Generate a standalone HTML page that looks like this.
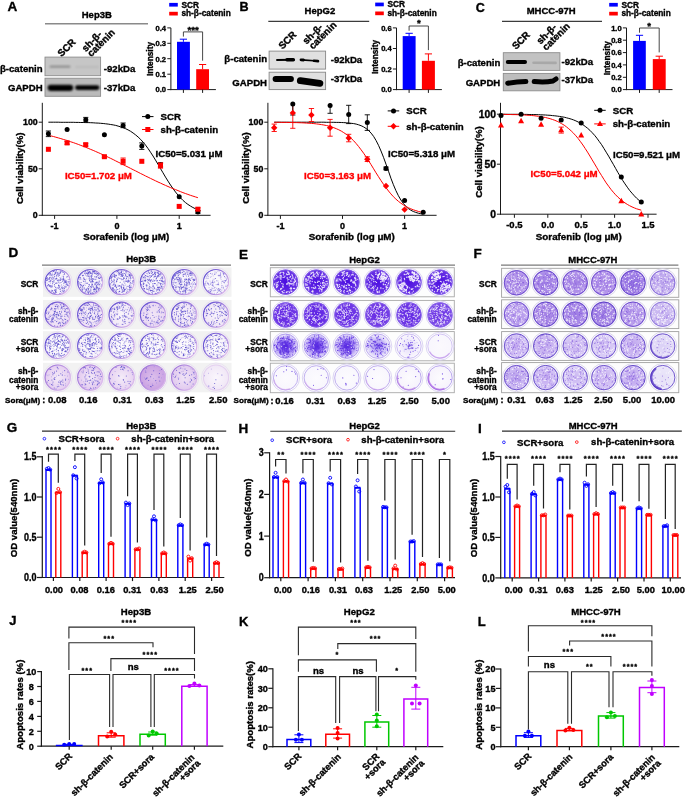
<!DOCTYPE html><html><head><meta charset="utf-8"><style>html,body{margin:0;padding:0;background:#fff;}svg{display:block;will-change:transform;}</style></head><body><svg width="685" height="797" viewBox="0 0 685 797" font-family="&quot;Liberation Sans&quot;, sans-serif" font-weight="bold">
<style>text{stroke:#000;stroke-width:0.35px;}</style>
<defs><filter id="bl" filterUnits="userSpaceOnUse" x="0" y="0" width="685" height="797"><feGaussianBlur stdDeviation="0.8"/></filter><linearGradient id="rgD" x1="0" x2="1" y1="0.2" y2="0.8"><stop offset="0" stop-color="#5a48d0"/><stop offset="0.5" stop-color="#9a78dc"/><stop offset="1" stop-color="#e4c0ee"/></linearGradient><linearGradient id="rgD4" x1="0" x2="1" y1="0.2" y2="0.8"><stop offset="0" stop-color="#9a70d8"/><stop offset="1" stop-color="#e0c0ee"/></linearGradient><linearGradient id="blotbg" x1="0" y1="0" x2="0" y2="1"><stop offset="0" stop-color="#d6d6d6"/><stop offset="1" stop-color="#e0e0e0"/></linearGradient></defs>
<rect x="0" y="0" width="685" height="797" fill="#fff"/>
<text x="7.4" y="10.9" font-size="13.5" stroke-width="0.15">A</text>
<text x="96.8" y="17.6" font-size="9.5" text-anchor="middle">Hep3B</text>
<line x1="45" y1="23.8" x2="148" y2="23.8" stroke="#8a8a8a" stroke-width="1.5"/>
<rect x="45" y="57.1" width="55.6" height="18.6" fill="#c6c6c6" stroke="#8c8c8c" stroke-width="0.9"/>
<path d="M50.5 66.7L69.5 66.7" stroke="#000" stroke-width="1.8" stroke-linecap="round" fill="none" opacity="0.35" filter="url(#bl)"/>
<path d="M76 67L98 67" stroke="#000" stroke-width="1.5" stroke-linecap="round" fill="none" opacity="0.08" filter="url(#bl)"/>
<rect x="45" y="78.2" width="55.6" height="18.1" fill="#bababa" stroke="#8c8c8c" stroke-width="0.9"/>
<path d="M50.7 87.8L70.1 87.8" stroke="#000" stroke-width="6.2" stroke-linecap="round" fill="none" opacity="1" filter="url(#bl)"/>
<path d="M77.5 87.6L97 87.6" stroke="#000" stroke-width="4.8" stroke-linecap="round" fill="none" opacity="1" filter="url(#bl)"/>
<text x="42.6" y="71.5" font-size="9.6" text-anchor="end">β-catenin</text>
<text x="42.6" y="90.7" font-size="9.6" text-anchor="end">GAPDH</text>
<text x="103.8" y="71.8" font-size="9.6">-92kDa</text>
<text x="103.8" y="90.7" font-size="9.6">-37kDa</text>
<text x="61.6" y="57.3" font-size="9.8" transform="rotate(-45 61.6 57.3)">SCR</text>
<text x="85.7" y="52.2" font-size="9.8" transform="rotate(-45 85.7 52.2)">sh-β-</text>
<text x="91.3" y="57.3" font-size="9.8" transform="rotate(-45 91.3 57.3)">catenin</text>
<rect x="169.2" y="2.9" width="8.6" height="3.7" fill="#0000ff"/>
<text x="181.4" y="7.5" font-size="8.3">SCR</text>
<rect x="169.2" y="11.8" width="8.6" height="3.7" fill="#ff0000"/>
<text x="181.4" y="16.4" font-size="8.3">sh-β-catenin</text>
<line x1="170.9" y1="27.9" x2="170.9" y2="90.1" stroke="#1a1a1a" stroke-width="1"/>
<line x1="170.4" y1="89.6" x2="215.9" y2="89.6" stroke="#1a1a1a" stroke-width="1"/>
<line x1="167.3" y1="89.6" x2="170.9" y2="89.6" stroke="#1a1a1a" stroke-width="1"/>
<text x="166.1" y="92.4" font-size="7.6" text-anchor="end">0.0</text>
<line x1="167.3" y1="74.2" x2="170.9" y2="74.2" stroke="#1a1a1a" stroke-width="1"/>
<text x="166.1" y="77" font-size="7.6" text-anchor="end">0.1</text>
<line x1="167.3" y1="58.7" x2="170.9" y2="58.7" stroke="#1a1a1a" stroke-width="1"/>
<text x="166.1" y="61.5" font-size="7.6" text-anchor="end">0.2</text>
<line x1="167.3" y1="43.3" x2="170.9" y2="43.3" stroke="#1a1a1a" stroke-width="1"/>
<text x="166.1" y="46.1" font-size="7.6" text-anchor="end">0.3</text>
<line x1="167.3" y1="27.9" x2="170.9" y2="27.9" stroke="#1a1a1a" stroke-width="1"/>
<text x="166.1" y="30.7" font-size="7.6" text-anchor="end">0.4</text>
<text x="152.5" y="59" font-size="8.3" text-anchor="middle" transform="rotate(-90 152.5 59)">Intensity</text>
<rect x="177" y="41.8" width="12.9" height="47.8" fill="#0000ff"/>
<line x1="183.4" y1="39.2" x2="183.4" y2="41.8" stroke="#0000ff" stroke-width="1"/>
<line x1="179.8" y1="39.2" x2="187" y2="39.2" stroke="#0000ff" stroke-width="1"/>
<line x1="183.4" y1="89.6" x2="183.4" y2="92.9" stroke="#1a1a1a" stroke-width="1"/>
<rect x="196.2" y="69.2" width="12.8" height="20.4" fill="#ff0000"/>
<line x1="202.6" y1="64.5" x2="202.6" y2="69.2" stroke="#ff0000" stroke-width="1"/>
<line x1="199" y1="64.5" x2="206.2" y2="64.5" stroke="#ff0000" stroke-width="1"/>
<line x1="202.6" y1="89.6" x2="202.6" y2="92.9" stroke="#1a1a1a" stroke-width="1"/>
<path d="M183.4 36.6 L183.4 31.9 L202.6 31.9 L202.6 60.7" stroke="#333" stroke-width="0.9" fill="none"/>
<text x="193.2" y="32.9" font-size="9.7" text-anchor="middle">***</text>
<text x="239.6" y="11.4" font-size="12.6" stroke-width="0.15">B</text>
<text x="319.9" y="13.8" font-size="9.5" text-anchor="middle">HepG2</text>
<line x1="268.3" y1="21.4" x2="369.2" y2="21.4" stroke="#3c3c3c" stroke-width="1.1"/>
<rect x="269.1" y="51.1" width="56.5" height="18" fill="#e0e0e0" stroke="#888" stroke-width="0.9"/>
<path d="M277 60L293.5 59.7" stroke="#000" stroke-width="1.9" stroke-linecap="round" fill="none" opacity="1"/>
<path d="M287 59.8L293.3 59.7" stroke="#000" stroke-width="3.6" stroke-linecap="round" fill="none" opacity="1"/>
<path d="M301 59.9L318 61" stroke="#000" stroke-width="1.6" stroke-linecap="round" fill="none" opacity="1"/>
<path d="M301 59.9L303.5 60" stroke="#000" stroke-width="2.8" stroke-linecap="round" fill="none" opacity="1"/>
<path d="M314 60.8L318 61.1" stroke="#000" stroke-width="2.6" stroke-linecap="round" fill="none" opacity="1"/>
<rect x="269.1" y="72.2" width="56.5" height="17.4" fill="#e0e0e0" stroke="#888" stroke-width="0.9"/>
<path d="M275.6 78.9L290.9 78.9" stroke="#000" stroke-width="6" stroke-linecap="round" fill="none" opacity="1"/>
<path d="M300.3 80.7L319.9 83.3" stroke="#000" stroke-width="6.8" stroke-linecap="round" fill="none" opacity="1"/>
<text x="267" y="62" font-size="9.6" text-anchor="end">β-catenin</text>
<text x="267" y="85.5" font-size="9.6" text-anchor="end">GAPDH</text>
<text x="330.7" y="63.2" font-size="9.6">-92kDa</text>
<text x="330.7" y="81.9" font-size="9.6">-37kDa</text>
<text x="282.4" y="49.8" font-size="9.8" transform="rotate(-45 282.4 49.8)">SCR</text>
<text x="306.5" y="44.8" font-size="9.8" transform="rotate(-45 306.5 44.8)">sh-β-</text>
<text x="312.9" y="49.8" font-size="9.8" transform="rotate(-45 312.9 49.8)">catenin</text>
<rect x="375.2" y="2.6" width="8.6" height="3.7" fill="#0000ff"/>
<text x="387.4" y="7.2" font-size="8.3">SCR</text>
<rect x="375.2" y="11.5" width="8.6" height="3.7" fill="#ff0000"/>
<text x="387.4" y="16.1" font-size="8.3">sh-β-catenin</text>
<line x1="396.5" y1="27.9" x2="396.5" y2="90.1" stroke="#1a1a1a" stroke-width="1"/>
<line x1="396" y1="89.6" x2="441.9" y2="89.6" stroke="#1a1a1a" stroke-width="1"/>
<line x1="392.9" y1="89.6" x2="396.5" y2="89.6" stroke="#1a1a1a" stroke-width="1"/>
<text x="391.7" y="92.4" font-size="7.6" text-anchor="end">0.0</text>
<line x1="392.9" y1="69" x2="396.5" y2="69" stroke="#1a1a1a" stroke-width="1"/>
<text x="391.7" y="71.8" font-size="7.6" text-anchor="end">0.2</text>
<line x1="392.9" y1="48.5" x2="396.5" y2="48.5" stroke="#1a1a1a" stroke-width="1"/>
<text x="391.7" y="51.3" font-size="7.6" text-anchor="end">0.4</text>
<line x1="392.9" y1="27.9" x2="396.5" y2="27.9" stroke="#1a1a1a" stroke-width="1"/>
<text x="391.7" y="30.7" font-size="7.6" text-anchor="end">0.6</text>
<text x="377.8" y="57" font-size="8.3" text-anchor="middle" transform="rotate(-90 377.8 57)">Intensity</text>
<rect x="402.7" y="36.1" width="12.9" height="53.5" fill="#0000ff"/>
<line x1="409.1" y1="33.3" x2="409.1" y2="36.1" stroke="#0000ff" stroke-width="1"/>
<line x1="405.5" y1="33.3" x2="412.8" y2="33.3" stroke="#0000ff" stroke-width="1"/>
<line x1="409.1" y1="89.6" x2="409.1" y2="92.9" stroke="#1a1a1a" stroke-width="1"/>
<rect x="421.9" y="60.8" width="13" height="28.8" fill="#ff0000"/>
<line x1="428.4" y1="53.9" x2="428.4" y2="60.8" stroke="#ff0000" stroke-width="1"/>
<line x1="424.8" y1="53.9" x2="432" y2="53.9" stroke="#ff0000" stroke-width="1"/>
<line x1="428.4" y1="89.6" x2="428.4" y2="92.9" stroke="#1a1a1a" stroke-width="1"/>
<path d="M409.1 30.7 L409.1 26 L428.4 26 L428.4 50.1" stroke="#333" stroke-width="0.9" fill="none"/>
<text x="418.8" y="25.9" font-size="9.7" text-anchor="middle">*</text>
<text x="475.8" y="11.5" font-size="12.6" stroke-width="0.15">C</text>
<text x="551.2" y="14.3" font-size="9.5" text-anchor="middle">MHCC-97H</text>
<line x1="502" y1="21.4" x2="602" y2="21.4" stroke="#3c3c3c" stroke-width="1.1"/>
<rect x="503.3" y="52.7" width="56.6" height="17.7" fill="#c2c2c2" stroke="#8c8c8c" stroke-width="0.9"/>
<path d="M507.7 62L525.1 62" stroke="#000" stroke-width="3.8" stroke-linecap="round" fill="none" opacity="1"/>
<path d="M533.5 62.7L555.6 62.9" stroke="#000" stroke-width="2.6" stroke-linecap="round" fill="none" opacity="0.13"/>
<rect x="503.3" y="73.4" width="56.6" height="17.4" fill="#bdbdbd" stroke="#8c8c8c" stroke-width="0.9"/>
<path d="M507.7 83.2Q517 81.8 525.9 81.6" stroke="#000" stroke-width="5" stroke-linecap="round" fill="none" opacity="1"/>
<path d="M534.2 81.6Q545 82.8 553 81L556 79" stroke="#000" stroke-width="5" stroke-linecap="round" fill="none" opacity="1"/>
<text x="500.3" y="65.8" font-size="9.6" text-anchor="end">β-catenin</text>
<text x="500.3" y="85.5" font-size="9.6" text-anchor="end">GAPDH</text>
<text x="561.6" y="64.5" font-size="9.6">-92kDa</text>
<text x="561.6" y="83.3" font-size="9.6">-37kDa</text>
<text x="516" y="50" font-size="9.8" transform="rotate(-45 516 50)">SCR</text>
<text x="540.4" y="44.8" font-size="9.8" transform="rotate(-45 540.4 44.8)">sh-β-</text>
<text x="546.3" y="51" font-size="9.8" transform="rotate(-45 546.3 51)">catenin</text>
<rect x="609.2" y="2.9" width="8.6" height="3.7" fill="#0000ff"/>
<text x="621.4" y="7.5" font-size="8.3">SCR</text>
<rect x="609.2" y="11.8" width="8.6" height="3.7" fill="#ff0000"/>
<text x="621.4" y="16.4" font-size="8.3">sh-β-catenin</text>
<line x1="626.5" y1="27.9" x2="626.5" y2="90.1" stroke="#1a1a1a" stroke-width="1"/>
<line x1="626" y1="89.6" x2="672.5" y2="89.6" stroke="#1a1a1a" stroke-width="1"/>
<line x1="622.9" y1="89.6" x2="626.5" y2="89.6" stroke="#1a1a1a" stroke-width="1"/>
<text x="621.7" y="92.4" font-size="7.6" text-anchor="end">0.0</text>
<line x1="622.9" y1="77.3" x2="626.5" y2="77.3" stroke="#1a1a1a" stroke-width="1"/>
<text x="621.7" y="80.1" font-size="7.6" text-anchor="end">0.2</text>
<line x1="622.9" y1="64.9" x2="626.5" y2="64.9" stroke="#1a1a1a" stroke-width="1"/>
<text x="621.7" y="67.7" font-size="7.6" text-anchor="end">0.4</text>
<line x1="622.9" y1="52.6" x2="626.5" y2="52.6" stroke="#1a1a1a" stroke-width="1"/>
<text x="621.7" y="55.4" font-size="7.6" text-anchor="end">0.6</text>
<line x1="622.9" y1="40.2" x2="626.5" y2="40.2" stroke="#1a1a1a" stroke-width="1"/>
<text x="621.7" y="43" font-size="7.6" text-anchor="end">0.8</text>
<line x1="622.9" y1="27.9" x2="626.5" y2="27.9" stroke="#1a1a1a" stroke-width="1"/>
<text x="621.7" y="30.7" font-size="7.6" text-anchor="end">1.0</text>
<text x="609.8" y="58.2" font-size="8.3" text-anchor="middle" transform="rotate(-90 609.8 58.2)">Intensity</text>
<rect x="633.1" y="40.9" width="12.7" height="48.7" fill="#0000ff"/>
<line x1="639.5" y1="35.3" x2="639.5" y2="40.9" stroke="#0000ff" stroke-width="1"/>
<line x1="635.9" y1="35.3" x2="643.1" y2="35.3" stroke="#0000ff" stroke-width="1"/>
<line x1="639.5" y1="89.6" x2="639.5" y2="92.9" stroke="#1a1a1a" stroke-width="1"/>
<rect x="652.8" y="59.1" width="12.9" height="30.5" fill="#ff0000"/>
<line x1="659.2" y1="56.2" x2="659.2" y2="59.1" stroke="#ff0000" stroke-width="1"/>
<line x1="655.6" y1="56.2" x2="662.9" y2="56.2" stroke="#ff0000" stroke-width="1"/>
<line x1="659.2" y1="89.6" x2="659.2" y2="92.9" stroke="#1a1a1a" stroke-width="1"/>
<path d="M639.5 32.7 L639.5 28 L659.2 28 L659.2 52.4" stroke="#333" stroke-width="0.9" fill="none"/>
<text x="649.2" y="28.5" font-size="9.7" text-anchor="middle">*</text>
<line x1="42.3" y1="102.8" x2="42.3" y2="215.8" stroke="#1a1a1a" stroke-width="1"/>
<line x1="41.8" y1="215.3" x2="210.6" y2="215.3" stroke="#1a1a1a" stroke-width="1"/>
<line x1="38.7" y1="215.3" x2="42.3" y2="215.3" stroke="#1a1a1a" stroke-width="1"/>
<text x="37.7" y="218.4" font-size="8.8" text-anchor="end">0</text>
<line x1="38.7" y1="168.8" x2="42.3" y2="168.8" stroke="#1a1a1a" stroke-width="1"/>
<text x="37.7" y="171.8" font-size="8.8" text-anchor="end">50</text>
<line x1="38.7" y1="122.2" x2="42.3" y2="122.2" stroke="#1a1a1a" stroke-width="1"/>
<text x="37.7" y="125.3" font-size="8.8" text-anchor="end">100</text>
<line x1="54.6" y1="215.3" x2="54.6" y2="218.9" stroke="#1a1a1a" stroke-width="1"/>
<text x="54.6" y="228.8" font-size="9" text-anchor="middle">-1</text>
<line x1="116.9" y1="215.3" x2="116.9" y2="218.9" stroke="#1a1a1a" stroke-width="1"/>
<text x="116.9" y="228.8" font-size="9" text-anchor="middle">0</text>
<line x1="179.2" y1="215.3" x2="179.2" y2="218.9" stroke="#1a1a1a" stroke-width="1"/>
<text x="179.2" y="228.8" font-size="9" text-anchor="middle">1</text>
<text x="126.2" y="240.1" font-size="9.8" text-anchor="middle">Sorafenib (log μM)</text>
<text x="22.7" y="168.3" font-size="9.7" text-anchor="middle" transform="rotate(-90 22.7 168.3)">Cell viability(%)</text>
<path d="M48.4 122.2 L50.9 122.2 L53.4 122.2 L55.8 122.2 L58.3 122.2 L60.8 122.3 L63.3 122.3 L65.8 122.3 L68.3 122.3 L70.8 122.3 L73.3 122.3 L75.8 122.4 L78.3 122.4 L80.8 122.5 L83.3 122.5 L85.8 122.6 L88.2 122.6 L90.7 122.7 L93.2 122.8 L95.7 123 L98.2 123.1 L100.7 123.3 L103.2 123.5 L105.7 123.8 L108.2 124.1 L110.7 124.5 L113.2 124.9 L115.7 125.4 L118.1 126.1 L120.6 126.8 L123.1 127.7 L125.6 128.7 L128.1 129.9 L130.6 131.3 L133.1 133 L135.6 134.9 L138.1 137 L140.6 139.4 L143.1 142.2 L145.6 145.2 L148.1 148.6 L150.5 152.2 L153 156 L155.5 160.1 L158 164.3 L160.5 168.6 L163 172.8 L165.5 177.1 L168 181.1 L170.5 185 L173 188.6 L175.5 192 L178 195.1 L180.4 197.8 L182.9 200.3 L185.4 202.5 L187.9 204.4 L190.4 206 L192.9 207.5 L195.4 208.7 L197.9 209.7" stroke="#000" stroke-width="1" fill="none"/>
<path d="M48.4 135.2 L50.9 135.9 L53.4 136.5 L55.8 137.2 L58.3 137.9 L60.8 138.6 L63.3 139.4 L65.8 140.1 L68.3 140.9 L70.8 141.8 L73.3 142.6 L75.8 143.5 L78.3 144.4 L80.8 145.4 L83.3 146.3 L85.8 147.3 L88.2 148.3 L90.7 149.4 L93.2 150.4 L95.7 151.5 L98.2 152.6 L100.7 153.7 L103.2 154.9 L105.7 156 L108.2 157.2 L110.7 158.4 L113.2 159.6 L115.7 160.9 L118.1 162.1 L120.6 163.3 L123.1 164.6 L125.6 165.9 L128.1 167.1 L130.6 168.4 L133.1 169.7 L135.6 170.9 L138.1 172.2 L140.6 173.5 L143.1 174.7 L145.6 176 L148.1 177.2 L150.5 178.4 L153 179.6 L155.5 180.8 L158 182 L160.5 183.1 L163 184.3 L165.5 185.4 L168 186.5 L170.5 187.6 L173 188.6 L175.5 189.6 L178 190.6 L180.4 191.6 L182.9 192.6 L185.4 193.5 L187.9 194.4 L190.4 195.3 L192.9 196.1 L195.4 196.9 L197.9 197.7" stroke="#ff0000" stroke-width="1" fill="none"/>
<line x1="67.1" y1="141.5" x2="67.1" y2="144.3" stroke="#ff0000" stroke-width="0.9"/>
<line x1="64.5" y1="141.5" x2="69.7" y2="141.5" stroke="#ff0000" stroke-width="0.9"/>
<line x1="64.5" y1="144.3" x2="69.7" y2="144.3" stroke="#ff0000" stroke-width="0.9"/>
<line x1="85.8" y1="143.3" x2="85.8" y2="146.1" stroke="#ff0000" stroke-width="0.9"/>
<line x1="83.2" y1="143.3" x2="88.3" y2="143.3" stroke="#ff0000" stroke-width="0.9"/>
<line x1="83.2" y1="146.1" x2="88.3" y2="146.1" stroke="#ff0000" stroke-width="0.9"/>
<line x1="104.4" y1="155.8" x2="104.4" y2="157.7" stroke="#ff0000" stroke-width="0.9"/>
<line x1="101.8" y1="155.8" x2="107" y2="155.8" stroke="#ff0000" stroke-width="0.9"/>
<line x1="101.8" y1="157.7" x2="107" y2="157.7" stroke="#ff0000" stroke-width="0.9"/>
<line x1="123.1" y1="158" x2="123.1" y2="164.6" stroke="#ff0000" stroke-width="0.9"/>
<line x1="120.5" y1="158" x2="125.7" y2="158" stroke="#ff0000" stroke-width="0.9"/>
<line x1="120.5" y1="164.6" x2="125.7" y2="164.6" stroke="#ff0000" stroke-width="0.9"/>
<line x1="160.5" y1="162.6" x2="160.5" y2="168.2" stroke="#ff0000" stroke-width="0.9"/>
<line x1="157.9" y1="162.6" x2="163.1" y2="162.6" stroke="#ff0000" stroke-width="0.9"/>
<line x1="157.9" y1="168.2" x2="163.1" y2="168.2" stroke="#ff0000" stroke-width="0.9"/>
<line x1="197.9" y1="207.8" x2="197.9" y2="210.6" stroke="#ff0000" stroke-width="0.9"/>
<line x1="195.3" y1="207.8" x2="200.5" y2="207.8" stroke="#ff0000" stroke-width="0.9"/>
<line x1="195.3" y1="210.6" x2="200.5" y2="210.6" stroke="#ff0000" stroke-width="0.9"/>
<line x1="48.4" y1="131" x2="48.4" y2="136.6" stroke="#000" stroke-width="0.9"/>
<line x1="45.8" y1="131" x2="51" y2="131" stroke="#000" stroke-width="0.9"/>
<line x1="45.8" y1="136.6" x2="51" y2="136.6" stroke="#000" stroke-width="0.9"/>
<line x1="85.8" y1="117.4" x2="85.8" y2="122" stroke="#000" stroke-width="0.9"/>
<line x1="83.2" y1="117.4" x2="88.3" y2="117.4" stroke="#000" stroke-width="0.9"/>
<line x1="83.2" y1="122" x2="88.3" y2="122" stroke="#000" stroke-width="0.9"/>
<line x1="123.1" y1="123" x2="123.1" y2="127.7" stroke="#000" stroke-width="0.9"/>
<line x1="120.5" y1="123" x2="125.7" y2="123" stroke="#000" stroke-width="0.9"/>
<line x1="120.5" y1="127.7" x2="125.7" y2="127.7" stroke="#000" stroke-width="0.9"/>
<line x1="141.8" y1="142.9" x2="141.8" y2="149.4" stroke="#000" stroke-width="0.9"/>
<line x1="139.2" y1="142.9" x2="144.4" y2="142.9" stroke="#000" stroke-width="0.9"/>
<line x1="139.2" y1="149.4" x2="144.4" y2="149.4" stroke="#000" stroke-width="0.9"/>
<line x1="160.5" y1="163.2" x2="160.5" y2="166.9" stroke="#000" stroke-width="0.9"/>
<line x1="157.9" y1="163.2" x2="163.1" y2="163.2" stroke="#000" stroke-width="0.9"/>
<line x1="157.9" y1="166.9" x2="163.1" y2="166.9" stroke="#000" stroke-width="0.9"/>
<line x1="197.9" y1="210.6" x2="197.9" y2="213.3" stroke="#000" stroke-width="0.9"/>
<line x1="195.3" y1="210.6" x2="200.5" y2="210.6" stroke="#000" stroke-width="0.9"/>
<line x1="195.3" y1="213.3" x2="200.5" y2="213.3" stroke="#000" stroke-width="0.9"/>
<circle cx="48.4" cy="133.8" r="2.5" fill="#000"/>
<circle cx="67.1" cy="129.5" r="2.5" fill="#000"/>
<circle cx="85.8" cy="119.7" r="2.5" fill="#000"/>
<circle cx="104.4" cy="134.8" r="2.5" fill="#000"/>
<circle cx="123.1" cy="125.4" r="2.5" fill="#000"/>
<circle cx="141.8" cy="146.1" r="2.5" fill="#000"/>
<circle cx="160.5" cy="165" r="2.5" fill="#000"/>
<circle cx="179.2" cy="196.7" r="2.5" fill="#000"/>
<circle cx="197.9" cy="211.9" r="2.5" fill="#000"/>
<rect x="45.9" y="146.8" width="5" height="5" fill="#ff0000"/>
<rect x="64.6" y="140.4" width="5" height="5" fill="#ff0000"/>
<rect x="83.2" y="142.2" width="5" height="5" fill="#ff0000"/>
<rect x="101.9" y="154.2" width="5" height="5" fill="#ff0000"/>
<rect x="120.6" y="158.8" width="5" height="5" fill="#ff0000"/>
<rect x="139.3" y="158.8" width="5" height="5" fill="#ff0000"/>
<rect x="158" y="162.9" width="5" height="5" fill="#ff0000"/>
<rect x="176.7" y="203.9" width="5" height="5" fill="#ff0000"/>
<rect x="195.4" y="206.7" width="5" height="5" fill="#ff0000"/>
<line x1="142" y1="116.6" x2="153.5" y2="116.6" stroke="#000" stroke-width="1"/>
<circle cx="147.8" cy="116.6" r="2.5" fill="#000"/>
<text x="160.5" y="120" font-size="9.7">SCR</text>
<line x1="142" y1="129.5" x2="153.5" y2="129.5" stroke="#ff0000" stroke-width="1"/>
<rect x="145.3" y="127" width="5" height="5" fill="#ff0000"/>
<text x="160.5" y="132.9" font-size="9.7">sh-β-catenin</text>
<text x="155.5" y="156.8" font-size="9.7">IC50=5.031 μM</text>
<text x="64.9" y="178.6" font-size="9.7" fill="#ff0000" style="stroke:#ff0000">IC50=1.702 μM</text>
<line x1="267.9" y1="102.8" x2="267.9" y2="215.8" stroke="#1a1a1a" stroke-width="1"/>
<line x1="267.4" y1="215.3" x2="436.6" y2="215.3" stroke="#1a1a1a" stroke-width="1"/>
<line x1="264.3" y1="215.3" x2="267.9" y2="215.3" stroke="#1a1a1a" stroke-width="1"/>
<text x="263.3" y="218.4" font-size="8.8" text-anchor="end">0</text>
<line x1="264.3" y1="168.8" x2="267.9" y2="168.8" stroke="#1a1a1a" stroke-width="1"/>
<text x="263.3" y="171.8" font-size="8.8" text-anchor="end">50</text>
<line x1="264.3" y1="122.2" x2="267.9" y2="122.2" stroke="#1a1a1a" stroke-width="1"/>
<text x="263.3" y="125.3" font-size="8.8" text-anchor="end">100</text>
<line x1="280.4" y1="215.3" x2="280.4" y2="218.9" stroke="#1a1a1a" stroke-width="1"/>
<text x="280.4" y="228.8" font-size="9" text-anchor="middle">-1</text>
<line x1="342.5" y1="215.3" x2="342.5" y2="218.9" stroke="#1a1a1a" stroke-width="1"/>
<text x="342.5" y="228.8" font-size="9" text-anchor="middle">0</text>
<line x1="404.6" y1="215.3" x2="404.6" y2="218.9" stroke="#1a1a1a" stroke-width="1"/>
<text x="404.6" y="228.8" font-size="9" text-anchor="middle">1</text>
<text x="351.8" y="240.1" font-size="9.8" text-anchor="middle">Sorafenib (log μM)</text>
<text x="248.5" y="168" font-size="9.7" text-anchor="middle" transform="rotate(-90 248.5 168)">Cell viability(%)</text>
<path d="M274.2 122.2 L276.7 122.2 L279.2 122.2 L281.6 122.2 L284.1 122.2 L286.6 122.2 L289.1 122.2 L291.6 122.2 L294.1 122.2 L296.5 122.2 L299 122.2 L301.5 122.2 L304 122.2 L306.5 122.2 L309 122.2 L311.4 122.2 L313.9 122.2 L316.4 122.2 L318.9 122.2 L321.4 122.2 L323.9 122.2 L326.4 122.3 L328.8 122.3 L331.3 122.3 L333.8 122.3 L336.3 122.4 L338.8 122.4 L341.3 122.5 L343.7 122.6 L346.2 122.8 L348.7 123 L351.2 123.3 L353.7 123.6 L356.2 124.1 L358.6 124.8 L361.1 125.7 L363.6 126.9 L366.1 128.5 L368.6 130.5 L371.1 133.1 L373.6 136.4 L376 140.4 L378.5 145.3 L381 151 L383.5 157.3 L386 164.2 L388.5 171.2 L390.9 178.2 L393.4 184.7 L395.9 190.6 L398.4 195.7 L400.9 200 L403.4 203.5 L405.8 206.3 L408.3 208.5 L410.8 210.2 L413.3 211.5 L415.8 212.4 L418.3 213.2 L420.7 213.7 L423.2 214.1" stroke="#000" stroke-width="1" fill="none"/>
<path d="M274.2 122.3 L276.7 122.3 L279.2 122.3 L281.6 122.4 L284.1 122.4 L286.6 122.4 L289.1 122.5 L291.6 122.5 L294.1 122.6 L296.5 122.6 L299 122.7 L301.5 122.8 L304 122.9 L306.5 123.1 L309 123.2 L311.4 123.4 L313.9 123.6 L316.4 123.9 L318.9 124.2 L321.4 124.6 L323.9 125 L326.4 125.5 L328.8 126.1 L331.3 126.9 L333.8 127.7 L336.3 128.7 L338.8 129.8 L341.3 131.1 L343.7 132.6 L346.2 134.3 L348.7 136.2 L351.2 138.4 L353.7 140.8 L356.2 143.6 L358.6 146.5 L361.1 149.8 L363.6 153.2 L366.1 156.9 L368.6 160.8 L371.1 164.7 L373.6 168.8 L376 172.8 L378.5 176.7 L381 180.6 L383.5 184.3 L386 187.7 L388.5 191 L390.9 193.9 L393.4 196.7 L395.9 199.1 L398.4 201.3 L400.9 203.2 L403.4 204.9 L405.8 206.4 L408.3 207.7 L410.8 208.8 L413.3 209.8 L415.8 210.6 L418.3 211.4 L420.7 212 L423.2 212.5" stroke="#ff0000" stroke-width="1" fill="none"/>
<line x1="274.2" y1="124.1" x2="274.2" y2="131.5" stroke="#ff0000" stroke-width="0.9"/>
<line x1="271.6" y1="124.1" x2="276.8" y2="124.1" stroke="#ff0000" stroke-width="0.9"/>
<line x1="271.6" y1="131.5" x2="276.8" y2="131.5" stroke="#ff0000" stroke-width="0.9"/>
<line x1="292.8" y1="103.3" x2="292.8" y2="128.3" stroke="#ff0000" stroke-width="0.9"/>
<line x1="290.2" y1="128.3" x2="295.4" y2="128.3" stroke="#ff0000" stroke-width="0.9"/>
<line x1="311.4" y1="108.5" x2="311.4" y2="121.5" stroke="#ff0000" stroke-width="0.9"/>
<line x1="308.8" y1="108.5" x2="314.1" y2="108.5" stroke="#ff0000" stroke-width="0.9"/>
<line x1="308.8" y1="121.5" x2="314.1" y2="121.5" stroke="#ff0000" stroke-width="0.9"/>
<line x1="330.1" y1="119.4" x2="330.1" y2="136.2" stroke="#ff0000" stroke-width="0.9"/>
<line x1="327.5" y1="119.4" x2="332.7" y2="119.4" stroke="#ff0000" stroke-width="0.9"/>
<line x1="327.5" y1="136.2" x2="332.7" y2="136.2" stroke="#ff0000" stroke-width="0.9"/>
<line x1="348.7" y1="134.3" x2="348.7" y2="141.8" stroke="#ff0000" stroke-width="0.9"/>
<line x1="346.1" y1="134.3" x2="351.3" y2="134.3" stroke="#ff0000" stroke-width="0.9"/>
<line x1="346.1" y1="141.8" x2="351.3" y2="141.8" stroke="#ff0000" stroke-width="0.9"/>
<line x1="367.3" y1="156.8" x2="367.3" y2="161.5" stroke="#ff0000" stroke-width="0.9"/>
<line x1="364.7" y1="156.8" x2="369.9" y2="156.8" stroke="#ff0000" stroke-width="0.9"/>
<line x1="364.7" y1="161.5" x2="369.9" y2="161.5" stroke="#ff0000" stroke-width="0.9"/>
<line x1="292.8" y1="103.3" x2="292.8" y2="115" stroke="#000" stroke-width="0.9"/>
<line x1="290.2" y1="115" x2="295.4" y2="115" stroke="#000" stroke-width="0.9"/>
<line x1="330.1" y1="103.3" x2="330.1" y2="113.3" stroke="#000" stroke-width="0.9"/>
<line x1="327.5" y1="113.3" x2="332.7" y2="113.3" stroke="#000" stroke-width="0.9"/>
<line x1="348.7" y1="105.3" x2="348.7" y2="123.6" stroke="#000" stroke-width="0.9"/>
<line x1="346.1" y1="105.3" x2="351.3" y2="105.3" stroke="#000" stroke-width="0.9"/>
<line x1="346.1" y1="123.6" x2="351.3" y2="123.6" stroke="#000" stroke-width="0.9"/>
<line x1="367.3" y1="114.8" x2="367.3" y2="130.4" stroke="#000" stroke-width="0.9"/>
<line x1="364.7" y1="114.8" x2="369.9" y2="114.8" stroke="#000" stroke-width="0.9"/>
<line x1="364.7" y1="130.4" x2="369.9" y2="130.4" stroke="#000" stroke-width="0.9"/>
<line x1="386" y1="167" x2="386" y2="169.8" stroke="#000" stroke-width="0.9"/>
<line x1="383.4" y1="167" x2="388.6" y2="167" stroke="#000" stroke-width="0.9"/>
<line x1="383.4" y1="169.8" x2="388.6" y2="169.8" stroke="#000" stroke-width="0.9"/>
<circle cx="292.8" cy="104.1" r="2.5" fill="#000"/>
<circle cx="330.1" cy="105.6" r="2.5" fill="#000"/>
<circle cx="348.7" cy="114.5" r="2.5" fill="#000"/>
<circle cx="367.3" cy="122.6" r="2.5" fill="#000"/>
<circle cx="386" cy="168.4" r="2.5" fill="#000"/>
<circle cx="404.6" cy="200.6" r="2.5" fill="#000"/>
<circle cx="423.2" cy="212.3" r="2.5" fill="#000"/>
<path d="M274.2 124.6L277.4 127.8L274.2 131L271 127.8Z" fill="#ff0000"/>
<path d="M292.8 109.7L296 112.9L292.8 116.1L289.6 112.9Z" fill="#ff0000"/>
<path d="M311.4 111.8L314.6 115L311.4 118.2L308.2 115Z" fill="#ff0000"/>
<path d="M330.1 124.6L333.3 127.8L330.1 131L326.9 127.8Z" fill="#ff0000"/>
<path d="M348.7 134.8L351.9 138L348.7 141.2L345.5 138Z" fill="#ff0000"/>
<path d="M367.3 156L370.5 159.2L367.3 162.4L364.1 159.2Z" fill="#ff0000"/>
<path d="M386 182.8L389.2 186L386 189.2L382.8 186Z" fill="#ff0000"/>
<path d="M404.6 206.4L407.8 209.6L404.6 212.8L401.4 209.6Z" fill="#ff0000"/>
<line x1="387.7" y1="110.9" x2="399.2" y2="110.9" stroke="#000" stroke-width="1"/>
<circle cx="393.5" cy="110.9" r="2.5" fill="#000"/>
<text x="406.2" y="114.3" font-size="9.7">SCR</text>
<line x1="387.7" y1="126.3" x2="399.2" y2="126.3" stroke="#ff0000" stroke-width="1"/>
<path d="M393.5 123.1L396.7 126.3L393.5 129.5L390.3 126.3Z" fill="#ff0000"/>
<text x="406.2" y="129.7" font-size="9.7">sh-β-catenin</text>
<text x="388" y="156.8" font-size="9.7">IC50=5.318 μM</text>
<text x="304" y="178.6" font-size="9.7" fill="#ff0000" style="stroke:#ff0000">IC50=3.163 μM</text>
<line x1="500.5" y1="102.8" x2="500.5" y2="214.7" stroke="#1a1a1a" stroke-width="1"/>
<line x1="500" y1="214.2" x2="656.6" y2="214.2" stroke="#1a1a1a" stroke-width="1"/>
<line x1="496.9" y1="214.2" x2="500.5" y2="214.2" stroke="#1a1a1a" stroke-width="1"/>
<text x="495.9" y="217.8" font-size="10.3" text-anchor="end">0</text>
<line x1="496.9" y1="164.2" x2="500.5" y2="164.2" stroke="#1a1a1a" stroke-width="1"/>
<text x="495.9" y="167.8" font-size="10.3" text-anchor="end">50</text>
<line x1="496.9" y1="114.2" x2="500.5" y2="114.2" stroke="#1a1a1a" stroke-width="1"/>
<text x="495.9" y="117.8" font-size="10.3" text-anchor="end">100</text>
<line x1="514.4" y1="214.2" x2="514.4" y2="217.8" stroke="#1a1a1a" stroke-width="1"/>
<text x="514.4" y="227.8" font-size="9.5" text-anchor="middle">-0.5</text>
<line x1="547.8" y1="214.2" x2="547.8" y2="217.8" stroke="#1a1a1a" stroke-width="1"/>
<text x="547.8" y="227.8" font-size="9.5" text-anchor="middle">0.0</text>
<line x1="581.2" y1="214.2" x2="581.2" y2="217.8" stroke="#1a1a1a" stroke-width="1"/>
<text x="581.2" y="227.8" font-size="9.5" text-anchor="middle">0.5</text>
<line x1="614.6" y1="214.2" x2="614.6" y2="217.8" stroke="#1a1a1a" stroke-width="1"/>
<text x="614.6" y="227.8" font-size="9.5" text-anchor="middle">1.0</text>
<line x1="648" y1="214.2" x2="648" y2="217.8" stroke="#1a1a1a" stroke-width="1"/>
<text x="648" y="227.8" font-size="9.5" text-anchor="middle">1.5</text>
<text x="578.8" y="240.1" font-size="9.8" text-anchor="middle">Sorafenib (log μM)</text>
<text x="482.3" y="162" font-size="9.7" text-anchor="middle" transform="rotate(-90 482.3 162)">Cell viability(%)</text>
<path d="M501 114.2 L503.4 114.2 L505.7 114.3 L508.1 114.3 L510.4 114.3 L512.7 114.3 L515.1 114.3 L517.4 114.3 L519.7 114.3 L522.1 114.4 L524.4 114.4 L526.8 114.4 L529.1 114.5 L531.4 114.5 L533.8 114.6 L536.1 114.6 L538.4 114.7 L540.8 114.8 L543.1 114.9 L545.5 115 L547.8 115.2 L550.1 115.3 L552.5 115.6 L554.8 115.8 L557.2 116.1 L559.5 116.4 L561.8 116.8 L564.2 117.2 L566.5 117.8 L568.8 118.4 L571.2 119.1 L573.5 119.9 L575.9 120.9 L578.2 122 L580.5 123.2 L582.9 124.7 L585.2 126.4 L587.5 128.2 L589.9 130.3 L592.2 132.7 L594.6 135.3 L596.9 138.2 L599.2 141.4 L601.6 144.7 L603.9 148.4 L606.2 152.2 L608.6 156.1 L610.9 160.2 L613.3 164.3 L615.6 168.4 L617.9 172.5 L620.3 176.5 L622.6 180.3 L625 183.9 L627.3 187.2 L629.6 190.4 L632 193.2 L634.3 195.8 L636.6 198.2 L639 200.3 L641.3 202.1" stroke="#000" stroke-width="1" fill="none"/>
<path d="M501 114.4 L503.4 114.4 L505.7 114.4 L508.1 114.5 L510.4 114.5 L512.7 114.6 L515.1 114.6 L517.4 114.7 L519.7 114.8 L522.1 114.9 L524.4 115 L526.8 115.2 L529.1 115.3 L531.4 115.5 L533.8 115.7 L536.1 116 L538.4 116.3 L540.8 116.7 L543.1 117.1 L545.5 117.5 L547.8 118.1 L550.1 118.7 L552.5 119.5 L554.8 120.3 L557.2 121.3 L559.5 122.5 L561.8 123.8 L564.2 125.2 L566.5 126.9 L568.8 128.8 L571.2 130.9 L573.5 133.2 L575.9 135.8 L578.2 138.6 L580.5 141.7 L582.9 145 L585.2 148.5 L587.5 152.1 L589.9 156 L592.2 159.9 L594.6 163.9 L596.9 167.8 L599.2 171.8 L601.6 175.6 L603.9 179.3 L606.2 182.9 L608.6 186.2 L610.9 189.3 L613.3 192.2 L615.6 194.8 L617.9 197.1 L620.3 199.3 L622.6 201.2 L625 202.9 L627.3 204.4 L629.6 205.7 L632 206.9 L634.3 207.9 L636.6 208.8 L639 209.5 L641.3 210.2" stroke="#ff0000" stroke-width="1" fill="none"/>
<line x1="561.2" y1="127.1" x2="561.2" y2="133.1" stroke="#ff0000" stroke-width="0.9"/>
<line x1="558.6" y1="127.1" x2="563.8" y2="127.1" stroke="#ff0000" stroke-width="0.9"/>
<line x1="558.6" y1="133.1" x2="563.8" y2="133.1" stroke="#ff0000" stroke-width="0.9"/>
<circle cx="501" cy="115.4" r="2.5" fill="#000"/>
<circle cx="521.1" cy="114.2" r="2.5" fill="#000"/>
<circle cx="541.1" cy="118.2" r="2.5" fill="#000"/>
<circle cx="561.2" cy="120.1" r="2.5" fill="#000"/>
<circle cx="581.2" cy="122.9" r="2.5" fill="#000"/>
<circle cx="621.3" cy="177.1" r="2.5" fill="#000"/>
<circle cx="641.3" cy="202.1" r="2.5" fill="#000"/>
<path d="M501 122.1L504 127.6L498 127.6Z" fill="#ff0000"/>
<path d="M521.1 117.8L524.1 123.3L518.1 123.3Z" fill="#ff0000"/>
<path d="M541.1 121.2L544.1 126.7L538.1 126.7Z" fill="#ff0000"/>
<path d="M561.2 126.8L564.2 132.3L558.2 132.3Z" fill="#ff0000"/>
<path d="M581.2 131.9L584.2 137.4L578.2 137.4Z" fill="#ff0000"/>
<path d="M621.3 197.7L624.3 203.2L618.3 203.2Z" fill="#ff0000"/>
<path d="M641.3 210.9L644.3 216.4L638.3 216.4Z" fill="#ff0000"/>
<line x1="594.2" y1="110.3" x2="605.7" y2="110.3" stroke="#000" stroke-width="1"/>
<circle cx="600" cy="110.3" r="2.5" fill="#000"/>
<text x="612.7" y="113.7" font-size="9.7">SCR</text>
<line x1="594.2" y1="123.9" x2="605.7" y2="123.9" stroke="#ff0000" stroke-width="1"/>
<path d="M600 120.6L603 126.1L597 126.1Z" fill="#ff0000"/>
<text x="612.7" y="127.3" font-size="9.7">sh-β-catenin</text>
<text x="613" y="157.9" font-size="9.7">IC50=9.521 μM</text>
<text x="530.6" y="177.1" font-size="9.7" fill="#ff0000" style="stroke:#ff0000">IC50=5.042 μM</text>
<text x="8.5" y="257.4" font-size="13.5" stroke-width="0.15">D</text>
<text x="141.2" y="262.3" font-size="9.5" text-anchor="middle">Hep3B</text>
<line x1="42" y1="265.1" x2="231" y2="265.1" stroke="#7a7a7a" stroke-width="1.4"/>
<rect x="43" y="267.4" width="188.5" height="29.4" fill="#f2f2f2"/>
<circle cx="57.7" cy="282.1" r="14.6" fill="none" stroke="#e8dff0" stroke-width="0.9"/>
<circle cx="57.7" cy="282.1" r="13.2" fill="url(#g0)"/>
<path d="M62.7 288.6h0M59.0 271.9h0M56.8 274.1h0M60.5 273.6h0M64.9 286.1h0M69.0 285.6h0M64.4 279.8h0M53.8 292.1h0M59.2 287.0h0M60.4 288.8h0M49.3 273.6h0M60.6 293.7h0M46.8 278.1h0M59.7 277.7h0M55.1 278.6h0M65.4 282.4h0M59.1 273.0h0M61.6 292.6h0M62.8 279.0h0M48.5 285.2h0M61.2 279.6h0M46.4 278.1h0M49.7 275.6h0M59.1 273.5h0M55.4 291.2h0M50.7 280.8h0M62.2 276.3h0M47.1 283.2h0M62.2 271.5h0M54.1 277.1h0M64.4 272.6h0M55.4 271.7h0M49.2 281.4h0M53.6 279.8h0M52.6 272.0h0M63.1 291.2h0M56.5 278.0h0M66.6 285.0h0M59.0 288.8h0M50.6 275.3h0M57.6 272.9h0M57.0 283.3h0M61.7 285.6h0M47.5 280.5h0M59.6 289.5h0M64.8 279.1h0M55.5 272.8h0M53.2 275.0h0M47.9 279.2h0M63.5 291.3h0M59.5 280.2h0M59.6 287.9h0M61.5 284.6h0M55.0 278.8h0M68.5 286.9h0M50.4 287.3h0M50.6 283.3h0M52.5 283.6h0M52.3 279.2h0M61.1 286.5h0M47.7 288.2h0M47.8 275.1h0M52.6 285.7h0M56.4 276.9h0M65.3 282.0h0M56.8 288.4h0M53.7 293.2h0M66.8 281.7h0M57.8 283.3h0M63.5 285.3h0M51.7 274.6h0M64.4 273.3h0M51.7 290.1h0M47.9 285.7h0M62.5 293.1h0M67.2 283.5h0M51.1 290.8h0M64.8 291.1h0M68.2 282.3h0M55.2 273.8h0M61.1 288.8h0M52.4 284.0h0M63.6 291.6h0M51.7 280.2h0M50.9 275.2h0M63.8 289.1h0M54.2 280.0h0M54.1 292.9h0M52.6 279.4h0M51.2 287.2h0M54.8 271.2h0M59.9 283.5h0M56.1 282.7h0M59.9 285.4h0M65.9 287.2h0M65.3 287.3h0M62.2 281.1h0M58.2 272.8h0M63.4 292.5h0M57.1 274.6h0M60.7 279.6h0M63.3 272.4h0M66.4 289.9h0M60.2 270.7h0M55.6 292.4h0M59.0 275.0h0M59.1 282.4h0M48.7 281.7h0M64.6 289.0h0M65.7 284.8h0M52.2 281.7h0M68.8 285.5h0M63.3 274.6h0M66.4 283.7h0M68.1 279.6h0M56.8 279.9h0M52.5 279.3h0M59.0 282.0h0M59.7 293.4h0M62.6 286.7h0" stroke="#9484e0" stroke-width="0.9" stroke-linecap="round" opacity="0.7"/>
<path d="M53.7 292.8h0M53.8 271.0h0M59.0 285.5h0M51.8 291.0h0M49.1 274.1h0M56.9 278.7h0M55.5 287.2h0M56.6 292.0h0M47.7 285.8h0M69.3 283.3h0M63.2 291.1h0M59.1 280.0h0M46.1 278.9h0M66.3 282.5h0M51.0 285.5h0M59.5 287.0h0M57.1 287.8h0M54.5 293.2h0M63.6 280.1h0M63.9 283.2h0M60.9 278.1h0M55.7 278.9h0M54.7 286.1h0M52.2 277.1h0M59.0 273.4h0M56.2 283.1h0M59.0 280.1h0M45.6 282.2h0M59.5 275.1h0M63.3 279.5h0M49.6 277.6h0M56.5 275.7h0M52.1 286.3h0M66.8 277.0h0M52.0 291.2h0M53.2 278.0h0M53.9 282.1h0M58.5 285.4h0M66.1 286.8h0M63.1 272.3h0M60.0 293.8h0M52.5 290.8h0M50.8 277.3h0M53.4 271.4h0M54.8 273.9h0M64.5 274.0h0M49.2 290.7h0M55.7 283.5h0M69.2 279.4h0M47.4 279.8h0M56.4 278.5h0M60.4 272.8h0M65.9 280.3h0M55.8 292.6h0M46.9 278.4h0M67.4 284.8h0M62.1 279.3h0M64.9 286.7h0M52.2 274.1h0M50.7 280.8h0M54.7 270.3h0M50.0 281.8h0M62.7 281.1h0M47.4 277.8h0M60.4 271.9h0M54.3 274.7h0M58.2 282.0h0M50.4 285.9h0M56.4 275.7h0M60.3 289.8h0M51.9 275.4h0M63.6 276.2h0M60.4 291.5h0M56.2 283.3h0M54.4 284.5h0M50.3 273.2h0M56.4 270.2h0M64.6 290.8h0M58.2 276.1h0M52.7 282.9h0M54.5 290.3h0M51.9 287.0h0M55.3 272.4h0M64.6 288.2h0M58.1 279.9h0M57.7 280.4h0M50.9 285.4h0M61.0 282.5h0M54.7 276.6h0M52.8 281.5h0M48.9 274.3h0M57.8 274.7h0M64.7 280.2h0M56.3 289.9h0M65.3 281.4h0M55.4 290.8h0M50.7 274.1h0M55.2 272.4h0M50.8 286.3h0M66.2 281.1h0M58.2 274.8h0M65.3 282.6h0M50.1 281.0h0M58.9 286.8h0M67.5 285.2h0M46.8 280.2h0M64.6 274.1h0M60.9 271.0h0M67.2 276.4h0M63.4 277.7h0M69.2 281.8h0M62.0 271.7h0M57.5 272.9h0M46.0 280.8h0M55.5 291.6h0M63.5 279.6h0M61.5 287.8h0M49.6 285.2h0M58.3 288.1h0M62.8 288.8h0M62.3 287.7h0M62.2 290.7h0M53.4 278.1h0M64.2 282.1h0M63.3 278.4h0M49.0 278.6h0M51.4 278.7h0M60.1 272.8h0M49.8 278.9h0M56.1 289.7h0M56.7 271.9h0M68.1 281.8h0M64.7 281.7h0M55.7 294.1h0M49.4 286.3h0M60.6 278.9h0M63.8 287.8h0M58.6 285.0h0M55.6 273.3h0M48.3 284.8h0M55.1 289.3h0M52.7 290.5h0M48.7 284.5h0M48.9 279.3h0M68.0 285.1h0M60.4 280.4h0M57.3 272.9h0M57.6 280.6h0M66.5 284.1h0M54.0 280.8h0" stroke="#4a3cc8" stroke-width="1.05" stroke-linecap="round" opacity="0.85"/>
<circle cx="57.7" cy="282.1" r="12.6" fill="none" stroke="url(#rgD)" stroke-width="1.1" opacity="1"/>
<circle cx="90.2" cy="282.1" r="14.6" fill="none" stroke="#e8dff0" stroke-width="0.9"/>
<circle cx="90.2" cy="282.1" r="13.2" fill="url(#g1)"/>
<path d="M85.5 279.5h0M101.6 279.6h0M80.5 284.1h0M91.5 287.7h0M87.8 292.0h0M93.0 293.8h0M95.0 284.4h0M99.3 287.8h0M84.6 288.3h0M85.7 290.7h0M85.6 285.3h0M84.1 285.0h0M98.7 289.2h0M86.0 273.1h0M95.9 276.9h0M84.4 287.6h0M82.0 287.7h0M98.5 282.4h0M83.2 280.5h0M100.3 283.5h0M99.3 282.6h0M91.5 284.0h0M91.5 284.9h0M96.1 290.3h0M89.2 274.8h0M85.4 275.2h0M78.8 282.2h0M85.9 292.6h0M86.6 272.7h0M93.7 282.2h0M97.2 283.5h0M101.0 278.3h0M92.4 278.5h0M87.3 271.8h0M94.2 272.0h0M93.5 286.1h0M93.0 272.0h0M96.6 277.0h0M93.7 279.2h0M101.3 279.0h0M88.5 284.8h0M80.5 279.1h0M88.5 284.5h0M88.2 293.0h0M100.1 288.5h0M90.2 287.6h0M99.4 289.9h0M95.8 278.1h0M98.3 287.7h0M91.2 281.2h0M82.6 273.7h0M81.3 284.5h0M92.2 276.5h0M88.8 291.9h0M81.8 279.2h0M84.2 292.3h0M87.8 291.9h0M96.3 277.3h0M95.6 284.0h0M94.5 284.0h0M95.4 287.0h0M84.6 288.1h0M85.1 273.5h0M87.4 275.3h0M85.5 274.4h0M96.5 288.6h0M86.0 291.2h0M89.6 276.1h0M82.6 285.4h0M89.5 284.4h0M101.8 285.8h0M89.7 274.0h0M87.0 276.6h0M87.3 270.6h0M91.4 273.9h0M101.9 280.9h0M97.5 284.9h0M84.1 284.0h0M86.8 279.0h0M90.0 270.8h0M99.6 285.9h0M89.2 291.8h0M85.8 270.9h0M92.3 275.3h0M89.6 277.5h0M88.4 274.4h0M89.6 288.0h0M92.5 292.8h0M95.0 285.4h0M91.9 286.6h0M89.0 272.8h0M84.3 272.1h0M87.9 282.9h0M93.5 290.2h0M87.7 270.7h0M84.4 281.7h0M80.3 275.6h0M84.3 292.3h0M97.8 276.8h0M85.9 282.6h0M92.1 283.7h0M82.3 275.5h0M99.7 281.7h0M97.9 281.8h0M92.2 284.3h0M88.1 290.7h0M96.8 281.5h0M91.2 292.4h0M83.2 288.0h0M96.7 291.3h0M99.5 277.0h0M96.7 279.3h0M96.8 283.5h0M96.9 277.1h0M91.7 286.6h0M94.3 289.0h0M100.4 276.9h0M90.7 271.5h0M94.1 292.1h0M91.6 290.8h0M101.5 284.5h0M96.7 288.9h0M85.1 273.8h0M87.1 275.3h0M93.3 270.7h0M81.2 274.0h0M91.9 279.8h0M88.5 278.8h0M86.3 275.8h0M91.8 280.1h0" stroke="#9484e0" stroke-width="0.9" stroke-linecap="round" opacity="0.7"/>
<path d="M92.6 281.3h0M90.8 282.3h0M98.7 290.7h0M96.2 272.1h0M94.1 291.4h0M93.1 272.1h0M88.7 294.0h0M88.8 272.1h0M88.5 289.6h0M90.6 273.3h0M78.5 283.0h0M80.3 287.5h0M98.7 284.7h0M89.9 280.9h0M88.0 275.9h0M83.4 275.3h0M98.0 291.1h0M90.4 286.6h0M87.3 283.2h0M98.8 288.4h0M97.5 287.3h0M96.4 276.7h0M94.6 271.9h0M91.9 285.0h0M92.6 271.0h0M96.4 273.9h0M78.3 281.4h0M89.5 271.5h0M92.6 280.6h0M89.7 272.8h0M96.3 282.6h0M88.3 273.4h0M84.2 279.6h0M79.8 277.4h0M99.2 281.0h0M89.8 278.5h0M96.0 289.1h0M92.1 278.4h0M95.4 289.0h0M88.7 286.4h0M94.5 288.8h0M91.5 277.2h0M91.3 279.0h0M90.1 292.1h0M97.1 282.4h0M93.5 286.9h0M93.9 278.9h0M88.0 270.7h0M90.5 293.4h0M85.6 291.8h0M83.9 278.6h0M97.9 275.4h0M86.3 290.5h0M88.4 288.4h0M101.4 277.5h0M96.6 291.9h0M89.9 280.8h0M96.5 287.2h0M98.9 274.7h0M90.2 290.2h0M95.2 279.6h0M96.4 286.9h0M85.4 271.8h0M91.1 281.2h0M92.2 286.0h0M83.8 277.7h0M98.7 277.6h0M82.6 275.4h0M93.4 293.2h0M97.3 273.6h0M91.2 277.1h0M97.2 284.5h0M89.1 276.8h0M97.9 273.8h0M87.4 274.1h0M96.6 291.0h0M94.2 289.7h0M90.7 272.4h0M91.2 293.5h0M86.8 289.2h0M80.7 286.0h0M99.7 284.5h0M79.3 282.9h0M84.1 289.0h0M93.1 281.5h0M92.4 274.0h0M88.2 288.2h0M92.5 293.1h0M93.7 293.5h0M83.7 281.4h0M92.1 273.0h0M93.7 279.0h0M89.5 280.2h0M93.4 289.3h0M87.7 288.1h0M80.6 277.7h0M82.7 286.5h0M91.4 276.4h0M92.1 282.1h0M82.6 290.1h0M90.9 289.1h0M95.9 292.7h0M92.7 279.7h0M85.6 281.0h0M95.9 282.8h0M87.6 273.6h0M88.0 291.1h0M96.4 285.6h0M99.2 288.5h0M82.6 289.0h0M86.2 288.9h0M84.7 279.3h0M79.9 279.0h0M95.1 284.5h0M98.7 283.2h0M97.0 287.7h0M94.9 289.6h0M88.1 292.4h0M95.0 271.1h0M79.0 284.7h0M94.8 276.7h0M102.1 280.6h0M96.0 290.9h0M86.5 273.3h0M88.6 275.9h0M95.4 273.2h0M95.1 293.1h0M89.9 279.2h0M95.1 283.1h0M84.8 273.3h0M100.6 277.3h0M91.7 287.3h0M96.8 286.0h0M83.5 285.6h0M94.3 273.5h0M94.0 271.4h0M91.0 273.4h0M82.7 286.9h0M80.5 284.6h0M96.2 274.1h0M89.9 291.3h0M86.1 283.3h0M96.7 287.1h0M99.7 278.4h0M101.2 286.1h0M88.7 272.7h0M97.0 282.4h0M85.9 289.4h0M97.1 288.8h0M82.7 275.8h0M81.1 282.4h0M98.6 289.3h0M97.8 273.8h0M90.9 276.1h0M89.4 284.8h0M92.7 271.1h0M98.9 278.4h0M93.6 271.4h0M92.5 284.3h0M98.8 273.7h0M88.2 272.7h0M81.2 289.0h0M89.6 284.9h0M91.2 279.3h0M88.1 272.5h0M96.4 287.2h0M88.7 293.0h0M91.4 275.2h0M94.2 288.0h0M81.4 285.6h0" stroke="#4a3cc8" stroke-width="1.05" stroke-linecap="round" opacity="0.85"/>
<circle cx="90.2" cy="282.1" r="12.6" fill="none" stroke="url(#rgD)" stroke-width="1.1" opacity="1"/>
<circle cx="121.6" cy="282.1" r="14.6" fill="none" stroke="#e8dff0" stroke-width="0.9"/>
<circle cx="121.6" cy="282.1" r="13.2" fill="url(#g0)"/>
<path d="M127.3 289.8h0M126.6 291.1h0M115.7 277.4h0M114.8 275.9h0M130.2 284.5h0M115.2 276.1h0M129.2 274.9h0M117.4 286.2h0M129.2 290.0h0M118.1 273.3h0M113.5 285.2h0M123.2 290.8h0M127.5 289.7h0M114.8 274.8h0M121.7 285.8h0M116.6 290.9h0M111.1 281.4h0M114.6 285.3h0M125.8 279.4h0M124.1 291.1h0M116.2 276.2h0M114.0 279.2h0M116.0 272.1h0M126.0 273.4h0M109.9 284.3h0M112.5 285.2h0M128.4 274.7h0M113.5 288.8h0M112.2 275.2h0M115.2 275.9h0M130.3 280.7h0M112.1 289.1h0M126.4 280.4h0M131.8 287.1h0M127.2 277.0h0M121.3 292.2h0M126.8 280.0h0M112.2 285.3h0M123.0 289.8h0M126.9 288.7h0M122.0 285.5h0M118.0 285.1h0M125.1 285.3h0M115.6 285.5h0M120.5 274.3h0M121.8 287.4h0M118.5 292.2h0M124.1 290.0h0M125.5 271.7h0M110.7 284.7h0M118.0 277.6h0M125.8 284.9h0M123.5 274.7h0M127.9 271.9h0M128.9 278.0h0M128.0 282.4h0M123.5 291.7h0M118.1 270.9h0M118.3 270.6h0M116.2 275.7h0M124.9 276.6h0M123.5 271.9h0M123.6 279.9h0M126.1 293.1h0M126.7 288.5h0M114.8 277.0h0M130.3 273.9h0M119.2 285.9h0M128.7 277.9h0M121.6 286.6h0M130.9 282.6h0M119.8 291.0h0M129.1 278.2h0M124.6 281.2h0M122.1 271.5h0M123.7 281.6h0M112.5 281.7h0M114.8 277.3h0M119.9 293.6h0M129.0 275.0h0M130.4 279.8h0M130.5 287.0h0M130.0 288.6h0M118.3 277.6h0M123.4 284.7h0M127.0 292.9h0M123.2 293.5h0M126.3 287.4h0M114.4 283.4h0M127.4 280.8h0M116.1 282.7h0M129.4 288.5h0M117.1 289.3h0M120.3 278.7h0M131.1 285.5h0M123.3 282.0h0M110.0 285.7h0M127.6 271.6h0M109.8 279.9h0M129.5 285.0h0M126.0 275.9h0M114.0 285.1h0M113.6 289.6h0M127.4 281.1h0M116.8 291.9h0M121.2 271.1h0M116.8 271.5h0M127.1 274.1h0M120.9 285.6h0M128.8 273.4h0M126.5 278.1h0M120.7 270.4h0M122.1 283.9h0M124.2 287.2h0M116.9 272.1h0M125.8 272.9h0M133.5 280.5h0M110.7 286.5h0M120.4 276.2h0M117.3 279.5h0" stroke="#9484e0" stroke-width="0.9" stroke-linecap="round" opacity="0.7"/>
<path d="M112.7 288.6h0M130.5 282.7h0M115.6 284.7h0M129.7 285.6h0M119.7 285.4h0M113.4 287.9h0M131.1 287.3h0M128.8 286.3h0M114.0 290.5h0M129.8 275.6h0M119.7 288.8h0M125.5 274.3h0M114.7 274.3h0M124.3 289.2h0M128.3 280.1h0M124.4 278.2h0M130.2 282.9h0M119.7 291.3h0M121.9 279.7h0M114.1 282.1h0M130.9 275.9h0M129.5 275.1h0M116.1 290.0h0M114.5 280.1h0M119.2 291.6h0M126.4 278.5h0M118.6 285.9h0M116.6 287.8h0M129.8 287.5h0M115.5 291.2h0M122.1 292.5h0M126.6 281.5h0M113.4 290.9h0M115.9 286.1h0M127.9 291.2h0M116.3 292.3h0M116.8 280.3h0M133.2 281.6h0M121.5 272.6h0M121.9 270.2h0M123.6 287.8h0M122.2 274.2h0M132.7 281.1h0M116.8 281.4h0M114.4 276.0h0M112.2 276.9h0M110.2 283.7h0M117.6 279.3h0M123.8 277.6h0M131.3 275.5h0M123.4 287.3h0M119.2 274.2h0M114.1 289.6h0M119.3 285.9h0M110.8 278.5h0M125.4 281.1h0M121.4 275.2h0M129.1 280.7h0M127.2 286.3h0M116.5 281.6h0M122.5 275.2h0M121.3 276.2h0M111.7 282.6h0M123.4 288.4h0M125.7 275.6h0M116.0 289.9h0M117.5 271.5h0M111.3 277.6h0M130.8 274.8h0M130.5 277.2h0M119.1 274.9h0M130.8 289.4h0M115.5 285.7h0M111.5 278.9h0M123.6 278.5h0M124.1 270.5h0M133.3 280.5h0M111.3 277.1h0M112.1 276.0h0M129.1 281.6h0M129.1 289.5h0M132.3 277.7h0M113.7 284.0h0M129.6 290.0h0M121.0 286.3h0M131.0 289.1h0M112.2 287.6h0M129.3 285.7h0M121.3 271.4h0M124.7 290.0h0M126.1 271.3h0M129.4 287.3h0M129.0 276.0h0M123.1 275.6h0M120.2 282.2h0M124.3 273.4h0M126.6 292.8h0M122.1 284.3h0M121.1 278.7h0M119.2 278.3h0M132.0 283.6h0M114.1 275.6h0M119.0 272.1h0M125.2 289.2h0M112.1 275.9h0M116.4 275.3h0M126.3 271.9h0M121.6 287.3h0M133.0 282.5h0M123.8 291.1h0M111.8 280.5h0M130.8 278.4h0M125.4 289.2h0M124.6 289.0h0M121.0 272.3h0M113.8 273.9h0M127.7 282.0h0M118.7 272.7h0M133.6 284.2h0M113.5 288.0h0M122.6 290.0h0M130.5 290.2h0M124.8 283.0h0M120.2 272.9h0M116.4 292.7h0M119.0 274.3h0M118.8 270.6h0M126.7 276.8h0M122.5 276.4h0M112.4 290.1h0M120.9 274.4h0M113.8 279.9h0M119.3 273.6h0M114.0 284.4h0M129.6 274.6h0M122.0 289.8h0M130.0 276.0h0M113.8 276.4h0M124.4 290.9h0M121.4 274.0h0M114.9 286.4h0M117.0 278.8h0M123.0 279.3h0M122.9 273.4h0M121.6 288.2h0M121.0 287.0h0M128.0 281.8h0M130.1 287.1h0M128.1 281.1h0M122.7 291.4h0M117.8 289.4h0M110.7 276.7h0M116.3 287.2h0M119.2 273.2h0M127.3 276.5h0M115.9 275.5h0M114.8 276.9h0M123.8 285.8h0M111.9 289.5h0M113.0 281.6h0" stroke="#4a3cc8" stroke-width="1.05" stroke-linecap="round" opacity="0.85"/>
<circle cx="121.6" cy="282.1" r="12.6" fill="none" stroke="url(#rgD)" stroke-width="1.1" opacity="1"/>
<circle cx="152.9" cy="282.1" r="14.6" fill="none" stroke="#e8dff0" stroke-width="0.9"/>
<circle cx="152.9" cy="282.1" r="13.2" fill="url(#g2)"/>
<path d="M161.1 281.0h0M150.9 271.8h0M153.6 285.4h0M149.5 279.5h0M144.4 289.9h0M155.8 279.1h0M157.9 284.9h0M153.8 280.4h0M153.5 286.0h0M159.0 288.4h0M156.1 289.2h0M151.8 271.8h0M143.6 287.6h0M142.9 277.2h0M153.0 289.5h0M142.5 276.4h0M146.7 276.4h0M152.9 288.6h0M155.5 293.9h0M161.6 274.6h0M142.8 280.3h0M150.5 290.2h0M157.7 288.4h0M152.8 286.0h0M156.2 280.3h0M156.8 272.7h0M160.1 286.7h0M165.0 281.8h0M143.0 277.9h0M151.2 275.7h0M143.9 279.2h0M144.2 288.9h0M143.0 285.7h0M160.4 285.3h0M162.3 284.8h0M159.2 275.6h0M144.1 278.3h0M153.9 289.6h0M144.3 277.5h0M146.8 287.9h0M148.5 290.0h0M149.8 275.9h0M148.4 271.8h0M141.1 279.4h0M148.6 293.0h0M156.0 288.8h0M153.8 280.1h0M144.3 274.6h0M162.4 278.6h0M148.9 287.9h0M150.8 279.8h0M164.2 284.1h0M149.5 278.6h0M147.0 284.9h0M157.3 277.3h0M151.2 271.7h0M150.3 287.7h0M145.3 281.1h0M147.1 278.2h0M155.1 274.5h0M159.9 290.2h0M160.9 275.9h0M142.0 278.8h0M154.0 281.6h0M151.2 282.2h0M149.9 287.3h0M143.2 284.5h0M156.9 277.3h0M165.1 283.0h0M154.7 273.2h0M155.0 283.9h0M161.0 278.5h0M159.8 273.8h0M153.0 271.2h0M152.8 288.2h0M143.1 286.4h0M155.8 271.9h0M145.5 278.1h0M156.3 291.5h0M147.9 274.9h0M151.1 270.2h0M156.6 280.7h0M150.7 291.4h0M150.5 276.1h0M160.4 278.6h0M153.2 279.3h0M152.6 283.9h0M155.1 273.6h0M162.0 279.3h0M149.6 288.6h0M149.1 285.9h0M160.6 288.3h0M149.7 289.7h0M151.3 275.9h0M146.5 284.7h0M148.4 291.0h0M159.2 286.6h0M160.6 288.5h0M149.3 293.5h0M143.0 283.2h0M142.0 280.5h0M149.9 272.8h0M157.4 283.0h0M152.9 274.3h0M162.5 280.6h0M157.6 272.7h0M162.5 279.8h0M160.3 279.1h0M152.5 286.1h0M152.7 293.6h0" stroke="#9484e0" stroke-width="0.9" stroke-linecap="round" opacity="0.7"/>
<path d="M151.5 280.0h0M161.1 283.5h0M145.9 280.1h0M159.1 282.9h0M160.3 274.8h0M155.5 276.3h0M150.2 277.4h0M149.1 293.4h0M154.4 288.5h0M155.2 293.2h0M149.3 273.4h0M157.8 275.4h0M162.2 276.7h0M151.1 287.7h0M145.0 280.2h0M155.3 272.6h0M152.5 272.6h0M152.0 292.6h0M162.6 281.0h0M151.5 276.4h0M158.9 287.6h0M144.2 276.3h0M144.0 283.6h0M155.2 283.5h0M157.9 286.9h0M153.1 286.7h0M149.2 288.1h0M158.2 271.6h0M163.4 281.7h0M158.8 282.5h0M163.1 282.0h0M156.3 277.9h0M153.1 285.9h0M145.6 281.0h0M148.4 282.9h0M160.4 283.3h0M161.7 277.7h0M150.1 280.8h0M146.1 285.1h0M147.6 276.4h0M154.9 276.0h0M152.8 281.3h0M159.5 290.8h0M157.0 276.7h0M156.7 293.4h0M149.8 280.1h0M162.1 281.5h0M150.2 290.4h0M146.6 288.9h0M146.5 286.0h0M152.1 275.4h0M158.0 272.9h0M157.4 280.4h0M159.5 274.2h0M157.7 292.7h0M147.8 282.0h0M156.0 293.9h0M154.8 276.5h0M154.8 280.6h0M149.7 272.9h0M160.8 273.6h0M151.6 271.0h0M141.4 284.8h0M143.5 286.5h0M152.9 274.3h0M157.3 272.7h0M157.9 290.0h0M143.5 282.9h0M162.9 284.0h0M144.5 288.4h0M153.0 283.8h0M143.4 284.2h0M154.5 273.3h0M156.5 278.7h0M158.4 287.5h0M147.0 273.2h0M161.6 285.9h0M147.7 289.3h0M156.9 284.9h0M148.3 276.7h0M161.5 280.8h0M149.8 286.4h0M144.3 280.7h0M152.4 294.1h0M142.2 281.5h0M148.4 271.9h0M162.4 289.3h0M148.9 279.2h0M150.5 280.5h0M149.5 283.9h0M160.7 284.6h0M158.5 273.1h0M162.8 277.9h0M145.9 275.7h0M157.1 281.0h0M144.0 281.0h0M164.3 283.1h0M149.9 275.7h0M155.2 274.0h0M151.6 273.2h0M158.4 275.4h0M161.9 287.8h0M154.0 291.3h0M162.4 277.9h0M163.0 286.8h0M161.0 280.4h0M152.7 290.4h0M150.3 281.6h0M158.5 274.1h0M144.0 288.6h0M158.2 292.3h0M158.2 275.6h0M159.1 287.4h0M160.0 287.7h0M158.4 289.0h0M147.1 285.8h0M145.2 277.7h0M158.9 276.6h0M143.6 277.4h0M157.5 289.8h0M156.5 289.9h0M141.3 281.5h0M159.4 280.5h0M157.4 276.2h0M152.9 291.5h0M149.1 293.3h0M154.7 280.8h0M164.3 281.0h0M159.3 289.6h0M148.4 280.4h0M152.6 280.9h0M148.0 289.3h0M155.4 274.7h0M150.9 290.2h0M145.4 280.2h0M162.1 288.5h0M154.3 287.2h0M155.3 293.8h0M161.4 286.6h0M147.7 279.6h0M154.0 277.1h0M154.4 283.4h0M151.4 279.7h0M145.5 275.6h0M162.5 289.3h0M157.5 287.4h0M154.9 276.1h0M154.7 272.1h0M153.3 274.6h0M151.6 290.4h0" stroke="#4a3cc8" stroke-width="1.05" stroke-linecap="round" opacity="0.85"/>
<circle cx="152.9" cy="282.1" r="12.6" fill="none" stroke="url(#rgD)" stroke-width="1.1" opacity="1"/>
<circle cx="184.2" cy="282.1" r="14.6" fill="none" stroke="#e8dff0" stroke-width="0.9"/>
<circle cx="184.2" cy="282.1" r="13.2" fill="url(#g1)"/>
<path d="M195.2 279.3h0M183.5 276.3h0M179.2 291.1h0M184.8 280.6h0M190.0 292.1h0M191.5 288.8h0M179.5 290.7h0M190.2 275.0h0M178.8 286.5h0M177.2 275.4h0M177.2 286.6h0M178.2 280.7h0M188.1 290.4h0M191.8 287.7h0M187.7 271.6h0M184.1 290.0h0M190.6 278.8h0M189.6 281.8h0M185.5 280.0h0M178.8 272.6h0M174.9 279.2h0M194.6 275.8h0M188.0 290.1h0M191.5 284.0h0M187.2 286.0h0M181.7 279.6h0M184.9 283.1h0M186.5 276.6h0M192.8 286.3h0M182.2 272.6h0M175.7 279.5h0M182.9 275.4h0M189.8 273.6h0M191.4 273.1h0M188.9 274.7h0M173.9 280.6h0M182.4 281.1h0M188.9 279.4h0M176.0 282.9h0M191.9 287.2h0M174.9 276.2h0M179.1 277.7h0M173.2 277.4h0M176.9 273.6h0M194.3 282.8h0M185.4 286.9h0M181.7 286.6h0M189.0 285.0h0M184.9 288.1h0M185.3 278.7h0M185.1 284.8h0M178.4 281.9h0M178.4 281.0h0M187.0 290.1h0M194.5 287.1h0M177.1 279.2h0M172.9 278.4h0M176.5 282.4h0M185.8 289.5h0M185.6 272.7h0M182.3 293.5h0M189.1 287.5h0M186.1 270.6h0M183.0 282.4h0M176.8 279.1h0M191.3 283.4h0M185.9 280.5h0M186.4 286.6h0M186.2 275.6h0M180.2 272.9h0M192.3 282.7h0M192.2 289.5h0M176.8 282.6h0M188.4 271.9h0M187.6 283.7h0M181.2 288.2h0M176.8 285.0h0M194.0 280.4h0M193.5 279.8h0M185.1 291.2h0M189.2 290.0h0M191.5 291.3h0M180.4 293.0h0M185.2 287.6h0M184.5 293.2h0M189.2 272.8h0M180.0 280.0h0M184.4 284.3h0M188.2 280.3h0M184.1 281.8h0M182.2 291.4h0M185.5 285.0h0M189.4 278.1h0M194.4 282.5h0M193.2 281.5h0M191.9 283.8h0M179.5 278.3h0M175.1 287.3h0M178.1 272.8h0M192.6 279.4h0M188.4 281.6h0M174.2 281.0h0M191.7 278.5h0M173.6 286.6h0M181.3 282.6h0M178.2 284.0h0M178.1 272.9h0M190.8 284.1h0M193.1 275.6h0M185.8 274.7h0M195.0 278.9h0M188.0 273.9h0M181.4 278.7h0M185.6 282.4h0M192.4 285.0h0M192.9 279.0h0M186.7 271.8h0M190.2 279.9h0M172.5 282.3h0M179.3 291.0h0" stroke="#9484e0" stroke-width="0.9" stroke-linecap="round" opacity="0.7"/>
<path d="M180.1 284.6h0M186.3 289.1h0M195.5 284.2h0M180.5 286.8h0M184.5 281.2h0M184.8 273.9h0M190.7 286.2h0M186.6 281.9h0M183.1 287.1h0M179.6 279.1h0M188.5 276.1h0M188.2 280.8h0M184.5 284.1h0M189.2 283.5h0M176.5 277.4h0M183.3 276.3h0M174.4 275.1h0M181.6 287.4h0M188.9 293.1h0M178.6 275.6h0M180.8 282.2h0M185.8 292.2h0M184.1 290.8h0M188.5 279.1h0M173.7 283.9h0M183.8 271.0h0M192.0 277.2h0M185.5 290.7h0M189.1 279.7h0M182.7 287.3h0M186.9 279.5h0M189.7 289.9h0M183.2 274.2h0M184.1 271.8h0M181.7 284.2h0M180.7 273.1h0M194.1 279.5h0M189.2 284.2h0M180.5 291.8h0M182.1 287.6h0M186.7 288.0h0M173.9 282.3h0M186.4 278.9h0M172.8 278.2h0M180.8 284.7h0M177.9 273.0h0M187.6 283.0h0M181.6 289.0h0M186.9 284.5h0M173.7 287.8h0M178.3 279.5h0M190.5 280.4h0M186.9 285.4h0M195.7 283.8h0M172.4 279.7h0M181.1 281.3h0M179.3 287.3h0M186.1 285.0h0M180.0 271.5h0M189.7 279.7h0M179.6 278.0h0M190.7 272.4h0M189.5 282.5h0M192.4 273.2h0M186.0 279.6h0M175.5 275.8h0M176.1 278.2h0M184.7 279.2h0M173.3 277.0h0M177.2 279.8h0M191.8 290.8h0M178.5 271.6h0M194.1 279.8h0M190.9 273.4h0M183.9 274.2h0M179.4 272.4h0M183.1 292.9h0M178.2 277.6h0M173.5 286.8h0M186.5 283.1h0M180.2 282.1h0M191.4 272.9h0M179.7 287.8h0M178.1 272.4h0M176.7 273.3h0M179.7 289.1h0M180.2 272.4h0M178.8 287.0h0M189.9 273.9h0M178.2 280.9h0M181.8 284.8h0M184.3 285.8h0M185.7 291.6h0M173.7 278.1h0M177.7 279.3h0M177.8 291.2h0M189.1 282.7h0M179.8 283.7h0M180.3 285.0h0M175.8 274.4h0M175.9 288.9h0M188.2 282.1h0M190.7 290.7h0M182.7 291.2h0M190.3 275.2h0M176.7 287.1h0M179.1 274.2h0M179.9 280.9h0M194.4 280.2h0M192.1 274.7h0M185.7 290.1h0M180.0 279.2h0M187.7 274.3h0M174.1 276.3h0M181.3 288.6h0M181.0 279.9h0M184.0 287.7h0M193.8 280.4h0M187.1 272.8h0M181.1 288.8h0M193.3 279.2h0M177.9 277.1h0M189.0 278.8h0M191.5 275.0h0M182.7 270.0h0M175.3 282.7h0M175.5 287.1h0M190.5 273.5h0M185.5 293.0h0M193.8 284.1h0M187.3 288.2h0M180.0 280.2h0M182.3 272.3h0M185.6 273.8h0M189.9 273.2h0M174.7 279.3h0M183.9 291.5h0M183.3 286.6h0M174.9 274.9h0M179.3 283.0h0M180.8 277.9h0M177.9 273.7h0M185.9 288.5h0M174.9 285.5h0M180.1 270.9h0M174.7 275.1h0M185.6 288.1h0M194.8 280.1h0M181.8 284.0h0M184.0 289.9h0" stroke="#4a3cc8" stroke-width="1.05" stroke-linecap="round" opacity="0.85"/>
<circle cx="184.2" cy="282.1" r="12.6" fill="none" stroke="url(#rgD)" stroke-width="1.1" opacity="1"/>
<circle cx="216" cy="282.1" r="14.6" fill="none" stroke="#e8dff0" stroke-width="0.9"/>
<circle cx="216" cy="282.1" r="13.2" fill="url(#g3)"/>
<path d="M221.2 277.1h0M219.0 270.6h0M211.9 292.0h0M213.5 286.4h0M209.9 290.7h0M221.9 290.0h0M213.0 286.1h0M209.1 285.3h0M204.9 284.9h0M221.1 279.3h0M225.5 281.4h0M226.7 279.3h0M210.0 281.1h0M227.0 276.9h0M213.1 279.2h0M220.7 272.5h0M224.8 273.8h0M226.3 280.5h0M209.1 287.7h0M205.4 281.8h0M208.2 274.2h0M206.7 281.2h0M226.6 279.6h0M225.3 277.8h0M221.6 287.7h0M214.4 288.1h0M218.8 285.0h0M205.3 283.4h0M224.1 273.2h0M214.7 281.4h0M217.1 284.8h0M220.7 277.0h0M214.6 274.0h0M206.3 276.4h0M214.2 279.3h0M211.2 276.6h0M222.2 281.2h0M216.6 293.8h0M213.0 283.9h0M219.3 270.9h0M211.0 282.3h0M220.7 276.8h0M216.1 284.6h0M220.3 278.1h0M221.4 287.1h0M212.2 270.5h0M218.3 291.4h0M214.6 293.3h0M205.9 282.9h0M220.7 274.5h0M214.8 282.3h0M221.1 290.9h0M216.6 272.8h0M226.0 285.3h0M222.6 272.9h0M216.0 272.2h0M211.7 288.1h0M219.6 291.2h0M210.2 291.4h0M216.7 288.3h0M221.5 285.4h0M217.9 271.2h0M218.0 281.0h0M212.4 273.7h0M209.1 291.7h0M213.2 275.9h0M219.9 275.0h0M207.7 283.7h0M214.1 282.4h0M218.9 276.0h0M211.1 283.7h0M213.1 280.8h0M221.5 283.1h0M223.3 275.1h0M215.4 278.5h0M206.0 285.3h0M215.7 273.9h0M222.7 285.6h0M226.9 278.4h0M210.5 277.3h0M208.6 276.6h0M205.1 284.8h0M212.5 280.6h0M214.9 272.0h0M223.1 287.4h0M225.7 280.7h0M212.1 274.6h0M205.2 287.6h0M214.4 290.3h0M223.2 287.0h0" stroke="#9484e0" stroke-width="0.9" stroke-linecap="round" opacity="0.7"/>
<path d="M210.7 273.4h0M222.2 281.2h0M217.9 289.2h0M210.1 292.1h0M218.2 290.2h0M223.8 282.1h0M208.4 284.1h0M212.9 288.3h0M216.8 280.8h0M226.0 286.5h0M214.7 274.3h0M207.7 283.1h0M215.7 290.1h0M210.2 289.5h0M211.2 290.1h0M227.7 285.2h0M224.4 282.8h0M212.9 285.2h0M224.1 280.7h0M218.7 288.5h0M219.4 290.5h0M228.0 282.0h0M217.3 292.3h0M206.2 278.0h0M217.4 284.3h0M224.4 290.1h0M218.4 282.9h0M213.1 282.8h0M221.5 292.7h0M220.5 291.7h0M220.6 275.3h0M210.7 284.1h0M211.8 290.0h0M208.0 278.3h0M208.5 290.8h0M208.7 284.0h0M204.9 283.8h0M207.7 275.7h0M219.3 275.6h0M215.3 278.4h0M207.8 282.9h0M212.2 285.3h0M218.3 275.3h0M212.7 284.7h0M223.5 273.6h0M219.2 289.0h0M214.9 287.3h0M220.6 273.7h0M224.5 276.6h0M210.6 291.5h0M223.3 287.9h0M212.6 281.8h0M213.9 290.7h0M218.5 284.5h0M207.0 274.1h0M205.6 275.8h0M212.1 282.5h0M220.2 289.2h0M223.7 274.3h0M225.3 280.6h0" stroke="#6a5ad4" stroke-width="1.05" stroke-linecap="round" opacity="0.85"/>
<circle cx="216" cy="282.1" r="12.6" fill="none" stroke="url(#rgD)" stroke-width="1.1" opacity="1"/>
<rect x="43" y="300" width="188.5" height="29.4" fill="#f2f2f2"/>
<circle cx="57.7" cy="314.7" r="14.6" fill="none" stroke="#e8dff0" stroke-width="0.9"/>
<circle cx="57.7" cy="314.7" r="13.2" fill="url(#g4)"/>
<path d="M64.7 311.6h0M60.3 309.2h0M51.4 315.4h0M54.5 313.8h0M51.8 318.1h0M68.4 317.4h0M61.7 312.2h0M51.7 308.1h0M49.3 319.0h0M54.3 309.2h0M52.0 321.3h0M69.5 314.2h0M59.1 306.6h0M67.8 308.1h0M61.7 311.1h0M52.8 317.8h0M46.9 318.1h0M50.7 314.9h0M60.0 318.6h0M63.0 304.0h0M58.3 314.2h0M57.2 319.2h0M52.4 315.9h0M49.5 315.4h0M51.8 308.3h0M55.1 314.7h0M65.2 311.9h0M62.5 309.6h0M67.9 321.2h0M52.7 314.9h0M69.1 312.0h0M66.8 322.3h0M60.7 317.9h0M64.5 323.9h0M50.6 309.1h0M55.6 308.4h0M60.9 316.0h0M58.5 324.0h0M60.0 315.8h0M58.1 315.9h0M61.9 316.3h0M62.8 319.5h0M63.6 306.6h0M60.9 314.8h0M53.4 321.8h0M49.1 317.2h0M56.0 305.1h0M57.8 321.1h0M66.5 314.3h0M67.9 308.8h0M61.3 305.7h0M57.3 308.1h0M59.8 322.0h0M59.7 319.5h0M61.6 318.0h0M62.2 315.2h0M57.4 312.0h0M55.0 304.8h0M61.9 322.0h0M48.2 307.6h0M54.2 311.8h0M62.5 316.5h0M64.8 323.1h0M60.0 311.4h0M59.3 303.2h0M59.2 323.2h0M58.5 322.6h0M58.2 309.2h0M48.0 314.5h0M65.8 305.9h0M64.1 310.3h0M51.0 324.2h0M64.8 306.3h0M48.5 307.1h0M61.2 318.6h0M58.1 308.3h0M51.4 307.9h0M53.0 310.5h0M66.6 312.6h0M64.6 314.8h0" stroke="#9484e0" stroke-width="0.9" stroke-linecap="round" opacity="0.7"/>
<path d="M46.4 313.3h0M48.6 307.1h0M56.3 317.2h0M46.6 318.3h0M46.8 311.9h0M63.6 304.7h0M55.8 314.7h0M54.3 313.0h0M53.5 318.8h0M52.3 321.2h0M53.0 303.7h0M64.2 305.7h0M62.8 322.4h0M51.7 320.2h0M64.8 318.9h0M68.8 311.9h0M59.5 311.4h0M62.0 308.2h0M53.0 321.9h0M55.0 320.3h0M65.3 309.3h0M49.1 317.0h0M61.1 316.3h0M64.8 316.2h0M59.4 313.0h0M54.7 325.7h0M60.5 322.9h0M66.3 308.4h0M52.5 318.9h0M56.6 321.6h0M67.0 313.9h0M46.8 319.1h0M53.1 318.4h0M53.6 314.3h0M58.2 314.5h0M56.2 316.2h0M60.2 325.8h0M63.8 323.5h0M56.2 312.4h0M60.3 314.0h0M63.4 304.2h0M51.5 319.0h0M50.3 321.7h0M54.3 311.2h0M60.9 318.3h0M61.0 316.5h0M53.3 314.9h0M54.7 308.6h0M60.7 313.7h0M51.8 309.0h0M57.6 312.7h0M62.4 325.5h0M50.6 316.2h0M65.7 319.5h0M67.1 312.8h0M67.1 312.1h0M67.2 315.7h0M46.4 310.4h0M60.4 304.8h0M63.1 320.7h0M58.1 305.8h0M54.6 312.9h0M54.1 314.0h0M68.0 316.1h0M53.0 317.6h0M54.3 315.4h0M49.4 306.1h0M61.2 303.8h0M52.3 304.0h0M54.1 316.7h0M58.2 315.8h0M58.8 318.7h0M63.2 323.8h0M52.7 319.7h0M65.5 321.9h0M57.3 326.2h0M58.8 315.5h0M61.5 307.1h0M63.7 306.4h0M56.0 308.7h0M55.4 311.5h0M67.3 308.7h0M54.9 311.6h0M59.5 322.8h0M66.0 323.3h0M65.3 310.9h0M58.3 323.4h0M65.9 314.3h0M57.3 306.5h0M62.2 319.7h0M48.6 319.2h0M53.3 318.4h0M67.8 320.8h0M62.1 308.1h0M57.8 306.9h0M57.3 318.0h0M57.0 314.0h0M61.6 311.9h0M64.5 311.2h0M55.3 309.9h0M60.7 325.0h0M49.0 312.1h0M51.6 322.0h0M69.6 313.3h0M64.1 308.3h0M47.4 319.2h0M61.1 307.9h0M56.8 314.6h0M51.8 308.3h0M65.9 323.3h0M55.8 306.3h0M62.1 306.7h0M56.1 314.6h0M55.3 306.5h0M48.5 313.2h0M56.9 304.5h0M52.6 303.7h0M47.9 321.7h0M67.1 320.9h0M50.8 309.8h0" stroke="#4a3cc8" stroke-width="1.05" stroke-linecap="round" opacity="0.85"/>
<circle cx="57.7" cy="314.7" r="12.6" fill="none" stroke="url(#rgD)" stroke-width="1.1" opacity="1"/>
<circle cx="90.2" cy="314.7" r="14.6" fill="none" stroke="#e8dff0" stroke-width="0.9"/>
<circle cx="90.2" cy="314.7" r="13.2" fill="url(#g5)"/>
<path d="M92.8 309.7h0M98.2 311.7h0M82.5 320.5h0M92.8 319.4h0M85.0 317.5h0M86.4 307.8h0M85.4 319.0h0M92.1 324.9h0M96.1 310.6h0M92.5 308.3h0M90.6 308.8h0M83.1 311.4h0M97.5 307.0h0M93.2 317.1h0M84.7 316.1h0M91.1 326.6h0M91.7 314.1h0M99.8 316.0h0M101.1 311.0h0M86.5 304.9h0M81.7 315.6h0M92.7 311.6h0M85.9 305.3h0M96.2 323.6h0M96.1 325.2h0M90.9 306.5h0M79.8 308.6h0M86.5 318.8h0M85.9 303.9h0M96.1 323.6h0M82.5 321.2h0M78.4 316.4h0M79.5 309.2h0M94.5 313.7h0M100.0 310.7h0M96.0 322.0h0M89.8 317.3h0M97.1 317.3h0M92.5 312.4h0M80.4 308.9h0M83.5 322.5h0M81.3 308.8h0M78.2 316.1h0M85.7 318.0h0M94.7 319.0h0M98.9 322.7h0M97.7 323.0h0M91.3 306.4h0M95.4 316.4h0M97.4 311.6h0M91.0 310.5h0M97.2 316.8h0M86.9 319.2h0M84.3 307.5h0M83.8 312.2h0M84.8 318.1h0M83.0 312.2h0M83.2 305.0h0M86.0 323.1h0M99.4 321.0h0M81.0 312.8h0M86.4 313.1h0M91.1 313.8h0M93.2 322.7h0M99.2 310.0h0M96.0 310.6h0M81.2 311.7h0M90.6 318.4h0M88.3 317.7h0M95.3 314.9h0M96.3 307.4h0M90.2 305.5h0M78.8 316.0h0M86.7 319.9h0M89.4 317.9h0M96.5 315.4h0M86.6 310.7h0M83.7 315.7h0M90.3 308.7h0M80.2 317.9h0" stroke="#9484e0" stroke-width="0.9" stroke-linecap="round" opacity="0.7"/>
<path d="M88.0 303.4h0M98.5 315.5h0M94.4 325.4h0M90.3 325.6h0M79.6 313.6h0M93.5 303.9h0M96.1 309.7h0M84.8 304.3h0M92.6 307.0h0M95.3 305.2h0M82.6 317.5h0M79.3 319.2h0M91.7 326.5h0M94.2 319.4h0M89.4 304.5h0M87.9 321.0h0M80.5 310.4h0M83.9 320.2h0M80.1 319.4h0M98.2 309.2h0M90.1 322.6h0M81.8 319.5h0M86.4 323.4h0M81.3 313.3h0M97.9 313.1h0M90.2 315.7h0M100.3 315.3h0M98.0 308.5h0M90.8 316.8h0M87.2 315.7h0M98.9 319.1h0M95.0 321.7h0M95.0 307.7h0M83.7 320.5h0M94.7 312.1h0M88.8 309.0h0M88.5 313.2h0M95.5 316.4h0M88.8 308.9h0M89.2 308.0h0M97.0 305.4h0M90.1 309.2h0M97.8 317.9h0M90.0 316.5h0M88.6 303.7h0M96.9 305.2h0M82.4 310.7h0M97.7 314.3h0M90.8 308.2h0M99.1 311.2h0M101.5 314.5h0M83.8 308.8h0M93.0 319.4h0M98.7 319.1h0M90.6 316.3h0M81.9 309.2h0M95.4 317.7h0M98.0 308.2h0M91.6 308.7h0M99.7 317.6h0M81.8 310.6h0M99.2 318.2h0M94.8 307.6h0M85.3 314.2h0M86.1 318.6h0M101.0 319.9h0M89.4 318.9h0M85.5 312.1h0M92.4 309.6h0M86.7 320.3h0M100.8 317.5h0M82.3 309.2h0M94.3 313.6h0M92.3 308.3h0M99.2 306.7h0M81.0 321.1h0M87.1 317.1h0M81.8 319.4h0M81.8 314.0h0M97.8 320.7h0M87.9 305.4h0M91.7 324.9h0M91.8 307.9h0M87.5 322.2h0M79.9 308.7h0M90.3 313.4h0M88.3 323.9h0M99.1 310.5h0M93.0 310.3h0M89.9 321.5h0M98.4 321.0h0M83.3 307.3h0M87.1 305.0h0M98.8 316.6h0M84.6 313.1h0M90.7 325.9h0M91.6 315.5h0M98.4 306.6h0M83.9 318.9h0M93.7 305.7h0M83.4 317.6h0M84.2 309.0h0M89.5 326.9h0M83.2 312.9h0M88.8 309.5h0M91.3 323.1h0M97.9 316.3h0M99.3 319.9h0M80.5 309.1h0M92.8 318.4h0M82.3 309.5h0M89.1 317.4h0M78.1 315.5h0M90.3 310.8h0M85.0 305.4h0M89.5 318.4h0M90.4 312.8h0M88.1 313.9h0M94.8 309.8h0M81.2 310.6h0M81.6 309.4h0M92.3 317.3h0M89.8 312.3h0M96.5 321.0h0M90.6 310.8h0" stroke="#4a3cc8" stroke-width="1.05" stroke-linecap="round" opacity="0.85"/>
<circle cx="90.2" cy="314.7" r="12.6" fill="none" stroke="url(#rgD)" stroke-width="1.1" opacity="1"/>
<circle cx="121.6" cy="314.7" r="14.6" fill="none" stroke="#e8dff0" stroke-width="0.9"/>
<circle cx="121.6" cy="314.7" r="13.2" fill="url(#g6)"/>
<path d="M111.7 315.9h0M114.2 307.7h0M130.2 308.6h0M124.6 319.6h0M114.3 316.8h0M131.7 312.3h0M114.5 316.1h0M122.9 324.1h0M126.0 312.4h0M114.8 316.8h0M116.8 310.8h0M130.8 318.7h0M118.2 323.9h0M129.4 309.6h0M130.9 309.0h0M127.2 317.0h0M117.2 307.5h0M132.7 315.0h0M116.9 308.2h0M116.6 314.0h0M117.2 313.3h0M115.5 304.5h0M122.9 320.8h0M111.4 309.5h0M125.3 321.4h0M117.7 311.7h0M131.2 319.1h0M114.9 308.2h0M117.8 313.6h0M113.1 315.7h0M116.7 314.2h0M129.6 318.3h0M118.3 305.3h0M128.5 311.8h0M116.2 319.1h0M111.6 314.4h0M124.0 311.9h0M112.1 309.8h0M121.6 306.7h0M127.8 317.7h0M112.7 308.6h0M123.0 321.5h0M119.7 316.8h0M128.7 313.5h0M110.4 319.0h0M122.9 308.4h0M131.9 310.7h0M114.2 311.5h0M128.4 305.2h0M118.3 308.6h0M128.5 307.6h0M131.6 310.0h0M117.5 303.9h0M112.7 318.1h0M121.5 306.6h0M129.2 322.8h0M113.6 312.8h0M115.2 313.3h0M125.2 309.3h0M121.9 324.4h0" stroke="#9484e0" stroke-width="0.9" stroke-linecap="round" opacity="0.7"/>
<path d="M114.8 315.2h0M128.7 318.7h0M113.9 319.4h0M117.7 309.6h0M124.4 315.9h0M110.4 311.0h0M120.8 303.0h0M124.8 319.2h0M119.9 307.1h0M111.8 320.0h0M131.9 320.5h0M125.2 323.3h0M116.5 307.1h0M119.8 308.2h0M122.8 324.5h0M124.5 313.7h0M131.2 322.1h0M125.8 316.1h0M114.7 314.5h0M119.2 306.7h0M122.8 310.8h0M122.6 320.0h0M125.5 303.2h0M117.5 318.7h0M126.3 317.0h0M133.4 313.5h0M126.2 312.3h0M132.4 320.2h0M119.6 303.4h0M130.6 307.7h0M133.0 315.6h0M110.6 309.6h0M124.1 321.9h0M129.1 322.2h0M112.0 308.7h0M111.5 310.9h0M119.6 317.0h0M124.6 316.1h0M131.9 316.5h0M120.1 302.7h0M122.8 309.4h0M124.9 321.3h0M119.2 318.4h0M123.0 304.4h0M113.5 319.1h0M114.2 309.3h0M114.1 308.6h0M128.3 314.0h0M125.5 316.9h0M114.8 309.6h0M129.7 310.8h0M131.0 308.7h0M118.0 319.4h0M117.8 307.8h0M123.1 316.9h0M127.4 304.1h0M121.1 310.4h0M131.2 315.5h0M112.1 321.7h0M111.9 317.6h0M124.1 315.2h0M121.9 305.1h0M127.2 309.8h0M113.7 311.9h0M122.8 305.3h0M124.3 310.8h0M117.2 308.7h0M123.5 307.1h0M122.3 315.8h0M117.2 314.6h0M122.2 303.3h0M116.8 324.1h0M117.4 306.7h0M132.0 320.8h0M120.4 317.7h0M122.9 302.8h0M125.0 305.4h0M115.8 325.3h0M111.4 316.5h0M123.3 307.2h0" stroke="#4a3cc8" stroke-width="1.05" stroke-linecap="round" opacity="0.85"/>
<circle cx="121.6" cy="314.7" r="12.6" fill="none" stroke="url(#rgD)" stroke-width="1.1" opacity="1"/>
<circle cx="152.9" cy="314.7" r="14.6" fill="none" stroke="#e8dff0" stroke-width="0.9"/>
<circle cx="152.9" cy="314.7" r="13.2" fill="url(#g7)"/>
<path d="M164.1 316.9h0M152.6 313.1h0M147.2 312.9h0M161.2 307.1h0M149.9 323.6h0M146.4 314.9h0M145.9 317.8h0M141.2 317.1h0M152.6 312.3h0M145.7 324.3h0M153.5 305.2h0M146.8 306.7h0M156.9 321.4h0M152.0 320.0h0M152.0 312.6h0M157.3 324.0h0M158.2 310.6h0M159.6 305.8h0M159.5 324.3h0M157.0 322.0h0M156.2 316.6h0M147.1 305.1h0M158.2 319.2h0M145.7 308.7h0M159.4 322.5h0M162.2 321.9h0M147.9 306.1h0M158.1 312.0h0M155.8 323.9h0M162.2 307.4h0M155.5 305.6h0M146.0 323.1h0M145.4 306.1h0M153.2 306.2h0M149.6 310.3h0M150.7 325.1h0M152.3 312.7h0M155.1 322.3h0M146.4 311.6h0M144.5 323.1h0M146.8 320.0h0M159.4 312.1h0M148.0 313.8h0M159.4 305.7h0M153.7 324.3h0M153.5 325.8h0M146.4 314.9h0M161.2 313.2h0M141.9 310.0h0M150.8 322.6h0" stroke="#9484e0" stroke-width="0.9" stroke-linecap="round" opacity="0.7"/>
<path d="M159.0 310.7h0M158.8 307.2h0M161.8 312.0h0M159.4 309.2h0M154.1 321.8h0M143.4 315.3h0M145.8 316.6h0M152.0 323.4h0M149.3 305.7h0M158.9 316.1h0M149.1 307.1h0M150.5 323.7h0M161.3 317.0h0M159.6 311.9h0M158.6 323.1h0M147.4 310.4h0M152.9 315.4h0M161.8 321.0h0M143.2 320.5h0M163.2 312.6h0M150.4 317.9h0M157.1 312.0h0M157.9 320.8h0M152.0 321.1h0M154.2 317.2h0M164.5 316.7h0M159.4 319.3h0M147.1 307.6h0M161.2 306.1h0M146.6 309.8h0M148.2 309.2h0M156.7 322.3h0M146.9 314.4h0M145.8 316.8h0M163.5 320.3h0M143.9 312.9h0M158.7 318.1h0M163.9 317.9h0M147.6 307.9h0M150.2 307.1h0M140.8 313.2h0M160.6 321.1h0M148.3 317.5h0M157.4 322.8h0M162.4 320.2h0M147.0 318.0h0M145.7 317.8h0M146.6 317.0h0M147.8 318.2h0M153.0 305.4h0M148.5 320.3h0M146.5 324.9h0M147.0 304.4h0M160.9 308.1h0M147.7 310.1h0" stroke="#4a3cc8" stroke-width="1.05" stroke-linecap="round" opacity="0.85"/>
<circle cx="152.9" cy="314.7" r="12.6" fill="none" stroke="url(#rgD)" stroke-width="1.1" opacity="1"/>
<circle cx="184.2" cy="314.7" r="14.6" fill="none" stroke="#e8dff0" stroke-width="0.9"/>
<circle cx="184.2" cy="314.7" r="13.2" fill="url(#g8)"/>
<path d="M184.4 318.5h0M181.2 309.5h0M180.8 311.3h0M194.1 313.5h0M183.4 317.7h0M190.2 304.8h0M182.1 318.1h0M195.6 313.1h0M180.3 315.6h0M184.3 302.7h0M181.8 321.7h0M191.4 307.0h0M192.5 309.9h0M185.6 326.5h0M188.4 304.1h0M180.8 320.5h0M195.8 312.8h0M187.0 316.7h0M190.8 322.1h0M184.2 319.7h0M172.3 313.3h0M180.7 315.2h0M188.5 319.8h0M181.4 319.5h0M190.4 318.2h0M185.3 320.1h0M192.1 319.4h0M184.5 307.5h0M190.3 319.7h0M188.2 316.7h0M183.3 326.3h0M192.2 317.7h0M191.4 315.3h0M195.3 313.3h0M178.0 315.9h0M183.4 323.7h0M178.4 317.0h0M194.7 317.0h0M196.2 314.6h0M176.5 314.3h0M193.2 322.8h0M181.2 315.9h0M193.9 312.8h0M183.8 305.8h0M186.7 325.3h0M183.9 306.0h0M189.0 312.8h0M193.2 312.4h0M192.7 321.9h0M191.4 306.3h0M175.4 318.2h0M176.1 308.4h0M180.5 316.8h0M180.4 320.9h0M189.1 316.1h0M180.0 307.0h0M188.4 325.1h0M184.5 314.8h0M177.8 305.1h0M190.3 307.1h0M178.3 316.5h0M193.4 310.9h0M187.8 325.6h0M183.9 302.7h0M178.3 320.3h0M178.3 311.6h0M180.7 325.9h0M189.4 304.4h0M184.4 304.8h0M194.9 317.5h0" stroke="#9484e0" stroke-width="0.9" stroke-linecap="round" opacity="0.7"/>
<path d="M187.3 323.9h0M180.9 310.3h0M183.4 311.3h0M192.5 321.4h0M180.4 322.5h0M178.3 308.0h0M190.9 306.0h0M184.0 318.5h0M172.5 316.3h0M184.9 325.5h0M172.8 318.0h0M189.3 316.5h0M185.9 302.8h0M195.0 311.2h0M182.1 323.4h0M192.5 314.9h0M180.5 314.8h0M188.7 325.2h0M174.4 312.6h0M191.1 305.1h0M189.9 312.9h0M181.6 312.5h0M184.6 322.2h0M188.3 315.9h0M177.1 306.3h0M180.7 318.1h0M181.4 310.9h0M185.6 313.4h0M186.0 326.2h0M182.5 308.1h0M193.1 318.9h0M181.4 315.3h0M187.7 312.9h0M184.7 306.2h0M182.2 311.4h0M192.1 305.5h0M191.5 315.0h0M178.2 307.9h0M190.5 308.4h0M177.5 324.9h0M180.9 323.8h0M183.4 316.2h0M176.9 311.5h0M195.2 316.0h0M179.0 305.3h0M174.6 314.7h0M184.2 323.3h0M177.5 309.2h0M176.5 314.8h0M186.5 319.6h0M182.4 326.6h0M187.7 320.8h0M190.5 317.8h0M182.0 308.8h0M191.7 313.2h0M192.2 322.7h0M180.9 322.3h0M187.8 308.8h0M185.2 311.8h0M178.6 316.1h0M190.4 311.1h0M186.6 304.7h0M191.5 323.7h0M183.1 307.5h0M195.4 318.5h0M181.8 314.3h0M180.5 318.9h0M185.0 324.6h0M176.6 309.4h0M187.4 311.0h0M182.9 306.2h0M173.9 319.2h0M181.6 307.4h0M194.3 319.0h0M184.0 303.6h0M194.2 308.8h0M175.5 317.7h0M178.4 307.0h0M184.4 310.9h0M176.5 313.0h0M178.9 319.1h0M187.2 326.0h0M173.5 309.1h0M175.4 319.7h0M177.3 308.3h0M183.3 314.6h0M180.1 325.0h0M185.8 311.1h0M190.7 320.6h0M187.6 310.7h0M184.3 325.6h0M182.9 312.7h0M184.4 318.4h0M182.4 311.4h0M180.1 313.4h0M185.5 319.1h0M176.7 308.7h0M191.8 317.9h0M178.6 321.3h0M186.7 322.0h0" stroke="#4a3cc8" stroke-width="1.05" stroke-linecap="round" opacity="0.85"/>
<circle cx="184.2" cy="314.7" r="12.6" fill="none" stroke="url(#rgD)" stroke-width="1.1" opacity="1"/>
<circle cx="216" cy="314.7" r="14.6" fill="none" stroke="#e8dff0" stroke-width="0.9"/>
<circle cx="216" cy="314.7" r="13.2" fill="url(#g9)"/>
<path d="M220.3 311.4h0M219.1 317.4h0M216.3 303.4h0M226.0 314.2h0M209.6 306.9h0M207.0 315.7h0M217.5 316.7h0M223.4 306.7h0M226.2 312.4h0M211.8 312.1h0M222.0 308.2h0M223.3 306.7h0M218.2 305.2h0M218.4 307.1h0M214.0 306.1h0M206.7 307.1h0M223.9 308.1h0M211.2 311.3h0M220.2 308.1h0M208.3 323.0h0M205.9 316.1h0M220.2 324.4h0M225.1 311.9h0M221.2 307.1h0M214.4 306.7h0M211.6 325.6h0M209.1 305.2h0M212.9 320.1h0M206.9 312.4h0M219.2 315.9h0M214.4 313.5h0M223.8 323.6h0M227.1 311.6h0M213.0 326.3h0M208.2 322.4h0M212.6 326.1h0M217.5 317.4h0M219.3 323.6h0M225.0 318.9h0M220.7 304.8h0M221.2 306.1h0M207.1 314.2h0M215.1 323.6h0M208.8 309.9h0M224.5 308.0h0M212.0 325.5h0M211.6 322.2h0M224.0 320.9h0M220.5 316.5h0M224.2 306.3h0M205.2 313.1h0M213.7 314.8h0M222.0 322.1h0M218.4 306.5h0M226.8 310.2h0M219.6 315.3h0M210.2 304.4h0M206.7 309.5h0M208.2 308.7h0M225.8 320.1h0" stroke="#9484e0" stroke-width="0.9" stroke-linecap="round" opacity="0.7"/>
<path d="M221.0 304.6h0M226.2 312.6h0M222.7 321.1h0M226.5 315.5h0M221.5 312.8h0M224.2 322.1h0M221.0 311.4h0M220.7 305.3h0M224.2 319.5h0M223.3 313.5h0M217.3 314.8h0M208.1 305.7h0M219.6 323.9h0M207.7 313.4h0M211.4 308.4h0M211.8 321.7h0M215.7 305.2h0M214.3 321.7h0M225.7 320.2h0M211.7 316.3h0M224.8 311.0h0M219.5 307.7h0M216.6 320.5h0M208.4 305.5h0M213.7 322.9h0M206.6 315.6h0M219.9 305.8h0M226.1 315.2h0M204.8 318.2h0M220.7 305.1h0M227.3 314.0h0M216.8 326.6h0M208.7 309.4h0M210.6 324.4h0M208.6 309.0h0M204.5 311.6h0M206.8 311.1h0M217.5 314.7h0M208.9 322.9h0M217.8 306.2h0M211.5 323.1h0M222.4 312.2h0M214.7 311.7h0M210.2 314.6h0M225.0 314.3h0M216.8 303.1h0M206.9 313.5h0M206.5 310.0h0M222.2 307.9h0M210.1 314.6h0M217.9 303.0h0M215.8 308.9h0M225.1 314.6h0M219.4 311.6h0M211.9 312.9h0M212.1 313.2h0M218.6 306.5h0M219.9 309.1h0M211.1 313.1h0M217.6 320.4h0M213.4 313.4h0M223.5 309.1h0M209.4 310.3h0M225.4 311.8h0M216.8 322.3h0M222.5 320.8h0M222.2 315.6h0M211.1 308.9h0M213.1 324.4h0M215.2 318.0h0M214.0 304.6h0M218.2 318.6h0M223.4 309.2h0M220.9 315.0h0M216.9 312.2h0" stroke="#4a3cc8" stroke-width="1.05" stroke-linecap="round" opacity="0.85"/>
<circle cx="216" cy="314.7" r="12.6" fill="none" stroke="url(#rgD)" stroke-width="1.1" opacity="1"/>
<rect x="43" y="331.2" width="188.5" height="29.4" fill="#f2f2f2"/>
<circle cx="57.7" cy="345.9" r="14.6" fill="none" stroke="#e8dff0" stroke-width="0.9"/>
<circle cx="57.7" cy="345.9" r="13.2" fill="url(#g10)"/>
<path d="M52.4 345.4h0M67.0 343.1h0M47.7 339.6h0M66.8 351.8h0M58.7 351.9h0M53.2 355.4h0M67.3 342.2h0M55.9 349.9h0M56.4 351.4h0M49.0 345.8h0M61.9 349.6h0M65.1 338.8h0M67.1 352.3h0M50.5 348.3h0M61.1 336.4h0M50.7 348.8h0M47.0 342.8h0M56.8 342.4h0M64.9 347.3h0M55.1 356.3h0M54.2 343.1h0M49.5 350.3h0M51.5 346.7h0M55.3 339.9h0M65.2 345.6h0M46.8 345.8h0M50.8 355.2h0M49.2 343.0h0M58.3 352.9h0M46.8 344.0h0M64.1 355.1h0M60.8 344.3h0M54.0 341.2h0M67.5 352.9h0M57.8 353.8h0M55.0 336.8h0M67.5 338.9h0M53.8 346.7h0M60.2 341.8h0M53.9 350.2h0M60.3 341.0h0M61.2 337.5h0M49.6 339.2h0M54.7 350.2h0M57.2 336.2h0M53.1 348.5h0M62.0 352.8h0M54.7 339.9h0M65.9 346.7h0M58.9 356.4h0M55.2 337.6h0M66.5 350.8h0M47.3 348.2h0M58.9 341.5h0M55.4 354.7h0M61.7 348.9h0M57.2 343.2h0M57.8 350.4h0M66.2 340.0h0M58.2 334.9h0M59.6 356.8h0M52.9 351.8h0M63.3 349.0h0M49.7 353.4h0M51.3 346.1h0M52.4 341.8h0M60.4 339.4h0M59.4 353.3h0M49.2 341.0h0M56.3 354.8h0M54.4 341.2h0M54.7 353.3h0M59.0 341.6h0M56.5 357.4h0M57.0 345.8h0M46.1 342.6h0M46.9 345.0h0M59.7 341.8h0M59.4 344.3h0M66.4 351.1h0M49.2 352.2h0M49.5 350.0h0M47.7 343.1h0M65.4 336.6h0M48.1 353.2h0M67.7 348.7h0M55.3 344.3h0M55.6 356.0h0M65.4 347.7h0M55.2 340.8h0" stroke="#9484e0" stroke-width="0.9" stroke-linecap="round" opacity="0.7"/>
<path d="M55.3 345.2h0M60.0 348.3h0M50.0 345.7h0M59.8 335.8h0M57.7 344.6h0M45.6 347.3h0M48.3 343.8h0M59.2 341.2h0M65.1 345.3h0M45.6 345.1h0M67.7 349.2h0M64.6 354.2h0M53.6 355.7h0M47.5 346.0h0M66.5 340.2h0M58.5 340.2h0M58.6 336.0h0M61.6 353.4h0M49.7 347.2h0M56.0 342.5h0M65.8 337.3h0M60.4 347.0h0M50.1 346.8h0M50.3 349.3h0M56.5 353.9h0M52.8 351.1h0M59.9 337.0h0M68.7 343.2h0M61.7 340.6h0M55.5 337.7h0M61.9 349.9h0M65.3 347.8h0M55.1 343.6h0M53.8 341.1h0M60.0 347.9h0M53.8 341.3h0M50.2 346.6h0M54.0 336.3h0M62.7 336.8h0M49.5 348.1h0M56.4 349.2h0M58.3 354.9h0M51.9 356.1h0M62.9 341.1h0M58.1 336.2h0M54.6 354.7h0M64.4 346.8h0M48.7 342.6h0M54.6 334.7h0M67.9 341.6h0M51.0 341.1h0M52.6 351.1h0M62.3 350.8h0M50.8 344.0h0M60.8 355.5h0M52.7 353.8h0M65.2 351.8h0M47.2 351.8h0M62.8 349.8h0M57.6 337.7h0M49.0 337.5h0M53.9 344.5h0M62.1 355.5h0M67.6 349.9h0M58.5 350.6h0M65.0 340.5h0M61.1 356.4h0M57.1 334.2h0M65.0 342.1h0M58.9 344.5h0M52.3 341.9h0M47.8 352.4h0M50.1 343.0h0M46.0 342.6h0M63.7 349.0h0M65.1 351.4h0M58.4 343.6h0M49.3 343.3h0M63.8 344.6h0M61.6 339.0h0M63.7 335.7h0M51.7 351.6h0M63.3 355.0h0M63.6 342.2h0M54.1 337.8h0M48.3 339.3h0M59.7 354.7h0M57.7 338.2h0M67.4 338.9h0M63.9 345.6h0M67.9 341.9h0M60.1 347.8h0M67.7 347.6h0M57.3 345.2h0M56.3 342.6h0M62.8 343.3h0M50.6 340.7h0M56.1 336.0h0M68.1 347.4h0M54.6 353.6h0M56.8 346.6h0M63.8 349.1h0M62.6 350.3h0M57.7 341.8h0M50.7 348.4h0M68.0 349.0h0M53.1 356.9h0M53.7 355.5h0M48.9 339.5h0M57.2 343.8h0M62.4 336.1h0M68.9 342.7h0M53.8 334.5h0M64.8 351.4h0M57.2 346.2h0M65.4 350.8h0M56.5 348.9h0M66.4 347.8h0M49.7 352.4h0M66.3 342.9h0M60.6 341.9h0M64.5 343.7h0M58.5 340.9h0M61.9 350.8h0M59.6 335.3h0M62.3 343.9h0M52.8 338.8h0M61.3 339.2h0M57.8 347.7h0M59.7 355.0h0M64.4 340.1h0M48.8 341.0h0M62.6 348.6h0M54.8 335.7h0M58.1 353.7h0M54.6 342.2h0M66.0 351.4h0M51.9 356.6h0M62.6 340.1h0M56.0 343.4h0M69.0 346.9h0M57.0 346.3h0M61.8 345.4h0M65.9 348.0h0M54.1 345.9h0M61.9 340.7h0M52.4 353.2h0M58.3 344.4h0M53.9 357.1h0M57.1 339.6h0" stroke="#4a3cc8" stroke-width="1.05" stroke-linecap="round" opacity="0.85"/>
<circle cx="57.7" cy="345.9" r="12.6" fill="none" stroke="url(#rgD)" stroke-width="1.1" opacity="1"/>
<circle cx="90.2" cy="345.9" r="14.6" fill="none" stroke="#e8dff0" stroke-width="0.9"/>
<circle cx="90.2" cy="345.9" r="13.2" fill="url(#g11)"/>
<path d="M98.2 350.8h0M80.9 352.9h0M83.6 340.1h0M96.2 343.4h0M94.8 339.4h0M84.8 335.2h0M93.5 337.0h0M90.9 344.1h0M80.0 350.8h0M90.4 337.7h0M91.1 353.0h0M86.5 347.7h0M99.3 342.1h0M85.1 344.9h0M86.8 352.9h0M94.5 351.5h0M83.2 353.7h0M91.2 345.3h0M97.6 354.4h0M96.4 346.3h0M82.0 342.4h0M92.4 356.3h0M90.0 345.0h0M88.4 338.6h0M80.9 346.3h0M83.8 337.0h0M92.4 350.7h0M91.6 350.9h0M92.9 334.9h0M83.6 353.6h0M93.1 335.0h0M91.4 336.7h0M92.3 339.3h0M84.9 342.4h0M84.0 350.1h0M89.7 345.9h0M82.3 349.2h0M98.9 340.4h0M94.7 352.1h0M90.3 342.4h0M91.9 343.9h0M86.0 337.8h0M97.4 344.0h0M88.3 350.7h0M89.0 352.7h0M84.5 342.8h0M95.0 356.2h0M101.0 350.9h0M89.6 356.6h0M89.0 334.0h0M90.3 344.8h0M91.0 333.9h0M92.3 337.4h0M91.9 346.4h0M90.5 356.3h0M95.3 353.5h0M90.3 336.7h0M88.8 335.1h0M90.0 344.9h0M85.3 338.0h0M92.9 340.3h0M91.9 348.1h0M85.5 347.4h0M91.5 336.7h0M85.1 350.9h0M93.9 348.3h0M94.1 342.7h0M81.2 343.8h0M90.2 340.9h0M86.7 348.7h0M95.8 350.9h0M83.4 344.6h0M83.2 351.7h0M101.3 348.0h0M97.9 346.8h0M90.0 344.9h0M91.3 347.3h0M96.2 353.0h0M89.8 333.9h0M79.0 343.7h0" stroke="#9484e0" stroke-width="0.9" stroke-linecap="round" opacity="0.7"/>
<path d="M82.5 350.3h0M92.1 345.4h0M95.9 342.3h0M79.2 350.3h0M79.4 350.4h0M88.0 341.8h0M92.3 345.6h0M87.6 339.5h0M96.1 344.5h0M92.7 351.5h0M88.4 338.4h0M81.2 338.5h0M87.7 335.1h0M89.7 349.4h0M85.1 345.6h0M90.7 336.9h0M85.6 342.7h0M81.3 352.6h0M85.6 340.6h0M81.9 343.1h0M95.9 338.0h0M93.1 348.1h0M92.3 356.8h0M89.7 346.4h0M85.2 339.5h0M90.6 349.1h0M87.8 337.4h0M95.2 343.5h0M82.9 354.3h0M89.3 340.2h0M90.2 356.2h0M90.2 345.9h0M78.8 348.6h0M82.5 346.0h0M87.7 348.3h0M93.3 342.6h0M82.8 349.8h0M89.8 348.5h0M101.1 349.3h0M98.5 342.5h0M101.5 344.7h0M88.0 340.9h0M90.6 348.1h0M90.0 344.2h0M99.0 341.2h0M95.2 339.3h0M95.2 339.4h0M85.7 356.4h0M100.8 348.0h0M79.3 342.3h0M92.6 343.3h0M83.8 351.4h0M87.2 343.7h0M92.2 343.6h0M101.6 348.0h0M78.8 344.0h0M83.4 355.9h0M94.2 344.2h0M88.6 348.8h0M86.7 344.7h0M90.1 339.8h0M96.6 341.2h0M89.6 351.6h0M95.8 340.1h0M89.8 338.1h0M90.6 341.1h0M89.5 341.7h0M94.1 345.7h0M88.4 343.7h0M101.1 348.6h0M92.3 345.5h0M86.3 352.2h0M97.5 348.5h0M84.9 351.6h0M87.7 338.3h0M99.8 348.1h0M92.0 354.1h0M89.4 343.9h0M101.4 341.7h0M85.9 346.2h0M79.9 349.1h0M86.5 334.9h0M91.6 335.2h0M88.9 339.2h0M91.3 356.8h0M84.2 342.4h0M91.8 344.0h0M93.7 342.6h0M81.5 343.4h0M89.2 344.9h0M88.0 343.5h0M94.0 351.3h0M94.9 343.5h0M88.7 334.7h0M95.5 338.2h0M82.7 346.3h0M86.0 353.9h0M98.7 339.6h0M99.8 350.7h0M101.4 346.9h0M91.8 347.6h0M87.6 341.7h0M82.5 344.5h0M94.2 348.5h0M94.3 334.9h0M101.8 343.1h0M92.6 344.7h0M80.1 352.6h0M98.0 337.1h0M88.2 349.6h0M93.5 351.4h0M97.2 350.7h0M91.1 353.4h0M82.5 355.2h0M100.3 343.0h0" stroke="#4a3cc8" stroke-width="1.05" stroke-linecap="round" opacity="0.85"/>
<circle cx="90.2" cy="345.9" r="12.6" fill="none" stroke="url(#rgD)" stroke-width="1.1" opacity="1"/>
<circle cx="121.6" cy="345.9" r="14.6" fill="none" stroke="#e8dff0" stroke-width="0.9"/>
<circle cx="121.6" cy="345.9" r="13.2" fill="url(#g11)"/>
<path d="M112.2 345.3h0M117.8 357.0h0M120.2 335.3h0M110.8 348.8h0M120.6 336.6h0M128.0 351.0h0M130.6 344.2h0M114.6 352.6h0M126.0 351.3h0M123.1 337.7h0M112.5 353.7h0M113.5 344.8h0M129.8 350.5h0M115.1 346.1h0M130.4 341.9h0M110.6 343.1h0M112.0 353.2h0M118.7 339.0h0M110.1 349.2h0M120.5 345.0h0M126.3 339.6h0M119.0 354.0h0M124.4 355.5h0M115.5 340.3h0M114.6 346.7h0M117.7 335.5h0M130.8 348.9h0M125.8 334.5h0M123.6 334.2h0M114.3 337.3h0M121.2 339.8h0M119.6 336.5h0M115.8 344.7h0M131.9 342.0h0M123.0 340.0h0M124.1 350.5h0M116.4 350.8h0M121.4 338.2h0M124.4 345.8h0M112.5 352.8h0M111.6 345.8h0M127.2 338.0h0M122.9 348.3h0M129.4 344.9h0M117.6 345.4h0M114.3 345.7h0M126.7 354.5h0M117.5 337.3h0M127.5 335.5h0M123.5 343.3h0M111.8 344.4h0M128.5 340.2h0M115.4 347.9h0M123.3 356.9h0M132.0 347.0h0M124.4 345.5h0M124.2 351.8h0M126.0 335.8h0M129.9 341.2h0M113.1 344.8h0M111.8 342.2h0M118.5 357.1h0M126.3 357.0h0M119.3 346.4h0M129.6 351.8h0M124.6 344.0h0M128.6 346.9h0M122.8 340.6h0M116.5 349.6h0M125.6 346.0h0" stroke="#9484e0" stroke-width="0.9" stroke-linecap="round" opacity="0.7"/>
<path d="M115.9 353.7h0M118.8 336.4h0M129.3 340.6h0M115.0 338.0h0M116.8 357.1h0M129.5 354.4h0M115.9 347.0h0M116.0 353.1h0M123.3 348.8h0M120.6 357.8h0M122.1 338.7h0M119.9 340.5h0M127.3 351.8h0M114.7 355.7h0M130.5 351.9h0M131.3 352.7h0M121.5 334.0h0M119.1 342.4h0M132.7 341.8h0M118.3 336.0h0M118.5 338.5h0M120.6 351.9h0M115.6 343.0h0M117.2 341.1h0M131.7 350.8h0M115.0 339.7h0M118.9 334.4h0M115.0 343.8h0M125.3 345.5h0M112.1 346.8h0M123.1 352.4h0M133.2 344.4h0M126.1 355.7h0M130.4 342.4h0M124.7 342.0h0M120.3 349.5h0M111.6 346.3h0M118.8 352.0h0M117.5 335.4h0M126.4 338.7h0M129.4 349.0h0M129.4 353.6h0M130.6 353.0h0M128.1 349.7h0M114.1 340.5h0M120.7 347.1h0M114.2 352.5h0M110.8 350.9h0M116.0 340.0h0M125.7 346.7h0M119.9 357.3h0M128.8 341.9h0M121.5 351.5h0M112.6 343.3h0M119.8 356.3h0M116.6 348.5h0M128.4 353.4h0M120.4 334.1h0M117.4 350.9h0M126.0 341.0h0M114.1 352.8h0M126.4 351.2h0M131.6 352.4h0M112.5 339.3h0M120.3 355.9h0M113.5 342.5h0M118.4 341.1h0M115.1 339.0h0M127.7 348.6h0M119.3 352.2h0M123.0 345.2h0M112.0 347.7h0M129.7 345.4h0M129.5 351.4h0M119.4 346.1h0M128.9 348.6h0M109.4 346.2h0M125.0 348.3h0M123.2 355.9h0M120.5 340.3h0M124.0 357.4h0M130.8 348.2h0M121.7 339.1h0M131.0 340.5h0M120.3 342.9h0M119.7 354.0h0M119.6 334.6h0M130.6 347.5h0M127.8 338.5h0M131.0 338.5h0M133.8 346.7h0M117.8 353.5h0M128.6 349.9h0M124.2 347.6h0M128.7 348.6h0M127.3 338.7h0M115.3 346.3h0M117.0 348.3h0M121.7 356.6h0M122.4 348.2h0" stroke="#4a3cc8" stroke-width="1.05" stroke-linecap="round" opacity="0.85"/>
<circle cx="121.6" cy="345.9" r="12.6" fill="none" stroke="url(#rgD)" stroke-width="1.1" opacity="1"/>
<circle cx="152.9" cy="345.9" r="14.6" fill="none" stroke="#e8dff0" stroke-width="0.9"/>
<circle cx="152.9" cy="345.9" r="13.2" fill="url(#g12)"/>
<path d="M156.3 347.1h0M149.6 348.1h0M154.8 344.5h0M146.0 344.3h0M155.8 342.0h0M149.2 351.9h0M152.9 346.4h0M149.6 347.3h0M150.3 344.0h0M149.6 353.4h0M156.0 343.8h0M159.7 354.3h0M164.4 347.4h0M147.3 343.1h0M158.5 336.8h0M146.8 355.0h0M155.4 355.1h0M142.1 344.0h0M149.8 353.0h0M154.0 337.2h0M149.0 337.0h0M147.1 335.9h0M143.0 346.8h0M151.4 347.4h0M153.0 340.7h0M157.9 335.4h0M150.2 341.7h0M148.9 352.4h0M160.3 349.6h0M146.6 342.8h0M154.3 349.3h0M151.9 344.9h0M149.4 350.6h0M142.7 343.8h0M161.1 340.6h0M164.9 345.3h0M148.9 341.6h0M147.8 346.4h0M161.0 345.5h0M152.9 343.3h0M156.5 349.9h0M152.6 353.1h0M151.8 353.9h0M149.4 347.8h0M159.6 348.7h0M159.7 350.2h0M161.8 346.4h0M162.0 350.4h0M142.9 352.8h0M152.2 354.3h0M152.9 338.8h0M147.2 353.8h0M164.2 343.7h0M143.9 350.9h0M149.7 339.2h0M153.2 349.3h0M155.0 343.9h0M144.0 344.9h0M158.9 353.8h0M162.2 340.5h0" stroke="#9484e0" stroke-width="0.9" stroke-linecap="round" opacity="0.7"/>
<path d="M149.6 348.7h0M161.6 344.5h0M145.4 338.0h0M150.6 347.9h0M159.4 353.4h0M146.2 355.1h0M152.2 333.8h0M149.6 340.0h0M153.4 343.9h0M141.6 344.4h0M148.4 345.5h0M143.9 345.9h0M145.1 354.4h0M149.5 351.3h0M147.4 345.7h0M149.5 352.8h0M156.1 344.6h0M154.7 351.1h0M164.4 345.6h0M156.1 354.5h0M158.8 349.4h0M148.1 353.4h0M162.8 341.2h0M142.3 343.6h0M142.5 346.9h0M153.9 339.8h0M157.5 337.9h0M145.3 346.6h0M154.3 354.4h0M159.7 352.8h0M161.6 339.4h0M146.3 340.5h0M151.5 341.9h0M163.6 349.6h0M146.5 353.5h0M146.5 349.4h0M153.8 338.8h0M153.2 334.9h0M158.0 356.8h0M160.2 348.9h0M141.8 345.9h0M157.0 354.0h0M145.0 354.5h0M157.4 350.3h0M155.8 339.6h0M155.5 344.9h0M149.8 348.5h0M142.2 340.6h0M148.5 354.7h0M152.1 353.9h0M147.4 343.3h0M149.7 337.9h0M158.2 342.3h0M157.9 344.4h0M162.7 347.1h0M152.0 337.5h0M164.7 349.1h0M160.1 354.7h0M157.4 342.3h0M158.4 339.6h0M162.2 339.1h0M153.9 339.4h0M142.3 340.1h0M149.6 352.8h0M151.7 343.1h0M152.8 350.9h0M146.0 349.9h0M146.2 340.5h0M154.2 348.2h0M142.4 344.2h0M162.9 340.9h0M149.2 356.6h0M146.6 347.2h0M159.7 350.3h0M146.7 344.1h0M156.9 357.0h0M163.7 350.8h0M143.9 351.9h0M160.0 351.8h0M153.5 337.9h0M147.6 352.6h0M154.8 351.2h0M153.0 348.3h0M155.7 344.1h0M154.0 345.3h0M147.9 338.4h0M164.3 349.0h0M151.5 334.5h0M146.8 348.5h0M154.5 349.7h0M147.6 336.2h0M153.4 347.8h0M149.8 349.5h0M153.8 351.6h0M148.7 339.0h0" stroke="#4a3cc8" stroke-width="1.05" stroke-linecap="round" opacity="0.85"/>
<circle cx="152.9" cy="345.9" r="12.6" fill="none" stroke="url(#rgD)" stroke-width="1.1" opacity="1"/>
<circle cx="184.2" cy="345.9" r="14.6" fill="none" stroke="#e8dff0" stroke-width="0.9"/>
<circle cx="184.2" cy="345.9" r="13.2" fill="url(#g11)"/>
<path d="M193.0 343.7h0M189.5 356.7h0M174.8 351.3h0M189.1 346.9h0M195.0 343.7h0M192.5 347.0h0M179.0 348.5h0M189.7 350.0h0M187.6 350.0h0M189.0 340.4h0M182.0 353.3h0M193.3 353.1h0M174.3 345.1h0M188.3 345.6h0M176.5 342.4h0M185.3 336.5h0M180.0 347.4h0M173.6 343.7h0M192.0 343.3h0M173.3 345.0h0M176.9 348.4h0M183.2 334.5h0M185.7 334.2h0M188.3 353.8h0M195.1 350.4h0M185.0 354.7h0M181.3 338.1h0M175.9 347.4h0M175.6 341.2h0M183.0 337.6h0M180.2 348.7h0M191.0 346.8h0M192.2 343.5h0M188.9 352.8h0M183.1 334.8h0M177.8 352.9h0M194.7 349.7h0M181.0 348.5h0M187.3 356.5h0M188.4 342.4h0M189.9 344.7h0M186.2 346.8h0M189.6 354.7h0M173.6 341.0h0M185.5 350.7h0M189.4 339.3h0M173.7 347.8h0M187.0 345.9h0M190.4 349.7h0M191.7 350.8h0M177.8 349.5h0M183.9 354.0h0M185.1 334.0h0M185.8 345.7h0M177.0 338.3h0M192.3 341.9h0M184.8 354.0h0M188.4 344.5h0M176.8 345.5h0M182.6 348.9h0" stroke="#9484e0" stroke-width="0.9" stroke-linecap="round" opacity="0.7"/>
<path d="M175.3 348.6h0M188.0 334.6h0M181.6 351.9h0M189.7 352.8h0M186.3 336.2h0M172.9 349.7h0M195.3 342.5h0M179.1 354.7h0M193.5 348.6h0M183.5 354.6h0M190.8 345.8h0M183.2 355.8h0M188.6 350.5h0M185.9 342.0h0M185.3 338.1h0M174.0 351.4h0M181.4 347.4h0M177.3 342.0h0M186.8 337.4h0M185.9 335.6h0M177.8 336.8h0M182.3 342.6h0M186.2 348.9h0M172.3 345.5h0M184.5 349.6h0M188.0 354.7h0M191.9 337.5h0M188.4 348.1h0M176.3 347.5h0M190.1 341.2h0M190.8 336.4h0M185.2 345.0h0M180.3 339.6h0M194.7 340.8h0M187.8 348.0h0M175.4 347.1h0M185.5 347.6h0M188.6 351.0h0M191.0 349.9h0M179.2 351.5h0M178.9 340.8h0M191.7 349.7h0M188.8 336.2h0M176.5 338.3h0M189.9 345.2h0M176.7 341.9h0M181.1 334.4h0M193.8 353.2h0M183.0 346.4h0M177.0 352.3h0M178.8 335.0h0M177.0 338.0h0M185.9 349.5h0M178.3 348.3h0M176.3 340.9h0M174.9 350.0h0M184.7 336.2h0M188.0 351.4h0M173.7 345.9h0M183.4 355.3h0M190.2 353.9h0M187.7 338.0h0M190.2 348.0h0M193.6 344.4h0M175.6 337.8h0M175.2 341.6h0M190.5 339.1h0M183.6 341.8h0M192.3 337.2h0M185.4 347.4h0M179.5 341.3h0M175.9 346.2h0M190.4 346.1h0M190.9 341.0h0M172.7 343.4h0M188.6 352.3h0M175.2 351.5h0M172.9 348.8h0M190.8 336.6h0M183.4 354.1h0M193.8 346.4h0M190.4 351.2h0M174.1 340.2h0M186.3 349.2h0M182.8 344.3h0M186.3 347.5h0M193.0 342.6h0M178.1 347.1h0M184.0 355.4h0M177.5 342.5h0" stroke="#4a3cc8" stroke-width="1.05" stroke-linecap="round" opacity="0.85"/>
<circle cx="184.2" cy="345.9" r="12.6" fill="none" stroke="url(#rgD)" stroke-width="1.1" opacity="1"/>
<circle cx="216" cy="345.9" r="14.6" fill="none" stroke="#e8dff0" stroke-width="0.9"/>
<circle cx="216" cy="345.9" r="13.2" fill="url(#g12)"/>
<path d="M220.7 342.5h0M218.4 339.6h0M215.4 338.7h0M208.5 339.9h0M226.3 346.2h0M220.9 353.1h0M220.5 337.3h0M216.1 339.3h0M210.7 346.2h0M211.4 346.2h0M221.7 343.0h0M209.0 340.4h0M205.6 350.9h0M209.2 337.7h0M218.1 350.3h0M226.1 349.6h0M213.0 343.9h0M207.4 347.8h0M206.4 347.0h0M223.3 344.5h0M209.3 337.6h0M220.0 339.0h0M205.9 343.2h0M210.0 337.0h0M210.6 343.5h0M209.1 340.6h0M213.1 338.2h0M206.5 341.3h0M213.7 352.9h0M222.4 350.6h0M219.8 354.7h0M219.1 352.4h0M205.6 351.5h0M213.8 354.3h0M207.6 340.3h0M224.5 342.1h0M221.9 346.8h0M220.7 355.3h0M224.0 343.7h0M210.3 343.2h0M213.7 340.2h0M212.3 340.1h0M206.7 338.9h0M225.8 342.0h0M218.1 354.9h0M207.5 348.4h0M219.7 334.4h0M216.5 354.7h0M224.4 344.7h0M211.2 347.1h0M224.5 350.1h0M217.5 356.4h0M218.1 337.9h0M222.3 355.6h0M207.2 346.6h0M211.3 352.3h0M205.4 344.4h0M208.2 350.7h0M217.3 344.7h0M223.4 355.4h0" stroke="#9484e0" stroke-width="0.9" stroke-linecap="round" opacity="0.7"/>
<path d="M213.5 350.6h0M226.2 340.0h0M226.9 349.5h0M210.7 347.6h0M206.9 340.5h0M207.9 344.6h0M224.0 348.2h0M221.7 349.6h0M227.4 342.0h0M223.7 345.2h0M204.7 347.7h0M211.2 348.9h0M207.7 346.2h0M223.4 343.2h0M222.4 348.6h0M216.0 335.2h0M210.2 345.6h0M213.0 342.9h0M218.7 346.8h0M211.9 356.2h0M217.9 342.5h0M221.9 338.7h0M207.3 350.7h0M217.2 351.0h0M210.9 335.2h0M217.4 354.9h0M213.9 346.2h0M227.5 342.9h0M217.5 341.4h0M216.0 340.2h0M216.9 356.3h0M218.0 351.2h0M211.0 356.6h0M207.6 344.9h0M219.2 336.2h0M207.6 341.1h0M205.9 346.1h0M211.2 352.7h0M224.7 346.0h0M215.8 345.4h0M226.9 350.0h0M212.8 344.1h0M216.8 341.2h0M218.1 339.3h0M209.5 353.6h0M210.1 355.2h0M211.4 335.5h0M216.6 348.2h0M216.6 344.3h0M219.2 339.4h0M212.8 348.6h0M217.6 357.7h0M216.1 335.2h0M215.8 351.2h0M213.0 354.0h0M219.4 338.8h0M210.0 340.1h0M215.5 339.9h0M217.2 344.5h0M219.2 334.3h0M225.2 338.3h0M220.3 346.3h0M224.5 352.3h0M220.5 334.9h0M222.6 350.8h0M206.5 342.2h0M217.8 347.0h0M218.9 339.1h0M225.2 351.8h0M210.9 339.6h0M212.1 339.6h0M215.0 335.5h0M210.8 341.9h0M221.2 356.5h0M225.6 350.2h0M223.7 351.4h0M212.9 336.2h0M216.2 335.6h0M222.1 349.9h0M217.1 334.9h0M219.0 347.9h0M223.3 342.6h0M217.8 357.4h0M221.1 352.5h0M213.9 354.8h0" stroke="#4a3cc8" stroke-width="1.05" stroke-linecap="round" opacity="0.85"/>
<circle cx="216" cy="345.9" r="12.6" fill="none" stroke="url(#rgD)" stroke-width="1.1" opacity="1"/>
<rect x="43" y="362.8" width="188.5" height="29.5" fill="#f2f2f2"/>
<circle cx="57.7" cy="377.6" r="14.6" fill="none" stroke="#e8dff0" stroke-width="0.9"/>
<circle cx="57.7" cy="377.6" r="13.2" fill="url(#g13)"/>
<path d="M51.4 376.8h0M57.1 366.7h0M56.6 376.1h0M58.1 384.6h0M67.5 376.1h0M47.9 375.7h0M65.6 383.8h0M54.5 373.0h0M52.7 383.6h0M64.9 375.5h0M68.5 379.4h0M62.4 372.2h0M55.9 365.6h0M49.9 383.7h0M49.1 374.9h0M46.8 374.9h0M68.0 371.9h0M65.4 385.8h0M61.3 380.7h0M59.8 380.5h0" stroke="#9484e0" stroke-width="0.9" stroke-linecap="round" opacity="0.7"/>
<path d="M54.1 379.0h0M47.1 382.0h0M54.8 379.4h0M58.1 368.7h0M60.6 384.1h0M57.3 386.7h0M62.3 375.1h0M51.9 380.0h0M49.9 369.1h0M58.6 382.0h0M52.8 385.1h0M48.6 380.5h0M58.8 386.3h0M63.5 384.9h0M54.2 387.9h0M54.9 377.5h0M52.6 372.8h0M54.1 378.4h0M54.5 372.0h0M65.5 380.1h0M61.9 384.8h0M60.2 382.7h0M61.1 381.4h0M60.8 373.8h0M51.6 384.6h0M60.1 382.0h0M56.0 388.9h0M64.7 370.6h0M62.8 379.9h0M56.6 371.1h0M62.9 382.1h0M62.2 374.9h0M58.8 375.2h0M50.9 369.4h0M65.7 378.9h0M68.0 371.9h0M52.9 374.8h0M53.0 381.9h0M53.9 373.4h0M57.3 367.6h0" stroke="#4a3cc8" stroke-width="1.05" stroke-linecap="round" opacity="0.85"/>
<circle cx="57.7" cy="377.6" r="12.6" fill="none" stroke="url(#rgD4)" stroke-width="1.1" opacity="1"/>
<circle cx="90.2" cy="377.6" r="14.6" fill="none" stroke="#e8dff0" stroke-width="0.9"/>
<circle cx="90.2" cy="377.6" r="13.2" fill="url(#g14)"/>
<path d="M85.9 387.4h0M95.8 381.0h0M81.3 384.9h0M84.8 385.2h0M94.3 380.5h0M87.4 368.9h0M88.7 369.6h0M84.8 377.9h0M90.7 380.3h0M94.2 384.7h0M81.4 371.8h0M83.3 368.9h0M90.1 376.4h0M96.8 372.0h0M86.9 379.0h0M92.0 380.1h0M99.3 383.5h0M82.7 385.2h0M99.8 376.6h0M91.5 382.2h0M98.6 375.7h0M84.0 387.8h0M95.7 387.5h0M98.3 378.1h0M84.0 387.9h0M81.4 380.2h0M93.6 368.5h0M95.6 367.9h0M94.3 379.4h0M83.8 381.8h0" stroke="#9484e0" stroke-width="0.9" stroke-linecap="round" opacity="0.7"/>
<path d="M92.1 373.4h0M101.2 376.6h0M86.6 372.5h0M92.2 367.5h0M94.6 372.5h0M91.5 372.2h0M85.9 378.9h0M89.3 389.4h0M95.0 377.5h0M89.7 376.9h0M85.1 383.8h0M90.5 380.1h0M84.7 367.4h0M92.4 384.6h0M89.8 367.2h0M88.2 371.0h0M100.5 374.1h0M93.5 368.5h0M95.8 388.0h0M83.0 372.8h0M85.6 367.9h0M93.0 381.9h0M87.5 381.1h0M88.8 373.1h0M83.2 371.0h0M90.1 366.7h0M85.0 376.7h0M98.0 371.8h0M78.8 377.4h0M93.9 368.9h0M85.9 381.1h0M92.6 378.4h0M100.1 379.0h0M97.1 385.0h0M89.3 382.9h0M97.4 375.7h0M98.1 383.4h0M83.6 367.6h0M92.2 370.2h0M85.8 374.9h0M85.8 384.6h0M91.1 388.7h0M91.9 370.2h0M93.3 370.3h0M92.7 383.2h0M97.7 384.5h0M89.1 380.4h0M97.9 380.9h0M94.3 373.3h0M94.6 367.6h0M96.0 380.7h0M99.2 371.9h0M89.1 376.3h0M90.4 387.9h0M93.7 381.9h0M97.9 381.6h0M93.7 388.0h0M99.1 382.6h0M95.8 375.1h0M82.1 384.6h0" stroke="#4a3cc8" stroke-width="1.05" stroke-linecap="round" opacity="0.85"/>
<circle cx="90.2" cy="377.6" r="12.6" fill="none" stroke="url(#rgD4)" stroke-width="1.1" opacity="1"/>
<circle cx="121.6" cy="377.6" r="14.6" fill="none" stroke="#e8dff0" stroke-width="0.9"/>
<circle cx="121.6" cy="377.6" r="13.2" fill="url(#g15)"/>
<path d="M115.0 381.6h0M130.9 370.6h0M117.7 388.1h0M132.4 374.7h0M133.5 379.4h0M120.9 388.4h0M126.0 385.7h0M113.4 383.4h0M122.9 366.4h0M127.2 367.6h0M115.1 371.5h0M123.5 368.1h0M123.7 370.3h0M132.7 374.4h0M125.2 387.8h0" stroke="#9484e0" stroke-width="0.9" stroke-linecap="round" opacity="0.7"/>
<path d="M112.5 374.7h0M124.8 368.1h0M116.0 367.5h0M123.4 380.1h0M119.9 384.7h0M123.3 379.4h0M110.4 378.8h0M123.0 369.4h0M128.1 370.8h0M119.0 376.1h0M118.5 384.4h0M128.0 381.2h0M118.7 375.5h0M120.2 388.2h0M113.6 383.3h0M124.7 382.1h0M124.2 367.2h0M129.1 383.6h0M123.1 367.0h0M121.4 366.7h0M114.5 383.9h0M120.8 386.5h0M121.6 366.3h0M120.9 367.5h0M130.5 385.0h0M113.0 385.0h0M130.1 381.6h0M109.6 378.0h0M122.4 368.9h0M120.8 369.3h0M126.3 376.0h0M132.2 372.6h0" stroke="#4a3cc8" stroke-width="1.05" stroke-linecap="round" opacity="0.85"/>
<circle cx="121.6" cy="377.6" r="12.6" fill="none" stroke="url(#rgD4)" stroke-width="1.1" opacity="1"/>
<circle cx="152.9" cy="377.6" r="14.6" fill="none" stroke="#e8dff0" stroke-width="0.9"/>
<circle cx="152.9" cy="377.6" r="13.2" fill="url(#g16)"/>
<path d="M144.4 377.9h0M154.2 366.7h0M148.1 385.2h0M145.4 370.5h0M162.9 374.3h0M159.9 370.5h0M152.3 384.0h0M161.6 377.9h0M156.5 383.0h0M153.5 378.4h0" stroke="#9484e0" stroke-width="0.9" stroke-linecap="round" opacity="0.7"/>
<path d="M153.7 370.7h0M146.3 368.0h0M150.6 386.5h0M155.8 380.6h0M151.8 374.2h0M159.0 377.1h0M161.5 369.3h0M159.8 380.9h0M147.0 377.7h0M152.8 385.2h0M146.7 378.6h0M145.8 372.0h0M150.7 376.8h0M159.4 373.5h0M148.7 380.5h0M151.2 386.8h0M142.4 382.9h0M145.7 379.1h0" stroke="#4a3cc8" stroke-width="1.05" stroke-linecap="round" opacity="0.85"/>
<circle cx="152.9" cy="377.6" r="12.6" fill="none" stroke="url(#rgD4)" stroke-width="1.1" opacity="1"/>
<circle cx="184.2" cy="377.6" r="14.6" fill="none" stroke="#e8dff0" stroke-width="0.9"/>
<circle cx="184.2" cy="377.6" r="13.2" fill="url(#g17)"/>
<path d="M178.8 378.1h0M195.8 376.4h0M183.9 366.4h0M194.7 379.3h0M190.0 382.4h0M178.1 377.9h0M176.3 375.2h0M190.6 378.8h0M173.4 376.4h0M183.2 371.2h0M193.0 371.7h0M181.9 371.7h0M192.4 369.2h0M176.6 384.5h0M194.4 371.9h0M179.1 369.0h0M191.3 386.2h0M182.9 368.8h0M191.0 368.9h0M194.2 374.5h0" stroke="#9484e0" stroke-width="0.9" stroke-linecap="round" opacity="0.7"/>
<path d="M175.0 377.4h0M191.5 379.8h0M184.3 382.1h0M193.1 383.9h0M190.2 381.7h0M179.3 372.6h0M180.0 373.1h0M180.8 368.1h0M186.8 370.4h0M187.3 384.3h0M185.2 374.1h0M193.8 372.6h0M186.5 373.1h0M183.2 373.7h0M185.2 383.0h0M193.9 373.0h0M175.6 376.3h0M176.6 370.2h0M179.4 383.4h0M189.6 375.3h0M195.5 378.2h0M191.7 374.8h0M182.9 374.2h0M185.1 377.8h0M191.6 380.2h0M194.1 377.6h0M178.5 379.0h0M185.0 369.0h0M184.1 375.5h0M173.6 374.1h0" stroke="#4a3cc8" stroke-width="1.05" stroke-linecap="round" opacity="0.85"/>
<circle cx="184.2" cy="377.6" r="12.6" fill="none" stroke="url(#rgD4)" stroke-width="1.1" opacity="1"/>
<circle cx="216" cy="377.6" r="14.6" fill="none" stroke="#e8dff0" stroke-width="0.9"/>
<circle cx="216" cy="377.6" r="13.2" fill="url(#g6)"/>
<path d="M211.3 369.1h0M208.6 373.3h0M217.8 373.7h0M214.1 386.7h0M221.6 385.5h0" stroke="#9484e0" stroke-width="0.9" stroke-linecap="round" opacity="0.7"/>
<path d="M208.8 386.1h0M214.5 388.6h0M221.9 374.9h0M215.9 379.7h0M214.7 383.5h0M204.1 375.8h0M213.1 387.5h0" stroke="#4a3cc8" stroke-width="1.05" stroke-linecap="round" opacity="0.85"/>
<circle cx="216" cy="377.6" r="12.6" fill="none" stroke="#e4d0f0" stroke-width="1.1" opacity="1"/>
<text x="0" y="0" font-size="9.3" text-anchor="end" transform="translate(38.3 287) scale(0.900 1)">SCR</text>
<text x="0" y="0" font-size="9.3" text-anchor="end" transform="translate(38.3 313.9) scale(0.900 1)">sh-β-</text>
<text x="0" y="0" font-size="9.3" text-anchor="end" transform="translate(38.3 322.3) scale(0.900 1)">catenin</text>
<text x="0" y="0" font-size="9.3" text-anchor="end" transform="translate(38.3 344.8) scale(0.900 1)">SCR</text>
<text x="0" y="0" font-size="9.3" text-anchor="end" transform="translate(38.3 352.1) scale(0.900 1)">+sora</text>
<text x="0" y="0" font-size="9.3" text-anchor="end" transform="translate(38.3 373.8) scale(0.900 1)">sh-β-</text>
<text x="0" y="0" font-size="9.3" text-anchor="end" transform="translate(38.3 382.6) scale(0.900 1)">catenin</text>
<text x="0" y="0" font-size="9.3" text-anchor="end" transform="translate(38.3 390.4) scale(0.900 1)">+sora</text>
<text x="5.1" y="402.6" font-size="8.1">Sora(μM)</text>
<text x="42.3" y="403.4" font-size="9">:</text>
<text x="57.3" y="403.4" font-size="9.5" text-anchor="middle">0.08</text>
<text x="88.2" y="403.4" font-size="9.5" text-anchor="middle">0.16</text>
<text x="122.2" y="403.4" font-size="9.5" text-anchor="middle">0.31</text>
<text x="154.2" y="403.4" font-size="9.5" text-anchor="middle">0.63</text>
<text x="185.5" y="403.4" font-size="9.5" text-anchor="middle">1.25</text>
<text x="218.2" y="403.4" font-size="9.5" text-anchor="middle">2.50</text>
<text x="239.1" y="259" font-size="13.5" stroke-width="0.15">E</text>
<text x="364.5" y="262.5" font-size="9.5" text-anchor="middle">HepG2</text>
<line x1="270" y1="265.1" x2="455" y2="265.1" stroke="#7a7a7a" stroke-width="1.4"/>
<rect x="270.3" y="267.7" width="184" height="29.1" fill="#fdfdfd" stroke="#a8a8a8" stroke-width="0.9"/>
<circle cx="285.6" cy="282.2" r="14" fill="none" stroke="#d8d0f0" stroke-width="0.9"/>
<circle cx="285.6" cy="282.2" r="12.6" fill="url(#g18)"/>
<path d="M291.4 284.0h0M284.3 277.2h0M289.9 277.1h0M293.8 282.8h0M286.7 284.2h0M284.1 290.5h0M289.4 292.3h0M282.5 291.7h0M282.9 285.9h0M276.6 286.2h0M276.1 283.0h0M289.3 285.8h0M291.5 288.5h0M290.6 276.3h0M287.6 278.0h0M287.1 291.9h0M287.9 272.1h0M291.0 289.3h0M286.4 292.4h0M277.0 277.5h0M288.0 271.2h0M274.5 284.6h0M282.9 292.8h0M293.5 288.4h0M292.8 276.8h0M278.8 290.3h0M289.5 273.1h0M280.7 289.5h0M294.4 282.4h0M282.1 291.4h0M293.8 283.3h0M291.1 287.3h0M295.7 280.9h0M280.9 276.2h0M287.9 283.9h0M274.7 279.0h0M285.0 276.1h0M291.8 281.1h0M293.9 284.8h0M281.9 283.5h0M291.7 278.9h0M283.2 284.2h0M296.7 283.2h0M294.8 280.2h0M290.6 283.9h0M286.8 283.7h0M288.0 274.3h0M292.2 283.5h0M277.1 284.5h0M280.5 281.7h0M287.0 278.0h0M276.2 285.8h0M287.5 283.8h0M295.4 281.5h0M289.0 291.3h0M294.1 288.5h0M290.2 283.4h0M287.2 291.6h0M290.0 277.5h0M286.8 274.3h0M276.2 284.8h0M286.3 292.2h0M282.6 286.8h0M280.1 275.5h0M296.4 285.0h0M286.5 274.0h0M288.4 272.4h0M289.2 283.0h0M277.5 282.7h0M283.1 277.3h0M290.6 288.2h0M287.9 282.1h0M294.5 279.6h0M282.9 285.8h0M278.0 285.2h0M293.0 284.9h0M295.6 277.2h0M283.4 274.8h0M287.7 279.9h0M283.6 272.5h0M290.2 288.4h0M276.6 287.5h0M280.2 278.8h0M289.2 274.5h0M287.1 274.8h0M281.7 288.5h0M290.9 291.0h0M281.2 275.7h0M277.8 276.3h0M290.6 281.0h0M294.5 288.4h0M295.0 278.8h0M274.7 279.5h0M288.9 279.3h0M282.0 272.4h0M284.0 292.6h0M292.9 277.7h0M277.5 286.7h0M289.0 273.3h0M294.1 281.6h0M283.2 287.0h0M283.8 273.4h0M276.6 275.3h0M292.0 274.3h0M280.8 277.5h0M278.4 281.8h0M274.4 283.8h0M276.0 278.1h0M279.1 277.2h0M292.3 275.5h0M280.7 288.7h0M280.4 272.7h0M289.4 284.0h0M281.2 277.0h0M291.9 291.1h0M281.1 279.0h0M293.0 278.6h0M288.4 282.7h0M291.3 291.4h0M280.0 273.7h0" stroke="#fff" stroke-width="1.3" stroke-linecap="round" opacity="0.85"/>
<circle cx="285.6" cy="282.2" r="12.2" fill="none" stroke="#8a6ae8" stroke-width="0.7" opacity="1"/>
<circle cx="316.3" cy="282.2" r="14" fill="none" stroke="#d8d0f0" stroke-width="0.9"/>
<circle cx="316.3" cy="282.2" r="12.6" fill="url(#g19)"/>
<path d="M322.9 285.2h0M323.2 282.4h0M316.5 272.4h0M306.3 284.2h0M306.0 285.5h0M312.3 278.9h0M308.6 278.8h0M310.3 280.9h0M314.3 276.7h0M314.3 288.4h0M315.7 288.0h0M316.5 272.6h0M325.3 284.0h0M324.7 286.8h0M308.9 287.1h0M317.1 272.0h0M313.4 275.9h0M323.9 287.4h0M305.7 279.9h0M320.6 278.3h0M307.9 287.5h0M306.5 287.7h0M324.3 282.9h0M322.4 272.9h0M309.7 282.0h0M310.2 278.3h0M313.9 275.2h0M319.6 290.9h0M317.4 273.8h0M308.7 277.2h0M314.8 282.0h0M308.8 290.0h0M306.0 281.5h0M319.2 281.4h0M315.1 273.8h0M322.5 282.3h0M307.9 282.6h0M321.5 276.8h0M318.2 274.5h0M326.9 278.3h0M321.8 291.2h0M321.9 287.0h0M322.4 276.9h0M317.6 282.4h0M327.0 281.4h0M323.5 280.6h0M313.0 291.5h0M325.1 285.1h0M319.6 287.0h0M316.6 275.8h0M326.0 281.6h0M308.6 276.6h0M317.1 293.4h0M326.9 285.0h0M307.2 280.3h0M308.8 280.1h0M320.1 288.7h0M311.8 276.7h0M319.1 272.8h0M320.6 283.1h0M321.4 275.0h0M322.2 288.8h0M306.8 279.2h0M305.3 283.9h0M327.1 283.3h0M314.2 274.8h0M320.5 285.4h0M313.5 273.0h0M312.2 281.5h0M323.2 287.3h0M321.7 286.6h0M322.5 283.3h0M306.4 278.9h0M323.3 282.9h0M313.3 287.7h0M315.7 282.6h0M318.8 288.5h0M320.6 276.7h0M312.5 272.7h0M313.5 274.6h0M312.8 290.3h0M311.8 287.7h0M313.8 284.9h0M310.0 277.4h0M323.2 285.0h0M324.2 285.6h0M305.6 278.8h0M321.6 289.7h0M318.0 276.0h0M307.5 284.9h0M322.6 287.6h0M325.3 276.0h0M318.0 281.2h0M311.4 273.4h0M313.8 288.2h0M313.0 275.6h0M322.5 278.6h0M322.9 274.9h0M308.8 288.8h0M324.4 276.4h0M315.3 287.0h0M307.8 276.5h0M311.4 278.1h0M310.7 274.1h0M308.7 288.5h0M311.1 272.3h0M327.4 283.5h0M315.5 277.2h0M320.2 288.9h0M309.4 276.2h0M307.0 287.6h0M307.1 280.8h0M313.1 272.1h0M318.6 285.8h0M305.9 284.2h0M323.2 276.7h0M322.0 289.9h0M322.2 274.0h0M317.8 285.3h0M310.1 283.7h0M311.9 291.4h0M317.3 273.2h0M324.9 277.3h0M320.6 288.9h0M312.8 293.0h0" stroke="#fff" stroke-width="1.3" stroke-linecap="round" opacity="0.85"/>
<circle cx="316.3" cy="282.2" r="12.2" fill="none" stroke="#8a6ae8" stroke-width="0.7" opacity="1"/>
<circle cx="346.9" cy="282.2" r="14" fill="none" stroke="#d8d0f0" stroke-width="0.9"/>
<circle cx="346.9" cy="282.2" r="12.6" fill="url(#g20)"/>
<path d="M347.7 272.7h0M341.9 285.5h0M341.9 272.2h0M337.3 286.9h0M355.5 284.2h0M349.5 290.5h0M338.7 275.4h0M336.2 280.7h0M344.6 286.7h0M337.2 284.4h0M346.1 279.3h0M347.0 288.8h0M336.3 284.2h0M346.5 285.5h0M355.5 275.8h0M347.3 279.2h0M346.5 287.9h0M351.2 279.7h0M351.2 286.7h0M348.4 276.5h0M354.0 281.5h0M343.4 277.5h0M344.1 292.6h0M353.4 282.2h0M344.8 285.2h0M349.6 289.6h0M337.9 281.0h0M343.7 286.7h0M339.9 279.7h0M340.6 291.6h0M345.1 281.1h0M357.8 279.3h0M338.2 289.5h0M355.6 289.0h0M352.1 291.6h0M342.0 272.2h0M343.8 291.4h0M351.6 280.4h0M350.5 290.5h0M349.3 284.9h0M354.3 283.0h0M342.0 275.5h0M344.8 280.6h0M354.2 287.6h0M348.0 283.9h0M355.8 285.9h0M355.2 280.1h0M352.8 282.5h0M342.6 272.8h0M349.2 290.3h0M355.6 284.3h0M347.2 273.6h0M348.3 276.0h0M342.7 275.0h0M343.7 279.8h0M337.9 284.9h0M347.8 291.2h0M354.9 283.2h0M355.8 278.8h0M336.1 281.8h0M343.9 274.1h0M339.3 289.9h0M339.0 278.9h0M343.2 286.1h0M350.3 290.9h0M336.9 279.9h0M339.5 284.7h0M340.7 280.0h0M356.1 280.0h0M344.2 290.4h0M352.9 272.8h0M343.5 272.0h0M349.6 275.1h0M339.6 286.4h0M355.7 285.2h0M337.1 278.9h0M340.9 291.8h0M346.3 273.1h0M348.5 293.2h0M343.0 273.6h0M349.0 287.8h0M350.5 292.6h0M337.6 285.7h0M343.1 272.5h0M345.4 288.1h0M352.0 281.1h0M354.8 282.2h0M353.9 283.2h0M347.7 274.3h0M349.5 285.4h0M355.6 285.0h0M340.4 289.5h0M351.7 287.1h0M340.0 279.9h0M344.6 276.0h0M346.9 272.6h0M338.5 287.4h0M340.6 291.3h0M346.5 275.4h0M352.5 274.6h0M353.4 274.8h0M354.6 277.7h0M341.3 290.6h0M354.8 278.3h0M344.9 273.1h0M343.9 287.5h0M342.9 278.4h0M337.2 285.6h0M340.9 287.8h0M355.9 280.3h0M341.2 280.8h0M346.8 274.6h0M344.5 271.3h0M350.0 276.8h0M355.6 278.0h0M348.4 285.2h0M347.0 291.4h0M345.6 282.4h0M350.6 281.0h0M351.5 274.9h0" stroke="#fff" stroke-width="1.3" stroke-linecap="round" opacity="0.85"/>
<circle cx="346.9" cy="282.2" r="12.2" fill="none" stroke="#8a6ae8" stroke-width="0.7" opacity="1"/>
<circle cx="377.8" cy="282.2" r="14" fill="none" stroke="#d8d0f0" stroke-width="0.9"/>
<circle cx="377.8" cy="282.2" r="12.6" fill="url(#g21)"/>
<path d="M386.8 288.0h0M372.8 278.6h0M379.5 273.2h0M382.2 274.0h0M376.1 272.1h0M375.3 286.0h0M381.7 279.4h0M367.2 278.3h0M373.9 287.6h0M373.4 286.3h0M377.8 275.2h0M386.1 286.4h0M377.5 288.0h0M388.4 283.4h0M371.1 288.7h0M367.1 283.6h0M386.5 286.1h0M381.1 276.2h0M371.1 285.2h0M372.8 292.2h0M379.2 292.3h0M387.7 285.1h0M386.9 287.3h0M383.4 284.7h0M377.2 289.1h0M379.3 273.7h0M383.3 283.9h0M369.1 287.1h0M372.4 275.7h0M381.7 271.8h0M388.6 278.7h0M387.7 276.7h0M375.7 272.6h0M371.0 278.3h0M381.8 275.6h0M384.6 277.7h0M388.4 283.7h0M376.5 282.4h0M382.1 272.8h0M383.8 276.4h0M380.9 287.6h0M368.3 280.0h0M371.8 280.0h0M384.6 291.3h0M388.9 282.1h0M373.7 281.7h0M379.4 291.1h0M384.6 275.1h0M386.4 289.2h0M372.7 275.9h0M378.8 274.3h0M375.3 281.6h0M387.6 287.3h0M368.6 287.1h0M372.4 287.9h0M386.2 289.3h0M377.7 292.5h0M380.9 288.6h0M386.2 287.5h0M386.0 277.6h0M373.8 277.1h0M382.4 280.8h0M377.8 291.3h0M373.4 276.9h0M373.8 279.7h0M385.5 284.7h0M368.2 277.2h0M366.9 284.5h0M379.0 271.0h0M375.7 274.4h0M371.4 274.8h0M377.6 287.9h0M373.8 290.2h0M385.0 284.6h0M384.6 291.0h0M369.1 284.9h0M383.1 288.6h0M388.1 279.8h0M382.5 279.4h0M384.5 274.2h0M372.4 287.4h0M383.8 278.5h0M376.9 291.8h0M369.6 282.0h0M368.9 286.8h0M376.4 274.1h0M384.1 279.8h0M376.4 289.9h0M386.5 282.4h0M371.1 283.2h0M369.7 284.8h0M370.0 277.9h0M373.6 288.6h0M380.4 279.3h0M381.8 279.0h0" stroke="#fff" stroke-width="1.3" stroke-linecap="round" opacity="0.85"/>
<path d="M383.9 280.2h0M384.6 277.1h0M386.4 278.6h0M380.5 277.1h0M385.2 274.8h0M381.6 275.8h0M381.5 276.6h0M382.2 281.0h0M387.1 277.0h0M384.0 281.7h0M383.5 276.3h0M384.4 278.0h0M384.8 277.2h0M378.4 276.3h0M379.8 278.7h0M378.2 275.5h0M382.5 278.2h0M377.7 278.8h0M383.1 276.2h0M381.6 272.5h0M382.7 276.5h0M385.7 277.5h0M386.8 275.7h0M380.8 281.9h0M383.5 274.2h0M383.1 278.9h0M381.4 278.4h0M378.4 277.2h0M383.7 277.0h0M385.5 279.4h0M383.4 278.9h0M378.7 275.1h0M382.7 274.3h0M382.6 277.6h0M383.4 273.1h0M385.6 279.2h0M385.5 278.3h0M384.8 273.0h0M378.3 274.9h0M377.4 277.4h0M382.4 277.9h0M377.3 277.7h0M379.6 274.1h0M383.1 273.1h0M382.1 274.3h0" stroke="#fff" stroke-width="1.6" stroke-linecap="round" opacity="0.85"/>
<circle cx="377.8" cy="282.2" r="12.2" fill="none" stroke="#8a6ae8" stroke-width="0.7" opacity="1"/>
<circle cx="409" cy="282.2" r="14" fill="none" stroke="#d8d0f0" stroke-width="0.9"/>
<circle cx="409" cy="282.2" r="12.6" fill="url(#g21)"/>
<path d="M405.6 284.8h0M404.6 279.7h0M401.7 283.1h0M407.2 277.1h0M412.9 281.4h0M417.9 286.3h0M419.7 281.2h0M411.4 277.5h0M411.2 288.9h0M409.5 287.8h0M406.4 289.5h0M404.3 291.6h0M411.6 277.8h0M399.0 280.9h0M419.9 284.7h0M401.4 278.9h0M400.0 288.4h0M400.9 280.8h0M414.5 280.6h0M398.2 284.7h0M414.5 273.5h0M412.2 278.0h0M405.0 274.6h0M420.3 282.1h0M400.7 288.7h0M403.8 288.3h0M406.9 271.6h0M410.2 276.5h0M419.2 286.7h0M400.1 280.1h0M405.7 271.6h0M407.6 273.0h0M399.6 285.0h0M408.1 273.2h0M416.5 280.6h0M418.1 275.4h0M408.4 274.3h0M401.5 280.8h0M412.3 272.5h0M412.3 289.2h0M409.4 276.8h0M409.0 273.2h0M412.8 288.8h0M412.8 279.4h0M397.8 283.9h0M406.4 292.3h0M399.8 288.4h0M418.4 278.4h0M412.2 292.9h0M403.2 290.9h0M404.2 274.2h0M401.0 288.6h0M419.7 280.9h0M412.2 276.4h0M409.3 292.4h0M398.5 285.0h0M397.8 282.1h0M420.0 283.2h0M406.4 292.0h0M401.0 277.1h0M399.4 285.8h0M413.9 276.5h0M407.3 273.5h0M404.7 274.6h0M406.6 277.2h0M400.1 288.2h0M413.4 291.2h0M400.8 284.5h0M408.4 292.3h0M412.9 288.6h0M415.9 286.8h0M417.1 285.8h0M404.1 282.1h0M415.3 286.7h0M416.7 278.2h0M404.4 278.4h0M409.4 278.1h0M418.2 280.7h0M399.9 288.1h0M411.6 289.4h0M412.4 272.0h0M407.3 287.8h0M406.3 274.3h0M418.1 275.4h0M418.6 282.0h0M419.0 280.9h0M409.8 293.4h0M417.5 285.2h0M409.6 291.9h0M400.2 279.8h0" stroke="#fff" stroke-width="1.3" stroke-linecap="round" opacity="0.85"/>
<path d="M414.6 273.9h0M408.7 276.9h0M412.0 278.3h0M410.1 276.7h0M409.8 276.1h0M411.5 279.3h0M416.9 274.7h0M414.3 275.3h0M412.0 275.7h0M414.8 280.6h0M413.2 272.8h0M411.8 278.0h0M416.5 274.2h0M418.2 277.9h0M414.4 277.2h0M409.8 279.7h0M412.5 279.0h0M412.2 272.9h0M416.9 276.2h0M410.2 278.5h0M415.8 277.9h0M413.8 274.3h0M415.5 274.5h0M414.3 279.3h0M413.5 280.0h0M412.3 272.0h0M410.7 278.5h0M413.7 273.9h0M412.3 280.8h0M417.6 279.1h0M415.1 278.8h0M411.3 276.2h0M417.1 280.1h0M409.6 276.9h0M417.8 276.3h0M412.6 272.5h0M418.2 276.2h0M413.1 280.9h0M413.6 277.2h0M410.7 280.5h0M413.4 281.6h0M417.1 273.8h0M411.4 276.5h0M414.0 276.7h0M414.4 272.2h0" stroke="#fff" stroke-width="1.6" stroke-linecap="round" opacity="0.85"/>
<path d="M399.5 286.6h0M401.4 285.1h0M403.9 283.8h0M406.5 285.6h0M399.5 288.6h0M402.8 285.4h0M400.0 286.6h0M400.7 288.1h0M403.1 283.9h0M406.1 290.4h0M403.0 285.8h0M404.3 283.4h0M405.0 290.4h0M407.3 287.8h0M400.3 287.7h0M403.1 282.9h0M404.1 289.2h0M404.8 283.2h0M401.2 289.5h0M402.1 289.0h0M403.3 285.9h0M404.9 289.5h0M404.9 283.7h0M402.3 287.4h0M404.5 284.8h0M402.9 287.0h0M402.0 283.8h0M402.0 289.6h0M406.3 290.0h0M400.3 284.5h0M401.8 285.9h0M407.6 286.9h0M406.4 285.7h0M401.2 287.4h0M403.1 291.2h0" stroke="#fff" stroke-width="1.6" stroke-linecap="round" opacity="0.85"/>
<circle cx="409" cy="282.2" r="12.2" fill="none" stroke="#8a6ae8" stroke-width="0.7" opacity="1"/>
<circle cx="440" cy="282.2" r="14" fill="none" stroke="#d8d0f0" stroke-width="0.9"/>
<circle cx="440" cy="282.2" r="12.6" fill="url(#g21)"/>
<path d="M430.8 286.3h0M431.6 280.3h0M443.0 276.7h0M448.7 280.9h0M448.2 288.1h0M441.5 293.4h0M437.6 276.7h0M447.0 280.6h0M441.4 281.8h0M437.2 291.3h0M438.8 289.5h0M447.4 287.9h0M444.1 276.4h0M435.8 274.4h0M436.4 271.4h0M432.6 280.5h0M430.1 283.6h0M451.3 282.1h0M438.5 286.5h0M445.7 280.3h0M437.8 277.4h0M430.0 282.1h0M447.2 280.0h0M430.7 287.0h0M435.3 281.7h0M436.6 287.7h0M440.5 272.7h0M447.4 286.7h0M441.5 271.7h0M438.5 273.2h0M428.9 283.3h0M433.5 283.7h0M437.6 289.6h0M434.4 286.0h0M432.4 289.8h0M442.9 286.4h0M440.8 287.8h0M450.5 281.2h0M440.4 281.4h0M435.3 273.4h0M442.1 288.6h0M432.1 281.7h0M432.7 287.2h0M442.3 272.2h0M447.4 274.8h0M443.5 291.0h0M440.4 291.2h0M432.5 290.3h0M431.7 284.2h0M437.6 290.6h0M436.0 279.5h0M448.4 279.8h0M441.1 292.8h0M449.4 285.3h0M432.0 290.0h0M449.8 287.0h0M433.2 275.0h0M433.7 285.9h0M434.3 278.3h0M447.2 277.1h0M440.9 272.2h0M442.3 290.4h0M444.1 284.4h0M450.3 287.0h0M432.4 284.0h0M438.5 276.2h0M443.1 284.8h0M444.3 287.7h0M440.6 290.5h0M434.5 291.7h0M429.3 280.7h0M432.0 278.1h0M443.7 282.0h0M450.2 278.6h0M443.0 283.4h0M435.9 287.8h0M435.8 276.2h0M438.7 273.7h0M435.9 287.3h0M436.7 277.4h0M433.9 282.5h0M434.6 274.2h0M429.9 284.2h0M439.7 278.7h0M432.5 277.9h0M432.9 277.8h0M446.3 274.4h0M439.9 278.0h0M435.0 286.1h0M448.8 280.1h0" stroke="#fff" stroke-width="1.3" stroke-linecap="round" opacity="0.85"/>
<path d="M439.3 278.2h0M438.7 276.6h0M436.5 277.9h0M434.1 271.6h0M435.4 278.7h0M440.3 276.0h0M437.6 272.4h0M435.9 277.3h0M437.6 279.4h0M439.6 277.0h0M440.3 277.4h0M435.2 272.0h0M431.6 278.3h0M438.7 273.7h0M431.8 277.4h0M435.9 275.0h0M434.4 274.9h0M434.6 276.1h0M437.2 273.4h0M432.1 274.1h0M432.6 277.1h0M437.0 273.8h0M432.1 276.7h0M436.2 281.1h0M437.8 272.0h0M434.8 280.4h0M438.5 273.7h0M438.0 275.2h0M436.6 273.6h0M434.9 274.1h0M438.8 277.8h0M435.8 273.7h0M435.5 274.3h0M438.4 275.9h0M433.6 274.9h0M434.6 275.3h0M437.3 274.3h0M432.7 273.5h0M438.9 273.2h0M438.5 273.2h0M436.7 277.5h0M434.5 278.5h0M436.6 276.7h0M436.7 279.2h0M433.1 280.3h0" stroke="#fff" stroke-width="1.6" stroke-linecap="round" opacity="0.85"/>
<path d="M448.8 285.4h0M443.0 292.0h0M440.9 289.3h0M444.7 290.6h0M445.3 284.5h0M441.2 285.3h0M447.3 285.6h0M442.5 284.5h0M446.4 291.8h0M444.6 284.6h0M446.9 287.2h0M446.0 286.9h0M443.1 287.7h0M443.9 290.0h0M449.1 291.1h0M441.5 286.6h0M450.0 288.3h0M446.1 289.2h0M446.4 286.7h0M445.6 292.2h0M445.1 285.5h0M446.1 286.3h0M448.4 290.0h0M442.2 285.1h0M449.7 290.5h0M445.9 287.6h0M450.4 288.4h0M442.1 290.2h0M443.2 291.3h0M442.7 288.6h0M445.3 292.0h0M446.5 292.5h0M449.5 286.2h0M445.5 291.8h0M446.2 284.3h0M446.5 288.0h0M445.1 287.6h0M448.7 287.3h0M449.4 284.9h0M445.1 290.3h0M444.9 289.6h0M446.8 283.5h0M444.2 283.5h0M440.7 288.0h0M449.8 286.7h0" stroke="#fff" stroke-width="1.6" stroke-linecap="round" opacity="0.85"/>
<circle cx="440" cy="282.2" r="12.2" fill="none" stroke="#8a6ae8" stroke-width="0.7" opacity="1"/>
<rect x="270.3" y="300.4" width="184" height="29" fill="#fdfdfd" stroke="#a8a8a8" stroke-width="0.9"/>
<circle cx="285.6" cy="314.9" r="14" fill="none" stroke="#d8d0f0" stroke-width="0.9"/>
<circle cx="285.6" cy="314.9" r="12.6" fill="url(#g22)"/>
<path d="M278.6 321.1h0M284.6 307.7h0M286.4 316.3h0M285.0 317.1h0M291.1 321.2h0M275.2 315.9h0M287.8 317.1h0M290.6 320.2h0M292.0 322.6h0M275.7 309.2h0M283.3 325.8h0M280.7 323.7h0M289.0 309.7h0M285.2 315.7h0M280.7 308.5h0M284.8 313.9h0M295.3 316.1h0M283.1 325.9h0M283.4 310.7h0M288.6 305.3h0M274.9 311.9h0M293.8 309.0h0M290.2 306.5h0M279.2 312.8h0M278.6 313.6h0M281.5 323.5h0M287.8 311.2h0M293.0 319.8h0M282.0 313.2h0M287.0 310.7h0M295.2 314.2h0M294.5 314.8h0M279.9 309.4h0M294.2 309.7h0M293.1 315.7h0M278.8 306.7h0M279.6 313.5h0M286.0 310.5h0M295.8 316.6h0M288.1 318.7h0M287.3 323.9h0M277.4 318.6h0M286.4 313.6h0M295.3 315.0h0M284.3 304.0h0M295.4 315.8h0M293.2 306.7h0M284.9 316.4h0M276.8 309.8h0M292.4 323.1h0M293.6 322.8h0M285.2 304.1h0M282.1 315.8h0M288.8 309.6h0M277.9 308.0h0M294.4 321.8h0M278.5 316.7h0M292.1 312.8h0M279.2 311.3h0M278.8 317.6h0M287.1 315.6h0M288.7 323.7h0M285.8 304.0h0M281.3 308.5h0M284.1 310.4h0M281.0 317.7h0M281.0 305.1h0M280.1 309.1h0M288.0 313.9h0M277.8 307.4h0M281.9 310.5h0M279.4 311.9h0M286.9 314.6h0M290.8 319.3h0M290.8 320.3h0M286.7 309.9h0M285.8 314.5h0M278.9 321.2h0M286.5 307.3h0M278.4 319.6h0M293.8 313.8h0M282.6 321.7h0M286.0 325.8h0M289.8 321.0h0M281.0 307.1h0M274.9 312.7h0M282.2 323.8h0M288.0 312.1h0M278.4 321.1h0M289.3 318.9h0M275.0 315.8h0M286.5 314.0h0M292.6 319.5h0M288.7 317.4h0M281.4 308.1h0M286.4 312.5h0M295.5 310.0h0M277.5 314.8h0M291.4 319.4h0M284.8 309.0h0M291.9 317.6h0M287.1 320.2h0M283.9 316.8h0M283.0 304.8h0M286.3 304.3h0M295.7 313.6h0M278.1 318.1h0M292.4 315.7h0M284.2 316.3h0M293.1 317.6h0M283.2 305.1h0M289.1 311.6h0M289.7 308.1h0M283.6 316.1h0M289.8 307.9h0M290.9 318.9h0M290.8 318.6h0M281.1 315.4h0M274.8 312.9h0M288.2 323.8h0M288.8 323.4h0M279.5 313.8h0M284.7 313.5h0M281.5 322.9h0M275.3 311.7h0M282.0 316.4h0M288.5 315.3h0M277.9 314.8h0M282.4 307.2h0M296.3 316.0h0M290.7 311.3h0M288.9 309.1h0M279.5 310.8h0M283.2 312.3h0M287.3 303.7h0M275.9 311.7h0M279.8 317.1h0M290.2 322.5h0M274.8 312.7h0M283.3 325.5h0M284.9 312.9h0M284.0 324.4h0M278.6 318.0h0M286.7 306.2h0M288.6 307.8h0M281.2 318.2h0M277.9 317.4h0M283.9 307.7h0M288.2 306.6h0M288.3 315.2h0M287.3 311.0h0M277.5 316.4h0M291.8 309.1h0M293.5 323.1h0M279.3 322.4h0M276.4 312.9h0M282.9 324.0h0M277.6 314.8h0M282.8 306.2h0M289.5 324.9h0M294.2 319.0h0M284.0 322.3h0M286.8 312.4h0M284.1 323.2h0M290.4 317.9h0M285.1 305.6h0M280.5 307.8h0M277.3 307.4h0M280.8 305.1h0M275.8 311.6h0" stroke="#fff" stroke-width="1.1" stroke-linecap="round" opacity="0.8"/>
<circle cx="285.6" cy="314.9" r="12.2" fill="none" stroke="#8a6ae8" stroke-width="0.7" opacity="1"/>
<circle cx="316.3" cy="314.9" r="14" fill="none" stroke="#d8d0f0" stroke-width="0.9"/>
<circle cx="316.3" cy="314.9" r="12.6" fill="url(#g23)"/>
<path d="M307.3 311.0h0M326.9 316.3h0M310.1 308.1h0M320.1 309.4h0M319.2 306.0h0M322.8 322.0h0M307.8 309.0h0M320.8 306.8h0M307.8 307.9h0M318.3 319.1h0M311.0 307.2h0M325.7 312.8h0M305.8 312.2h0M320.2 318.9h0M325.8 313.6h0M310.9 308.7h0M322.8 317.6h0M317.6 320.5h0M312.7 315.5h0M318.1 311.0h0M324.4 315.0h0M315.7 320.2h0M314.9 305.9h0M322.9 305.8h0M315.0 323.1h0M313.3 319.7h0M315.5 321.6h0M307.0 316.4h0M326.9 313.4h0M321.4 317.3h0M326.1 309.9h0M311.1 313.7h0M318.2 315.7h0M325.7 311.5h0M308.1 311.1h0M311.5 321.5h0M318.4 324.4h0M309.6 309.2h0M317.9 316.5h0M326.3 315.3h0M324.5 310.7h0M315.7 307.7h0M311.0 315.5h0M317.6 313.5h0M319.0 304.5h0M319.0 323.6h0M306.5 318.7h0M319.7 322.6h0M309.7 314.1h0M312.4 319.3h0M307.8 312.0h0M314.4 312.7h0M324.6 310.9h0M307.9 321.8h0M319.9 313.8h0M311.9 315.8h0M316.8 306.1h0M319.7 323.1h0M322.2 308.5h0M313.0 318.3h0M323.0 316.2h0M320.2 308.9h0M318.9 317.0h0M327.4 312.9h0M325.3 318.8h0M326.6 317.5h0M308.7 316.6h0M321.0 307.2h0M309.5 310.9h0M319.0 305.2h0M314.4 313.1h0M305.3 315.6h0M314.3 316.3h0M313.1 305.5h0M307.7 315.0h0M326.7 318.0h0M315.5 315.2h0M327.3 315.1h0M319.5 325.5h0M306.7 314.8h0M325.7 318.7h0M308.3 310.7h0M312.7 319.3h0M317.0 307.2h0M316.2 305.3h0M314.4 316.4h0M314.6 320.3h0M319.1 325.1h0M309.7 319.4h0M323.9 315.0h0M311.5 323.2h0M315.0 305.8h0M316.0 303.7h0M313.1 317.7h0M315.8 320.9h0M319.3 311.3h0M309.3 306.8h0M307.3 312.6h0M326.0 318.7h0M319.7 314.9h0M317.9 323.7h0M314.5 319.1h0M319.7 323.7h0M307.0 312.8h0M319.8 323.2h0M308.6 315.6h0M320.6 309.2h0M314.6 318.6h0M307.6 318.5h0M307.6 317.8h0M325.5 315.2h0M320.1 308.4h0M311.3 310.0h0M308.1 310.4h0M320.3 314.4h0M319.9 307.8h0M309.9 312.7h0M309.4 315.2h0M316.2 319.5h0M313.1 317.7h0M309.0 316.0h0M323.2 316.6h0M324.2 310.7h0M319.8 308.9h0M311.8 312.6h0M311.6 305.8h0M323.9 309.2h0M305.9 318.8h0M313.3 318.5h0M316.0 319.3h0M309.2 319.9h0M312.5 308.7h0M311.7 316.3h0M313.9 320.4h0M312.6 322.3h0M311.1 312.6h0M322.7 309.4h0M319.3 317.9h0M320.8 323.7h0M322.8 322.8h0M327.1 318.3h0M316.3 322.0h0M319.0 319.5h0M322.3 307.1h0M322.3 318.1h0M326.8 317.1h0M316.1 315.8h0M318.0 306.4h0M315.9 309.6h0M307.4 317.4h0M313.9 317.9h0M318.2 307.1h0M310.3 307.4h0M325.0 312.0h0M321.0 309.8h0M326.4 313.5h0M306.9 309.5h0M321.4 323.2h0M314.8 306.4h0M320.2 308.9h0" stroke="#fff" stroke-width="1.1" stroke-linecap="round" opacity="0.8"/>
<circle cx="316.3" cy="314.9" r="12.2" fill="none" stroke="#8a6ae8" stroke-width="0.7" opacity="1"/>
<circle cx="346.9" cy="314.9" r="14" fill="none" stroke="#d8d0f0" stroke-width="0.9"/>
<circle cx="346.9" cy="314.9" r="12.6" fill="url(#g24)"/>
<path d="M337.9 321.8h0M346.1 312.2h0M342.7 313.3h0M356.8 317.8h0M355.1 314.2h0M344.2 311.7h0M352.1 318.2h0M356.0 319.2h0M351.1 321.5h0M351.7 316.6h0M342.5 321.7h0M344.6 323.0h0M343.3 312.1h0M343.5 313.6h0M341.2 306.4h0M356.7 310.8h0M337.5 309.0h0M344.0 306.1h0M349.1 315.7h0M346.4 325.7h0M355.3 308.8h0M341.9 315.4h0M339.2 322.8h0M347.7 325.6h0M340.5 309.5h0M346.6 320.8h0M346.9 325.2h0M353.7 316.4h0M343.5 310.0h0M352.1 325.1h0M342.9 325.5h0M338.1 311.0h0M340.5 320.4h0M337.9 319.8h0M352.4 319.6h0M341.2 305.7h0M356.8 320.0h0M352.0 318.8h0M343.0 318.1h0M349.2 312.5h0M341.7 320.8h0M347.1 312.5h0M337.9 309.2h0M354.1 315.1h0M350.4 313.8h0M344.2 323.1h0M346.0 306.5h0M350.2 324.8h0M346.5 310.7h0M345.3 316.5h0M356.6 311.5h0M341.3 309.2h0M353.0 316.9h0M347.5 323.6h0M346.7 305.8h0M342.1 308.1h0M339.6 319.8h0M337.1 312.1h0M354.1 307.4h0M337.5 315.8h0M338.5 313.2h0M341.1 316.9h0M341.1 323.7h0M341.3 307.0h0M337.0 311.6h0M357.5 311.3h0M341.5 308.0h0M344.6 317.4h0M355.9 319.2h0M350.1 313.3h0M349.6 319.5h0M351.6 311.2h0M347.0 311.8h0M354.4 314.8h0M344.0 305.7h0M343.5 321.8h0M350.9 309.7h0M345.6 312.5h0M353.6 319.4h0M350.8 311.3h0M352.1 323.3h0M348.0 324.4h0M343.2 318.0h0M340.6 313.5h0M347.6 303.9h0M340.2 320.1h0M341.8 319.3h0M355.6 313.9h0M337.6 312.0h0M345.7 309.1h0M336.8 318.4h0M353.2 307.8h0M357.6 314.9h0M336.7 311.0h0M352.7 321.8h0M350.4 310.7h0M344.8 316.3h0M346.5 313.8h0M339.0 315.6h0M351.3 324.9h0M352.3 313.2h0M343.7 312.2h0M352.3 317.7h0M351.3 320.3h0M344.0 316.6h0M339.9 308.7h0M338.9 310.3h0M345.4 322.9h0M339.1 323.0h0M341.2 310.6h0M345.3 325.6h0M344.6 314.4h0M339.6 320.4h0M347.3 307.9h0M344.3 313.4h0M344.5 315.8h0M343.9 323.4h0M354.7 321.8h0M342.3 311.4h0M350.3 313.6h0M341.9 311.2h0M347.1 320.2h0M346.2 305.8h0M350.8 319.6h0M350.8 309.8h0M338.4 319.5h0M339.9 316.5h0M346.5 315.2h0M335.9 317.2h0M337.6 309.2h0M349.1 308.7h0M342.7 312.1h0M351.7 317.1h0M346.1 304.8h0M349.7 311.4h0M347.0 321.6h0M348.2 320.5h0M349.4 305.4h0M348.5 314.0h0M343.7 316.3h0M348.9 310.5h0M347.9 317.7h0M341.3 306.0h0M339.5 309.8h0M346.5 322.1h0M338.7 309.3h0M344.1 310.5h0M342.0 318.7h0M338.4 320.2h0M339.8 319.1h0M339.9 310.2h0M348.2 325.5h0M344.8 321.6h0M354.0 322.5h0M344.4 311.0h0M341.1 307.0h0M344.5 318.4h0M356.0 309.1h0M337.1 310.6h0M346.5 314.8h0M347.6 305.8h0M347.8 305.2h0M348.6 322.8h0M343.9 304.7h0M347.6 314.6h0M346.3 321.5h0M349.8 310.8h0M344.1 315.8h0M356.4 313.3h0M349.5 304.2h0" stroke="#fff" stroke-width="1.1" stroke-linecap="round" opacity="0.8"/>
<circle cx="346.9" cy="314.9" r="12.2" fill="none" stroke="#8a6ae8" stroke-width="0.7" opacity="1"/>
<circle cx="377.8" cy="314.9" r="14" fill="none" stroke="#d8d0f0" stroke-width="0.9"/>
<circle cx="377.8" cy="314.9" r="12.6" fill="url(#g25)"/>
<path d="M380.9 319.3h0M385.1 315.8h0M371.5 314.5h0M373.1 321.6h0M379.1 321.4h0M370.4 312.5h0M380.7 305.1h0M374.1 307.1h0M375.0 324.4h0M377.2 308.5h0M379.8 322.3h0M374.2 320.6h0M373.3 320.3h0M385.9 316.3h0M381.0 313.5h0M375.1 305.9h0M383.4 313.4h0M375.4 312.9h0M383.4 321.9h0M379.4 318.6h0M380.9 306.6h0M373.4 308.2h0M384.2 308.6h0M368.0 320.8h0M372.4 313.3h0M373.8 324.8h0M378.0 306.9h0M373.4 310.2h0M378.4 317.9h0M374.5 307.6h0M383.5 307.5h0M369.8 320.0h0M375.7 321.9h0M377.3 306.6h0M381.2 315.9h0M380.5 306.3h0M388.1 318.0h0M373.9 321.3h0M386.5 319.3h0M376.1 318.5h0M383.6 314.9h0M378.5 322.1h0M377.0 314.8h0M371.1 321.8h0M378.5 308.9h0M372.0 320.8h0M383.4 307.1h0M386.9 318.5h0M378.6 318.6h0M376.1 320.5h0M377.6 315.2h0M384.5 307.1h0M383.1 318.6h0M372.4 312.8h0M386.5 314.1h0M377.8 318.9h0M370.3 310.8h0M379.3 307.4h0M368.1 309.1h0M381.5 318.6h0M374.7 312.3h0M377.2 311.5h0M373.8 324.1h0M370.2 306.5h0M372.7 312.5h0M381.7 319.2h0M368.1 315.8h0M376.6 317.5h0M386.7 316.6h0M386.8 309.9h0M383.4 312.0h0M372.9 312.8h0M381.6 311.3h0M382.1 325.0h0M384.4 312.8h0M385.6 310.3h0M381.4 320.4h0M370.6 317.9h0M376.5 308.8h0M377.8 315.6h0M376.9 316.2h0M385.3 314.1h0M369.0 315.0h0M384.0 308.8h0M375.8 322.2h0M381.4 322.9h0M374.7 322.7h0M380.7 320.4h0M371.1 311.0h0M382.0 323.2h0M385.6 311.2h0M375.5 323.2h0M377.5 322.2h0M367.0 312.3h0M370.9 317.4h0M380.6 317.7h0M374.5 306.6h0M377.6 321.9h0M377.3 312.2h0M384.6 320.3h0M371.3 315.2h0M387.7 318.5h0M386.9 318.7h0M379.5 318.2h0M388.3 317.8h0M382.1 308.3h0M377.0 321.6h0M380.5 320.4h0M377.8 317.7h0M371.9 308.7h0M380.5 322.0h0M367.4 313.9h0M379.0 303.6h0M381.8 316.5h0M368.6 315.0h0M385.5 311.2h0M382.7 319.4h0M376.2 310.3h0M380.6 323.0h0M385.4 318.8h0M384.3 323.8h0M368.0 310.4h0M370.9 322.4h0M373.6 321.3h0M376.3 314.3h0M379.9 315.4h0M375.1 312.6h0M368.5 314.5h0M379.7 303.9h0M379.8 307.0h0M385.5 319.5h0M379.7 304.9h0M385.4 320.2h0M371.2 306.9h0M375.6 304.9h0M381.4 324.5h0M377.1 320.0h0M377.8 315.1h0M385.1 318.9h0M378.4 321.8h0M380.3 316.9h0M379.6 306.2h0M381.2 319.7h0M376.8 306.4h0M382.5 318.4h0M377.7 320.2h0M381.2 311.7h0M369.8 320.1h0M380.5 306.0h0M380.1 312.3h0M374.9 321.1h0M383.6 309.3h0M372.9 312.3h0M384.9 319.9h0M367.8 317.6h0M372.1 311.2h0M384.8 311.9h0M384.9 306.7h0M379.6 320.5h0M383.3 316.4h0M380.5 314.0h0M379.0 323.3h0M371.3 312.0h0M376.1 311.2h0M375.5 311.0h0M378.7 312.8h0M370.1 313.6h0M372.6 312.7h0M374.0 309.9h0M387.8 319.7h0M382.7 317.8h0M383.4 319.7h0M369.7 316.6h0M380.4 323.5h0M376.1 310.4h0M380.4 311.5h0M382.0 318.2h0M372.4 322.8h0M368.4 311.9h0M380.6 318.3h0" stroke="#fff" stroke-width="1.1" stroke-linecap="round" opacity="0.8"/>
<circle cx="377.8" cy="314.9" r="12.2" fill="none" stroke="#8a6ae8" stroke-width="0.7" opacity="1"/>
<circle cx="409" cy="314.9" r="14" fill="none" stroke="#d8d0f0" stroke-width="0.9"/>
<circle cx="409" cy="314.9" r="12.6" fill="url(#g26)"/>
<path d="M402.2 314.2h0M406.5 322.9h0M404.0 316.8h0M414.0 316.3h0M418.4 309.3h0M406.4 309.5h0M399.3 311.8h0M409.7 312.4h0M419.3 314.2h0M400.8 308.2h0M413.1 316.5h0M405.8 309.0h0M402.5 307.9h0M412.6 311.4h0M398.9 319.6h0M407.7 315.3h0M416.2 318.6h0M410.7 322.0h0M407.3 315.4h0M417.1 322.5h0M402.9 308.5h0M399.4 319.4h0M399.7 309.6h0M415.6 317.3h0M416.5 313.9h0M415.2 310.2h0M416.0 308.6h0M409.9 317.4h0M413.4 320.1h0M415.6 309.6h0M399.5 310.7h0M419.3 314.9h0M415.4 322.2h0M405.9 308.7h0M414.9 311.9h0M399.0 317.0h0M415.1 307.6h0M410.2 309.9h0M404.3 319.2h0M408.1 323.8h0M407.3 316.8h0M416.3 322.8h0M414.0 313.6h0M409.7 309.9h0M415.8 317.7h0M413.9 322.0h0M417.1 311.1h0M402.7 314.7h0M404.8 309.9h0M402.1 318.2h0M398.1 313.4h0M416.3 317.2h0M404.8 309.7h0M409.4 320.7h0M405.7 307.8h0M410.3 310.2h0M403.6 319.3h0M401.0 317.8h0M404.6 317.6h0M398.3 316.0h0M413.1 323.9h0M414.4 314.7h0M408.0 320.6h0M410.1 306.6h0M419.0 319.5h0M415.4 314.6h0M409.3 305.4h0M414.6 310.0h0M410.6 303.9h0M414.5 309.6h0M398.7 314.7h0M398.9 311.2h0M400.4 319.3h0M403.1 314.5h0M403.6 321.5h0M402.9 311.6h0M405.8 324.8h0M400.1 320.6h0M413.3 311.9h0M403.7 305.1h0M399.2 310.3h0M402.8 324.3h0M400.3 313.5h0M415.8 320.8h0M417.3 313.1h0M402.1 320.2h0M416.2 313.6h0M414.0 305.3h0M408.1 312.2h0M402.5 318.9h0M406.3 320.3h0M410.1 309.5h0M407.9 309.3h0M404.1 320.8h0M416.3 306.9h0M407.5 315.6h0M398.6 315.5h0M418.0 310.9h0M411.3 303.8h0M408.8 318.3h0M414.5 312.4h0M411.6 312.2h0M408.9 306.7h0M410.2 304.0h0M410.1 320.3h0M406.4 314.1h0M401.3 322.9h0M410.7 308.8h0M410.7 310.9h0M405.4 304.9h0M401.7 306.7h0M418.3 320.3h0M411.8 308.9h0M401.7 310.5h0M399.3 316.2h0M400.7 309.3h0M414.1 316.3h0M414.7 307.9h0M404.1 318.1h0M415.5 323.0h0M408.4 320.9h0M411.1 310.8h0M399.1 313.6h0M407.4 314.4h0M407.7 323.6h0M402.9 319.9h0M417.4 316.3h0M410.2 315.1h0M417.7 315.2h0M399.9 314.6h0M405.1 309.3h0M406.3 312.3h0M403.5 305.1h0M404.2 308.2h0M404.3 308.3h0M409.9 325.8h0M415.9 309.0h0M414.3 316.6h0M417.5 314.6h0M417.9 316.8h0M404.6 318.0h0M405.7 304.0h0M408.5 311.9h0M404.0 309.5h0M413.3 311.8h0M398.9 318.7h0M410.9 312.7h0M411.3 319.0h0M407.3 324.7h0M400.2 321.9h0M412.0 308.4h0M409.5 315.0h0M408.4 318.6h0M406.0 313.1h0M408.1 325.9h0M414.9 320.7h0M418.6 315.3h0M401.0 313.7h0M411.1 305.4h0M413.7 320.8h0M412.3 311.8h0M416.0 317.3h0M419.8 313.6h0M405.4 313.9h0M413.1 306.3h0M414.4 324.2h0M410.1 323.3h0M417.8 310.9h0M411.8 322.3h0M401.0 317.8h0" stroke="#fff" stroke-width="1.1" stroke-linecap="round" opacity="0.8"/>
<circle cx="409" cy="314.9" r="12.2" fill="none" stroke="#8a6ae8" stroke-width="0.7" opacity="1"/>
<circle cx="440" cy="314.9" r="14" fill="none" stroke="#d8d0f0" stroke-width="0.9"/>
<circle cx="440" cy="314.9" r="12.6" fill="url(#g27)"/>
<path d="M450.5 317.9h0M444.9 318.5h0M442.0 316.1h0M433.3 321.5h0M443.3 306.7h0M442.7 309.8h0M447.4 321.8h0M443.4 308.2h0M444.3 321.1h0M434.4 310.3h0M432.3 319.8h0M443.2 307.7h0M438.7 317.3h0M436.2 312.5h0M439.0 317.2h0M441.2 324.8h0M439.5 325.8h0M444.2 322.4h0M449.4 315.7h0M448.6 314.8h0M432.9 311.0h0M431.7 314.7h0M430.1 312.6h0M449.8 316.8h0M441.2 307.0h0M451.3 313.8h0M442.4 318.8h0M445.6 318.9h0M430.0 312.3h0M441.0 312.8h0M442.2 308.6h0M433.9 309.4h0M440.4 321.0h0M437.2 314.8h0M442.3 317.3h0M441.6 305.2h0M439.0 316.9h0M441.5 310.4h0M447.0 321.7h0M432.3 315.6h0M443.3 310.7h0M434.1 314.6h0M445.4 313.3h0M446.9 315.2h0M445.9 319.2h0M441.4 320.0h0M439.1 313.8h0M437.9 322.0h0M446.3 317.7h0M444.5 306.0h0M442.5 313.7h0M444.9 314.4h0M442.5 323.8h0M433.7 308.6h0M431.0 309.2h0M442.0 319.0h0M440.4 307.2h0M444.4 318.8h0M441.3 307.8h0M430.6 317.0h0M443.8 322.9h0M438.1 324.3h0M444.8 323.7h0M445.1 317.2h0M445.9 308.8h0M432.8 319.9h0M436.5 307.9h0M441.7 317.5h0M441.0 319.6h0M442.1 308.7h0M445.0 306.7h0M441.5 316.9h0M435.8 324.1h0M441.1 304.6h0M444.5 310.8h0M441.2 305.3h0M435.6 309.7h0M430.2 314.5h0M432.9 309.4h0M440.0 324.5h0M435.9 307.0h0M449.2 310.7h0M434.5 308.0h0M429.1 316.1h0M442.1 315.4h0M438.5 323.3h0M440.5 319.8h0M444.2 305.2h0M435.8 307.3h0M436.2 305.3h0M432.7 317.5h0M443.8 316.8h0M446.4 314.9h0M446.5 313.9h0M432.2 307.9h0M440.9 309.3h0M435.9 306.0h0M437.2 310.5h0M449.0 315.1h0M435.3 324.2h0M435.3 319.1h0M440.6 324.8h0M449.7 313.4h0M433.5 319.4h0M449.0 309.5h0M440.3 323.5h0M436.7 323.8h0M445.1 307.3h0M439.9 309.4h0M440.0 311.9h0M444.3 306.3h0M432.4 319.5h0M430.9 312.3h0M445.3 314.6h0M435.9 316.6h0M436.4 318.8h0M441.1 323.4h0M437.1 312.2h0M437.8 320.7h0M442.8 325.3h0M447.1 308.0h0M440.7 318.9h0M442.0 313.0h0M431.5 309.0h0M444.7 308.6h0M436.6 314.2h0M441.3 320.5h0M435.2 324.0h0M436.2 308.5h0M431.7 321.0h0M443.1 306.8h0M438.6 306.2h0M435.4 309.4h0M441.0 307.7h0M436.9 308.8h0M447.6 311.8h0M445.3 317.5h0M441.0 323.1h0M435.2 319.2h0M437.2 313.2h0M437.7 305.3h0M439.2 310.9h0M435.7 318.0h0M442.0 309.2h0M439.9 318.2h0M446.0 309.0h0M437.8 315.6h0M441.5 320.0h0M443.1 310.3h0M448.1 319.2h0M439.2 309.2h0M436.9 310.0h0M436.7 305.0h0M434.1 305.8h0M436.4 316.5h0M438.3 322.7h0M437.2 322.6h0M442.0 323.7h0M449.9 314.0h0M432.2 316.8h0M444.1 304.5h0M430.1 320.4h0M442.0 307.2h0M441.2 322.8h0M444.6 321.9h0M441.7 304.9h0M439.2 318.2h0M448.8 308.6h0M445.9 318.8h0M433.8 320.8h0M445.2 305.3h0M446.1 309.3h0M437.8 321.6h0M440.0 321.4h0M440.3 313.8h0M430.5 309.8h0M445.6 314.1h0M434.2 312.5h0M448.5 310.4h0M430.4 310.9h0M433.6 321.0h0M442.9 321.5h0M440.8 311.7h0M437.4 307.5h0M429.1 312.7h0M443.9 308.9h0M443.6 322.9h0M447.6 315.6h0M441.3 320.9h0M441.6 313.8h0" stroke="#fff" stroke-width="1.1" stroke-linecap="round" opacity="0.8"/>
<circle cx="440" cy="314.9" r="12.2" fill="none" stroke="#9070ea" stroke-width="0.7" opacity="1"/>
<rect x="270.3" y="331.6" width="184" height="29.2" fill="#fdfdfd" stroke="#a8a8a8" stroke-width="0.9"/>
<circle cx="285.6" cy="346.2" r="14" fill="none" stroke="#d8d0f0" stroke-width="0.9"/>
<circle cx="285.6" cy="346.2" r="12.6" fill="url(#g28)"/>
<path d="M285.5 342.8h0M285.6 350.1h0M280.4 349.9h0M284.8 342.9h0M289.8 343.0h0M283.4 348.1h0M278.5 342.1h0M287.9 354.5h0M281.5 345.5h0M285.0 347.5h0M286.9 334.7h0M284.9 343.0h0M281.6 354.3h0M292.0 349.8h0M281.7 340.7h0M286.3 347.7h0M296.1 346.6h0M287.9 341.4h0M280.3 351.7h0M281.7 346.4h0M282.3 342.4h0M286.0 338.7h0M284.6 352.7h0M279.9 342.7h0M287.2 338.5h0M277.0 352.9h0M290.9 348.4h0M285.4 344.9h0M295.5 350.0h0M285.0 350.4h0M284.2 338.8h0M287.6 356.7h0M285.6 346.2h0M284.2 349.7h0M282.3 352.8h0M279.7 342.0h0M287.7 343.6h0M284.0 350.6h0M288.4 345.8h0M281.1 356.5h0M295.2 346.6h0M291.2 343.4h0M285.4 347.2h0M278.4 338.6h0M286.1 349.0h0M282.4 354.8h0M283.9 355.2h0M274.3 345.5h0M276.4 346.8h0M282.2 340.9h0M278.1 350.5h0M294.5 341.5h0M278.5 349.2h0M281.9 346.3h0M285.9 339.7h0M294.2 347.6h0M275.5 344.6h0M285.4 346.4h0M281.0 353.2h0M282.4 346.0h0M286.0 350.5h0M296.5 348.2h0M284.5 357.2h0M287.4 357.4h0M286.1 345.4h0M293.0 341.8h0M285.0 342.3h0M281.2 348.1h0M289.3 349.5h0M291.8 351.6h0M282.9 356.7h0M289.1 345.0h0M292.3 350.4h0M277.5 348.8h0M289.9 351.5h0M283.2 357.5h0M281.9 342.1h0M274.2 348.1h0M277.9 344.1h0M286.6 339.2h0M282.7 349.9h0M277.2 348.2h0M286.2 350.4h0M286.3 349.9h0M284.3 347.1h0M295.6 341.8h0M291.7 343.1h0M283.2 348.2h0M291.7 349.8h0M283.0 356.3h0" stroke="#7050e8" stroke-width="1.0" stroke-linecap="round" opacity="0.7"/>
<path d="M275.7 351.2h0M279.7 351.9h0M290.7 349.1h0M291.0 349.5h0M277.6 348.6h0M284.6 346.2h0M286.4 357.2h0M281.7 348.3h0M284.3 341.5h0M280.7 343.1h0M281.1 343.8h0M279.4 349.8h0M292.2 346.1h0M294.1 343.7h0M282.2 347.3h0M291.1 345.0h0M285.7 351.3h0M288.2 341.7h0M276.3 345.6h0M291.2 341.5h0M288.9 337.3h0M280.9 354.3h0M277.0 350.1h0M292.6 339.3h0M290.0 339.7h0M276.6 346.4h0M294.8 349.8h0M285.1 341.8h0M280.8 351.2h0M279.2 342.2h0M293.9 339.2h0M289.1 336.1h0M282.6 344.3h0M283.9 349.7h0M295.7 350.4h0M284.2 346.9h0M290.1 356.0h0M285.5 346.8h0M289.0 339.3h0M287.5 342.6h0M288.1 347.0h0M283.4 353.9h0M286.6 349.9h0M284.2 343.9h0M285.2 347.2h0M291.6 347.6h0M295.5 351.6h0M290.1 345.9h0M283.3 338.1h0M280.1 341.6h0M286.6 348.0h0M285.1 347.7h0M285.6 346.2h0M284.2 351.2h0M288.6 352.1h0M277.5 339.7h0M284.0 345.1h0M290.5 350.5h0M286.6 347.1h0M292.3 341.0h0M285.8 346.0h0M276.5 347.0h0M289.8 354.7h0M290.0 343.5h0M288.8 338.9h0M281.4 344.0h0M284.6 355.5h0M283.9 342.6h0M274.2 345.8h0M280.0 340.7h0M280.2 350.9h0M278.5 342.6h0M286.4 354.2h0M285.5 346.0h0M285.1 342.3h0M280.4 353.1h0M285.2 346.3h0M295.4 347.5h0M286.8 345.8h0M285.4 346.3h0M291.4 341.9h0M280.5 338.6h0M282.9 338.5h0M286.1 346.9h0M282.6 343.3h0M287.5 352.9h0M276.3 346.2h0M280.9 354.0h0M282.4 338.4h0M284.7 347.6h0M283.6 352.4h0M290.9 345.3h0M276.2 347.9h0M292.9 349.1h0M287.5 352.7h0M285.8 346.0h0M285.9 346.6h0M282.7 351.3h0M282.6 344.3h0M284.3 344.2h0M277.3 343.9h0M282.5 348.7h0M280.9 354.4h0M286.1 342.4h0M286.3 348.1h0M285.7 346.3h0M284.3 349.6h0M282.1 347.6h0M285.6 343.6h0M284.1 342.5h0M290.3 348.5h0M287.6 349.1h0M277.1 347.0h0M293.3 349.0h0M285.3 345.0h0M280.9 352.3h0M287.6 336.9h0M285.0 350.6h0M292.9 352.8h0M284.3 346.4h0M290.8 340.2h0M289.2 343.4h0M294.9 347.9h0M278.0 338.8h0M280.2 350.2h0M286.2 348.5h0M282.2 350.9h0M287.6 348.9h0M294.6 343.0h0M288.5 339.2h0M277.2 342.2h0M281.5 338.0h0M291.5 340.7h0M284.1 353.3h0M289.1 339.3h0M286.8 350.9h0M274.5 345.2h0M288.6 353.1h0M287.1 345.6h0M282.6 342.6h0M285.4 344.7h0M288.0 351.6h0M287.9 341.6h0M285.3 347.7h0M286.8 345.1h0M288.9 339.6h0M274.3 343.9h0M283.0 347.8h0M277.4 344.6h0M285.3 344.6h0M283.4 336.6h0M292.4 354.9h0M290.6 346.1h0M285.7 357.3h0M288.7 350.8h0M284.6 346.9h0M283.3 337.0h0M286.3 356.8h0M290.6 348.1h0M290.9 347.9h0M280.9 344.3h0M287.7 354.7h0M289.0 350.9h0M286.1 343.8h0M293.4 344.0h0M281.1 340.4h0M285.7 351.3h0M292.1 342.4h0M295.4 349.3h0M286.3 351.9h0M283.1 344.8h0M293.2 351.0h0M283.1 357.2h0M287.6 351.0h0M285.2 345.7h0M281.8 342.7h0M287.7 352.5h0M282.4 349.6h0M285.2 345.2h0M283.9 347.7h0M288.6 356.5h0M287.1 338.3h0M278.3 337.2h0M281.1 347.0h0M285.7 341.9h0M286.1 345.9h0M285.6 348.2h0M293.8 348.4h0M279.7 352.9h0M277.4 348.0h0" stroke="#5a2ee0" stroke-width="1.1" stroke-linecap="round" opacity="0.9"/>
<path d="M285.7 339.4h0M294.3 346.7h0M289.5 348.8h0M276.6 344.0h0M285.9 347.6h0M281.2 356.1h0M284.0 344.2h0M282.3 336.2h0M274.7 343.6h0M279.1 347.2h0M290.8 337.1h0M285.2 354.4h0M293.2 338.8h0M290.1 350.1h0M275.6 348.3h0M281.4 346.6h0M283.9 335.9h0M295.2 349.1h0M290.1 341.3h0M284.9 334.9h0" stroke="#fff" stroke-width="1.2" stroke-linecap="round" opacity="0.8"/>
<circle cx="285.6" cy="346.2" r="12.2" fill="none" stroke="#9a80ea" stroke-width="0.7" opacity="1"/>
<circle cx="316.3" cy="346.2" r="14" fill="none" stroke="#d8d0f0" stroke-width="0.9"/>
<circle cx="316.3" cy="346.2" r="12.6" fill="url(#g28)"/>
<path d="M316.3 347.7h0M314.4 355.8h0M317.4 355.4h0M312.7 350.9h0M316.0 345.1h0M321.2 340.1h0M316.2 348.9h0M306.6 346.5h0M317.6 345.5h0M309.9 355.1h0M315.0 355.2h0M309.9 340.6h0M315.3 344.7h0M325.8 345.5h0M321.7 339.7h0M321.6 342.2h0M319.7 348.4h0M314.9 357.5h0M316.5 346.9h0M323.8 340.1h0M312.1 343.3h0M319.0 352.3h0M317.4 336.4h0M322.2 349.1h0M327.1 348.0h0M316.3 345.2h0M319.0 345.5h0M313.1 342.6h0M323.8 349.3h0M316.6 343.7h0M321.9 343.2h0M318.9 346.7h0M327.4 347.0h0M314.2 348.2h0M323.7 346.9h0M318.0 350.9h0M312.9 347.1h0M312.9 340.2h0M310.6 356.0h0M308.4 346.9h0M320.1 349.7h0M326.8 341.5h0M318.4 356.8h0M311.0 353.0h0M307.1 349.7h0M315.3 345.8h0M319.5 344.2h0M316.9 338.5h0M315.1 346.8h0M319.0 346.2h0M310.4 341.1h0M316.9 338.5h0M318.3 339.1h0M318.4 348.5h0M311.1 352.3h0M313.5 342.4h0M323.5 347.7h0M317.5 355.7h0M316.9 342.3h0M322.8 341.6h0M316.9 341.1h0M314.5 357.3h0M315.4 354.2h0M308.3 349.6h0M314.9 335.1h0M323.7 349.4h0M312.6 342.4h0M316.3 342.6h0M322.0 343.9h0M314.0 353.5h0M317.2 352.3h0M316.4 335.7h0M313.9 338.0h0M316.5 339.0h0M320.8 355.8h0M314.5 351.6h0M318.5 347.8h0M311.4 346.8h0M316.1 345.8h0M313.8 344.4h0M316.9 351.2h0M316.7 343.4h0M313.8 344.0h0M317.6 351.1h0M317.2 343.9h0M310.0 355.6h0M312.3 351.3h0M316.8 348.0h0M314.7 347.8h0M315.3 342.2h0" stroke="#7050e8" stroke-width="1.0" stroke-linecap="round" opacity="0.7"/>
<path d="M318.0 343.0h0M319.1 347.1h0M316.1 346.4h0M322.9 352.4h0M324.7 351.4h0M311.0 348.9h0M322.1 349.8h0M316.5 347.3h0M324.3 340.4h0M316.6 344.4h0M312.6 344.5h0M321.5 341.3h0M322.6 347.9h0M316.4 349.6h0M314.6 343.1h0M312.9 348.1h0M318.9 337.4h0M317.5 347.1h0M311.9 337.7h0M316.6 350.1h0M314.8 350.0h0M316.1 340.8h0M319.0 336.6h0M318.8 351.8h0M321.9 338.1h0M320.1 345.1h0M316.3 346.1h0M310.2 339.5h0M309.0 342.4h0M318.3 347.2h0M315.9 348.9h0M314.5 336.1h0M306.3 350.2h0M322.1 343.2h0M325.5 350.9h0M315.6 346.2h0M312.8 348.4h0M313.3 347.0h0M323.0 342.3h0M322.6 343.3h0M308.7 339.1h0M307.7 339.0h0M318.5 346.5h0M318.2 338.7h0M315.2 350.2h0M318.0 342.0h0M312.4 356.1h0M323.4 346.9h0M315.8 344.6h0M325.1 348.4h0M313.8 348.8h0M309.1 347.2h0M321.3 337.1h0M316.1 345.6h0M315.2 343.1h0M305.4 348.3h0M318.7 348.5h0M314.7 349.9h0M314.4 346.3h0M309.5 338.7h0M322.8 346.8h0M318.8 356.2h0M313.4 338.5h0M317.5 342.6h0M323.2 338.8h0M310.6 341.4h0M314.7 342.2h0M311.9 352.7h0M316.3 346.5h0M315.8 345.1h0M309.2 345.4h0M319.9 344.0h0M324.3 354.1h0M313.8 348.4h0M322.9 339.3h0M313.2 354.3h0M314.9 348.1h0M326.3 347.1h0M307.9 343.1h0M307.6 348.5h0M310.9 346.6h0M316.6 344.9h0M318.9 336.2h0M319.5 352.4h0M317.6 339.8h0M313.5 343.5h0M325.5 340.9h0M308.1 347.6h0M315.8 345.9h0M312.9 356.0h0M320.8 338.3h0M310.2 340.2h0M310.2 342.3h0M318.2 347.8h0M316.4 346.1h0M316.6 343.6h0M318.5 345.2h0M318.8 347.1h0M320.5 350.9h0M318.8 342.0h0M319.0 352.0h0M316.1 342.6h0M317.8 347.8h0M318.8 355.3h0M310.1 349.5h0M320.6 356.3h0M307.4 351.4h0M306.6 343.0h0M307.8 348.0h0M315.7 348.6h0M326.3 342.7h0M318.5 346.3h0M312.7 350.0h0M321.6 345.4h0M313.6 354.2h0M320.8 352.2h0M316.3 346.1h0M316.0 349.7h0M320.9 345.4h0M322.3 344.1h0M312.4 354.4h0M318.7 354.9h0M322.2 345.1h0M318.2 351.7h0M323.1 346.5h0M313.3 339.5h0M312.4 340.0h0M316.5 348.2h0M317.3 345.8h0M322.6 351.7h0M316.8 351.7h0M318.1 348.7h0M316.6 346.2h0M318.5 353.2h0M319.0 347.3h0M316.2 347.3h0M318.4 335.0h0M315.8 341.2h0M304.9 344.7h0M317.9 349.3h0M325.2 352.0h0M315.1 347.9h0M315.7 349.8h0M322.0 347.2h0M324.7 348.2h0M321.3 352.3h0M318.8 336.0h0M315.7 348.4h0M315.5 344.9h0M320.4 344.4h0M316.3 349.9h0M317.1 345.8h0M325.0 343.6h0M324.8 348.7h0M317.4 343.4h0M310.9 347.6h0M323.3 338.9h0M315.2 344.9h0M317.6 345.1h0M318.3 336.0h0M318.5 336.6h0M316.3 346.0h0M308.6 344.9h0M318.9 353.2h0M315.0 353.6h0M322.5 351.1h0M310.2 343.0h0M309.6 342.5h0M313.8 346.9h0M313.2 346.2h0M319.7 348.0h0M316.0 346.3h0M315.5 345.2h0M316.1 346.7h0M322.7 347.4h0M315.5 343.1h0M307.6 339.2h0M323.6 341.5h0M325.8 352.0h0M319.6 351.9h0M314.9 357.5h0M314.0 340.7h0M310.8 340.8h0M320.3 341.3h0M313.5 352.4h0M325.2 346.3h0M322.1 351.3h0M313.8 341.4h0M325.9 347.2h0M312.7 353.8h0" stroke="#5a2ee0" stroke-width="1.1" stroke-linecap="round" opacity="0.9"/>
<path d="M326.3 345.5h0M317.4 336.5h0M318.9 336.1h0M313.3 350.4h0M313.1 349.8h0M313.9 346.8h0M321.7 337.1h0M310.9 352.9h0M314.8 357.5h0M313.6 345.2h0M314.5 343.0h0M316.4 353.8h0M311.9 351.9h0M323.2 340.6h0M312.9 349.3h0M313.3 355.7h0M308.9 344.5h0M325.7 341.0h0M320.9 354.8h0M325.3 349.1h0" stroke="#fff" stroke-width="1.2" stroke-linecap="round" opacity="0.8"/>
<circle cx="316.3" cy="346.2" r="12.2" fill="none" stroke="#9a80ea" stroke-width="0.7" opacity="1"/>
<circle cx="346.9" cy="346.2" r="14" fill="none" stroke="#d8d0f0" stroke-width="0.9"/>
<circle cx="346.9" cy="346.2" r="12.6" fill="url(#g29)"/>
<path d="M347.5 343.1h0M346.7 346.7h0M348.4 354.9h0M345.8 346.6h0M357.8 347.3h0M352.4 348.8h0M342.2 345.7h0M346.9 350.5h0M341.8 348.3h0M355.4 340.0h0M350.3 347.6h0M353.2 347.1h0M343.6 340.9h0M350.4 348.4h0M350.8 354.2h0M349.8 339.2h0M336.4 344.8h0M344.9 344.4h0M353.2 342.1h0M350.5 343.1h0M339.5 343.8h0M345.7 345.9h0M348.4 350.6h0M347.4 346.3h0M343.1 337.0h0M346.8 341.1h0M350.4 342.4h0M350.6 347.7h0M354.7 339.4h0M349.1 341.8h0M349.3 350.8h0M342.5 345.5h0M348.1 347.2h0M346.6 345.8h0M347.4 349.4h0M347.8 348.5h0M349.4 340.8h0M347.1 356.2h0M347.2 346.4h0M346.7 355.3h0M346.8 345.7h0M351.0 341.6h0M339.2 351.1h0M349.8 351.7h0M349.3 351.7h0M346.1 345.0h0M345.6 340.4h0M343.1 340.5h0M344.1 352.4h0M340.6 344.4h0M346.4 346.6h0M347.7 352.8h0M354.0 346.6h0M351.6 349.3h0M346.1 345.8h0M350.7 353.4h0M335.9 344.2h0M354.4 346.9h0M346.3 352.5h0M342.1 339.4h0M348.2 346.9h0M343.6 335.3h0M352.3 347.3h0M349.0 346.0h0M347.3 341.6h0M343.3 346.4h0M338.2 340.0h0M349.7 342.1h0M347.7 342.4h0M339.5 350.0h0M353.3 349.1h0M336.7 342.7h0M343.0 342.1h0M345.1 348.5h0M340.9 352.7h0M339.8 339.0h0M351.3 346.8h0M356.7 348.5h0M347.9 344.8h0M340.5 340.6h0" stroke="#7050e8" stroke-width="1.0" stroke-linecap="round" opacity="0.7"/>
<path d="M350.1 354.0h0M343.0 343.2h0M347.7 350.4h0M343.7 349.1h0M337.5 350.5h0M353.9 342.9h0M341.1 339.3h0M353.4 337.6h0M347.2 337.1h0M341.1 348.8h0M353.0 345.3h0M338.3 339.9h0M335.5 345.3h0M350.8 344.4h0M341.9 338.0h0M344.9 352.4h0M337.4 342.8h0M347.6 352.8h0M349.3 341.1h0M348.6 353.1h0M351.4 338.0h0M343.9 346.2h0M348.0 346.1h0M338.3 345.9h0M353.9 343.7h0M348.9 344.9h0M342.0 355.9h0M347.0 346.5h0M340.9 342.8h0M342.0 353.0h0M343.6 353.7h0M347.8 346.7h0M355.1 343.7h0M350.7 345.4h0M341.9 354.1h0M350.3 343.3h0M350.5 351.6h0M357.0 342.2h0M347.4 346.2h0M346.4 346.8h0M349.6 337.0h0M347.3 336.2h0M352.6 347.2h0M347.9 347.0h0M347.6 355.2h0M353.3 336.8h0M344.8 347.0h0M350.1 353.3h0M351.4 347.0h0M344.3 340.3h0M349.4 339.2h0M352.6 348.8h0M352.4 349.8h0M353.8 342.0h0M355.2 342.1h0M349.1 342.2h0M347.2 339.5h0M343.8 337.3h0M345.9 343.3h0M345.0 341.8h0M351.9 344.8h0M346.5 338.6h0M344.1 347.5h0M339.6 344.4h0M352.1 337.3h0M343.6 337.0h0M338.7 343.1h0M351.3 341.8h0M341.8 345.9h0M351.9 338.8h0M351.7 337.9h0M345.7 345.6h0M347.8 347.1h0M344.4 342.3h0M356.9 350.5h0M357.0 344.8h0M348.4 347.2h0M342.6 348.4h0M350.4 350.1h0M346.5 347.1h0M350.6 352.6h0M347.6 344.9h0M340.7 348.6h0M346.3 348.1h0M349.4 345.0h0M340.8 341.2h0M339.8 337.4h0M351.0 351.6h0M341.5 350.5h0M351.9 355.9h0M349.7 349.9h0M341.3 345.3h0M353.8 343.0h0M350.5 353.4h0M354.5 347.7h0M347.6 344.7h0M349.2 347.0h0M341.2 348.7h0M346.7 354.8h0M353.4 340.7h0M345.0 340.2h0M347.4 346.0h0M343.3 353.5h0M341.0 345.3h0M336.3 344.8h0M347.4 354.9h0M349.6 354.3h0M353.2 348.0h0M341.9 345.0h0M345.3 347.0h0M338.1 346.5h0M344.6 345.0h0M348.0 347.3h0M349.9 342.4h0M347.0 346.2h0M343.4 350.9h0M345.7 357.1h0M336.0 345.0h0M345.5 339.7h0M354.2 348.9h0M347.9 344.2h0M350.0 354.6h0M347.8 352.0h0M344.1 336.9h0M343.7 353.5h0M340.9 338.8h0M338.1 350.3h0M341.1 350.6h0M349.9 351.8h0M343.8 336.5h0M340.9 339.1h0M345.5 346.1h0M345.7 350.5h0M342.9 354.8h0M344.9 343.0h0M349.7 338.0h0M343.8 349.0h0M347.5 349.6h0M346.9 345.4h0M351.8 347.5h0M337.3 344.2h0M344.8 345.4h0M351.7 348.2h0M349.6 338.8h0M345.4 353.7h0M351.6 336.0h0M347.8 346.7h0M348.8 350.5h0M351.0 348.0h0M346.5 347.1h0M342.5 341.5h0M341.6 353.6h0M346.0 340.7h0M340.1 348.6h0M350.4 343.4h0M346.5 344.7h0M340.5 337.9h0M337.2 347.1h0M351.4 353.0h0M347.9 341.8h0M346.0 352.0h0M340.9 354.6h0M341.9 346.3h0M347.9 344.0h0M345.4 340.9h0M344.9 339.2h0M347.4 344.8h0M346.5 346.9h0M343.9 347.9h0M348.3 345.2h0" stroke="#5a2ee0" stroke-width="1.1" stroke-linecap="round" opacity="0.9"/>
<path d="M347.7 337.1h0M350.4 356.1h0M341.0 344.6h0M351.4 347.5h0M345.8 337.9h0M339.8 353.9h0M352.4 349.8h0M341.6 342.6h0M344.3 349.0h0M348.5 351.3h0M341.6 342.1h0M353.8 347.1h0M357.9 346.9h0M351.2 344.3h0M347.9 345.3h0M342.9 337.2h0M340.0 340.9h0M349.6 355.4h0M344.8 340.1h0M337.9 343.1h0" stroke="#fff" stroke-width="1.2" stroke-linecap="round" opacity="0.8"/>
<circle cx="346.9" cy="346.2" r="12.2" fill="none" stroke="#9a80ea" stroke-width="0.7" opacity="1"/>
<circle cx="377.8" cy="346.2" r="14" fill="none" stroke="#d8d0f0" stroke-width="0.9"/>
<circle cx="377.8" cy="346.2" r="12.6" fill="url(#g30)"/>
<path d="M375.0 351.2h0M372.5 350.5h0M369.5 346.1h0M378.9 339.5h0M373.0 338.2h0M369.7 338.4h0M372.0 337.2h0M381.4 349.4h0M374.5 350.3h0M385.4 349.7h0M376.9 334.9h0M369.9 352.1h0M380.6 339.6h0M377.3 349.0h0M378.5 344.4h0M380.2 340.4h0M382.3 347.8h0M368.8 343.5h0M371.6 352.2h0M381.7 340.3h0M380.2 349.5h0M377.9 339.8h0M368.6 341.7h0M367.4 349.1h0M385.3 346.6h0M378.1 347.5h0M383.2 351.7h0M382.7 343.2h0M378.0 346.2h0M380.5 349.7h0M377.0 351.6h0M381.3 354.7h0M377.8 346.4h0M375.6 345.6h0M385.4 351.8h0M373.5 343.3h0M381.1 346.4h0M381.9 352.5h0M382.9 341.9h0M378.0 339.0h0M378.3 346.7h0M369.7 339.9h0M368.8 344.8h0M376.1 347.6h0M367.3 344.9h0M384.7 343.3h0M384.3 352.3h0M370.8 337.9h0M371.7 346.0h0M379.2 340.5h0" stroke="#9a88ee" stroke-width="1.0" stroke-linecap="round" opacity="0.7"/>
<path d="M381.2 345.8h0M377.4 344.3h0M367.7 345.7h0M380.6 350.0h0M377.8 346.1h0M376.3 348.2h0M379.2 339.6h0M368.2 347.2h0M375.1 341.2h0M377.8 337.9h0M378.0 345.4h0M387.2 348.3h0M377.0 347.3h0M375.5 348.9h0M376.6 350.5h0M387.4 349.2h0M377.8 343.8h0M380.9 344.8h0M372.5 350.9h0M374.1 341.3h0M376.4 344.4h0M370.4 345.0h0M372.1 347.1h0M379.0 346.1h0M375.5 342.2h0M374.3 342.3h0M376.7 345.3h0M376.8 345.1h0M381.1 345.5h0M371.5 343.2h0M381.7 342.4h0M383.5 349.3h0M366.5 346.3h0M382.2 343.9h0M382.8 355.8h0M372.0 339.7h0M370.8 346.0h0M373.1 348.2h0M380.1 339.2h0M386.6 343.8h0M389.0 346.3h0M382.3 343.4h0M371.7 346.7h0M385.4 344.2h0M386.4 344.8h0M377.4 354.1h0M375.6 335.7h0M367.6 345.1h0M378.4 336.1h0M379.8 348.4h0M377.6 351.3h0M382.1 346.6h0M371.1 337.9h0M384.7 344.3h0M387.7 350.7h0M378.2 336.8h0M379.8 345.3h0M380.0 353.8h0M377.7 348.2h0M374.7 344.2h0M383.5 338.4h0M368.1 345.2h0M371.4 351.8h0M381.9 351.5h0M373.3 351.8h0M374.5 345.7h0M367.2 345.9h0M384.5 347.2h0M385.6 347.8h0M378.0 355.0h0M372.9 343.4h0M380.6 352.9h0M368.4 345.7h0M378.7 345.7h0M385.1 353.0h0M368.3 341.1h0M372.1 339.9h0M380.8 352.2h0M387.3 349.9h0M377.3 356.4h0M379.8 344.2h0M379.4 344.8h0M383.7 343.7h0M381.3 354.1h0M369.9 341.9h0M371.3 339.6h0M378.8 345.6h0M373.3 341.4h0M370.5 339.7h0M381.3 345.9h0M378.2 357.0h0M376.6 337.9h0M374.9 335.0h0M375.0 341.1h0M381.9 348.6h0M375.5 345.8h0M380.5 346.3h0M379.0 347.0h0M388.5 344.2h0M381.5 345.5h0M382.7 346.1h0M375.5 353.9h0M375.8 341.8h0M376.3 348.0h0M377.2 340.0h0M367.6 343.5h0M379.8 344.0h0M383.3 348.7h0M375.8 342.3h0M379.4 347.6h0" stroke="#5a2ee0" stroke-width="1.1" stroke-linecap="round" opacity="0.9"/>
<circle cx="377.8" cy="346.2" r="12.2" fill="none" stroke="#a890ea" stroke-width="0.7" opacity="1"/>
<circle cx="409" cy="346.2" r="14" fill="none" stroke="#d8d0f0" stroke-width="0.9"/>
<circle cx="409" cy="346.2" r="12.6" fill="url(#g31)"/>
<path d="M409.7 346.5h0M412.8 348.2h0M409.4 349.1h0M412.8 344.4h0M410.9 346.5h0M408.7 346.1h0M410.3 343.6h0M407.3 348.5h0M409.0 348.8h0M407.3 339.5h0M407.4 336.4h0M404.6 349.3h0M410.9 340.6h0M417.8 351.9h0M409.0 346.1h0M408.8 346.3h0M411.7 344.6h0M405.6 344.5h0M417.0 342.6h0M406.0 349.3h0M414.9 343.3h0M408.2 335.9h0M404.2 351.0h0M407.9 346.6h0M403.3 346.5h0" stroke="#a898ee" stroke-width="1.0" stroke-linecap="round" opacity="0.7"/>
<path d="M412.2 345.2h0M408.0 357.0h0M413.4 337.9h0M415.2 350.3h0M408.4 346.2h0M409.0 357.0h0M405.9 349.3h0M409.4 345.7h0M408.8 346.0h0M404.4 341.0h0M408.4 342.9h0M401.7 338.7h0M406.5 344.8h0M409.1 346.0h0M408.8 346.2h0M409.0 346.3h0M408.4 347.2h0M409.0 346.2h0M410.0 345.1h0M418.6 345.4h0M411.2 344.9h0M410.2 348.2h0M417.9 347.8h0M408.0 345.8h0M407.9 357.4h0M410.7 342.5h0M412.9 347.9h0M416.0 348.2h0M411.8 347.7h0M408.8 348.6h0M412.1 342.4h0M411.9 336.2h0M409.8 354.6h0M399.6 345.3h0M400.5 343.6h0M400.2 351.0h0M410.2 345.2h0M414.2 340.2h0M408.6 346.2h0M410.6 352.1h0M399.8 353.1h0M412.0 348.4h0M409.1 344.4h0M413.1 351.3h0M402.8 344.8h0" stroke="#5a2ee0" stroke-width="1.1" stroke-linecap="round" opacity="0.9"/>
<circle cx="409" cy="346.2" r="12.2" fill="none" stroke="#b8a4ee" stroke-width="0.7" opacity="1"/>
<circle cx="440" cy="346.2" r="14" fill="none" stroke="#d8d0f0" stroke-width="0.9"/>
<circle cx="440" cy="346.2" r="12.6" fill="url(#g32)"/>
<path d="M438.2 340.8h0M438.5 335.2h0" stroke="#5a2ee0" stroke-width="1.1" stroke-linecap="round" opacity="0.9"/>
<circle cx="440" cy="346.2" r="12.2" fill="none" stroke="#c4b0f0" stroke-width="0.7" opacity="1"/>
<path d="M448.9 353.7A11.6 11.6 0 0 1 429.9 352" fill="none" stroke="#b880e8" stroke-width="1.3" stroke-linecap="round" opacity="0.55"/>
<rect x="270.3" y="363.2" width="184" height="29.5" fill="#fdfdfd" stroke="#a8a8a8" stroke-width="0.9"/>
<circle cx="285.6" cy="377.9" r="14" fill="none" stroke="#d8d0f0" stroke-width="0.9"/>
<circle cx="285.6" cy="377.9" r="12.6" fill="url(#g33)"/>
<path d="M283.8 371.8h0M295.7 373.9h0M276.4 375.8h0M286.4 369.9h0M294.7 372.0h0M292.0 371.4h0M286.5 366.5h0" stroke="#5a2ee0" stroke-width="1.1" stroke-linecap="round" opacity="0.9"/>
<circle cx="285.6" cy="377.9" r="12.2" fill="none" stroke="#a890e8" stroke-width="0.7" opacity="1"/>
<path d="M289.6 388.9A11.7 11.7 0 0 1 274.1 380" fill="none" stroke="#c890e8" stroke-width="1.2" stroke-linecap="round" opacity="0.5"/>
<circle cx="316.3" cy="377.9" r="14" fill="none" stroke="#d8d0f0" stroke-width="0.9"/>
<circle cx="316.3" cy="377.9" r="12.6" fill="url(#g33)"/>
<path d="M323.2 368.9h0M321.0 368.3h0M326.4 377.8h0M321.2 375.3h0M317.8 369.3h0M313.5 385.3h0" stroke="#5a2ee0" stroke-width="1.1" stroke-linecap="round" opacity="0.9"/>
<circle cx="316.3" cy="377.9" r="12.2" fill="none" stroke="#a890e8" stroke-width="0.7" opacity="1"/>
<path d="M322.2 388.1A11.7 11.7 0 0 1 305.3 382" fill="none" stroke="#c890e8" stroke-width="1.2" stroke-linecap="round" opacity="0.45"/>
<circle cx="346.9" cy="377.9" r="14" fill="none" stroke="#d8d0f0" stroke-width="0.9"/>
<circle cx="346.9" cy="377.9" r="12.6" fill="url(#g33)"/>
<path d="M345.8 383.4h0M356.3 383.1h0M346.1 384.0h0M353.9 375.3h0M342.8 377.9h0M346.0 384.9h0" stroke="#5a2ee0" stroke-width="1.1" stroke-linecap="round" opacity="0.9"/>
<circle cx="346.9" cy="377.9" r="12.2" fill="none" stroke="#a890e8" stroke-width="0.7" opacity="1"/>
<circle cx="377.8" cy="377.9" r="14" fill="none" stroke="#d8d0f0" stroke-width="0.9"/>
<circle cx="377.8" cy="377.9" r="12.6" fill="url(#g33)"/>
<path d="M374.0 369.6h0M367.6 376.3h0M372.6 378.5h0" stroke="#5a2ee0" stroke-width="1.1" stroke-linecap="round" opacity="0.9"/>
<circle cx="377.8" cy="377.9" r="12.2" fill="none" stroke="#a890e8" stroke-width="0.7" opacity="1"/>
<path d="M383.7 388.1A11.7 11.7 0 0 1 366.3 380" fill="none" stroke="#c890e8" stroke-width="1.2" stroke-linecap="round" opacity="0.45"/>
<circle cx="409" cy="377.9" r="14" fill="none" stroke="#d8d0f0" stroke-width="0.9"/>
<circle cx="409" cy="377.9" r="12.6" fill="url(#g34)"/>
<path d="M403.1 387.0h0M416.0 369.3h0M401.0 377.7h0M418.4 371.6h0M415.7 376.6h0M398.1 378.5h0M408.3 385.2h0M406.1 371.3h0" stroke="#5a2ee0" stroke-width="1.1" stroke-linecap="round" opacity="0.9"/>
<circle cx="409" cy="377.9" r="12.2" fill="none" stroke="#a088e8" stroke-width="0.7" opacity="1"/>
<path d="M414.8 388A11.5 11.5 0 0 1 397.6 375.9" fill="none" stroke="#b070e0" stroke-width="1.5" stroke-linecap="round" opacity="0.6"/>
<circle cx="440" cy="377.9" r="14" fill="none" stroke="#d8d0f0" stroke-width="0.9"/>
<circle cx="440" cy="377.9" r="12.6" fill="url(#g34)"/>
<path d="M435.2 384.8h0M443.1 378.7h0M450.8 379.5h0M442.7 378.9h0M442.4 373.9h0" stroke="#5a2ee0" stroke-width="1.1" stroke-linecap="round" opacity="0.9"/>
<circle cx="440" cy="377.9" r="12.2" fill="none" stroke="#a088e8" stroke-width="0.7" opacity="1"/>
<path d="M443.9 388.7A11.4 11.4 0 0 1 429.2 374" fill="none" stroke="#a050e0" stroke-width="1.7" stroke-linecap="round" opacity="0.65"/>
<text x="0" y="0" font-size="9.3" text-anchor="end" transform="translate(267.9 287) scale(0.900 1)">SCR</text>
<text x="0" y="0" font-size="9.3" text-anchor="end" transform="translate(267.9 313.9) scale(0.900 1)">sh-β-</text>
<text x="0" y="0" font-size="9.3" text-anchor="end" transform="translate(267.9 322.3) scale(0.900 1)">catenin</text>
<text x="0" y="0" font-size="9.3" text-anchor="end" transform="translate(267.9 344.8) scale(0.900 1)">SCR</text>
<text x="0" y="0" font-size="9.3" text-anchor="end" transform="translate(267.9 352.1) scale(0.900 1)">+sora</text>
<text x="0" y="0" font-size="9.3" text-anchor="end" transform="translate(267.9 373.8) scale(0.900 1)">sh-β-</text>
<text x="0" y="0" font-size="9.3" text-anchor="end" transform="translate(267.9 382.6) scale(0.900 1)">catenin</text>
<text x="0" y="0" font-size="9.3" text-anchor="end" transform="translate(267.9 390.4) scale(0.900 1)">+sora</text>
<text x="233.6" y="402.9" font-size="8.1">Sora(μM)</text>
<text x="270.5" y="403.7" font-size="9">:</text>
<text x="284.5" y="403.7" font-size="9.5" text-anchor="middle">0.16</text>
<text x="315.3" y="403.7" font-size="9.5" text-anchor="middle">0.31</text>
<text x="346.7" y="403.7" font-size="9.5" text-anchor="middle">0.63</text>
<text x="377" y="403.7" font-size="9.5" text-anchor="middle">1.25</text>
<text x="409.5" y="403.7" font-size="9.5" text-anchor="middle">2.50</text>
<text x="440.7" y="403.7" font-size="9.5" text-anchor="middle">5.00</text>
<text x="473.5" y="258" font-size="13.5" stroke-width="0.15">F</text>
<text x="592.9" y="262.5" font-size="9.5" text-anchor="middle">MHCC-97H</text>
<line x1="501" y1="265.1" x2="678.4" y2="265.1" stroke="#7a7a7a" stroke-width="1.4"/>
<rect x="501.6" y="268.3" width="177.2" height="29" fill="#fdfdfd" stroke="#a0a0a0" stroke-width="0.9"/>
<circle cx="516.5" cy="282.8" r="14.1" fill="none" stroke="#d8d4e8" stroke-width="0.9"/>
<circle cx="516.5" cy="282.8" r="12.7" fill="url(#g35)"/>
<path d="M510.9 278.8h0M523.4 282.9h0M519.9 276.0h0M512.4 280.5h0M510.1 285.9h0M520.2 287.2h0M525.5 288.9h0M508.1 282.7h0M517.8 273.2h0M513.3 293.3h0M505.8 278.8h0M515.4 289.6h0M526.1 287.0h0M509.0 275.4h0M508.5 290.7h0M516.6 272.2h0M526.9 285.1h0M526.1 280.0h0M507.9 286.0h0M515.8 287.9h0M523.8 276.9h0M520.6 278.8h0M507.6 288.5h0M521.9 289.3h0M511.0 284.4h0M516.7 273.3h0M508.2 288.7h0M520.0 282.3h0M522.6 282.7h0M511.6 285.0h0M524.8 285.6h0M523.1 288.9h0M526.2 278.6h0M518.8 287.4h0M521.9 276.3h0M523.5 282.5h0M509.9 279.4h0M523.5 287.1h0M509.3 282.2h0M526.3 282.3h0M516.8 283.6h0M520.3 285.2h0M518.6 284.8h0M517.7 276.4h0M511.8 288.4h0M510.0 285.0h0M507.7 281.7h0M514.3 290.8h0M519.5 287.2h0M513.3 288.8h0M513.5 290.6h0M513.3 274.5h0M517.2 283.5h0M518.4 287.4h0M519.5 272.6h0M520.5 292.5h0M522.8 275.8h0M510.3 280.0h0M512.0 278.8h0M510.8 290.6h0" stroke="#7a50d8" stroke-width="1.0" stroke-linecap="round" opacity="0.75"/>
<path d="M516.5 293.8h0M514.9 286.2h0M511.8 279.0h0M509.1 287.0h0M518.2 287.6h0M511.4 273.0h0M519.6 284.8h0M519.2 285.4h0M525.1 285.6h0M510.5 282.5h0M511.4 288.2h0M511.4 291.4h0M522.0 287.1h0M512.7 283.8h0M511.8 285.0h0M515.3 279.4h0M517.8 286.9h0M524.3 286.9h0M518.9 293.0h0M515.1 282.8h0M510.9 292.7h0M519.2 272.1h0M518.9 286.0h0M523.1 289.8h0M519.1 280.4h0M523.6 286.9h0M515.1 289.9h0M506.6 288.2h0M517.0 292.7h0M519.3 290.9h0M514.2 283.1h0M525.4 279.6h0M506.5 277.7h0M514.1 280.3h0M513.7 287.4h0M527.5 282.0h0M514.5 272.5h0M513.4 282.9h0M526.7 281.6h0M525.2 277.8h0M509.3 288.1h0M525.2 289.8h0M519.5 278.2h0M512.0 279.5h0M509.1 288.2h0M513.9 290.2h0M526.4 278.4h0M518.6 272.3h0M515.5 291.6h0M507.8 275.7h0M526.1 285.3h0M511.5 276.0h0M507.8 284.2h0M518.5 275.5h0M513.9 276.6h0M524.2 278.1h0M521.2 278.1h0M522.5 277.7h0M526.5 280.3h0M522.4 288.1h0M511.9 286.1h0M515.7 285.4h0M521.0 282.3h0M523.8 276.3h0M514.8 288.9h0M520.3 276.5h0M521.3 288.9h0M516.4 282.7h0M513.2 279.5h0M506.7 279.9h0M518.2 277.3h0M519.1 275.8h0M509.6 287.8h0M511.1 288.8h0M526.1 279.2h0M515.1 285.6h0M516.6 280.9h0M508.1 279.7h0M525.5 279.3h0M518.5 274.6h0M509.1 285.1h0M518.1 282.4h0M514.8 278.0h0M509.2 285.9h0M519.4 285.6h0M509.5 273.9h0M520.8 286.8h0M509.4 280.4h0M520.5 291.4h0M511.4 278.1h0" stroke="#fff" stroke-width="1.2" stroke-linecap="round" opacity="0.8"/>
<circle cx="516.5" cy="282.8" r="12.2" fill="none" stroke="#5432c4" stroke-width="1.0" opacity="0.75"/>
<circle cx="545.7" cy="282.8" r="14.1" fill="none" stroke="#d8d4e8" stroke-width="0.9"/>
<circle cx="545.7" cy="282.8" r="12.7" fill="url(#g36)"/>
<path d="M537.3 289.0h0M537.8 283.1h0M546.5 292.3h0M545.3 294.3h0M546.2 294.3h0M552.2 287.2h0M534.9 279.1h0M549.3 277.4h0M538.4 274.7h0M550.5 292.2h0M550.1 272.2h0M547.6 292.7h0M534.7 285.8h0M545.9 281.3h0M555.6 279.0h0M543.3 294.0h0M551.6 292.5h0M544.2 281.8h0M548.2 276.7h0M550.0 284.9h0M552.4 286.9h0M543.1 293.7h0M542.8 285.3h0M555.5 283.0h0M554.6 290.0h0M545.7 274.0h0M540.1 280.1h0M551.0 279.1h0M551.2 289.8h0M553.3 274.2h0M541.5 286.7h0M542.0 283.7h0M541.3 279.6h0M542.7 292.7h0M554.4 279.6h0M543.4 294.0h0M538.5 277.9h0M536.9 288.8h0M543.6 287.0h0M541.6 287.9h0M547.8 286.4h0M543.8 277.4h0M551.9 275.7h0M550.8 274.7h0M555.5 286.6h0M553.1 284.1h0M550.3 275.4h0M552.7 278.3h0M546.8 275.5h0M540.6 290.6h0M538.8 283.7h0M547.5 275.7h0M553.5 279.8h0M535.9 288.7h0M538.6 281.3h0M539.3 277.5h0M551.2 284.1h0M543.3 291.6h0M538.4 284.8h0M540.0 291.4h0M542.5 286.8h0M548.6 292.8h0M543.0 289.0h0M547.2 284.5h0M547.6 282.3h0M545.7 288.5h0M544.5 293.6h0M556.4 286.9h0M537.7 283.9h0M534.8 281.7h0" stroke="#7a50d8" stroke-width="1.0" stroke-linecap="round" opacity="0.75"/>
<path d="M549.8 289.6h0M549.3 291.7h0M547.3 293.4h0M535.3 278.1h0M553.8 278.2h0M552.7 283.6h0M541.8 275.3h0M542.2 280.2h0M551.8 288.0h0M545.2 281.1h0M547.2 276.6h0M541.7 290.5h0M541.8 279.9h0M539.8 274.1h0M540.7 292.7h0M549.6 273.0h0M537.4 279.8h0M553.7 283.6h0M557.0 282.7h0M556.5 286.4h0M549.1 289.5h0M548.2 287.4h0M538.0 275.7h0M539.2 290.3h0M540.9 282.4h0M554.0 289.0h0M534.9 286.0h0M544.5 286.2h0M553.2 276.0h0M552.2 282.3h0M549.2 279.1h0M551.9 275.9h0M544.9 287.3h0M536.5 280.7h0M534.7 282.9h0M547.7 289.6h0M549.4 284.3h0M549.9 273.4h0M545.3 275.5h0M540.9 281.7h0M554.9 286.3h0M550.5 291.5h0M547.8 281.3h0M544.4 286.7h0M550.2 293.0h0M540.6 275.2h0M539.1 289.0h0M540.4 282.7h0M546.1 288.2h0M542.9 290.4h0M542.1 280.1h0M543.2 292.2h0M542.7 281.1h0M537.2 286.1h0M549.4 279.0h0M550.8 290.0h0M546.5 280.9h0M542.8 291.6h0M544.4 284.9h0M553.3 277.1h0M546.0 286.1h0M544.6 291.5h0M543.0 271.6h0M554.5 283.4h0M547.3 278.9h0M545.4 293.8h0M538.1 275.0h0M547.8 293.3h0M551.6 277.6h0M556.5 283.8h0M548.8 272.8h0M539.9 275.1h0M547.6 284.8h0M552.8 277.0h0M538.5 276.5h0M549.3 292.3h0M555.2 277.6h0M542.5 286.4h0M541.4 280.8h0M552.5 273.5h0M538.0 287.5h0M553.8 280.0h0M538.8 274.5h0M535.0 282.4h0M554.9 284.8h0" stroke="#fff" stroke-width="1.2" stroke-linecap="round" opacity="0.8"/>
<circle cx="545.7" cy="282.8" r="12.2" fill="none" stroke="#4c2cc0" stroke-width="1.0" opacity="0.75"/>
<circle cx="575.2" cy="282.8" r="14.1" fill="none" stroke="#d8d4e8" stroke-width="0.9"/>
<circle cx="575.2" cy="282.8" r="12.7" fill="url(#g37)"/>
<path d="M583.6 280.9h0M567.6 280.1h0M576.0 284.9h0M568.6 287.8h0M576.3 276.1h0M579.1 282.1h0M574.1 281.1h0M576.0 286.9h0M584.7 281.5h0M565.0 279.2h0M582.1 280.7h0M579.3 278.0h0M572.2 272.6h0M568.4 289.4h0M574.8 279.3h0M575.6 277.6h0M573.8 288.4h0M572.8 293.9h0M565.3 287.2h0M579.0 287.2h0M583.2 283.4h0M583.2 280.2h0M574.3 278.2h0M580.3 284.8h0M584.5 279.9h0M584.5 278.4h0M574.9 287.9h0M571.9 279.9h0M566.7 283.7h0M575.0 294.3h0M585.7 286.8h0M586.3 285.7h0M571.3 285.2h0M568.2 275.9h0M568.8 287.7h0M572.2 277.5h0M571.5 291.8h0M564.9 285.7h0M565.8 286.1h0M569.7 281.2h0M569.4 289.4h0M565.5 284.5h0M570.7 274.1h0M575.6 293.7h0M581.2 279.2h0M581.8 278.1h0M574.8 285.7h0M571.4 273.9h0M571.1 276.4h0M575.8 283.2h0M568.2 276.4h0M585.2 279.7h0M564.1 279.4h0M586.5 283.8h0M567.2 282.1h0M570.0 278.2h0M564.2 282.6h0M571.1 272.4h0M570.2 283.0h0M565.1 283.6h0" stroke="#7a50d8" stroke-width="1.0" stroke-linecap="round" opacity="0.75"/>
<path d="M571.7 291.2h0M571.9 276.7h0M584.9 282.8h0M571.6 293.6h0M584.8 283.5h0M565.9 277.2h0M581.2 273.8h0M573.8 273.6h0M574.2 273.0h0M568.2 283.7h0M578.7 289.1h0M564.4 281.3h0M575.9 293.6h0M576.5 276.1h0M569.9 272.7h0M582.7 276.2h0M571.5 288.9h0M570.5 286.6h0M565.1 285.8h0M574.6 276.7h0M570.4 275.4h0M579.7 286.0h0M575.1 286.0h0M571.7 274.3h0M567.8 291.1h0M571.0 285.6h0M568.5 286.0h0M578.2 288.9h0M572.5 274.1h0M583.0 288.0h0M572.2 280.8h0M573.1 292.3h0M577.8 273.0h0M569.7 292.1h0M566.1 280.8h0M573.5 289.1h0M577.8 286.0h0M574.3 279.5h0M571.2 276.5h0M571.9 289.8h0M580.5 275.6h0M567.1 286.1h0M573.4 281.9h0M576.8 293.5h0M578.7 273.9h0M584.5 280.5h0M568.8 274.2h0M578.8 289.5h0M575.8 278.0h0M573.4 280.2h0M581.3 285.7h0M572.6 272.9h0M566.3 285.8h0M570.1 287.1h0M578.0 289.5h0M583.7 279.6h0M567.1 285.8h0M567.5 276.6h0M566.8 281.9h0M572.5 292.4h0M582.9 278.4h0M580.9 286.9h0M572.4 278.7h0M578.2 279.9h0M583.7 277.6h0M567.6 278.6h0M581.6 277.9h0M584.9 276.8h0M583.4 290.1h0M564.7 281.6h0M581.4 291.1h0M565.6 283.7h0M572.4 285.1h0M565.2 278.1h0M570.6 287.6h0M573.5 275.3h0M582.5 283.5h0M578.3 293.0h0M571.5 274.5h0M569.3 284.1h0M566.1 287.1h0M570.2 290.9h0M576.0 289.1h0M581.3 282.1h0M572.8 290.6h0" stroke="#fff" stroke-width="1.2" stroke-linecap="round" opacity="0.8"/>
<circle cx="575.2" cy="282.8" r="12.2" fill="none" stroke="#5432c4" stroke-width="1.0" opacity="0.75"/>
<circle cx="603.8" cy="282.8" r="14.1" fill="none" stroke="#d8d4e8" stroke-width="0.9"/>
<circle cx="603.8" cy="282.8" r="12.7" fill="url(#g38)"/>
<path d="M615.1 285.1h0M607.8 293.8h0M609.4 280.8h0M596.5 282.0h0M595.0 288.4h0M606.6 277.6h0M594.5 280.2h0M600.4 280.5h0M597.4 288.0h0M613.2 277.9h0M601.0 277.3h0M609.0 280.7h0M601.4 286.7h0M595.0 277.3h0M600.6 272.6h0M601.0 273.8h0M603.7 294.3h0M613.8 282.2h0M614.8 282.6h0M611.1 275.7h0M607.5 273.8h0M611.2 290.5h0M598.2 290.3h0M610.4 277.9h0M602.7 291.4h0M611.4 275.2h0M614.9 282.4h0M606.6 275.1h0M608.4 293.1h0M614.9 285.5h0M600.2 278.4h0M608.8 291.4h0M610.7 286.2h0M607.2 285.5h0M603.7 292.3h0M614.5 284.6h0M599.7 278.5h0M603.1 279.9h0M603.6 291.1h0M609.7 275.2h0M614.9 285.6h0M606.7 286.9h0M601.1 281.3h0M599.2 285.7h0M597.2 284.9h0M597.8 286.1h0M594.4 284.0h0M596.3 286.9h0M601.7 289.9h0M610.8 286.5h0M599.1 282.7h0M600.2 290.8h0M594.5 283.6h0M603.4 293.4h0M610.5 291.8h0M600.5 287.9h0M597.9 292.6h0M599.9 272.1h0M611.8 282.4h0M604.6 280.5h0" stroke="#7a50d8" stroke-width="1.0" stroke-linecap="round" opacity="0.75"/>
<path d="M606.0 277.4h0M599.0 290.9h0M595.3 282.3h0M600.7 289.3h0M605.4 281.9h0M612.9 284.0h0M608.9 285.7h0M603.5 284.6h0M595.1 290.0h0M605.3 281.0h0M614.7 282.0h0M606.9 279.0h0M601.9 287.0h0M603.0 273.1h0M601.9 293.9h0M602.4 273.2h0M594.4 287.7h0M594.1 279.7h0M606.4 281.2h0M609.1 284.4h0M609.6 279.7h0M597.7 288.8h0M596.4 280.5h0M607.1 275.7h0M604.2 278.6h0M603.8 275.0h0M599.6 282.6h0M606.8 279.6h0M604.5 274.5h0M615.0 283.6h0M603.8 279.1h0M608.6 292.8h0M595.5 285.3h0M603.1 283.2h0M609.1 285.5h0M608.9 288.0h0M596.0 289.1h0M613.0 284.6h0M603.8 291.9h0M602.1 285.4h0M603.2 279.8h0M606.5 276.8h0M610.5 288.6h0M598.4 272.7h0M604.6 286.3h0M609.1 280.1h0M597.7 276.7h0M612.6 281.8h0M605.7 278.2h0M606.0 275.1h0M604.6 273.7h0M608.5 288.4h0M600.0 279.5h0M601.0 288.3h0M593.4 285.5h0M612.4 279.5h0M598.7 272.9h0M609.4 276.1h0M610.4 284.3h0M602.7 291.7h0M600.5 285.3h0M599.6 276.6h0M593.1 284.4h0M605.4 279.0h0M594.3 282.3h0M605.6 289.2h0M606.8 272.0h0M601.8 275.6h0M598.7 273.2h0M606.3 284.4h0M595.0 275.9h0M608.6 280.3h0M597.9 290.8h0M599.9 285.4h0M595.0 283.9h0M601.6 292.4h0M596.9 279.2h0M602.1 294.0h0M609.8 285.2h0M598.0 288.1h0M603.2 293.7h0M602.2 293.0h0M594.7 279.2h0M608.3 276.7h0M611.0 284.5h0" stroke="#fff" stroke-width="1.2" stroke-linecap="round" opacity="0.8"/>
<circle cx="603.8" cy="282.8" r="12.2" fill="none" stroke="#5432c4" stroke-width="1.0" opacity="0.75"/>
<circle cx="633" cy="282.8" r="14.1" fill="none" stroke="#d8d4e8" stroke-width="0.9"/>
<circle cx="633" cy="282.8" r="12.7" fill="url(#g39)"/>
<path d="M638.1 288.5h0M637.7 276.5h0M634.0 292.3h0M629.9 291.2h0M634.3 292.9h0M639.0 284.8h0M636.1 281.3h0M629.1 286.0h0M626.5 288.8h0M643.9 279.6h0M629.3 292.3h0M629.4 283.7h0M632.2 289.3h0M623.7 289.8h0M634.1 279.4h0M627.5 279.8h0M632.3 293.7h0M642.1 286.9h0M633.4 282.4h0M630.2 292.8h0M639.8 284.9h0M634.0 293.8h0M636.8 273.3h0M632.4 286.7h0M637.6 279.7h0M633.7 286.1h0M636.5 275.8h0M633.8 284.3h0M630.7 283.4h0M641.1 282.9h0M625.1 279.4h0M635.1 281.6h0M636.3 284.3h0M625.8 276.6h0M634.3 291.6h0M636.9 284.2h0M632.3 287.1h0M632.3 289.1h0M623.9 288.6h0M633.5 272.3h0M638.7 291.5h0M624.9 290.4h0M625.9 276.3h0M631.5 281.9h0M631.6 287.5h0M632.1 293.0h0M629.6 285.4h0M634.8 276.8h0M638.6 287.3h0M627.8 289.6h0M627.2 274.2h0M626.1 278.6h0M629.8 291.8h0M631.3 271.8h0M627.0 273.7h0M639.5 283.8h0M629.2 291.5h0M638.0 275.1h0M632.3 291.8h0M635.7 290.9h0M643.3 285.0h0M638.0 281.5h0M631.5 280.4h0M640.1 288.5h0M639.9 285.8h0M623.0 285.6h0M639.7 278.4h0M639.5 284.2h0M637.8 289.7h0M630.0 288.7h0M625.6 282.2h0M641.6 289.5h0M629.9 286.7h0M623.8 287.6h0M631.5 284.9h0M625.3 275.7h0M627.6 277.3h0M633.7 285.7h0M629.8 279.7h0M639.5 280.3h0" stroke="#7a50d8" stroke-width="1.0" stroke-linecap="round" opacity="0.75"/>
<path d="M628.6 282.5h0M625.3 280.4h0M633.6 271.5h0M639.9 291.1h0M634.3 290.9h0M638.3 278.1h0M628.7 289.1h0M629.0 288.4h0M624.6 285.7h0M630.6 280.3h0M636.1 288.3h0M629.1 289.2h0M622.0 279.4h0M638.3 273.3h0M629.5 288.9h0M632.9 279.6h0M640.9 279.2h0M627.4 291.6h0M635.4 274.0h0M636.4 276.4h0M634.6 287.4h0M640.2 282.3h0M643.9 282.3h0M640.1 282.6h0M638.8 277.6h0M625.7 287.1h0M634.5 278.5h0M640.1 288.7h0M642.5 277.1h0M631.4 279.4h0M628.5 281.4h0M641.5 284.2h0M631.5 289.3h0M637.0 290.9h0M630.4 290.0h0M634.3 287.6h0M623.0 282.8h0M641.1 277.4h0M642.4 286.9h0M631.9 273.7h0M629.1 292.1h0M624.6 284.1h0M642.7 287.1h0M636.7 287.9h0M640.9 275.2h0M640.1 275.0h0M635.6 282.3h0M630.6 286.7h0M644.0 285.7h0M625.6 277.4h0M640.8 284.4h0M625.6 291.5h0M628.6 285.4h0M629.6 275.9h0M632.2 292.1h0M626.8 276.3h0M633.0 272.9h0M639.8 274.9h0M634.8 283.7h0M631.6 291.2h0M635.4 282.8h0M634.8 293.8h0M631.8 274.5h0M640.8 286.5h0M636.7 282.5h0M629.1 281.0h0M634.1 277.8h0M638.7 283.7h0M629.4 279.8h0M624.4 276.5h0M643.8 284.2h0M628.6 273.3h0M628.3 276.2h0M626.8 283.7h0M628.7 287.3h0" stroke="#fff" stroke-width="1.2" stroke-linecap="round" opacity="0.8"/>
<circle cx="633" cy="282.8" r="12.2" fill="none" stroke="#4c2cc0" stroke-width="1.0" opacity="0.75"/>
<circle cx="662.7" cy="282.8" r="14.1" fill="none" stroke="#d8d4e8" stroke-width="0.9"/>
<circle cx="662.7" cy="282.8" r="12.7" fill="url(#g40)"/>
<path d="M666.3 290.8h0M658.5 278.2h0M667.5 291.9h0M659.0 279.4h0M653.8 278.8h0M659.5 272.7h0M671.9 279.9h0M670.8 281.5h0M662.0 294.0h0M662.2 287.3h0M668.5 289.1h0M668.6 279.0h0M673.2 279.7h0M662.7 291.0h0M654.8 277.7h0M661.5 280.1h0M661.2 278.3h0M654.2 283.1h0M670.0 288.7h0M657.5 280.4h0M662.9 278.4h0M665.6 281.3h0M665.7 274.8h0M666.5 287.6h0M672.1 280.8h0M654.6 277.2h0M667.3 290.0h0M667.5 278.5h0M651.8 287.0h0M668.2 279.4h0M663.7 282.4h0M652.5 279.5h0M660.9 273.9h0M660.5 294.1h0M652.4 278.5h0M671.3 278.2h0M653.2 283.9h0M666.0 288.9h0M667.3 282.0h0M673.5 285.1h0" stroke="#7a50d8" stroke-width="1.0" stroke-linecap="round" opacity="0.75"/>
<path d="M656.6 282.8h0M671.7 278.3h0M655.1 285.3h0M659.5 290.1h0M658.2 274.5h0M658.5 292.9h0M672.8 288.0h0M662.8 278.0h0M659.3 272.0h0M659.2 276.4h0M666.9 274.9h0M662.9 280.8h0M652.9 286.9h0M651.6 284.7h0M658.6 282.3h0M661.6 279.7h0M663.3 293.3h0M660.1 279.6h0M670.7 284.2h0M667.1 284.4h0M656.0 285.1h0M654.4 287.1h0M660.7 291.4h0M667.8 291.2h0M665.6 272.7h0M667.7 292.9h0M663.2 272.2h0M653.6 284.4h0M672.7 288.0h0M670.4 285.1h0M666.1 293.8h0M655.9 280.0h0M653.8 278.7h0M668.6 285.4h0M656.9 289.8h0M670.4 287.8h0M653.4 284.9h0M660.1 284.4h0M659.7 282.1h0M660.0 285.0h0M669.9 277.4h0M659.0 286.9h0M659.3 288.0h0M666.5 275.2h0M660.6 288.1h0M661.2 277.4h0M671.2 278.2h0M659.4 280.1h0M669.7 280.9h0M658.2 273.2h0M667.8 279.9h0M664.3 282.3h0M668.0 290.9h0M656.2 273.7h0M666.9 287.0h0M665.6 288.7h0M670.7 283.4h0M670.7 275.1h0M660.6 289.9h0M666.3 290.3h0M663.3 273.3h0M668.2 285.4h0M657.7 288.7h0M667.0 280.1h0M665.7 277.8h0M666.8 273.1h0M666.5 291.9h0M673.3 282.4h0M657.1 273.7h0M655.4 281.6h0M667.3 278.4h0M655.7 291.5h0M667.4 289.5h0M659.0 278.1h0M672.9 284.3h0M658.3 274.5h0M660.7 291.9h0M651.7 282.9h0M669.2 273.9h0M661.9 285.8h0M652.2 282.4h0M655.9 289.9h0M664.7 277.6h0M667.4 292.5h0M665.5 288.2h0M664.9 291.3h0M659.8 273.0h0M673.0 285.3h0M659.6 276.7h0M657.9 286.9h0M671.5 277.0h0M651.9 281.5h0M665.6 284.5h0M658.9 288.8h0M657.1 288.8h0" stroke="#fff" stroke-width="1.2" stroke-linecap="round" opacity="0.8"/>
<circle cx="662.7" cy="282.8" r="12.2" fill="none" stroke="#7056d0" stroke-width="1.0" opacity="0.75"/>
<rect x="501.6" y="299.8" width="177.2" height="28.8" fill="#fdfdfd" stroke="#a0a0a0" stroke-width="0.9"/>
<circle cx="516.5" cy="314.2" r="14.1" fill="none" stroke="#d8d4e8" stroke-width="0.9"/>
<circle cx="516.5" cy="314.2" r="12.7" fill="url(#g41)"/>
<path d="M511.7 312.6h0M516.1 320.5h0M507.2 308.5h0M506.2 312.5h0M513.5 321.2h0M516.0 303.4h0M519.9 319.6h0M519.9 318.4h0M513.5 310.5h0M513.6 303.9h0M525.7 311.7h0M510.5 311.6h0M513.5 307.7h0M514.5 322.0h0M518.7 315.7h0M525.2 319.9h0M523.6 310.4h0M516.9 304.2h0M507.6 319.8h0M514.9 323.1h0M508.3 314.2h0M507.3 316.2h0M510.7 310.3h0M525.4 309.6h0M522.5 321.9h0M505.0 315.0h0M512.9 314.0h0M519.9 304.8h0M523.7 309.4h0M518.1 305.2h0M514.9 315.9h0M511.0 321.3h0M507.3 315.4h0M513.1 308.9h0M510.3 305.6h0M517.7 303.7h0M518.5 324.0h0M513.1 316.5h0M518.0 320.7h0M516.8 312.1h0M518.6 322.3h0M513.7 315.0h0M526.0 319.4h0M524.1 308.1h0M517.1 324.3h0M514.6 307.0h0M512.9 323.0h0M510.7 319.6h0M519.8 319.1h0M508.7 313.3h0" stroke="#7a50d8" stroke-width="1.0" stroke-linecap="round" opacity="0.75"/>
<path d="M512.0 313.6h0M513.4 311.6h0M511.4 310.9h0M511.0 311.3h0M518.2 315.4h0M517.3 308.7h0M510.3 313.3h0M526.5 314.3h0M514.0 311.9h0M523.2 321.9h0M510.7 304.5h0M506.3 318.1h0M521.4 323.9h0M516.0 319.0h0M513.0 310.2h0M505.3 313.3h0M521.4 318.9h0M517.1 312.5h0M515.6 322.3h0M519.0 314.4h0M516.5 310.9h0M510.9 308.2h0M516.4 314.3h0M516.3 316.0h0M520.3 310.3h0M506.6 311.3h0M523.1 309.9h0M511.2 304.6h0M524.8 317.5h0M513.0 324.5h0M512.0 323.3h0M516.0 318.1h0M516.6 317.0h0M520.6 323.5h0M513.9 309.2h0M507.6 320.0h0M506.9 317.5h0M513.4 303.4h0M507.0 317.8h0M514.5 311.9h0M512.4 305.0h0M514.7 304.0h0M508.7 311.1h0M508.3 315.6h0M519.7 324.3h0M513.3 318.3h0M516.7 316.0h0M509.1 322.3h0M524.4 312.6h0M524.9 312.1h0M526.1 316.1h0M522.6 305.2h0M516.8 313.7h0M514.4 312.1h0M510.1 321.5h0M515.7 318.0h0M505.9 312.4h0M517.6 307.0h0M521.9 323.8h0M523.4 308.4h0M521.1 311.1h0M512.5 307.7h0M518.7 313.0h0M515.4 318.7h0M508.6 315.3h0M522.0 320.5h0M519.8 313.7h0M525.4 313.3h0M521.1 305.8h0M520.8 315.2h0M510.2 316.5h0M513.2 317.6h0M510.7 322.4h0M508.8 312.2h0M508.7 309.1h0M521.9 321.8h0M515.3 310.2h0M512.6 317.5h0M515.9 307.5h0M519.9 307.6h0M518.0 314.3h0M513.6 306.1h0M513.7 313.0h0M523.2 311.3h0M512.5 324.7h0M508.1 311.6h0M520.3 315.8h0M510.5 317.1h0M511.0 313.1h0M525.2 313.7h0M513.5 311.3h0M509.7 309.1h0M510.9 309.3h0M519.0 305.6h0M518.7 303.2h0M509.9 314.6h0M521.2 313.2h0M516.6 320.6h0M514.5 320.1h0M519.0 322.8h0M514.0 317.1h0M508.6 319.5h0M520.8 324.7h0M523.7 312.6h0M510.3 322.6h0" stroke="#fff" stroke-width="1.2" stroke-linecap="round" opacity="0.8"/>
<circle cx="516.5" cy="314.2" r="12.2" fill="none" stroke="#5432c4" stroke-width="1.0" opacity="0.75"/>
<circle cx="545.7" cy="314.2" r="14.1" fill="none" stroke="#d8d4e8" stroke-width="0.9"/>
<circle cx="545.7" cy="314.2" r="12.7" fill="url(#g37)"/>
<path d="M548.2 308.8h0M552.7 317.5h0M550.2 313.4h0M537.6 311.4h0M546.7 320.8h0M542.1 323.6h0M538.3 307.5h0M543.7 308.2h0M551.0 307.1h0M541.0 310.4h0M541.6 324.6h0M547.6 303.2h0M545.5 318.3h0M556.1 308.9h0M547.6 305.9h0M542.4 312.5h0M548.1 324.3h0M553.0 316.8h0M544.6 305.1h0M549.2 314.7h0M541.1 311.8h0M542.3 306.9h0M541.1 310.0h0M541.4 324.6h0M554.8 308.0h0M542.1 319.5h0M548.9 304.3h0M535.8 309.6h0M552.0 319.7h0M549.9 321.9h0M551.5 317.2h0M539.8 308.0h0M555.3 314.2h0M538.9 306.7h0M555.3 309.3h0M544.0 307.9h0M538.7 308.9h0M550.2 309.0h0M548.1 321.5h0M538.5 314.0h0M544.3 321.8h0M546.1 323.2h0M546.5 316.5h0M555.6 313.1h0M536.6 318.7h0M543.1 311.1h0M546.8 322.1h0M538.9 312.9h0M540.9 318.1h0M549.7 322.8h0M552.5 317.1h0M553.6 320.5h0M542.3 314.0h0M536.0 310.4h0M552.8 305.7h0M549.2 325.0h0M552.3 313.7h0M548.2 315.8h0M550.8 309.9h0M536.9 311.7h0M545.9 322.4h0M546.9 323.6h0M541.3 309.5h0M534.9 315.9h0M536.4 313.5h0M553.2 315.3h0M537.4 317.5h0M542.2 304.1h0M539.9 309.9h0M537.5 319.5h0M555.1 317.1h0M550.1 310.2h0M550.6 320.7h0M549.6 317.1h0M544.7 306.8h0" stroke="#7a50d8" stroke-width="1.0" stroke-linecap="round" opacity="0.75"/>
<path d="M543.8 311.2h0M551.8 321.3h0M540.0 304.4h0M557.1 315.3h0M547.2 312.8h0M545.7 311.3h0M547.9 306.9h0M545.7 310.1h0M545.0 321.8h0M535.2 313.4h0M549.3 305.3h0M536.4 313.7h0M539.8 308.4h0M540.5 318.4h0M537.1 319.3h0M554.8 321.0h0M539.9 318.9h0M543.3 309.6h0M539.0 308.4h0M551.8 319.2h0M550.1 321.3h0M556.3 312.5h0M545.7 305.9h0M548.2 309.5h0M547.6 314.7h0M541.6 315.7h0M539.7 312.8h0M542.1 322.6h0M544.7 304.7h0M546.6 308.0h0M539.0 305.4h0M550.1 307.4h0M541.4 313.4h0M554.7 316.0h0M545.6 319.5h0M547.0 308.8h0M556.7 316.8h0M536.6 307.8h0M535.6 317.6h0M554.1 308.2h0M551.3 309.6h0M553.9 313.7h0M552.7 309.4h0M544.9 316.6h0M536.5 320.6h0M538.9 319.9h0M552.4 317.3h0M555.8 318.5h0M545.9 306.1h0M545.9 311.5h0M549.2 312.8h0M540.4 310.6h0M552.3 309.3h0M552.5 305.2h0M539.3 310.9h0M545.0 318.1h0M543.6 325.2h0M545.0 319.8h0M544.7 302.9h0M548.6 323.3h0M538.1 317.8h0M556.3 313.7h0M551.2 324.1h0M546.8 303.3h0M539.4 314.0h0M537.8 312.3h0M534.6 311.6h0M543.6 313.9h0M537.1 316.1h0M540.5 316.7h0M545.5 325.2h0M552.1 311.2h0M539.9 323.8h0M536.4 307.5h0M545.5 305.4h0M554.6 311.8h0M540.9 309.5h0M552.3 318.2h0M556.2 316.5h0M540.5 320.0h0M549.2 321.1h0M541.1 305.8h0M553.0 308.7h0M544.3 325.1h0M547.5 311.1h0M536.1 319.7h0M543.5 304.7h0M535.6 309.9h0M544.1 322.8h0M544.4 311.1h0M542.2 318.4h0M542.4 321.5h0M545.7 321.9h0M545.9 303.3h0M537.1 314.2h0" stroke="#fff" stroke-width="1.2" stroke-linecap="round" opacity="0.8"/>
<circle cx="545.7" cy="314.2" r="12.2" fill="none" stroke="#4428bc" stroke-width="1.0" opacity="0.75"/>
<circle cx="575.2" cy="314.2" r="14.1" fill="none" stroke="#d8d4e8" stroke-width="0.9"/>
<circle cx="575.2" cy="314.2" r="12.7" fill="url(#g36)"/>
<path d="M569.6 306.5h0M579.6 315.1h0M580.2 313.3h0M572.2 307.0h0M584.7 312.2h0M572.9 318.2h0M570.6 324.0h0M585.4 314.0h0M580.3 322.7h0M575.0 324.7h0M574.4 319.4h0M579.9 324.3h0M575.5 318.3h0M579.4 319.2h0M570.4 315.9h0M567.5 305.4h0M579.7 305.6h0M579.9 322.3h0M571.0 311.2h0M578.3 310.0h0M574.3 304.5h0M570.2 304.2h0M576.6 320.5h0M572.5 304.3h0M566.0 313.8h0M568.5 322.5h0M575.3 313.8h0M584.9 308.9h0M584.2 318.9h0M580.9 311.3h0M569.6 323.9h0M570.5 304.1h0M575.5 307.9h0M572.2 303.3h0M580.7 317.8h0M576.9 319.2h0M577.2 310.0h0M580.7 309.0h0M575.7 309.9h0M568.3 310.7h0M583.7 316.6h0M581.1 313.2h0M582.2 307.0h0M573.7 325.1h0M576.5 320.2h0M569.3 308.1h0M566.4 313.2h0M564.4 312.2h0M568.5 305.0h0M573.9 319.8h0M569.9 313.8h0M581.9 313.7h0M578.3 308.2h0M572.3 306.6h0M568.7 316.5h0M579.4 312.5h0M570.9 319.7h0M574.5 306.1h0M581.1 309.9h0M574.6 321.6h0M574.5 312.5h0M586.2 313.9h0M579.3 314.6h0M578.4 304.8h0M573.8 320.7h0M568.3 316.1h0M576.8 307.3h0M567.5 309.3h0M570.0 317.5h0M583.9 315.6h0M568.6 312.6h0M567.5 315.2h0M573.2 318.9h0M569.1 323.0h0M570.9 304.2h0" stroke="#7a50d8" stroke-width="1.0" stroke-linecap="round" opacity="0.75"/>
<path d="M582.1 308.5h0M579.2 310.3h0M579.1 324.4h0M568.5 308.1h0M575.1 310.1h0M580.7 306.4h0M568.1 314.9h0M566.6 318.9h0M569.7 320.7h0M573.8 323.6h0M566.7 320.7h0M575.3 308.9h0M570.3 315.7h0M565.8 309.9h0M569.4 318.8h0M578.8 310.9h0M585.3 314.2h0M576.4 306.0h0M576.2 307.9h0M565.8 313.4h0M567.2 319.6h0M572.3 315.8h0M564.5 310.4h0M567.9 308.6h0M576.5 322.2h0M567.2 306.7h0M567.9 320.3h0M569.4 321.8h0M585.0 318.7h0M576.0 315.6h0M574.9 308.1h0M568.2 313.5h0M575.0 321.9h0M571.6 306.2h0M572.2 321.3h0M580.1 319.0h0M586.2 316.1h0M584.8 315.2h0M581.2 317.9h0M584.8 316.6h0M585.8 310.7h0M582.9 306.0h0M583.3 311.5h0M565.9 320.7h0M586.2 311.5h0M572.8 322.7h0M566.6 308.5h0M563.9 315.0h0M585.8 315.1h0M568.4 313.1h0M572.6 310.8h0M564.4 317.2h0M571.1 324.6h0M584.2 312.6h0M581.0 306.9h0M577.9 305.2h0M574.1 320.1h0M569.1 311.2h0M575.4 307.9h0M582.2 321.3h0M579.1 309.1h0M575.8 308.3h0M576.2 306.4h0M585.8 316.0h0M568.1 313.7h0M574.3 310.7h0M564.3 311.4h0M568.6 310.2h0M578.7 309.6h0M572.2 317.1h0M572.1 319.3h0M570.0 311.4h0M565.3 314.2h0M572.7 307.2h0M573.6 308.0h0M585.8 310.3h0M573.1 317.7h0M583.4 315.2h0M575.4 319.8h0M569.9 322.4h0M580.5 321.7h0M576.3 320.4h0M573.4 318.5h0M583.2 311.1h0M579.5 306.8h0M574.7 303.7h0M567.6 306.6h0M572.3 320.5h0M583.7 317.6h0M564.3 317.7h0M573.3 320.0h0M581.9 322.4h0M584.8 311.1h0M580.1 324.0h0M575.4 320.5h0" stroke="#fff" stroke-width="1.2" stroke-linecap="round" opacity="0.8"/>
<circle cx="575.2" cy="314.2" r="12.2" fill="none" stroke="#4428bc" stroke-width="1.0" opacity="0.75"/>
<circle cx="603.8" cy="314.2" r="14.1" fill="none" stroke="#d8d4e8" stroke-width="0.9"/>
<circle cx="603.8" cy="314.2" r="12.7" fill="url(#g42)"/>
<path d="M593.2 309.7h0M594.0 319.1h0M605.3 318.3h0M602.8 315.5h0M596.8 316.6h0M594.0 308.9h0M607.6 318.2h0M594.5 314.1h0M606.5 322.2h0M605.1 320.9h0M606.2 320.0h0M593.6 314.6h0M603.6 303.1h0M607.1 314.3h0M598.2 314.5h0M612.2 314.0h0M613.9 310.7h0M605.5 312.5h0M610.6 306.6h0M613.7 317.3h0M614.0 316.6h0M596.9 308.5h0M613.5 318.8h0M592.6 315.0h0M607.3 320.9h0M595.6 315.3h0M605.6 315.2h0M607.7 323.6h0M606.1 313.6h0M597.4 308.2h0M596.9 307.6h0M600.7 303.8h0M597.4 309.8h0M595.4 310.2h0M612.5 321.9h0M596.1 310.7h0M612.1 308.7h0M598.1 321.2h0M605.6 319.7h0M597.9 320.5h0M593.7 315.2h0M600.8 324.9h0M601.2 316.3h0M603.5 325.6h0M609.5 312.0h0M612.1 306.0h0M603.4 314.7h0M601.2 322.0h0M599.9 324.1h0M611.4 323.0h0M604.4 308.4h0M606.5 314.3h0M597.1 315.3h0M595.9 315.0h0M610.4 318.4h0M600.0 321.1h0M607.0 309.7h0M612.6 320.0h0M614.2 312.4h0M614.0 309.5h0M604.9 311.2h0M609.4 317.9h0M592.2 313.1h0M600.6 310.5h0M600.3 322.5h0M604.1 325.3h0M601.4 305.5h0M601.2 305.8h0M594.5 313.4h0M595.3 313.4h0M595.0 315.3h0M602.6 322.3h0M602.9 323.5h0M600.7 303.8h0M596.0 314.7h0M612.6 309.2h0M602.7 317.1h0M595.7 314.4h0M595.5 314.3h0M594.3 318.7h0M602.7 317.2h0M593.9 310.3h0M597.0 312.8h0M608.1 310.3h0M605.7 302.8h0" stroke="#7a50d8" stroke-width="1.0" stroke-linecap="round" opacity="0.75"/>
<path d="M603.4 304.9h0M608.1 321.3h0M613.1 313.9h0M602.9 320.1h0M613.8 313.5h0M610.3 315.9h0M607.9 312.7h0M609.4 312.2h0M603.6 320.3h0M599.8 316.2h0M614.3 312.1h0M599.3 321.2h0M605.6 325.1h0M606.9 311.1h0M612.1 309.0h0M602.8 324.3h0M601.7 323.8h0M608.1 317.3h0M612.7 308.4h0M610.4 311.0h0M606.1 320.9h0M611.0 310.3h0M601.2 312.9h0M605.4 304.0h0M600.6 319.6h0M609.5 317.7h0M602.4 321.2h0M607.1 309.8h0M604.4 323.7h0M613.5 317.9h0M612.6 317.6h0M598.2 306.0h0M610.1 309.1h0M602.1 307.8h0M607.8 320.0h0M596.7 309.4h0M596.3 320.8h0M607.9 306.6h0M607.5 308.5h0M605.5 307.3h0M593.8 315.3h0M595.9 307.4h0M606.8 315.3h0M609.8 317.0h0M612.3 315.7h0M600.2 308.6h0M603.7 309.1h0M595.4 315.9h0M596.6 312.5h0M610.5 318.0h0M593.2 317.1h0M608.8 308.7h0M600.5 311.4h0M605.8 324.9h0M611.2 323.0h0M607.2 305.7h0M605.1 325.1h0M606.7 314.5h0M607.9 305.3h0M606.0 313.4h0M605.0 314.5h0M601.3 310.2h0M598.2 310.6h0M607.2 321.7h0M606.1 314.9h0M601.0 321.9h0M600.4 304.3h0M606.5 321.5h0M606.6 321.9h0M604.4 319.9h0M594.4 307.8h0M595.6 312.7h0M608.8 322.6h0M594.3 315.1h0M607.4 304.1h0M603.0 304.0h0M595.5 318.4h0M604.1 323.2h0M606.6 318.1h0M598.3 309.9h0M594.8 312.7h0M604.6 321.3h0M604.8 319.6h0M598.1 314.0h0M615.1 313.4h0M608.6 305.4h0M600.3 315.6h0M600.1 306.3h0M610.5 307.1h0M599.4 309.4h0M601.7 311.0h0M611.3 320.9h0M602.0 305.1h0M607.5 318.9h0M608.6 314.4h0" stroke="#fff" stroke-width="1.2" stroke-linecap="round" opacity="0.8"/>
<circle cx="603.8" cy="314.2" r="12.2" fill="none" stroke="#4428bc" stroke-width="1.0" opacity="0.75"/>
<circle cx="633" cy="314.2" r="14.1" fill="none" stroke="#d8d4e8" stroke-width="0.9"/>
<circle cx="633" cy="314.2" r="12.7" fill="url(#g43)"/>
<path d="M634.3 317.9h0M642.3 314.4h0M633.5 319.5h0M625.5 311.9h0M629.7 310.5h0M637.5 317.8h0M638.6 315.2h0M632.8 319.5h0M626.8 322.8h0M624.2 313.3h0M634.5 320.8h0M624.0 321.2h0M629.9 310.9h0M640.4 316.7h0M626.7 308.5h0M641.4 312.3h0M636.3 315.1h0M623.5 315.9h0M629.1 314.6h0M638.6 317.6h0M627.8 309.0h0M628.1 321.7h0M636.0 308.8h0M638.3 315.9h0M633.4 315.4h0M627.0 316.6h0M632.5 315.0h0M643.1 318.5h0M629.5 309.3h0M629.4 320.7h0M633.0 324.5h0M628.6 320.6h0M632.8 314.9h0M631.0 318.6h0M639.7 304.8h0M627.9 318.8h0M638.0 317.1h0M631.8 308.6h0M628.1 311.0h0M641.1 314.6h0M627.9 308.7h0M629.1 321.6h0M635.7 323.3h0M633.8 312.6h0M642.5 320.6h0M633.6 309.1h0M626.3 311.8h0M627.7 312.6h0M640.0 306.3h0M636.3 310.4h0M633.8 311.4h0M626.7 311.4h0M622.9 308.8h0M637.5 304.8h0M637.0 306.6h0M630.5 302.9h0M625.1 314.8h0M633.6 324.2h0M638.8 314.2h0M625.4 314.4h0" stroke="#7a50d8" stroke-width="1.0" stroke-linecap="round" opacity="0.75"/>
<path d="M632.4 307.7h0M642.9 317.3h0M625.0 312.5h0M632.2 305.7h0M629.9 319.7h0M642.3 317.7h0M635.5 317.0h0M623.3 310.2h0M635.7 325.2h0M629.8 308.1h0M639.7 307.2h0M639.1 318.1h0M633.9 319.5h0M642.7 315.8h0M628.1 307.3h0M632.2 319.5h0M624.9 316.2h0M635.3 312.0h0M639.0 316.0h0M625.6 320.4h0M642.5 315.1h0M634.2 325.2h0M640.8 307.0h0M628.0 304.8h0M638.8 306.1h0M641.3 307.6h0M630.5 322.1h0M625.6 315.3h0M630.1 303.8h0M635.2 315.1h0M636.2 318.7h0M633.1 308.8h0M632.3 318.3h0M629.0 315.4h0M632.1 314.9h0M629.7 318.0h0M640.3 313.2h0M634.5 314.7h0M642.1 311.4h0M635.2 323.5h0M635.6 323.2h0M638.5 308.0h0M628.9 308.1h0M642.4 318.0h0M632.4 317.4h0M624.9 315.8h0M624.3 321.7h0M630.6 316.9h0M643.3 316.0h0M631.8 318.8h0M643.0 311.0h0M633.0 314.5h0M634.5 312.6h0M630.4 305.5h0M626.0 319.5h0M631.2 308.2h0M627.1 304.7h0M641.9 320.5h0M629.5 310.1h0M635.9 308.2h0M641.2 317.5h0M636.1 312.2h0M632.2 312.3h0M626.0 321.4h0M637.3 321.8h0M636.9 324.1h0M636.6 309.8h0M631.3 314.9h0M627.0 317.6h0M640.1 316.1h0M643.8 318.2h0M630.7 322.8h0M625.4 312.1h0M632.3 312.1h0M635.3 324.8h0M625.5 305.6h0M629.5 317.0h0M631.8 313.8h0M636.7 310.2h0M638.3 317.4h0M632.7 304.0h0M636.0 316.5h0M641.1 307.5h0M639.8 313.1h0M624.3 315.1h0M629.6 323.1h0M634.8 324.9h0M628.2 316.8h0M633.5 315.0h0M636.6 303.5h0M636.7 320.5h0M637.8 306.6h0M634.1 312.9h0M634.7 307.0h0M623.6 308.8h0M633.2 324.6h0M632.4 318.6h0M642.5 309.0h0M640.5 312.4h0M623.4 316.0h0M636.6 304.7h0M631.1 308.5h0M634.9 310.0h0M638.5 305.3h0M640.2 319.9h0" stroke="#fff" stroke-width="1.2" stroke-linecap="round" opacity="0.8"/>
<circle cx="633" cy="314.2" r="12.2" fill="none" stroke="#5432c4" stroke-width="1.0" opacity="0.75"/>
<circle cx="662.7" cy="314.2" r="14.1" fill="none" stroke="#d8d4e8" stroke-width="0.9"/>
<circle cx="662.7" cy="314.2" r="12.7" fill="url(#g44)"/>
<path d="M656.3 318.2h0M671.6 315.1h0M667.1 315.6h0M662.6 323.8h0M664.2 315.2h0M667.1 317.0h0M651.5 314.1h0M670.4 319.6h0M664.7 307.2h0M660.8 315.4h0M653.7 316.8h0M662.5 311.8h0M667.5 307.0h0M666.7 318.1h0M669.0 314.7h0M665.0 317.1h0M661.8 312.7h0M656.1 323.8h0M665.5 308.6h0M673.1 314.8h0M665.6 305.9h0M663.4 306.2h0M662.8 306.2h0M671.8 318.7h0M670.3 314.9h0M664.4 318.5h0M657.1 305.4h0M658.5 319.6h0M664.5 310.8h0M654.3 321.1h0" stroke="#7a50d8" stroke-width="1.0" stroke-linecap="round" opacity="0.75"/>
<path d="M653.8 307.2h0M663.1 317.0h0M672.2 309.0h0M673.3 314.8h0M657.5 322.5h0M656.4 309.3h0M666.9 319.5h0M673.0 316.5h0M664.0 304.8h0M658.3 324.3h0M659.9 317.2h0M665.1 318.1h0M670.2 314.1h0M659.7 314.8h0M667.3 304.6h0M662.0 321.4h0M670.5 315.7h0M662.3 322.3h0M668.5 308.8h0M659.6 320.8h0M654.4 306.5h0M663.7 322.3h0M670.1 320.1h0M665.7 305.7h0M670.1 311.0h0M655.3 313.6h0M664.7 319.7h0M670.1 314.9h0M659.1 309.4h0M664.0 321.5h0M652.7 318.9h0M668.5 316.4h0M657.5 314.7h0M657.5 322.4h0M663.3 314.6h0M673.0 312.5h0M666.3 311.3h0M661.9 309.2h0M658.3 322.9h0M664.8 323.3h0M672.6 309.9h0M660.6 317.6h0M666.3 311.0h0M670.7 321.2h0M662.8 317.3h0M661.8 319.2h0M667.4 307.0h0M673.1 313.9h0M664.0 309.2h0M667.0 319.5h0M661.0 315.0h0M667.2 319.5h0M671.1 320.6h0M663.3 316.5h0M660.6 310.9h0M660.4 311.8h0M665.9 321.1h0M663.4 323.6h0M658.3 313.9h0M661.1 315.2h0M664.6 312.1h0M665.0 320.9h0M668.7 307.9h0M660.9 310.3h0M652.5 313.5h0M661.9 321.9h0M652.9 311.9h0M667.6 324.4h0M653.7 316.1h0M657.6 321.3h0M665.5 307.1h0M658.8 320.9h0M664.7 315.2h0M659.3 305.0h0M654.6 311.8h0M664.4 313.4h0M672.7 314.4h0M670.5 307.2h0M658.4 316.7h0M658.8 317.3h0M664.8 303.5h0M664.3 306.8h0M661.3 319.6h0M664.6 308.9h0M671.8 313.8h0M662.2 317.3h0M657.0 321.6h0M653.9 317.2h0M657.8 309.9h0M657.2 315.7h0M663.6 307.9h0M657.7 317.3h0M651.8 315.0h0M661.5 305.4h0M660.8 311.9h0M672.2 314.5h0M666.0 304.8h0M665.2 319.7h0M654.8 316.1h0M673.1 316.7h0M662.1 319.6h0M658.2 305.1h0M654.4 307.1h0M671.5 317.1h0M662.2 315.0h0" stroke="#fff" stroke-width="1.2" stroke-linecap="round" opacity="0.8"/>
<circle cx="662.7" cy="314.2" r="12.2" fill="none" stroke="#7a62d4" stroke-width="1.0" opacity="0.75"/>
<rect x="501.6" y="331.6" width="177.2" height="28.8" fill="#fdfdfd" stroke="#a0a0a0" stroke-width="0.9"/>
<circle cx="516.5" cy="346" r="14.1" fill="none" stroke="#d8d4e8" stroke-width="0.9"/>
<circle cx="516.5" cy="346" r="12.7" fill="url(#g45)"/>
<path d="M507.8 349.1h0M510.4 348.5h0M513.4 347.7h0M506.2 345.2h0M510.8 353.2h0M508.9 343.1h0M520.3 353.1h0M514.7 346.0h0M522.8 338.2h0M512.4 341.8h0M509.2 338.0h0M505.9 349.3h0M518.9 341.8h0M513.6 347.8h0M508.0 342.4h0M509.3 346.9h0M511.5 347.5h0M525.4 343.6h0M522.3 341.8h0M512.7 349.0h0M514.8 349.5h0M516.7 353.6h0M517.0 338.4h0M508.8 345.1h0M526.5 343.4h0M511.5 336.3h0M516.5 357.0h0M514.3 349.4h0M511.8 343.2h0M521.6 337.8h0M520.1 342.1h0M518.8 349.0h0M518.3 338.9h0M516.3 339.6h0M511.5 338.1h0M512.9 349.2h0M523.7 343.3h0M510.6 339.0h0M525.3 347.8h0M513.3 337.8h0M518.7 356.6h0M519.4 346.6h0M522.8 349.7h0M507.1 340.1h0M526.9 348.6h0M512.3 343.0h0M510.6 352.9h0M512.0 354.2h0M525.7 347.8h0M513.5 347.0h0M517.9 346.1h0M508.6 348.8h0M520.4 335.0h0M513.2 341.7h0M523.1 347.9h0M514.4 353.4h0M515.1 347.8h0M522.6 341.5h0M518.0 338.9h0M520.2 339.8h0M523.6 344.5h0M521.8 346.1h0M517.8 339.2h0M526.0 349.0h0M523.2 352.5h0M519.8 336.2h0M514.4 344.8h0M509.5 351.2h0M516.6 343.3h0M519.3 338.8h0" stroke="#7a50d8" stroke-width="1.0" stroke-linecap="round" opacity="0.75"/>
<path d="M525.7 344.2h0M520.7 338.7h0M521.2 353.2h0M526.8 343.5h0M515.6 352.0h0M521.5 345.0h0M507.5 339.1h0M514.2 349.2h0M514.2 341.5h0M510.5 355.3h0M510.4 348.0h0M511.4 344.5h0M509.7 344.8h0M522.4 340.9h0M514.7 357.2h0M507.3 341.4h0M520.7 342.2h0M525.1 342.6h0M510.9 346.7h0M520.6 355.1h0M518.9 335.8h0M527.5 343.6h0M513.7 337.5h0M506.1 349.1h0M516.5 351.7h0M506.6 349.7h0M523.6 341.9h0M511.0 336.3h0M507.9 352.0h0M519.2 350.7h0M520.1 344.7h0M516.8 354.9h0M517.5 339.3h0M510.5 342.1h0M524.4 339.0h0M518.0 338.1h0M520.3 346.2h0M512.0 341.1h0M522.0 338.3h0M511.0 348.9h0M507.5 345.8h0M518.8 347.1h0M513.0 340.6h0M525.0 348.5h0M520.5 348.2h0M511.6 350.6h0M510.0 352.1h0M521.6 353.2h0M513.6 340.4h0M523.8 348.7h0" stroke="#fff" stroke-width="1.2" stroke-linecap="round" opacity="0.8"/>
<circle cx="516.5" cy="346" r="12.2" fill="none" stroke="#4c2cc0" stroke-width="1.0" opacity="0.75"/>
<circle cx="545.7" cy="346" r="14.1" fill="none" stroke="#d8d4e8" stroke-width="0.9"/>
<circle cx="545.7" cy="346" r="12.7" fill="url(#g46)"/>
<path d="M545.0 350.1h0M538.5 343.1h0M557.0 343.4h0M552.9 342.8h0M546.9 336.5h0M540.8 348.6h0M546.6 334.9h0M556.7 343.7h0M547.5 345.0h0M535.7 340.3h0M534.2 346.8h0M547.8 357.3h0M543.3 334.6h0M548.0 339.6h0M545.6 356.0h0M555.4 341.5h0M550.0 356.4h0M539.0 351.4h0M555.0 341.7h0M548.0 351.7h0M539.4 343.3h0M542.0 335.5h0M547.2 338.1h0M544.6 350.2h0M552.1 355.2h0M542.8 347.5h0M550.7 345.5h0M546.0 344.0h0M553.1 350.5h0M551.2 340.3h0M553.1 337.0h0M534.5 344.6h0M539.2 346.8h0M539.4 341.9h0M543.8 353.5h0M549.1 342.8h0M541.8 346.8h0M540.5 338.1h0M538.0 342.3h0M551.8 352.4h0M539.8 353.6h0M542.8 335.1h0M552.8 340.2h0M549.0 342.1h0M553.4 351.6h0M549.5 340.6h0M542.0 354.2h0M556.7 347.1h0M535.6 351.3h0M542.9 352.3h0M543.4 354.9h0M541.3 335.7h0M540.5 336.1h0M553.3 352.4h0M549.7 340.2h0M546.1 334.5h0M542.0 338.7h0M540.5 355.5h0M536.8 352.0h0M542.9 335.0h0M548.0 340.2h0M549.7 351.0h0M549.4 348.6h0M555.8 348.0h0M552.0 352.6h0M549.8 356.5h0M542.3 342.7h0M540.4 341.1h0M538.8 353.8h0M544.5 353.4h0" stroke="#7a50d8" stroke-width="1.0" stroke-linecap="round" opacity="0.75"/>
<path d="M544.7 354.2h0M554.1 346.0h0M541.6 343.2h0M542.2 339.6h0M551.2 341.6h0M539.0 347.3h0M540.5 354.1h0M539.2 354.6h0M548.7 354.6h0M553.0 353.3h0M552.4 347.6h0M554.6 344.1h0M553.1 342.7h0M546.7 339.4h0M542.1 339.8h0M545.4 341.4h0M534.9 347.4h0M550.0 348.6h0M551.6 341.4h0M539.6 340.1h0M545.2 345.1h0M550.7 336.7h0M556.4 342.8h0M540.7 343.5h0M545.7 335.5h0M544.2 345.4h0M546.0 339.4h0M543.3 346.1h0M547.4 350.9h0M534.8 349.0h0M549.1 349.8h0M544.8 342.8h0M556.2 346.1h0M540.9 356.4h0M536.0 349.9h0M546.6 355.1h0M536.7 339.7h0M546.6 348.8h0M555.3 343.8h0M543.2 355.1h0M551.8 350.2h0M549.3 341.3h0M554.8 341.3h0M549.9 355.7h0M541.7 345.5h0M543.1 340.2h0M555.1 352.0h0M543.1 343.5h0M554.0 352.5h0M544.3 340.8h0" stroke="#fff" stroke-width="1.2" stroke-linecap="round" opacity="0.8"/>
<circle cx="545.7" cy="346" r="12.2" fill="none" stroke="#4428bc" stroke-width="1.0" opacity="0.75"/>
<circle cx="575.2" cy="346" r="14.1" fill="none" stroke="#d8d4e8" stroke-width="0.9"/>
<circle cx="575.2" cy="346" r="12.7" fill="url(#g47)"/>
<path d="M582.6 338.5h0M572.6 347.4h0M572.8 357.4h0M578.0 350.2h0M565.1 343.0h0M576.1 351.6h0M578.2 356.3h0M568.4 354.4h0M566.0 347.6h0M583.2 338.4h0M565.1 349.1h0M572.5 355.8h0M578.6 336.1h0M578.3 336.1h0M585.3 343.2h0M571.8 343.6h0M576.6 356.0h0M576.9 345.4h0M573.6 355.8h0M567.6 349.7h0M581.2 339.8h0M571.4 354.7h0M581.0 346.5h0M584.1 342.7h0M576.1 341.5h0M576.8 341.3h0M583.1 354.6h0M585.6 349.8h0M577.4 337.0h0M578.6 348.9h0M575.3 338.7h0M586.0 344.9h0M567.1 349.4h0M572.5 340.7h0M566.0 343.2h0M570.1 344.1h0M585.1 340.5h0M571.0 342.1h0M576.8 337.3h0M569.8 347.0h0M581.8 352.1h0M574.0 351.3h0M578.2 345.5h0M583.6 341.5h0M582.5 337.4h0M586.8 345.0h0M584.8 346.0h0M565.7 351.7h0M574.4 353.2h0M572.6 341.4h0M578.9 351.6h0M584.0 338.8h0M584.6 344.6h0M571.9 351.8h0M580.0 339.8h0M580.3 338.2h0M564.7 347.6h0M578.0 348.3h0M578.7 345.1h0M585.8 345.6h0" stroke="#7a50d8" stroke-width="1.0" stroke-linecap="round" opacity="0.75"/>
<path d="M581.4 345.6h0M577.2 346.6h0M579.2 353.0h0M575.7 336.8h0M568.3 344.3h0M581.5 349.7h0M578.9 342.8h0M570.8 345.9h0M585.8 349.1h0M579.9 339.1h0M580.8 338.8h0M579.4 352.7h0M569.9 351.4h0M569.3 353.9h0M576.8 342.9h0M574.9 334.7h0M566.5 353.2h0M581.2 341.2h0M585.1 341.2h0M569.7 351.8h0M577.2 354.9h0M575.1 347.1h0M576.9 354.0h0M573.1 343.4h0M580.6 344.4h0M570.3 340.9h0M585.0 346.9h0M570.3 343.9h0M574.4 356.0h0M583.3 348.0h0M573.0 338.1h0M569.3 352.3h0M571.1 352.9h0M578.8 347.9h0M572.4 351.1h0M581.3 354.6h0M575.5 338.8h0M570.9 347.4h0M583.6 341.0h0M568.3 344.6h0M567.3 353.4h0M576.6 345.5h0M581.8 352.3h0M581.4 346.2h0M573.6 355.9h0M574.1 338.5h0M584.7 351.4h0M572.1 357.0h0M574.3 355.2h0M575.4 335.4h0" stroke="#fff" stroke-width="1.2" stroke-linecap="round" opacity="0.8"/>
<circle cx="575.2" cy="346" r="12.2" fill="none" stroke="#4c2cc0" stroke-width="1.0" opacity="0.75"/>
<circle cx="603.8" cy="346" r="14.1" fill="none" stroke="#d8d4e8" stroke-width="0.9"/>
<circle cx="603.8" cy="346" r="12.7" fill="url(#g48)"/>
<path d="M602.7 336.1h0M608.0 350.9h0M594.6 343.4h0M613.0 339.1h0M599.2 355.4h0M599.2 348.6h0M609.6 347.2h0M603.5 343.1h0M598.5 349.1h0M604.8 347.4h0M607.9 353.5h0M599.6 343.1h0M603.7 334.3h0M607.5 345.8h0M603.4 349.4h0M605.2 338.2h0M606.5 352.7h0M599.3 351.5h0M611.8 354.4h0M599.3 344.5h0M606.2 357.1h0M607.1 341.8h0M603.1 346.9h0M608.5 342.3h0M610.5 351.8h0M595.3 343.0h0M600.1 352.0h0M610.4 342.7h0M596.0 339.2h0M603.9 351.8h0M609.6 348.8h0M598.2 335.9h0M601.6 342.0h0M598.9 350.0h0M597.7 352.9h0M607.3 347.1h0M599.6 347.2h0M608.2 344.0h0M602.4 346.6h0M606.6 355.9h0M615.1 343.8h0M605.6 334.8h0M596.9 340.9h0M605.7 340.0h0M599.0 345.2h0M602.4 347.1h0M614.0 343.8h0M602.9 340.8h0M599.6 338.4h0M610.2 355.4h0M600.5 343.0h0M596.7 347.7h0M601.1 343.6h0M609.5 355.4h0M597.7 342.5h0" stroke="#7a50d8" stroke-width="1.0" stroke-linecap="round" opacity="0.75"/>
<path d="M608.0 348.9h0M603.9 350.8h0M604.2 347.4h0M606.0 344.6h0M609.1 340.3h0M609.7 345.1h0M599.9 353.6h0M609.6 339.0h0M605.6 340.5h0M595.7 350.8h0M608.2 349.1h0M604.6 350.6h0M605.5 336.6h0M605.2 354.0h0M594.3 340.1h0M599.0 352.9h0M601.3 340.8h0M603.1 353.5h0M607.3 336.0h0M599.2 344.9h0M598.9 343.7h0M600.1 349.7h0M614.0 351.0h0M607.2 349.7h0M603.3 335.9h0M600.9 339.8h0M605.9 335.4h0M609.4 346.6h0M611.5 350.0h0M610.2 350.1h0M607.1 353.6h0M612.9 342.1h0M599.7 345.5h0M605.3 352.5h0M613.8 348.2h0M609.7 352.9h0M605.4 357.2h0M606.3 337.9h0M611.1 351.0h0M601.4 339.7h0M612.7 342.5h0M613.1 342.6h0M612.6 349.6h0M613.1 352.6h0M598.0 338.5h0M597.4 337.3h0M610.8 352.3h0M597.4 337.7h0M609.0 337.9h0M594.2 340.4h0M605.2 339.9h0M594.6 348.8h0M604.9 344.2h0M600.0 349.1h0M599.7 340.2h0M597.9 346.6h0M609.1 343.8h0M604.3 351.4h0M601.3 336.2h0M602.0 339.3h0" stroke="#fff" stroke-width="1.2" stroke-linecap="round" opacity="0.8"/>
<circle cx="603.8" cy="346" r="12.2" fill="none" stroke="#4c2cc0" stroke-width="1.0" opacity="0.75"/>
<circle cx="633" cy="346" r="14.1" fill="none" stroke="#d8d4e8" stroke-width="0.9"/>
<circle cx="633" cy="346" r="12.7" fill="url(#g46)"/>
<path d="M624.6 340.7h0M640.9 344.4h0M622.6 343.7h0M638.4 348.6h0M635.7 352.4h0M627.3 353.3h0M624.4 352.6h0M623.6 341.4h0M637.5 339.5h0M636.6 349.8h0M630.8 335.5h0M631.6 343.8h0M644.3 346.9h0M625.3 339.2h0M637.6 336.9h0M633.3 345.0h0M630.9 339.6h0M639.6 347.5h0M635.7 351.1h0M632.7 339.5h0M641.6 345.7h0M636.2 351.0h0M640.1 336.8h0M634.1 337.0h0M630.3 342.8h0M630.0 355.7h0M633.3 349.4h0M635.5 347.5h0M640.2 354.1h0M631.0 355.1h0M639.6 354.6h0M643.6 348.5h0M621.6 346.8h0M625.8 338.5h0M635.3 350.0h0M624.4 340.1h0M632.1 341.9h0M640.8 348.2h0M636.9 337.4h0M641.5 342.4h0M637.0 339.7h0M642.3 341.5h0M639.1 350.4h0M624.6 345.4h0M628.5 352.9h0M626.9 351.8h0M623.6 348.7h0M639.7 339.6h0M644.0 344.6h0M630.9 357.4h0M627.4 344.0h0M629.1 339.3h0M628.4 346.3h0M637.1 335.5h0M643.2 340.4h0M626.4 352.6h0M623.2 340.1h0M636.0 344.9h0M622.6 348.0h0M641.5 349.3h0M627.6 343.1h0M634.6 357.3h0M638.5 344.9h0M634.3 354.8h0M623.2 351.0h0M622.1 343.8h0M630.8 344.7h0M629.5 353.8h0M626.1 336.8h0M640.5 342.4h0" stroke="#7a50d8" stroke-width="1.0" stroke-linecap="round" opacity="0.75"/>
<path d="M622.4 346.1h0M633.9 352.6h0M639.9 349.5h0M633.9 346.5h0M630.3 348.7h0M627.4 350.0h0M639.9 352.8h0M630.6 337.9h0M632.7 337.2h0M640.4 349.7h0M627.2 349.7h0M627.0 352.1h0M641.3 342.8h0M639.5 344.8h0M636.4 349.2h0M628.2 348.9h0M622.6 344.7h0M642.4 346.5h0M635.2 344.7h0M626.8 347.8h0M637.0 355.8h0M642.5 342.2h0M631.9 338.7h0M628.0 350.5h0M628.4 353.1h0M626.7 342.9h0M631.9 347.1h0M629.5 354.0h0M630.0 355.1h0M644.4 346.4h0M633.3 354.4h0M628.0 351.1h0M630.1 341.6h0M633.6 352.1h0M635.0 334.9h0M640.7 345.4h0M642.6 347.0h0M630.4 335.1h0M626.3 346.1h0M641.3 340.9h0M624.5 348.3h0M638.0 347.4h0M634.1 352.0h0M627.4 355.0h0M640.0 337.0h0M634.4 350.8h0M634.9 350.2h0M637.0 349.8h0M625.4 350.8h0M634.9 346.0h0" stroke="#fff" stroke-width="1.2" stroke-linecap="round" opacity="0.8"/>
<circle cx="633" cy="346" r="12.2" fill="none" stroke="#4428bc" stroke-width="1.0" opacity="0.75"/>
<circle cx="662.7" cy="346" r="14.1" fill="none" stroke="#d8d4e8" stroke-width="0.9"/>
<circle cx="662.7" cy="346" r="12.7" fill="url(#g49)"/>
<path d="M658.8 344.7h0M670.8 353.7h0M660.1 341.9h0M667.8 343.5h0M657.8 335.6h0M669.4 352.3h0M669.8 337.3h0M668.0 352.4h0M657.8 347.7h0M671.0 346.4h0M665.0 351.7h0M657.5 350.8h0M670.7 344.6h0M667.5 348.6h0M670.9 341.4h0M658.1 341.2h0M659.8 352.8h0M660.1 356.6h0M661.8 338.9h0M656.9 347.7h0M663.3 339.4h0M663.2 352.8h0M664.0 348.9h0M661.6 356.2h0M669.5 350.0h0" stroke="#7a50d8" stroke-width="1.0" stroke-linecap="round" opacity="0.75"/>
<path d="M663.0 348.7h0M663.1 347.3h0M672.0 339.7h0M669.9 350.7h0M666.2 340.2h0M663.1 357.4h0M671.3 340.7h0M663.9 354.3h0M664.3 335.5h0M671.2 348.3h0M660.6 352.8h0M667.1 353.0h0M664.0 352.8h0M657.2 345.7h0M665.2 344.1h0M661.5 337.6h0M655.8 340.4h0M671.0 345.7h0M669.4 338.2h0M665.8 353.9h0M654.8 344.1h0M666.3 338.1h0M662.3 342.9h0M672.7 341.9h0M670.2 352.0h0M667.2 340.2h0M667.4 349.8h0M654.3 350.4h0M670.0 350.5h0M660.5 342.9h0" stroke="#fff" stroke-width="1.2" stroke-linecap="round" opacity="0.8"/>
<circle cx="662.7" cy="346" r="12.2" fill="none" stroke="#4c2cc0" stroke-width="1.0" opacity="0.75"/>
<path d="M668.5 356A11.6 11.6 0 0 1 651.8 342" fill="none" stroke="#5030c0" stroke-width="1.6" stroke-linecap="round" opacity="0.6"/>
<rect x="501.6" y="362.6" width="177.2" height="30.1" fill="#fdfdfd" stroke="#a0a0a0" stroke-width="0.9"/>
<circle cx="516.5" cy="377.6" r="14.1" fill="none" stroke="#d8d4e8" stroke-width="0.9"/>
<circle cx="516.5" cy="377.6" r="12.7" fill="url(#g50)"/>
<path d="M525.3 374.9h0M523.3 374.7h0M525.6 378.6h0M510.8 387.1h0M509.4 369.7h0M519.0 380.0h0M518.6 372.2h0M517.7 376.1h0M514.1 376.4h0M527.0 381.6h0M516.4 367.6h0M517.8 386.4h0M521.9 371.2h0M525.7 371.1h0M511.9 376.0h0M507.6 371.1h0M510.2 387.4h0M516.8 375.8h0M509.4 383.5h0M509.7 370.0h0M507.9 376.9h0M518.9 387.7h0M519.7 366.6h0M515.0 378.9h0M512.1 383.5h0M521.0 387.4h0M520.0 366.6h0M506.9 375.4h0M517.7 378.5h0M524.8 373.6h0M521.3 387.9h0M517.1 383.6h0M527.1 376.4h0M507.1 373.4h0M517.8 386.9h0M511.9 379.0h0M506.4 378.1h0M524.6 383.3h0M508.1 374.8h0M516.9 370.4h0M509.6 368.9h0M515.8 378.6h0M505.6 379.8h0M506.9 371.1h0M520.2 388.2h0M517.2 387.2h0M509.0 371.3h0M507.0 373.7h0M515.7 379.8h0M513.8 384.9h0M522.4 371.6h0M527.1 372.9h0M527.0 376.6h0M507.2 378.8h0M506.0 381.5h0M520.2 380.3h0M514.0 373.2h0M528.0 379.4h0M509.5 383.0h0M523.5 371.4h0M510.7 382.3h0M521.0 376.3h0M513.0 373.7h0M522.3 380.4h0M514.9 368.5h0M506.3 375.8h0M516.3 371.5h0M508.5 385.1h0M527.6 378.9h0M514.0 380.4h0M510.1 373.8h0M515.8 384.6h0M512.4 381.0h0M506.6 379.1h0M509.3 385.3h0M524.2 380.9h0M527.8 376.1h0M525.3 383.2h0M521.7 371.4h0M522.3 371.2h0" stroke="#7a50d8" stroke-width="1.0" stroke-linecap="round" opacity="0.75"/>
<path d="M520.3 388.2h0M506.2 378.3h0M509.9 384.7h0M515.9 383.6h0M512.6 373.5h0M518.6 384.0h0M527.8 377.7h0M521.1 375.8h0M526.4 377.3h0M508.0 380.6h0M520.5 383.3h0M512.2 369.3h0M516.6 385.6h0M520.8 383.6h0M520.0 388.1h0M507.2 380.7h0M518.6 367.3h0M517.3 382.5h0M517.4 371.5h0M523.0 386.3h0M510.6 380.1h0M522.7 384.2h0M518.7 386.5h0M509.7 382.8h0M519.4 374.0h0M507.8 381.2h0M514.3 376.3h0M517.5 377.2h0M513.7 383.3h0M512.9 369.2h0M522.1 387.3h0M522.8 369.8h0M518.1 367.6h0M522.1 379.9h0M515.6 367.7h0M517.7 376.8h0M522.5 379.9h0M525.5 381.0h0M521.6 374.5h0M526.3 379.2h0M511.9 376.6h0M508.5 380.1h0M518.2 386.4h0M524.1 379.0h0M525.7 381.1h0M514.5 380.0h0M516.2 387.3h0M525.3 381.2h0M516.9 383.3h0M526.5 381.9h0" stroke="#fff" stroke-width="1.2" stroke-linecap="round" opacity="0.8"/>
<circle cx="516.5" cy="377.6" r="12.2" fill="none" stroke="#4c2cc0" stroke-width="1.0" opacity="0.75"/>
<circle cx="545.7" cy="377.6" r="14.1" fill="none" stroke="#d8d4e8" stroke-width="0.9"/>
<circle cx="545.7" cy="377.6" r="12.7" fill="url(#g45)"/>
<path d="M549.1 372.0h0M550.9 387.3h0M539.3 370.7h0M534.4 380.0h0M541.1 370.0h0M552.5 370.2h0M552.8 369.8h0M546.8 367.8h0M543.9 376.1h0M535.0 374.6h0M544.2 367.5h0M548.4 369.5h0M548.2 372.6h0M552.0 385.7h0M542.9 375.8h0M535.8 372.0h0M544.9 369.1h0M535.9 377.0h0M543.9 377.6h0M545.1 375.6h0M551.1 384.0h0M534.3 375.5h0M547.7 371.5h0M542.4 370.2h0M547.8 378.1h0M544.8 375.6h0M537.2 370.8h0M549.9 372.2h0M550.0 380.9h0M546.0 375.1h0M538.7 385.1h0M550.6 369.2h0M555.9 380.0h0M556.1 379.1h0M543.6 385.9h0M543.5 372.9h0M554.7 379.6h0M557.4 376.7h0M544.2 366.4h0M554.3 379.3h0M541.9 385.0h0M537.0 377.4h0M553.3 384.2h0M547.1 375.9h0M537.6 379.9h0M537.3 377.4h0M545.1 386.8h0M539.6 386.6h0M542.5 379.1h0M554.7 375.3h0M538.0 381.1h0M540.7 374.2h0M552.2 385.2h0M539.3 378.9h0M549.1 374.8h0M545.4 385.7h0M539.4 374.8h0M546.7 379.4h0M547.2 369.8h0M551.0 378.7h0M536.1 375.8h0M535.8 381.4h0M545.1 387.5h0M549.6 376.4h0M554.4 376.5h0M537.9 377.1h0M550.0 371.7h0M549.3 383.1h0M549.7 377.9h0M552.1 374.3h0" stroke="#7a50d8" stroke-width="1.0" stroke-linecap="round" opacity="0.75"/>
<path d="M546.7 370.1h0M543.9 366.6h0M541.4 382.0h0M538.3 386.4h0M542.8 384.7h0M547.8 386.2h0M543.2 376.9h0M551.8 368.4h0M538.3 374.5h0M543.6 386.2h0M546.2 370.3h0M545.4 371.3h0M542.7 388.3h0M535.9 381.0h0M539.6 368.1h0M544.0 380.3h0M555.8 372.7h0M545.8 380.4h0M545.0 378.5h0M548.9 380.9h0M538.3 375.1h0M544.6 380.2h0M540.9 385.0h0M539.8 383.4h0M541.0 373.6h0M550.4 378.4h0M540.3 380.8h0M547.3 371.0h0M535.6 377.1h0M538.8 382.9h0M552.3 379.2h0M540.0 385.1h0M543.7 366.7h0M534.6 379.9h0M546.9 369.9h0M544.0 368.2h0M544.1 375.0h0M550.2 374.1h0M548.2 384.3h0M550.1 375.9h0M548.9 383.9h0M554.3 380.7h0M547.9 370.2h0M554.1 379.5h0M553.1 380.5h0M551.8 368.8h0M544.8 366.7h0M539.4 378.2h0M541.4 378.7h0M553.8 381.6h0" stroke="#fff" stroke-width="1.2" stroke-linecap="round" opacity="0.8"/>
<circle cx="545.7" cy="377.6" r="12.2" fill="none" stroke="#4428bc" stroke-width="1.0" opacity="0.75"/>
<circle cx="575.2" cy="377.6" r="14.1" fill="none" stroke="#d8d4e8" stroke-width="0.9"/>
<circle cx="575.2" cy="377.6" r="12.7" fill="url(#g48)"/>
<path d="M575.3 386.2h0M566.6 373.0h0M575.1 377.8h0M574.0 372.0h0M571.3 374.5h0M578.3 387.5h0M580.8 371.2h0M567.9 384.4h0M586.8 376.0h0M568.4 375.6h0M583.5 373.2h0M582.1 382.2h0M571.1 375.9h0M572.8 372.7h0M569.0 371.7h0M573.5 386.4h0M583.0 374.1h0M566.5 370.1h0M572.6 371.0h0M570.9 370.9h0M565.8 380.6h0M584.3 379.5h0M580.4 382.6h0M582.7 370.7h0M580.5 368.2h0M570.2 386.7h0M580.8 378.1h0M570.3 383.0h0M580.5 376.8h0M585.0 378.9h0M572.3 380.0h0M583.6 385.0h0M579.9 372.0h0M569.6 378.2h0M572.0 371.6h0M582.0 383.3h0M582.7 385.6h0M570.1 385.2h0M580.7 374.0h0M567.7 378.6h0M575.4 370.8h0M573.5 376.3h0M579.0 378.1h0M580.9 372.7h0M583.0 382.9h0M568.7 370.9h0M577.6 384.4h0M566.7 374.7h0M580.1 376.9h0M573.4 385.8h0M580.3 369.4h0M581.6 377.7h0M577.5 384.0h0M585.2 379.9h0M578.8 384.7h0M572.4 368.5h0M570.9 379.4h0M584.6 377.1h0M568.2 380.0h0M567.7 369.2h0" stroke="#7a50d8" stroke-width="1.0" stroke-linecap="round" opacity="0.75"/>
<path d="M575.5 387.0h0M573.9 370.6h0M578.9 367.8h0M582.4 382.6h0M577.6 377.2h0M584.5 373.7h0M580.1 377.4h0M569.5 384.8h0M575.3 369.7h0M574.0 374.2h0M578.5 368.4h0M572.0 383.7h0M580.3 370.6h0M567.3 383.3h0M574.8 379.3h0M565.1 377.6h0M569.5 370.7h0M573.4 387.2h0M566.4 380.9h0M573.2 378.7h0M579.4 374.1h0M575.2 384.7h0M569.8 384.2h0M572.0 381.8h0M579.2 373.8h0M573.9 372.5h0M580.2 387.9h0M581.3 387.0h0M576.7 370.7h0M573.6 375.0h0M584.4 372.8h0M581.4 380.1h0M574.1 373.9h0M569.5 383.6h0M575.5 388.8h0M584.3 376.1h0M572.5 373.9h0M575.6 379.5h0M576.8 366.7h0M565.7 373.5h0M575.2 383.5h0M574.1 368.3h0M577.5 369.0h0M566.2 375.8h0M569.5 369.8h0M578.2 377.4h0M576.9 369.6h0M584.6 375.9h0M569.1 385.4h0M565.1 377.5h0" stroke="#fff" stroke-width="1.2" stroke-linecap="round" opacity="0.8"/>
<circle cx="575.2" cy="377.6" r="12.2" fill="none" stroke="#4c2cc0" stroke-width="1.0" opacity="0.75"/>
<circle cx="603.8" cy="377.6" r="14.1" fill="none" stroke="#d8d4e8" stroke-width="0.9"/>
<circle cx="603.8" cy="377.6" r="12.7" fill="url(#g51)"/>
<path d="M597.3 375.3h0M607.1 377.3h0M597.2 376.0h0M603.6 389.1h0M598.8 386.8h0M606.4 375.3h0M609.5 379.5h0M597.7 383.0h0M613.2 371.0h0M603.6 385.6h0M592.4 379.0h0M608.6 378.8h0M612.3 381.7h0M605.5 377.4h0M609.9 377.4h0M597.8 368.2h0M603.9 377.8h0M604.2 384.7h0M596.8 378.9h0M600.9 378.5h0M598.0 384.0h0M606.6 376.6h0M615.1 380.5h0M607.7 368.3h0M614.9 374.0h0M595.1 378.1h0M612.2 382.6h0M612.7 379.0h0M596.6 376.7h0M597.2 371.4h0M602.0 383.4h0M609.4 386.7h0M601.0 370.1h0M601.4 389.0h0M598.1 370.1h0M605.0 381.0h0M614.6 378.7h0M612.6 370.1h0M599.6 370.1h0M613.0 379.8h0M603.5 367.9h0M595.6 379.0h0M592.5 380.0h0M605.1 368.4h0M597.7 383.8h0M600.5 367.8h0M597.9 380.7h0M604.2 384.2h0M597.0 383.7h0M605.3 381.9h0M609.2 387.8h0M600.3 371.8h0M596.1 377.4h0M595.3 380.5h0M605.0 370.6h0M597.8 372.5h0M606.6 380.6h0M599.8 388.0h0M595.1 383.8h0M607.2 385.6h0M604.0 383.7h0M614.4 373.4h0M606.1 375.4h0M598.6 379.7h0M606.4 374.3h0" stroke="#7a50d8" stroke-width="1.0" stroke-linecap="round" opacity="0.75"/>
<path d="M594.7 370.8h0M605.1 372.3h0M601.2 378.2h0M595.6 370.0h0M594.6 372.3h0M593.4 373.5h0M612.6 379.5h0M614.6 381.4h0M598.8 382.2h0M608.0 369.3h0M607.2 380.2h0M598.6 378.5h0M604.2 377.3h0M602.3 369.3h0M592.8 378.4h0M605.7 374.6h0M605.1 375.3h0M604.9 388.8h0M600.5 376.0h0M614.6 374.0h0M596.0 377.1h0M605.5 382.0h0M610.8 374.0h0M603.7 374.2h0M602.8 377.7h0M602.3 372.5h0M594.0 371.7h0M600.2 383.8h0M594.7 372.3h0M602.3 370.6h0M601.1 375.6h0M604.2 376.0h0M604.8 380.6h0M594.8 373.1h0M605.6 369.4h0M600.9 375.0h0M595.8 384.5h0M607.0 381.4h0M598.5 371.7h0M595.0 377.8h0M593.6 378.4h0M613.2 378.8h0M603.6 382.4h0M612.9 383.0h0M604.5 381.3h0M609.1 387.1h0M593.0 378.7h0M611.6 375.3h0M604.1 367.4h0M609.5 376.2h0" stroke="#fff" stroke-width="1.2" stroke-linecap="round" opacity="0.8"/>
<circle cx="603.8" cy="377.6" r="12.2" fill="none" stroke="#4c2cc0" stroke-width="1.0" opacity="0.75"/>
<circle cx="633" cy="377.6" r="14.1" fill="none" stroke="#d8d4e8" stroke-width="0.9"/>
<circle cx="633" cy="377.6" r="12.7" fill="url(#g52)"/>
<path d="M640.8 373.7h0M639.1 373.1h0M628.6 383.0h0M634.0 372.4h0M638.1 368.7h0M624.2 382.4h0M627.7 376.6h0M629.7 379.0h0M639.3 386.9h0M632.3 388.5h0M624.7 371.3h0M637.7 384.3h0M643.6 379.5h0M638.6 384.9h0M638.3 376.9h0M632.4 378.9h0M627.8 379.1h0M625.3 385.4h0M640.3 372.0h0M625.2 383.3h0M640.8 380.4h0M627.1 371.0h0M632.6 378.8h0M631.7 380.1h0M622.8 372.0h0M642.9 376.9h0M638.9 387.1h0M626.8 383.3h0M636.8 383.3h0M638.8 370.4h0M643.9 380.9h0M624.7 383.3h0M633.5 376.7h0M628.5 370.2h0M622.4 380.1h0M629.6 387.9h0M635.0 367.1h0M630.3 368.7h0M625.7 371.4h0M632.0 367.8h0M629.2 377.3h0M641.1 382.5h0M627.2 383.0h0M635.6 378.3h0M643.8 381.1h0M626.8 371.4h0M637.4 380.3h0M626.2 387.0h0M626.2 378.4h0M633.9 376.5h0M622.7 377.7h0M635.8 386.7h0M641.5 371.3h0M641.8 385.2h0M641.8 379.7h0M629.5 376.3h0M633.8 379.0h0M633.9 371.1h0M631.4 388.7h0M632.8 373.7h0M631.3 375.7h0M634.2 375.4h0M627.5 370.8h0M630.9 376.5h0M635.7 388.6h0M628.3 385.2h0M629.5 372.7h0M629.1 371.2h0M641.6 384.7h0M633.2 372.6h0M639.0 370.7h0M631.3 383.9h0M622.7 376.2h0M622.8 381.4h0M629.9 367.3h0" stroke="#7a50d8" stroke-width="1.0" stroke-linecap="round" opacity="0.75"/>
<path d="M626.8 385.4h0M643.7 374.7h0M624.1 384.8h0M629.7 382.9h0M636.4 388.0h0M625.3 376.5h0M633.4 368.2h0M625.1 375.9h0M625.6 369.6h0M636.2 373.8h0M637.5 386.6h0M640.3 378.2h0M638.8 369.5h0M629.3 374.3h0M629.2 371.2h0M639.0 368.9h0M634.3 367.4h0M638.1 386.8h0M643.9 377.3h0M633.4 374.1h0M632.1 368.4h0M629.1 368.8h0M625.0 372.6h0M624.1 371.3h0M628.6 381.0h0M641.4 375.2h0M631.3 386.4h0M624.8 384.9h0M628.7 387.5h0M635.7 388.2h0M639.0 372.7h0M640.5 381.6h0M635.2 386.2h0M638.6 379.1h0M634.0 386.7h0M632.0 369.5h0M632.2 368.5h0M629.7 370.4h0M623.1 377.2h0M633.0 387.3h0M642.0 377.8h0M639.5 380.0h0M639.3 373.7h0M641.4 382.9h0M629.6 383.8h0M633.7 380.6h0M637.3 376.2h0M622.2 377.2h0M627.8 385.6h0M639.9 371.6h0" stroke="#fff" stroke-width="1.2" stroke-linecap="round" opacity="0.8"/>
<circle cx="633" cy="377.6" r="12.2" fill="none" stroke="#4428bc" stroke-width="1.0" opacity="0.75"/>
<circle cx="662.7" cy="377.6" r="14.1" fill="none" stroke="#d8d4e8" stroke-width="0.9"/>
<circle cx="662.7" cy="377.6" r="12.7" fill="url(#g53)"/>
<path d="M669.0 385.8h0M652.0 375.3h0M663.1 368.3h0M662.6 376.1h0M655.1 378.0h0M655.7 378.0h0M653.7 379.2h0M668.3 377.6h0M667.3 384.1h0M666.4 384.6h0M662.1 381.4h0M665.5 379.8h0M657.9 386.0h0M657.4 387.4h0M666.6 383.0h0M655.8 384.6h0M661.4 385.7h0M663.0 386.2h0M651.7 380.6h0M653.9 375.9h0" stroke="#7a50d8" stroke-width="1.0" stroke-linecap="round" opacity="0.75"/>
<path d="M667.2 382.9h0M669.9 371.3h0M671.9 376.9h0M668.5 372.8h0M658.4 380.6h0M666.3 373.0h0M653.3 372.4h0M653.9 383.7h0M658.9 383.4h0M654.3 380.0h0M672.2 384.0h0M652.5 375.1h0M673.4 379.0h0M670.0 377.7h0M657.3 367.6h0M659.9 371.9h0M656.8 382.5h0M663.8 366.2h0M655.4 379.0h0M663.1 388.5h0" stroke="#fff" stroke-width="1.2" stroke-linecap="round" opacity="0.8"/>
<circle cx="662.7" cy="377.6" r="12.2" fill="none" stroke="#4c2cc0" stroke-width="1.0" opacity="0.75"/>
<path d="M660.7 388.8A11.3 11.3 0 0 1 655.4 369" fill="none" stroke="#4a28c0" stroke-width="2.2" stroke-linecap="round" opacity="0.75"/>
<text x="0" y="0" font-size="9.3" text-anchor="end" transform="translate(496.7 287) scale(0.900 1)">SCR</text>
<text x="0" y="0" font-size="9.3" text-anchor="end" transform="translate(496.7 313.9) scale(0.900 1)">sh-β-</text>
<text x="0" y="0" font-size="9.3" text-anchor="end" transform="translate(496.7 322.3) scale(0.900 1)">catenin</text>
<text x="0" y="0" font-size="9.3" text-anchor="end" transform="translate(496.7 344.8) scale(0.900 1)">SCR</text>
<text x="0" y="0" font-size="9.3" text-anchor="end" transform="translate(496.7 352.1) scale(0.900 1)">+sora</text>
<text x="0" y="0" font-size="9.3" text-anchor="end" transform="translate(496.7 373.8) scale(0.900 1)">sh-β-</text>
<text x="0" y="0" font-size="9.3" text-anchor="end" transform="translate(496.7 382.6) scale(0.900 1)">catenin</text>
<text x="0" y="0" font-size="9.3" text-anchor="end" transform="translate(496.7 390.4) scale(0.900 1)">+sora</text>
<text x="463" y="402.6" font-size="8.1">Sora(μM)</text>
<text x="500.5" y="403.4" font-size="9">:</text>
<text x="516.4" y="403.4" font-size="9.5" text-anchor="middle">0.31</text>
<text x="544.7" y="403.4" font-size="9.5" text-anchor="middle">0.63</text>
<text x="573.2" y="403.4" font-size="9.5" text-anchor="middle">1.25</text>
<text x="603.6" y="403.4" font-size="9.5" text-anchor="middle">2.50</text>
<text x="632.1" y="403.4" font-size="9.5" text-anchor="middle">5.00</text>
<text x="663.2" y="403.4" font-size="9.5" text-anchor="middle">10.00</text>
<text x="6.7" y="431.8" font-size="13.5" stroke-width="0.15">G</text>
<text x="141.3" y="429.2" font-size="9.5" text-anchor="middle">Hep3B</text>
<line x1="42" y1="431.1" x2="226.2" y2="431.1" stroke="#2c2c2c" stroke-width="1.1"/>
<line x1="42.3" y1="456.1" x2="42.3" y2="578.1" stroke="#1a1a1a" stroke-width="1.2"/>
<line x1="41.7" y1="577.5" x2="224.3" y2="577.5" stroke="#1a1a1a" stroke-width="1.2"/>
<line x1="36.9" y1="577.5" x2="42.3" y2="577.5" stroke="#1a1a1a" stroke-width="1.2"/>
<text x="0" y="0" font-size="10.3" text-anchor="end" transform="translate(36.4 581.1) scale(0.870 1)">0.0</text>
<line x1="36.9" y1="537.2" x2="42.3" y2="537.2" stroke="#1a1a1a" stroke-width="1.2"/>
<text x="0" y="0" font-size="10.3" text-anchor="end" transform="translate(36.4 540.9) scale(0.870 1)">0.5</text>
<line x1="36.9" y1="497" x2="42.3" y2="497" stroke="#1a1a1a" stroke-width="1.2"/>
<text x="0" y="0" font-size="10.3" text-anchor="end" transform="translate(36.4 500.6) scale(0.870 1)">1.0</text>
<line x1="36.9" y1="456.8" x2="42.3" y2="456.8" stroke="#1a1a1a" stroke-width="1.2"/>
<text x="0" y="0" font-size="10.3" text-anchor="end" transform="translate(36.4 460.4) scale(0.870 1)">1.5</text>
<text x="17" y="518" font-size="9.6" text-anchor="middle" transform="rotate(-90 17 518)">OD value(540nm)</text>
<line x1="53.4" y1="577.5" x2="53.4" y2="581.1" stroke="#1a1a1a" stroke-width="1.2"/>
<path d="M46 577.5V470.3H51V577.5" fill="none" stroke="#0000ff" stroke-width="1.4"/>
<circle cx="46.8" cy="468.8" r="1.5" fill="none" stroke="#0000ff" stroke-width="0.9"/>
<circle cx="48.5" cy="468" r="1.5" fill="none" stroke="#0000ff" stroke-width="0.9"/>
<circle cx="50.2" cy="469.6" r="1.5" fill="none" stroke="#0000ff" stroke-width="0.9"/>
<line x1="45.7" y1="469.6" x2="51.3" y2="469.6" stroke="#0000ff" stroke-width="1.3"/>
<path d="M55.8 577.5V492.9H60.8V577.5" fill="none" stroke="#ff0000" stroke-width="1.4"/>
<circle cx="56.6" cy="493" r="1.5" fill="none" stroke="#ff0000" stroke-width="0.9"/>
<circle cx="58.3" cy="488.9" r="1.5" fill="none" stroke="#ff0000" stroke-width="0.9"/>
<circle cx="60" cy="492.2" r="1.5" fill="none" stroke="#ff0000" stroke-width="0.9"/>
<line x1="55.5" y1="492.2" x2="61.1" y2="492.2" stroke="#ff0000" stroke-width="1.3"/>
<path d="M48.5 461.7 L48.5 454.2 L58.3 454.2 L58.3 482.8" stroke="#222" stroke-width="1.2" fill="none"/>
<text x="53.9" y="451.6" font-size="7.6" text-anchor="middle" stroke-width="0.55" letter-spacing="1.05">****</text>
<line x1="79.8" y1="577.5" x2="79.8" y2="581.1" stroke="#1a1a1a" stroke-width="1.2"/>
<path d="M72.4 577.5V476H77.4V577.5" fill="none" stroke="#0000ff" stroke-width="1.4"/>
<circle cx="73.2" cy="475.3" r="1.5" fill="none" stroke="#0000ff" stroke-width="0.9"/>
<circle cx="74.9" cy="467.2" r="1.5" fill="none" stroke="#0000ff" stroke-width="0.9"/>
<circle cx="76.6" cy="478.5" r="1.5" fill="none" stroke="#0000ff" stroke-width="0.9"/>
<line x1="72.1" y1="475.3" x2="77.7" y2="475.3" stroke="#0000ff" stroke-width="1.3"/>
<path d="M82.2 577.5V553.2H87.2V577.5" fill="none" stroke="#ff0000" stroke-width="1.4"/>
<circle cx="83" cy="552.5" r="1.5" fill="none" stroke="#ff0000" stroke-width="0.9"/>
<circle cx="84.7" cy="551.7" r="1.5" fill="none" stroke="#ff0000" stroke-width="0.9"/>
<circle cx="86.4" cy="552.5" r="1.5" fill="none" stroke="#ff0000" stroke-width="0.9"/>
<line x1="81.9" y1="552.5" x2="87.5" y2="552.5" stroke="#ff0000" stroke-width="1.3"/>
<path d="M74.9 460.9 L74.9 454.2 L84.7 454.2 L84.7 545.6" stroke="#222" stroke-width="1.2" fill="none"/>
<text x="80.3" y="451.6" font-size="7.6" text-anchor="middle" stroke-width="0.55" letter-spacing="1.05">****</text>
<line x1="106.1" y1="577.5" x2="106.1" y2="581.1" stroke="#1a1a1a" stroke-width="1.2"/>
<path d="M98.7 577.5V483.2H103.7V577.5" fill="none" stroke="#0000ff" stroke-width="1.4"/>
<circle cx="99.5" cy="483.3" r="1.5" fill="none" stroke="#0000ff" stroke-width="0.9"/>
<circle cx="101.2" cy="479.3" r="1.5" fill="none" stroke="#0000ff" stroke-width="0.9"/>
<circle cx="102.9" cy="482.5" r="1.5" fill="none" stroke="#0000ff" stroke-width="0.9"/>
<line x1="98.4" y1="482.5" x2="104" y2="482.5" stroke="#0000ff" stroke-width="1.3"/>
<path d="M108.5 577.5V544.4H113.5V577.5" fill="none" stroke="#ff0000" stroke-width="1.4"/>
<circle cx="109.3" cy="543.7" r="1.5" fill="none" stroke="#ff0000" stroke-width="0.9"/>
<circle cx="111" cy="542.9" r="1.5" fill="none" stroke="#ff0000" stroke-width="0.9"/>
<circle cx="112.7" cy="543.7" r="1.5" fill="none" stroke="#ff0000" stroke-width="0.9"/>
<line x1="108.2" y1="543.7" x2="113.8" y2="543.7" stroke="#ff0000" stroke-width="1.3"/>
<path d="M101.2 473 L101.2 454.2 L111 454.2 L111 536.8" stroke="#222" stroke-width="1.2" fill="none"/>
<text x="106.7" y="451.6" font-size="7.6" text-anchor="middle" stroke-width="0.55" letter-spacing="1.05">****</text>
<line x1="132.5" y1="577.5" x2="132.5" y2="581.1" stroke="#1a1a1a" stroke-width="1.2"/>
<path d="M125.1 577.5V504.1H130.1V577.5" fill="none" stroke="#0000ff" stroke-width="1.4"/>
<circle cx="125.9" cy="502.6" r="1.5" fill="none" stroke="#0000ff" stroke-width="0.9"/>
<circle cx="127.6" cy="505.1" r="1.5" fill="none" stroke="#0000ff" stroke-width="0.9"/>
<circle cx="129.3" cy="503.4" r="1.5" fill="none" stroke="#0000ff" stroke-width="0.9"/>
<line x1="124.8" y1="503.4" x2="130.4" y2="503.4" stroke="#0000ff" stroke-width="1.3"/>
<path d="M134.9 577.5V550H139.9V577.5" fill="none" stroke="#ff0000" stroke-width="1.4"/>
<circle cx="135.7" cy="549.3" r="1.5" fill="none" stroke="#ff0000" stroke-width="0.9"/>
<circle cx="137.4" cy="549.3" r="1.5" fill="none" stroke="#ff0000" stroke-width="0.9"/>
<circle cx="139.1" cy="548.5" r="1.5" fill="none" stroke="#ff0000" stroke-width="0.9"/>
<line x1="134.6" y1="549.3" x2="140.2" y2="549.3" stroke="#ff0000" stroke-width="1.3"/>
<path d="M127.6 496.3 L127.6 454.2 L137.4 454.2 L137.4 542.4" stroke="#222" stroke-width="1.2" fill="none"/>
<text x="133" y="451.6" font-size="7.6" text-anchor="middle" stroke-width="0.55" letter-spacing="1.05">****</text>
<line x1="158.9" y1="577.5" x2="158.9" y2="581.1" stroke="#1a1a1a" stroke-width="1.2"/>
<path d="M151.5 577.5V520.2H156.5V577.5" fill="none" stroke="#0000ff" stroke-width="1.4"/>
<circle cx="152.3" cy="519.5" r="1.5" fill="none" stroke="#0000ff" stroke-width="0.9"/>
<circle cx="154" cy="516.3" r="1.5" fill="none" stroke="#0000ff" stroke-width="0.9"/>
<circle cx="155.7" cy="520.3" r="1.5" fill="none" stroke="#0000ff" stroke-width="0.9"/>
<line x1="151.2" y1="519.5" x2="156.8" y2="519.5" stroke="#0000ff" stroke-width="1.3"/>
<path d="M161.3 577.5V554.1H166.3V577.5" fill="none" stroke="#ff0000" stroke-width="1.4"/>
<circle cx="162.1" cy="553.4" r="1.5" fill="none" stroke="#ff0000" stroke-width="0.9"/>
<circle cx="163.8" cy="552.5" r="1.5" fill="none" stroke="#ff0000" stroke-width="0.9"/>
<circle cx="165.5" cy="553.4" r="1.5" fill="none" stroke="#ff0000" stroke-width="0.9"/>
<line x1="161" y1="553.4" x2="166.6" y2="553.4" stroke="#ff0000" stroke-width="1.3"/>
<path d="M154 510 L154 454.2 L163.8 454.2 L163.8 546.4" stroke="#222" stroke-width="1.2" fill="none"/>
<text x="159.4" y="451.6" font-size="7.6" text-anchor="middle" stroke-width="0.55" letter-spacing="1.05">****</text>
<line x1="185.2" y1="577.5" x2="185.2" y2="581.1" stroke="#1a1a1a" stroke-width="1.2"/>
<path d="M177.8 577.5V525.9H182.9V577.5" fill="none" stroke="#0000ff" stroke-width="1.4"/>
<circle cx="178.7" cy="525.2" r="1.5" fill="none" stroke="#0000ff" stroke-width="0.9"/>
<circle cx="180.3" cy="524.4" r="1.5" fill="none" stroke="#0000ff" stroke-width="0.9"/>
<circle cx="182" cy="525.2" r="1.5" fill="none" stroke="#0000ff" stroke-width="0.9"/>
<line x1="177.5" y1="525.2" x2="183.2" y2="525.2" stroke="#0000ff" stroke-width="1.3"/>
<path d="M187.6 577.5V558.9H192.7V577.5" fill="none" stroke="#ff0000" stroke-width="1.4"/>
<circle cx="188.4" cy="556.6" r="1.5" fill="none" stroke="#ff0000" stroke-width="0.9"/>
<circle cx="190.1" cy="560.6" r="1.5" fill="none" stroke="#ff0000" stroke-width="0.9"/>
<circle cx="191.8" cy="558.2" r="1.5" fill="none" stroke="#ff0000" stroke-width="0.9"/>
<line x1="187.3" y1="558.2" x2="192.9" y2="558.2" stroke="#ff0000" stroke-width="1.3"/>
<path d="M180.3 518.1 L180.3 454.2 L190.1 454.2 L190.1 550.5" stroke="#222" stroke-width="1.2" fill="none"/>
<text x="185.8" y="451.6" font-size="7.6" text-anchor="middle" stroke-width="0.55" letter-spacing="1.05">****</text>
<line x1="211.6" y1="577.5" x2="211.6" y2="581.1" stroke="#1a1a1a" stroke-width="1.2"/>
<path d="M204.2 577.5V545.2H209.2V577.5" fill="none" stroke="#0000ff" stroke-width="1.4"/>
<circle cx="205" cy="544.5" r="1.5" fill="none" stroke="#0000ff" stroke-width="0.9"/>
<circle cx="206.7" cy="543.7" r="1.5" fill="none" stroke="#0000ff" stroke-width="0.9"/>
<circle cx="208.4" cy="544.5" r="1.5" fill="none" stroke="#0000ff" stroke-width="0.9"/>
<line x1="203.9" y1="544.5" x2="209.5" y2="544.5" stroke="#0000ff" stroke-width="1.3"/>
<path d="M214 577.5V563.7H219V577.5" fill="none" stroke="#ff0000" stroke-width="1.4"/>
<circle cx="214.8" cy="563" r="1.5" fill="none" stroke="#ff0000" stroke-width="0.9"/>
<circle cx="216.5" cy="562.2" r="1.5" fill="none" stroke="#ff0000" stroke-width="0.9"/>
<circle cx="218.2" cy="563" r="1.5" fill="none" stroke="#ff0000" stroke-width="0.9"/>
<line x1="213.7" y1="563" x2="219.3" y2="563" stroke="#ff0000" stroke-width="1.3"/>
<path d="M206.7 537.4 L206.7 454.2 L216.5 454.2 L216.5 556.1" stroke="#222" stroke-width="1.2" fill="none"/>
<text x="212.1" y="451.6" font-size="7.6" text-anchor="middle" stroke-width="0.55" letter-spacing="1.05">****</text>
<circle cx="44.4" cy="438.7" r="1.35" fill="none" stroke="#0000ff" stroke-width="0.8"/>
<text x="58.5" y="441.6" font-size="9.6">SCR+sora</text>
<circle cx="117.6" cy="438.7" r="1.35" fill="none" stroke="#ff0000" stroke-width="0.8"/>
<text x="131.3" y="442" font-size="9.6">sh-β-catenin+sora</text>
<text x="54" y="592.7" font-size="9.3" text-anchor="middle">0.00</text>
<text x="79.5" y="592.7" font-size="9.3" text-anchor="middle">0.08</text>
<text x="105.9" y="592.7" font-size="9.3" text-anchor="middle">0.16</text>
<text x="132.2" y="592.7" font-size="9.3" text-anchor="middle">0.31</text>
<text x="159.3" y="592.7" font-size="9.3" text-anchor="middle">0.63</text>
<text x="187.7" y="592.7" font-size="9.3" text-anchor="middle">1.25</text>
<text x="214.6" y="592.7" font-size="9.3" text-anchor="middle">2.50</text>
<text x="238.4" y="432.8" font-size="13.5" stroke-width="0.15">H</text>
<text x="364.6" y="429.2" font-size="9.5" text-anchor="middle">HepG2</text>
<line x1="270.3" y1="431.3" x2="455.2" y2="431.3" stroke="#2c2c2c" stroke-width="1.1"/>
<line x1="269.6" y1="452.2" x2="269.6" y2="578.3" stroke="#1a1a1a" stroke-width="1.2"/>
<line x1="269" y1="577.7" x2="455" y2="577.7" stroke="#1a1a1a" stroke-width="1.2"/>
<line x1="264.2" y1="577.7" x2="269.6" y2="577.7" stroke="#1a1a1a" stroke-width="1.2"/>
<text x="0" y="0" font-size="10.3" text-anchor="end" transform="translate(263.7 581.3) scale(0.870 1)">0</text>
<line x1="264.2" y1="536.1" x2="269.6" y2="536.1" stroke="#1a1a1a" stroke-width="1.2"/>
<text x="0" y="0" font-size="10.3" text-anchor="end" transform="translate(263.7 539.7) scale(0.870 1)">1</text>
<line x1="264.2" y1="494.4" x2="269.6" y2="494.4" stroke="#1a1a1a" stroke-width="1.2"/>
<text x="0" y="0" font-size="10.3" text-anchor="end" transform="translate(263.7 498) scale(0.870 1)">2</text>
<line x1="264.2" y1="452.8" x2="269.6" y2="452.8" stroke="#1a1a1a" stroke-width="1.2"/>
<text x="0" y="0" font-size="10.3" text-anchor="end" transform="translate(263.7 456.4) scale(0.870 1)">3</text>
<text x="250.8" y="517.6" font-size="9.6" text-anchor="middle" transform="rotate(-90 250.8 517.6)">OD value(540nm)</text>
<line x1="280.8" y1="577.7" x2="280.8" y2="581.3" stroke="#1a1a1a" stroke-width="1.2"/>
<path d="M273 577.7V477.7H278.2V577.7" fill="none" stroke="#0000ff" stroke-width="1.4"/>
<circle cx="273.9" cy="477" r="1.5" fill="none" stroke="#0000ff" stroke-width="0.9"/>
<circle cx="275.6" cy="472.8" r="1.5" fill="none" stroke="#0000ff" stroke-width="0.9"/>
<circle cx="277.3" cy="477" r="1.5" fill="none" stroke="#0000ff" stroke-width="0.9"/>
<line x1="272.8" y1="477" x2="278.4" y2="477" stroke="#0000ff" stroke-width="1.3"/>
<path d="M283.4 577.7V481.8H288.6V577.7" fill="none" stroke="#ff0000" stroke-width="1.4"/>
<circle cx="284.3" cy="481.1" r="1.5" fill="none" stroke="#ff0000" stroke-width="0.9"/>
<circle cx="286" cy="479.5" r="1.5" fill="none" stroke="#ff0000" stroke-width="0.9"/>
<circle cx="287.7" cy="481.5" r="1.5" fill="none" stroke="#ff0000" stroke-width="0.9"/>
<line x1="283.2" y1="481.1" x2="288.8" y2="481.1" stroke="#ff0000" stroke-width="1.3"/>
<path d="M275.6 466.5 L275.6 459.5 L286 459.5 L286 473.4" stroke="#222" stroke-width="1.2" fill="none"/>
<text x="281.3" y="456.5" font-size="7.6" text-anchor="middle" stroke-width="0.55" letter-spacing="1.05">**</text>
<line x1="308.1" y1="577.7" x2="308.1" y2="581.3" stroke="#1a1a1a" stroke-width="1.2"/>
<path d="M300.3 577.7V483.5H305.6V577.7" fill="none" stroke="#0000ff" stroke-width="1.4"/>
<circle cx="301.2" cy="482.8" r="1.5" fill="none" stroke="#0000ff" stroke-width="0.9"/>
<circle cx="302.9" cy="479.5" r="1.5" fill="none" stroke="#0000ff" stroke-width="0.9"/>
<circle cx="304.6" cy="482.8" r="1.5" fill="none" stroke="#0000ff" stroke-width="0.9"/>
<line x1="300.1" y1="482.8" x2="305.8" y2="482.8" stroke="#0000ff" stroke-width="1.3"/>
<path d="M310.7 577.7V569H315.9V577.7" fill="none" stroke="#ff0000" stroke-width="1.4"/>
<circle cx="311.6" cy="568.3" r="1.5" fill="none" stroke="#ff0000" stroke-width="0.9"/>
<circle cx="313.3" cy="567.9" r="1.5" fill="none" stroke="#ff0000" stroke-width="0.9"/>
<circle cx="315" cy="568.3" r="1.5" fill="none" stroke="#ff0000" stroke-width="0.9"/>
<line x1="310.5" y1="568.3" x2="316.1" y2="568.3" stroke="#ff0000" stroke-width="1.3"/>
<path d="M302.9 473.2 L302.9 459.5 L313.3 459.5 L313.3 561.8" stroke="#222" stroke-width="1.2" fill="none"/>
<text x="308.6" y="456.5" font-size="7.6" text-anchor="middle" stroke-width="0.55" letter-spacing="1.05">****</text>
<line x1="335.4" y1="577.7" x2="335.4" y2="581.3" stroke="#1a1a1a" stroke-width="1.2"/>
<path d="M327.6 577.7V483.9H332.9V577.7" fill="none" stroke="#0000ff" stroke-width="1.4"/>
<circle cx="328.6" cy="483.2" r="1.5" fill="none" stroke="#0000ff" stroke-width="0.9"/>
<circle cx="330.2" cy="477.8" r="1.5" fill="none" stroke="#0000ff" stroke-width="0.9"/>
<circle cx="331.9" cy="484.4" r="1.5" fill="none" stroke="#0000ff" stroke-width="0.9"/>
<line x1="327.4" y1="483.2" x2="333.1" y2="483.2" stroke="#0000ff" stroke-width="1.3"/>
<path d="M338 577.7V569.7H343.2V577.7" fill="none" stroke="#ff0000" stroke-width="1.4"/>
<circle cx="338.9" cy="569" r="1.5" fill="none" stroke="#ff0000" stroke-width="0.9"/>
<circle cx="340.6" cy="569" r="1.5" fill="none" stroke="#ff0000" stroke-width="0.9"/>
<circle cx="342.3" cy="568.5" r="1.5" fill="none" stroke="#ff0000" stroke-width="0.9"/>
<line x1="337.8" y1="569" x2="343.4" y2="569" stroke="#ff0000" stroke-width="1.3"/>
<path d="M330.2 471.5 L330.2 459.5 L340.6 459.5 L340.6 562.4" stroke="#222" stroke-width="1.2" fill="none"/>
<text x="335.9" y="456.5" font-size="7.6" text-anchor="middle" stroke-width="0.55" letter-spacing="1.05">****</text>
<line x1="362.7" y1="577.7" x2="362.7" y2="581.3" stroke="#1a1a1a" stroke-width="1.2"/>
<path d="M354.9 577.7V488.1H360.2V577.7" fill="none" stroke="#0000ff" stroke-width="1.4"/>
<circle cx="355.9" cy="486.5" r="1.5" fill="none" stroke="#0000ff" stroke-width="0.9"/>
<circle cx="357.6" cy="480.3" r="1.5" fill="none" stroke="#0000ff" stroke-width="0.9"/>
<circle cx="359.2" cy="491.5" r="1.5" fill="none" stroke="#0000ff" stroke-width="0.9"/>
<line x1="354.8" y1="487.4" x2="360.4" y2="487.4" stroke="#0000ff" stroke-width="1.3"/>
<path d="M365.3 577.7V568H370.5V577.7" fill="none" stroke="#ff0000" stroke-width="1.4"/>
<circle cx="366.2" cy="567.3" r="1.5" fill="none" stroke="#ff0000" stroke-width="0.9"/>
<circle cx="367.9" cy="566.9" r="1.5" fill="none" stroke="#ff0000" stroke-width="0.9"/>
<circle cx="369.6" cy="567.3" r="1.5" fill="none" stroke="#ff0000" stroke-width="0.9"/>
<line x1="365.1" y1="567.3" x2="370.7" y2="567.3" stroke="#ff0000" stroke-width="1.3"/>
<path d="M357.6 474 L357.6 459.5 L367.9 459.5 L367.9 560.8" stroke="#222" stroke-width="1.2" fill="none"/>
<text x="363.2" y="456.5" font-size="7.6" text-anchor="middle" stroke-width="0.55" letter-spacing="1.05">****</text>
<line x1="390" y1="577.7" x2="390" y2="581.3" stroke="#1a1a1a" stroke-width="1.2"/>
<path d="M382.2 577.7V508H387.4V577.7" fill="none" stroke="#0000ff" stroke-width="1.4"/>
<circle cx="383.1" cy="506.9" r="1.5" fill="none" stroke="#0000ff" stroke-width="0.9"/>
<circle cx="384.8" cy="507.3" r="1.5" fill="none" stroke="#0000ff" stroke-width="0.9"/>
<circle cx="386.5" cy="507.3" r="1.5" fill="none" stroke="#0000ff" stroke-width="0.9"/>
<line x1="382" y1="507.3" x2="387.6" y2="507.3" stroke="#0000ff" stroke-width="1.3"/>
<path d="M392.6 577.7V569.2H397.8V577.7" fill="none" stroke="#ff0000" stroke-width="1.4"/>
<circle cx="393.5" cy="568.5" r="1.5" fill="none" stroke="#ff0000" stroke-width="0.9"/>
<circle cx="395.2" cy="565.6" r="1.5" fill="none" stroke="#ff0000" stroke-width="0.9"/>
<circle cx="396.9" cy="569.4" r="1.5" fill="none" stroke="#ff0000" stroke-width="0.9"/>
<line x1="392.4" y1="568.5" x2="398" y2="568.5" stroke="#ff0000" stroke-width="1.3"/>
<path d="M384.8 500.6 L384.8 459.5 L395.2 459.5 L395.2 559.5" stroke="#222" stroke-width="1.2" fill="none"/>
<text x="390.5" y="456.5" font-size="7.6" text-anchor="middle" stroke-width="0.55" letter-spacing="1.05">****</text>
<line x1="417.3" y1="577.7" x2="417.3" y2="581.3" stroke="#1a1a1a" stroke-width="1.2"/>
<path d="M409.5 577.7V542.2H414.8V577.7" fill="none" stroke="#0000ff" stroke-width="1.4"/>
<circle cx="410.4" cy="541.5" r="1.5" fill="none" stroke="#0000ff" stroke-width="0.9"/>
<circle cx="412.1" cy="541.5" r="1.5" fill="none" stroke="#0000ff" stroke-width="0.9"/>
<circle cx="413.8" cy="541.1" r="1.5" fill="none" stroke="#0000ff" stroke-width="0.9"/>
<line x1="409.3" y1="541.5" x2="414.9" y2="541.5" stroke="#0000ff" stroke-width="1.3"/>
<path d="M419.9 577.7V564.7H425.1V577.7" fill="none" stroke="#ff0000" stroke-width="1.4"/>
<circle cx="420.8" cy="564" r="1.5" fill="none" stroke="#ff0000" stroke-width="0.9"/>
<circle cx="422.5" cy="563.1" r="1.5" fill="none" stroke="#ff0000" stroke-width="0.9"/>
<circle cx="424.2" cy="564" r="1.5" fill="none" stroke="#ff0000" stroke-width="0.9"/>
<line x1="419.7" y1="564" x2="425.3" y2="564" stroke="#ff0000" stroke-width="1.3"/>
<path d="M412.1 534.8 L412.1 459.5 L422.5 459.5 L422.5 557" stroke="#222" stroke-width="1.2" fill="none"/>
<text x="417.8" y="456.5" font-size="7.6" text-anchor="middle" stroke-width="0.55" letter-spacing="1.05">****</text>
<line x1="444.6" y1="577.7" x2="444.6" y2="581.3" stroke="#1a1a1a" stroke-width="1.2"/>
<path d="M436.8 577.7V565.1H442.1V577.7" fill="none" stroke="#0000ff" stroke-width="1.4"/>
<circle cx="437.8" cy="564.4" r="1.5" fill="none" stroke="#0000ff" stroke-width="0.9"/>
<circle cx="439.4" cy="564.4" r="1.5" fill="none" stroke="#0000ff" stroke-width="0.9"/>
<circle cx="441.1" cy="564.4" r="1.5" fill="none" stroke="#0000ff" stroke-width="0.9"/>
<line x1="436.6" y1="564.4" x2="442.2" y2="564.4" stroke="#0000ff" stroke-width="1.3"/>
<path d="M447.2 577.7V568.4H452.4V577.7" fill="none" stroke="#ff0000" stroke-width="1.4"/>
<circle cx="448.1" cy="567.7" r="1.5" fill="none" stroke="#ff0000" stroke-width="0.9"/>
<circle cx="449.8" cy="567.3" r="1.5" fill="none" stroke="#ff0000" stroke-width="0.9"/>
<circle cx="451.5" cy="567.7" r="1.5" fill="none" stroke="#ff0000" stroke-width="0.9"/>
<line x1="447" y1="567.7" x2="452.6" y2="567.7" stroke="#ff0000" stroke-width="1.3"/>
<path d="M439.4 558.1 L439.4 459.5 L449.8 459.5 L449.8 561.2" stroke="#222" stroke-width="1.2" fill="none"/>
<text x="445.1" y="456.5" font-size="7.6" text-anchor="middle" stroke-width="0.55" letter-spacing="1.05">*</text>
<circle cx="272.2" cy="440.2" r="1.35" fill="none" stroke="#0000ff" stroke-width="0.8"/>
<text x="286" y="443.3" font-size="9.6">SCR+sora</text>
<circle cx="348" cy="439.7" r="1.35" fill="none" stroke="#ff0000" stroke-width="0.8"/>
<text x="361.3" y="443.1" font-size="9.6">sh-β-catenin+sora</text>
<text x="283" y="592.7" font-size="9.3" text-anchor="middle">0.00</text>
<text x="310.8" y="592.7" font-size="9.3" text-anchor="middle">0.16</text>
<text x="338" y="592.7" font-size="9.3" text-anchor="middle">0.31</text>
<text x="364" y="592.7" font-size="9.3" text-anchor="middle">0.63</text>
<text x="393.2" y="592.7" font-size="9.3" text-anchor="middle">1.25</text>
<text x="420.3" y="592.7" font-size="9.3" text-anchor="middle">2.50</text>
<text x="446.7" y="592.7" font-size="9.3" text-anchor="middle">5.00</text>
<text x="478" y="432.8" font-size="13.5" stroke-width="0.15">I</text>
<text x="593.2" y="429.2" font-size="9.5" text-anchor="middle">MHCC-97H</text>
<line x1="502" y1="431.1" x2="681.8" y2="431.1" stroke="#2c2c2c" stroke-width="1.1"/>
<line x1="500.7" y1="455.9" x2="500.7" y2="578.5" stroke="#1a1a1a" stroke-width="1.2"/>
<line x1="500.1" y1="577.9" x2="681" y2="577.9" stroke="#1a1a1a" stroke-width="1.2"/>
<line x1="495.3" y1="577.9" x2="500.7" y2="577.9" stroke="#1a1a1a" stroke-width="1.2"/>
<text x="0" y="0" font-size="10.3" text-anchor="end" transform="translate(494.8 581.5) scale(0.870 1)">0.0</text>
<line x1="495.3" y1="537.4" x2="500.7" y2="537.4" stroke="#1a1a1a" stroke-width="1.2"/>
<text x="0" y="0" font-size="10.3" text-anchor="end" transform="translate(494.8 541.1) scale(0.870 1)">0.5</text>
<line x1="495.3" y1="497" x2="500.7" y2="497" stroke="#1a1a1a" stroke-width="1.2"/>
<text x="0" y="0" font-size="10.3" text-anchor="end" transform="translate(494.8 500.6) scale(0.870 1)">1.0</text>
<line x1="495.3" y1="456.5" x2="500.7" y2="456.5" stroke="#1a1a1a" stroke-width="1.2"/>
<text x="0" y="0" font-size="10.3" text-anchor="end" transform="translate(494.8 460.2) scale(0.870 1)">1.5</text>
<text x="476.5" y="518" font-size="9.6" text-anchor="middle" transform="rotate(-90 476.5 518)">OD value(540nm)</text>
<line x1="512.2" y1="577.9" x2="512.2" y2="581.5" stroke="#1a1a1a" stroke-width="1.2"/>
<path d="M504.8 577.9V489H509.9V577.9" fill="none" stroke="#0000ff" stroke-width="1.4"/>
<circle cx="505.6" cy="486.6" r="1.5" fill="none" stroke="#0000ff" stroke-width="0.9"/>
<circle cx="507.3" cy="485" r="1.5" fill="none" stroke="#0000ff" stroke-width="0.9"/>
<circle cx="509" cy="492.3" r="1.5" fill="none" stroke="#0000ff" stroke-width="0.9"/>
<line x1="504.5" y1="488.3" x2="510.1" y2="488.3" stroke="#0000ff" stroke-width="1.3"/>
<path d="M514.6 577.9V507H519.6V577.9" fill="none" stroke="#ff0000" stroke-width="1.4"/>
<circle cx="515.4" cy="506.3" r="1.5" fill="none" stroke="#ff0000" stroke-width="0.9"/>
<circle cx="517.1" cy="505.5" r="1.5" fill="none" stroke="#ff0000" stroke-width="0.9"/>
<circle cx="518.8" cy="506.3" r="1.5" fill="none" stroke="#ff0000" stroke-width="0.9"/>
<line x1="514.3" y1="506.3" x2="519.9" y2="506.3" stroke="#ff0000" stroke-width="1.3"/>
<path d="M507.3 478.7 L507.3 464.4 L517.1 464.4 L517.1 499.4" stroke="#222" stroke-width="1.2" fill="none"/>
<text x="512.7" y="461.2" font-size="7.6" text-anchor="middle" stroke-width="0.55" letter-spacing="1.05">****</text>
<line x1="538.6" y1="577.9" x2="538.6" y2="581.5" stroke="#1a1a1a" stroke-width="1.2"/>
<path d="M531.1 577.9V494.5H536.2V577.9" fill="none" stroke="#0000ff" stroke-width="1.4"/>
<circle cx="532" cy="493.8" r="1.5" fill="none" stroke="#0000ff" stroke-width="0.9"/>
<circle cx="533.7" cy="492.1" r="1.5" fill="none" stroke="#0000ff" stroke-width="0.9"/>
<circle cx="535.4" cy="495.4" r="1.5" fill="none" stroke="#0000ff" stroke-width="0.9"/>
<line x1="530.9" y1="493.8" x2="536.5" y2="493.8" stroke="#0000ff" stroke-width="1.3"/>
<path d="M540.9 577.9V516H546V577.9" fill="none" stroke="#ff0000" stroke-width="1.4"/>
<circle cx="541.8" cy="515.3" r="1.5" fill="none" stroke="#ff0000" stroke-width="0.9"/>
<circle cx="543.5" cy="515.3" r="1.5" fill="none" stroke="#ff0000" stroke-width="0.9"/>
<circle cx="545.2" cy="514.5" r="1.5" fill="none" stroke="#ff0000" stroke-width="0.9"/>
<line x1="540.7" y1="515.3" x2="546.2" y2="515.3" stroke="#ff0000" stroke-width="1.3"/>
<path d="M533.7 485.8 L533.7 464.4 L543.5 464.4 L543.5 508.4" stroke="#222" stroke-width="1.2" fill="none"/>
<text x="539.1" y="461.2" font-size="7.6" text-anchor="middle" stroke-width="0.55" letter-spacing="1.05">****</text>
<line x1="564.9" y1="577.9" x2="564.9" y2="581.5" stroke="#1a1a1a" stroke-width="1.2"/>
<path d="M557.5 577.9V480.1H562.6V577.9" fill="none" stroke="#0000ff" stroke-width="1.4"/>
<circle cx="558.3" cy="479.4" r="1.5" fill="none" stroke="#0000ff" stroke-width="0.9"/>
<circle cx="560" cy="478.6" r="1.5" fill="none" stroke="#0000ff" stroke-width="0.9"/>
<circle cx="561.7" cy="479.4" r="1.5" fill="none" stroke="#0000ff" stroke-width="0.9"/>
<line x1="557.2" y1="479.4" x2="562.8" y2="479.4" stroke="#0000ff" stroke-width="1.3"/>
<path d="M567.3 577.9V516.3H572.4V577.9" fill="none" stroke="#ff0000" stroke-width="1.4"/>
<circle cx="568.1" cy="515.6" r="1.5" fill="none" stroke="#ff0000" stroke-width="0.9"/>
<circle cx="569.8" cy="515.6" r="1.5" fill="none" stroke="#ff0000" stroke-width="0.9"/>
<circle cx="571.5" cy="515.6" r="1.5" fill="none" stroke="#ff0000" stroke-width="0.9"/>
<line x1="567" y1="515.6" x2="572.6" y2="515.6" stroke="#ff0000" stroke-width="1.3"/>
<path d="M560 472.3 L560 464.4 L569.8 464.4 L569.8 509.5" stroke="#222" stroke-width="1.2" fill="none"/>
<text x="565.4" y="461.2" font-size="7.6" text-anchor="middle" stroke-width="0.55" letter-spacing="1.05">****</text>
<line x1="591.2" y1="577.9" x2="591.2" y2="581.5" stroke="#1a1a1a" stroke-width="1.2"/>
<path d="M583.8 577.9V485H588.9V577.9" fill="none" stroke="#0000ff" stroke-width="1.4"/>
<circle cx="584.6" cy="482.7" r="1.5" fill="none" stroke="#0000ff" stroke-width="0.9"/>
<circle cx="586.4" cy="485.9" r="1.5" fill="none" stroke="#0000ff" stroke-width="0.9"/>
<circle cx="588.1" cy="484.3" r="1.5" fill="none" stroke="#0000ff" stroke-width="0.9"/>
<line x1="583.6" y1="484.3" x2="589.1" y2="484.3" stroke="#0000ff" stroke-width="1.3"/>
<path d="M593.6 577.9V514.7H598.7V577.9" fill="none" stroke="#ff0000" stroke-width="1.4"/>
<circle cx="594.4" cy="514" r="1.5" fill="none" stroke="#ff0000" stroke-width="0.9"/>
<circle cx="596.1" cy="513.2" r="1.5" fill="none" stroke="#ff0000" stroke-width="0.9"/>
<circle cx="597.9" cy="514" r="1.5" fill="none" stroke="#ff0000" stroke-width="0.9"/>
<line x1="593.4" y1="514" x2="598.9" y2="514" stroke="#ff0000" stroke-width="1.3"/>
<path d="M586.4 476.4 L586.4 464.4 L596.1 464.4 L596.1 507.1" stroke="#222" stroke-width="1.2" fill="none"/>
<text x="591.8" y="461.2" font-size="7.6" text-anchor="middle" stroke-width="0.55" letter-spacing="1.05">****</text>
<line x1="617.6" y1="577.9" x2="617.6" y2="581.5" stroke="#1a1a1a" stroke-width="1.2"/>
<path d="M610.2 577.9V493.7H615.2V577.9" fill="none" stroke="#0000ff" stroke-width="1.4"/>
<circle cx="611" cy="493" r="1.5" fill="none" stroke="#0000ff" stroke-width="0.9"/>
<circle cx="612.7" cy="492.1" r="1.5" fill="none" stroke="#0000ff" stroke-width="0.9"/>
<circle cx="614.4" cy="493" r="1.5" fill="none" stroke="#0000ff" stroke-width="0.9"/>
<line x1="609.9" y1="493" x2="615.5" y2="493" stroke="#0000ff" stroke-width="1.3"/>
<path d="M620 577.9V508.2H625V577.9" fill="none" stroke="#ff0000" stroke-width="1.4"/>
<circle cx="620.8" cy="507.5" r="1.5" fill="none" stroke="#ff0000" stroke-width="0.9"/>
<circle cx="622.5" cy="507.5" r="1.5" fill="none" stroke="#ff0000" stroke-width="0.9"/>
<circle cx="624.2" cy="507.5" r="1.5" fill="none" stroke="#ff0000" stroke-width="0.9"/>
<line x1="619.7" y1="507.5" x2="625.3" y2="507.5" stroke="#ff0000" stroke-width="1.3"/>
<path d="M612.7 485.8 L612.7 464.4 L622.5 464.4 L622.5 501.4" stroke="#222" stroke-width="1.2" fill="none"/>
<text x="618.1" y="461.2" font-size="7.6" text-anchor="middle" stroke-width="0.55" letter-spacing="1.05">****</text>
<line x1="644" y1="577.9" x2="644" y2="581.5" stroke="#1a1a1a" stroke-width="1.2"/>
<path d="M636.5 577.9V509H641.6V577.9" fill="none" stroke="#0000ff" stroke-width="1.4"/>
<circle cx="637.4" cy="508.3" r="1.5" fill="none" stroke="#0000ff" stroke-width="0.9"/>
<circle cx="639.1" cy="507.5" r="1.5" fill="none" stroke="#0000ff" stroke-width="0.9"/>
<circle cx="640.8" cy="508.3" r="1.5" fill="none" stroke="#0000ff" stroke-width="0.9"/>
<line x1="636.3" y1="508.3" x2="641.9" y2="508.3" stroke="#0000ff" stroke-width="1.3"/>
<path d="M646.3 577.9V515.5H651.4V577.9" fill="none" stroke="#ff0000" stroke-width="1.4"/>
<circle cx="647.1" cy="514.8" r="1.5" fill="none" stroke="#ff0000" stroke-width="0.9"/>
<circle cx="648.9" cy="514.8" r="1.5" fill="none" stroke="#ff0000" stroke-width="0.9"/>
<circle cx="650.6" cy="514.8" r="1.5" fill="none" stroke="#ff0000" stroke-width="0.9"/>
<line x1="646.1" y1="514.8" x2="651.6" y2="514.8" stroke="#ff0000" stroke-width="1.3"/>
<path d="M639.1 501.2 L639.1 464.4 L648.9 464.4 L648.9 508.7" stroke="#222" stroke-width="1.2" fill="none"/>
<text x="644.5" y="461.2" font-size="7.6" text-anchor="middle" stroke-width="0.55" letter-spacing="1.05">****</text>
<line x1="670.3" y1="577.9" x2="670.3" y2="581.5" stroke="#1a1a1a" stroke-width="1.2"/>
<path d="M662.9 577.9V526.8H668V577.9" fill="none" stroke="#0000ff" stroke-width="1.4"/>
<circle cx="663.7" cy="526.1" r="1.5" fill="none" stroke="#0000ff" stroke-width="0.9"/>
<circle cx="665.4" cy="526.1" r="1.5" fill="none" stroke="#0000ff" stroke-width="0.9"/>
<circle cx="667.1" cy="525.3" r="1.5" fill="none" stroke="#0000ff" stroke-width="0.9"/>
<line x1="662.6" y1="526.1" x2="668.2" y2="526.1" stroke="#0000ff" stroke-width="1.3"/>
<path d="M672.7 577.9V535.7H677.8V577.9" fill="none" stroke="#ff0000" stroke-width="1.4"/>
<circle cx="673.5" cy="535" r="1.5" fill="none" stroke="#ff0000" stroke-width="0.9"/>
<circle cx="675.2" cy="535" r="1.5" fill="none" stroke="#ff0000" stroke-width="0.9"/>
<circle cx="676.9" cy="535" r="1.5" fill="none" stroke="#ff0000" stroke-width="0.9"/>
<line x1="672.4" y1="535" x2="678" y2="535" stroke="#ff0000" stroke-width="1.3"/>
<path d="M665.4 519 L665.4 464.4 L675.2 464.4 L675.2 528.9" stroke="#222" stroke-width="1.2" fill="none"/>
<text x="670.8" y="461.2" font-size="7.6" text-anchor="middle" stroke-width="0.55" letter-spacing="1.05">****</text>
<circle cx="503.9" cy="442.3" r="1.35" fill="none" stroke="#0000ff" stroke-width="0.8"/>
<text x="517.1" y="445.5" font-size="9.6">SCR+sora</text>
<circle cx="576.8" cy="442.1" r="1.35" fill="none" stroke="#ff0000" stroke-width="0.8"/>
<text x="591.1" y="445.4" font-size="9.6">sh-β-catenin+sora</text>
<text x="513.7" y="592.7" font-size="9.3" text-anchor="middle">0.00</text>
<text x="538.4" y="592.7" font-size="9.3" text-anchor="middle">0.31</text>
<text x="564.8" y="592.7" font-size="9.3" text-anchor="middle">0.63</text>
<text x="593.7" y="592.7" font-size="9.3" text-anchor="middle">1.25</text>
<text x="621" y="592.7" font-size="9.3" text-anchor="middle">2.50</text>
<text x="645.9" y="592.7" font-size="9.3" text-anchor="middle">5.00</text>
<text x="673.2" y="592.7" font-size="9.3" text-anchor="middle">10.00</text>
<text x="9.2" y="625.2" font-size="13" stroke-width="0.15">J</text>
<text x="136" y="615.3" font-size="9.6" text-anchor="middle">Hep3B</text>
<line x1="41.4" y1="671" x2="41.4" y2="746.8" stroke="#1a1a1a" stroke-width="1.2"/>
<line x1="40.8" y1="746.2" x2="223.3" y2="746.2" stroke="#1a1a1a" stroke-width="1.2"/>
<line x1="37.2" y1="746.2" x2="41.4" y2="746.2" stroke="#1a1a1a" stroke-width="1.2"/>
<text x="0" y="0" font-size="9.6" text-anchor="middle" transform="translate(31.2 749.6) scale(0.950 1)">0</text>
<line x1="37.2" y1="731.3" x2="41.4" y2="731.3" stroke="#1a1a1a" stroke-width="1.2"/>
<text x="0" y="0" font-size="9.6" text-anchor="middle" transform="translate(31.2 734.6) scale(0.950 1)">2</text>
<line x1="37.2" y1="716.4" x2="41.4" y2="716.4" stroke="#1a1a1a" stroke-width="1.2"/>
<text x="0" y="0" font-size="9.6" text-anchor="middle" transform="translate(31.2 719.7) scale(0.950 1)">4</text>
<line x1="37.2" y1="701.4" x2="41.4" y2="701.4" stroke="#1a1a1a" stroke-width="1.2"/>
<text x="0" y="0" font-size="9.6" text-anchor="middle" transform="translate(31.2 704.8) scale(0.950 1)">6</text>
<line x1="37.2" y1="686.5" x2="41.4" y2="686.5" stroke="#1a1a1a" stroke-width="1.2"/>
<text x="0" y="0" font-size="9.6" text-anchor="middle" transform="translate(31.2 689.9) scale(0.950 1)">8</text>
<line x1="37.2" y1="671.6" x2="41.4" y2="671.6" stroke="#1a1a1a" stroke-width="1.2"/>
<text x="0" y="0" font-size="9.6" text-anchor="middle" transform="translate(31.2 675) scale(0.950 1)">10</text>
<text x="23" y="704.7" font-size="9.6" text-anchor="middle" transform="rotate(-90 23 704.7)">Apoptosis rates (%)</text>
<path d="M56.6 746.2V745.4H81.9V746.2" fill="none" stroke="#0000ff" stroke-width="1.5"/>
<line x1="69.2" y1="744.3" x2="69.2" y2="744.9" stroke="#0000ff" stroke-width="1"/>
<line x1="64.7" y1="744.3" x2="73.7" y2="744.3" stroke="#0000ff" stroke-width="1"/>
<line x1="64.7" y1="744.9" x2="73.7" y2="744.9" stroke="#0000ff" stroke-width="1"/>
<circle cx="64.2" cy="744.7" r="2" fill="#0000ff"/>
<circle cx="69.2" cy="744.1" r="2" fill="#0000ff"/>
<circle cx="74.2" cy="744" r="2" fill="#0000ff"/>
<line x1="69.2" y1="746.2" x2="69.2" y2="749.7" stroke="#1a1a1a" stroke-width="1.2"/>
<path d="M98.5 746.2V735.8H123.9V746.2" fill="none" stroke="#ff0000" stroke-width="1.5"/>
<line x1="111.2" y1="732.8" x2="111.2" y2="737.2" stroke="#ff0000" stroke-width="1"/>
<line x1="106.7" y1="732.8" x2="115.7" y2="732.8" stroke="#ff0000" stroke-width="1"/>
<line x1="106.7" y1="737.2" x2="115.7" y2="737.2" stroke="#ff0000" stroke-width="1"/>
<circle cx="107.2" cy="736.5" r="2" fill="#ff0000"/>
<circle cx="111.2" cy="731.7" r="2" fill="#ff0000"/>
<circle cx="115.2" cy="734.6" r="2" fill="#ff0000"/>
<line x1="111.2" y1="746.2" x2="111.2" y2="749.7" stroke="#1a1a1a" stroke-width="1.2"/>
<path d="M140 746.2V734.3H165.3V746.2" fill="none" stroke="#00c800" stroke-width="1.5"/>
<line x1="152.7" y1="732" x2="152.7" y2="735.2" stroke="#00c800" stroke-width="1"/>
<line x1="148.2" y1="732" x2="157.2" y2="732" stroke="#00c800" stroke-width="1"/>
<line x1="148.2" y1="735.2" x2="157.2" y2="735.2" stroke="#00c800" stroke-width="1"/>
<circle cx="148.7" cy="735.4" r="2" fill="#00c800"/>
<circle cx="152.7" cy="731.4" r="2" fill="#00c800"/>
<circle cx="156.7" cy="733.5" r="2" fill="#00c800"/>
<line x1="152.7" y1="746.2" x2="152.7" y2="749.7" stroke="#1a1a1a" stroke-width="1.2"/>
<path d="M181.8 746.2V686.2H207.1V746.2" fill="none" stroke="#c000ff" stroke-width="1.5"/>
<line x1="194.4" y1="684.6" x2="194.4" y2="686.4" stroke="#c000ff" stroke-width="1"/>
<line x1="189.9" y1="684.6" x2="198.9" y2="684.6" stroke="#c000ff" stroke-width="1"/>
<line x1="189.9" y1="686.4" x2="198.9" y2="686.4" stroke="#c000ff" stroke-width="1"/>
<circle cx="189.4" cy="686.1" r="2" fill="#c000ff"/>
<circle cx="194.4" cy="683.5" r="2" fill="#c000ff"/>
<circle cx="199.4" cy="685.4" r="2" fill="#c000ff"/>
<line x1="194.4" y1="746.2" x2="194.4" y2="749.7" stroke="#1a1a1a" stroke-width="1.2"/>
<path d="M68.9 638.4 L68.9 627.1 L194.5 627.1 L194.5 654.1" stroke="#2a2a2a" stroke-width="1.1" fill="none"/>
<text x="129.3" y="625.1" font-size="7.3" text-anchor="middle" stroke-width="0.55" letter-spacing="1.0">****</text>
<path d="M68.9 669.9 L68.9 642.8 L153 642.8 L153 647.3" stroke="#2a2a2a" stroke-width="1.1" fill="none"/>
<text x="109.3" y="640.9" font-size="7.3" text-anchor="middle" stroke-width="0.55" letter-spacing="1.0">***</text>
<path d="M110.9 671 L110.9 658.6 L194.5 658.6 L194.5 671" stroke="#2a2a2a" stroke-width="1.1" fill="none"/>
<text x="150.3" y="656.7" font-size="7.3" text-anchor="middle" stroke-width="0.55" letter-spacing="1.0">****</text>
<path d="M69.4 740.1 L69.4 674.5 L109.6 674.5 L109.6 727" stroke="#2a2a2a" stroke-width="1.1" fill="none"/>
<text x="87.3" y="672.7" font-size="7.3" text-anchor="middle" stroke-width="0.55" letter-spacing="1.0">***</text>
<path d="M113 727 L113 674.5 L150.9 674.5 L150.9 727" stroke="#2a2a2a" stroke-width="1.1" fill="none"/>
<text x="133.3" y="670.4" font-size="9.6" text-anchor="middle">ns</text>
<path d="M154.3 727 L154.3 674.5 L194.5 674.5 L194.5 678.4" stroke="#2a2a2a" stroke-width="1.1" fill="none"/>
<text x="171.9" y="672.7" font-size="7.3" text-anchor="middle" stroke-width="0.55" letter-spacing="1.0">****</text>
<text x="72.8" y="756.7" font-size="9.3" text-anchor="end" transform="rotate(-45 72.8 756.7)">SCR</text>
<text x="113.6" y="757.5" font-size="9.3" text-anchor="end" transform="rotate(-45 113.6 757.5)">sh-β-catenin</text>
<text x="154.6" y="757.5" font-size="9.3" text-anchor="end" transform="rotate(-45 154.6 757.5)">SCR+sora</text>
<text x="195" y="758" font-size="9.3" text-anchor="end" transform="rotate(-45 195 758)">sh-β-catenin</text>
<text x="200.8" y="763.8" font-size="9.3" text-anchor="end" transform="rotate(-45 200.8 763.8)">+sora</text>
<text x="239.1" y="625.9" font-size="13" stroke-width="0.15">K</text>
<text x="359.3" y="615.3" font-size="9.6" text-anchor="middle">HepG2</text>
<line x1="272.9" y1="668.2" x2="272.9" y2="747.3" stroke="#1a1a1a" stroke-width="1.2"/>
<line x1="272.3" y1="746.7" x2="443.3" y2="746.7" stroke="#1a1a1a" stroke-width="1.2"/>
<line x1="268.3" y1="746.7" x2="272.9" y2="746.7" stroke="#1a1a1a" stroke-width="1.2"/>
<text x="0" y="0" font-size="9.6" text-anchor="end" transform="translate(267.9 750.1) scale(0.950 1)">0</text>
<line x1="268.3" y1="727.2" x2="272.9" y2="727.2" stroke="#1a1a1a" stroke-width="1.2"/>
<text x="0" y="0" font-size="9.6" text-anchor="end" transform="translate(267.9 730.6) scale(0.950 1)">10</text>
<line x1="268.3" y1="707.8" x2="272.9" y2="707.8" stroke="#1a1a1a" stroke-width="1.2"/>
<text x="0" y="0" font-size="9.6" text-anchor="end" transform="translate(267.9 711.1) scale(0.950 1)">20</text>
<line x1="268.3" y1="688.3" x2="272.9" y2="688.3" stroke="#1a1a1a" stroke-width="1.2"/>
<text x="0" y="0" font-size="9.6" text-anchor="end" transform="translate(267.9 691.6) scale(0.950 1)">30</text>
<line x1="268.3" y1="668.8" x2="272.9" y2="668.8" stroke="#1a1a1a" stroke-width="1.2"/>
<text x="0" y="0" font-size="9.6" text-anchor="end" transform="translate(267.9 672.2) scale(0.950 1)">40</text>
<text x="253.5" y="704.7" font-size="9.6" text-anchor="middle" transform="rotate(-90 253.5 704.7)">Apoptosis rates(%)</text>
<path d="M287 746.7V739.5H310.8V746.7" fill="none" stroke="#0000ff" stroke-width="1.5"/>
<line x1="298.9" y1="734.8" x2="298.9" y2="742.6" stroke="#0000ff" stroke-width="1"/>
<line x1="294.4" y1="734.8" x2="303.4" y2="734.8" stroke="#0000ff" stroke-width="1"/>
<line x1="294.4" y1="742.6" x2="303.4" y2="742.6" stroke="#0000ff" stroke-width="1"/>
<circle cx="298.9" cy="734.4" r="2" fill="#0000ff"/>
<circle cx="295.9" cy="739.7" r="2" fill="#0000ff"/>
<circle cx="301.9" cy="739.7" r="2" fill="#0000ff"/>
<line x1="298.9" y1="746.7" x2="298.9" y2="750.2" stroke="#1a1a1a" stroke-width="1.2"/>
<path d="M325.8 746.7V734.2H349.5V746.7" fill="none" stroke="#ff0000" stroke-width="1.5"/>
<line x1="337.6" y1="728.8" x2="337.6" y2="738.1" stroke="#ff0000" stroke-width="1"/>
<line x1="333.1" y1="728.8" x2="342.1" y2="728.8" stroke="#ff0000" stroke-width="1"/>
<line x1="333.1" y1="738.1" x2="342.1" y2="738.1" stroke="#ff0000" stroke-width="1"/>
<circle cx="337.6" cy="728" r="2" fill="#ff0000"/>
<circle cx="337.6" cy="733.1" r="2" fill="#ff0000"/>
<circle cx="337.6" cy="738.5" r="2" fill="#ff0000"/>
<line x1="337.6" y1="746.7" x2="337.6" y2="750.2" stroke="#1a1a1a" stroke-width="1.2"/>
<path d="M364.9 746.7V722.1H388.7V746.7" fill="none" stroke="#00c800" stroke-width="1.5"/>
<line x1="376.8" y1="715.5" x2="376.8" y2="727.2" stroke="#00c800" stroke-width="1"/>
<line x1="372.3" y1="715.5" x2="381.3" y2="715.5" stroke="#00c800" stroke-width="1"/>
<line x1="372.3" y1="727.2" x2="381.3" y2="727.2" stroke="#00c800" stroke-width="1"/>
<circle cx="376.8" cy="714.6" r="2" fill="#00c800"/>
<circle cx="376.8" cy="720.4" r="2" fill="#00c800"/>
<circle cx="376.8" cy="726.3" r="2" fill="#00c800"/>
<line x1="376.8" y1="746.7" x2="376.8" y2="750.2" stroke="#1a1a1a" stroke-width="1.2"/>
<path d="M403.9 746.7V699H427.7V746.7" fill="none" stroke="#c000ff" stroke-width="1.5"/>
<line x1="415.8" y1="687.3" x2="415.8" y2="709.1" stroke="#c000ff" stroke-width="1"/>
<line x1="411.3" y1="687.3" x2="420.3" y2="687.3" stroke="#c000ff" stroke-width="1"/>
<line x1="411.3" y1="709.1" x2="420.3" y2="709.1" stroke="#c000ff" stroke-width="1"/>
<circle cx="415.8" cy="685.4" r="2" fill="#c000ff"/>
<circle cx="412" cy="703.5" r="2" fill="#c000ff"/>
<circle cx="419.6" cy="703.5" r="2" fill="#c000ff"/>
<line x1="415.8" y1="746.7" x2="415.8" y2="750.2" stroke="#1a1a1a" stroke-width="1.2"/>
<path d="M298.4 655.2 L298.4 627.1 L415.8 627.1 L415.8 638.9" stroke="#2a2a2a" stroke-width="1.1" fill="none"/>
<text x="355.9" y="625.1" font-size="7.3" text-anchor="middle" stroke-width="0.55" letter-spacing="1.0">***</text>
<path d="M337.8 648.9 L337.8 643.6 L415.8 643.6 L415.8 671.7" stroke="#2a2a2a" stroke-width="1.1" fill="none"/>
<text x="375.6" y="640.9" font-size="7.3" text-anchor="middle" stroke-width="0.55" letter-spacing="1.0">***</text>
<path d="M298.4 671.7 L298.4 659.9 L376.4 659.9 L376.4 671.7" stroke="#2a2a2a" stroke-width="1.1" fill="none"/>
<text x="337.5" y="656.7" font-size="7.3" text-anchor="middle" stroke-width="0.55" letter-spacing="1.0">*</text>
<path d="M298.4 730.9 L298.4 676.6 L335.7 676.6 L335.7 723" stroke="#2a2a2a" stroke-width="1.1" fill="none"/>
<text x="318.6" y="673.6" font-size="9.6" text-anchor="middle">ns</text>
<path d="M339.6 723 L339.6 676.6 L375.9 676.6 L375.9 711.2" stroke="#2a2a2a" stroke-width="1.1" fill="none"/>
<text x="358" y="673.6" font-size="9.6" text-anchor="middle">ns</text>
<path d="M378.5 711.2 L378.5 676.6 L415.8 676.6 L415.8 679.7" stroke="#2a2a2a" stroke-width="1.1" fill="none"/>
<text x="397.1" y="672.7" font-size="7.3" text-anchor="middle" stroke-width="0.55" letter-spacing="1.0">*</text>
<text x="302" y="756.7" font-size="9.3" text-anchor="end" transform="rotate(-45 302 756.7)">SCR</text>
<text x="341.5" y="757.5" font-size="9.3" text-anchor="end" transform="rotate(-45 341.5 757.5)">sh-β-catenin</text>
<text x="380" y="757" font-size="9.3" text-anchor="end" transform="rotate(-45 380 757)">SCR</text>
<text x="385.8" y="762.8" font-size="9.3" text-anchor="end" transform="rotate(-45 385.8 762.8)">+sora</text>
<text x="419" y="758" font-size="9.3" text-anchor="end" transform="rotate(-45 419 758)">sh-β-catenin</text>
<text x="424.8" y="763.8" font-size="9.3" text-anchor="end" transform="rotate(-45 424.8 763.8)">+sora</text>
<text x="477.8" y="625.9" font-size="13" stroke-width="0.15">L</text>
<text x="596" y="615.3" font-size="9.6" text-anchor="middle">MHCC-97H</text>
<line x1="500.8" y1="668.4" x2="500.8" y2="747.3" stroke="#1a1a1a" stroke-width="1.2"/>
<line x1="500.2" y1="746.7" x2="679.3" y2="746.7" stroke="#1a1a1a" stroke-width="1.2"/>
<line x1="495.8" y1="746.7" x2="500.8" y2="746.7" stroke="#1a1a1a" stroke-width="1.2"/>
<text x="0" y="0" font-size="9.6" text-anchor="end" transform="translate(495.5 750.1) scale(0.950 1)">0</text>
<line x1="495.8" y1="727.3" x2="500.8" y2="727.3" stroke="#1a1a1a" stroke-width="1.2"/>
<text x="0" y="0" font-size="9.6" text-anchor="end" transform="translate(495.5 730.6) scale(0.950 1)">5</text>
<line x1="495.8" y1="707.9" x2="500.8" y2="707.9" stroke="#1a1a1a" stroke-width="1.2"/>
<text x="0" y="0" font-size="9.6" text-anchor="end" transform="translate(495.5 711.2) scale(0.950 1)">10</text>
<line x1="495.8" y1="688.4" x2="500.8" y2="688.4" stroke="#1a1a1a" stroke-width="1.2"/>
<text x="0" y="0" font-size="9.6" text-anchor="end" transform="translate(495.5 691.8) scale(0.950 1)">15</text>
<line x1="495.8" y1="669" x2="500.8" y2="669" stroke="#1a1a1a" stroke-width="1.2"/>
<text x="0" y="0" font-size="9.6" text-anchor="end" transform="translate(495.5 672.4) scale(0.950 1)">20</text>
<text x="482.5" y="704.7" font-size="9.6" text-anchor="middle" transform="rotate(-90 482.5 704.7)">Apoptosis rates (%)</text>
<path d="M516 746.7V735.8H540.8V746.7" fill="none" stroke="#0000ff" stroke-width="1.5"/>
<line x1="528.4" y1="732.7" x2="528.4" y2="737.4" stroke="#0000ff" stroke-width="1"/>
<line x1="523.9" y1="732.7" x2="532.9" y2="732.7" stroke="#0000ff" stroke-width="1"/>
<line x1="523.9" y1="737.4" x2="532.9" y2="737.4" stroke="#0000ff" stroke-width="1"/>
<circle cx="528.4" cy="731.5" r="2" fill="#0000ff"/>
<circle cx="524.9" cy="735.8" r="2" fill="#0000ff"/>
<circle cx="531.9" cy="735.8" r="2" fill="#0000ff"/>
<line x1="528.4" y1="746.7" x2="528.4" y2="750.2" stroke="#1a1a1a" stroke-width="1.2"/>
<path d="M557 746.7V730.4H581.8V746.7" fill="none" stroke="#ff0000" stroke-width="1.5"/>
<line x1="569.4" y1="728.4" x2="569.4" y2="730.8" stroke="#ff0000" stroke-width="1"/>
<line x1="564.9" y1="728.4" x2="573.9" y2="728.4" stroke="#ff0000" stroke-width="1"/>
<line x1="564.9" y1="730.8" x2="573.9" y2="730.8" stroke="#ff0000" stroke-width="1"/>
<circle cx="565.4" cy="730.4" r="2" fill="#ff0000"/>
<circle cx="569.4" cy="727.7" r="2" fill="#ff0000"/>
<circle cx="573.4" cy="730" r="2" fill="#ff0000"/>
<line x1="569.4" y1="746.7" x2="569.4" y2="750.2" stroke="#1a1a1a" stroke-width="1.2"/>
<path d="M598.5 746.7V716.1H623.3V746.7" fill="none" stroke="#00c800" stroke-width="1.5"/>
<line x1="610.9" y1="712.6" x2="610.9" y2="718.1" stroke="#00c800" stroke-width="1"/>
<line x1="606.4" y1="712.6" x2="615.4" y2="712.6" stroke="#00c800" stroke-width="1"/>
<line x1="606.4" y1="718.1" x2="615.4" y2="718.1" stroke="#00c800" stroke-width="1"/>
<circle cx="606.9" cy="717.2" r="2" fill="#00c800"/>
<circle cx="610.9" cy="712.5" r="2" fill="#00c800"/>
<circle cx="614.9" cy="716" r="2" fill="#00c800"/>
<line x1="610.9" y1="746.7" x2="610.9" y2="750.2" stroke="#1a1a1a" stroke-width="1.2"/>
<path d="M639.5 746.7V687.6H664.3V746.7" fill="none" stroke="#c000ff" stroke-width="1.5"/>
<line x1="651.9" y1="681" x2="651.9" y2="692.7" stroke="#c000ff" stroke-width="1"/>
<line x1="647.4" y1="681" x2="656.4" y2="681" stroke="#c000ff" stroke-width="1"/>
<line x1="647.4" y1="692.7" x2="656.4" y2="692.7" stroke="#c000ff" stroke-width="1"/>
<circle cx="651.9" cy="679.9" r="2" fill="#c000ff"/>
<circle cx="651.9" cy="686.1" r="2" fill="#c000ff"/>
<circle cx="651.9" cy="693.9" r="2" fill="#c000ff"/>
<line x1="651.9" y1="746.7" x2="651.9" y2="750.2" stroke="#1a1a1a" stroke-width="1.2"/>
<path d="M528.4 651.5 L528.4 625.8 L651.9 625.8 L651.9 636.3" stroke="#2a2a2a" stroke-width="1.1" fill="none"/>
<text x="588.5" y="624.6" font-size="7.3" text-anchor="middle" stroke-width="0.55" letter-spacing="1.0">****</text>
<path d="M569.6 645.5 L569.6 641 L651.9 641 L651.9 666.5" stroke="#2a2a2a" stroke-width="1.1" fill="none"/>
<text x="609" y="638.5" font-size="7.3" text-anchor="middle" stroke-width="0.55" letter-spacing="1.0">****</text>
<path d="M528.4 666.5 L528.4 656.5 L610.9 656.5 L610.9 666.5" stroke="#2a2a2a" stroke-width="1.1" fill="none"/>
<text x="568.3" y="654.1" font-size="7.3" text-anchor="middle" stroke-width="0.55" letter-spacing="1.0">***</text>
<path d="M528.4 729.6 L528.4 671.8 L567.8 671.8 L567.8 723.8" stroke="#2a2a2a" stroke-width="1.1" fill="none"/>
<text x="549.4" y="668.3" font-size="9.6" text-anchor="middle">ns</text>
<path d="M571.5 723.8 L571.5 671.8 L609 671.8 L609 707.3" stroke="#2a2a2a" stroke-width="1.1" fill="none"/>
<text x="589.8" y="669.3" font-size="7.3" text-anchor="middle" stroke-width="0.55" letter-spacing="1.0">**</text>
<path d="M613 707.3 L613 671.8 L651.9 671.8 L651.9 675.8" stroke="#2a2a2a" stroke-width="1.1" fill="none"/>
<text x="630.5" y="669.3" font-size="7.3" text-anchor="middle" stroke-width="0.55" letter-spacing="1.0">****</text>
<text x="532" y="756.7" font-size="9.3" text-anchor="end" transform="rotate(-45 532 756.7)">SCR</text>
<text x="573" y="757.5" font-size="9.3" text-anchor="end" transform="rotate(-45 573 757.5)">sh-β-catenin</text>
<text x="614" y="757.5" font-size="9.3" text-anchor="end" transform="rotate(-45 614 757.5)">SCR+sora</text>
<text x="655.5" y="758" font-size="9.3" text-anchor="end" transform="rotate(-45 655.5 758)">sh-β-catenin</text>
<text x="661.3" y="763.8" font-size="9.3" text-anchor="end" transform="rotate(-45 661.3 763.8)">+sora</text>
<defs><radialGradient id="g0"><stop offset="0" stop-color="#fcfbfd"/><stop offset="1" stop-color="#f6f0fa"/></radialGradient><radialGradient id="g1"><stop offset="0" stop-color="#fbf9fc"/><stop offset="1" stop-color="#f4eef9"/></radialGradient><radialGradient id="g2"><stop offset="0" stop-color="#fcfbfd"/><stop offset="1" stop-color="#f4eef9"/></radialGradient><radialGradient id="g3"><stop offset="0" stop-color="#fcfbfd"/><stop offset="1" stop-color="#f6f2fa"/></radialGradient><radialGradient id="g4"><stop offset="0" stop-color="#f6eefa"/><stop offset="1" stop-color="#ecdcf4"/></radialGradient><radialGradient id="g5"><stop offset="0" stop-color="#f6f0fa"/><stop offset="1" stop-color="#eee0f5"/></radialGradient><radialGradient id="g6"><stop offset="0" stop-color="#faf6fc"/><stop offset="1" stop-color="#f0e6f6"/></radialGradient><radialGradient id="g7"><stop offset="0" stop-color="#f2e6f7"/><stop offset="1" stop-color="#e8d6f2"/></radialGradient><radialGradient id="g8"><stop offset="0" stop-color="#f8f2fb"/><stop offset="1" stop-color="#eee2f5"/></radialGradient><radialGradient id="g9"><stop offset="0" stop-color="#f8f4fb"/><stop offset="1" stop-color="#efe4f6"/></radialGradient><radialGradient id="g10"><stop offset="0" stop-color="#fdfdfd"/><stop offset="1" stop-color="#f8f4fb"/></radialGradient><radialGradient id="g11"><stop offset="0" stop-color="#fdfdfd"/><stop offset="1" stop-color="#f6f0fa"/></radialGradient><radialGradient id="g12"><stop offset="0" stop-color="#fdfdfd"/><stop offset="1" stop-color="#f4eef9"/></radialGradient><radialGradient id="g13"><stop offset="0" stop-color="#f4eaf8"/><stop offset="1" stop-color="#e4ccf0"/></radialGradient><radialGradient id="g14"><stop offset="0" stop-color="#f2e8f7"/><stop offset="1" stop-color="#e2c8ef"/></radialGradient><radialGradient id="g15"><stop offset="0" stop-color="#f4ecf8"/><stop offset="1" stop-color="#e6d0f1"/></radialGradient><radialGradient id="g16"><stop offset="0" stop-color="#dcc0ec"/><stop offset="1" stop-color="#caa0e2"/></radialGradient><radialGradient id="g17"><stop offset="0" stop-color="#f0e4f6"/><stop offset="1" stop-color="#e0c8ee"/></radialGradient><radialGradient id="g18"><stop offset="0" stop-color="#4a0ce0"/><stop offset="1" stop-color="#6a34e6"/></radialGradient><radialGradient id="g19"><stop offset="0" stop-color="#4c0ee0"/><stop offset="1" stop-color="#6a34e6"/></radialGradient><radialGradient id="g20"><stop offset="0" stop-color="#4a0ce0"/><stop offset="1" stop-color="#6832e6"/></radialGradient><radialGradient id="g21"><stop offset="0" stop-color="#4e10e0"/><stop offset="1" stop-color="#6a34e6"/></radialGradient><radialGradient id="g22"><stop offset="0" stop-color="#6226e4"/><stop offset="1" stop-color="#7038e6"/></radialGradient><radialGradient id="g23"><stop offset="0" stop-color="#5e22e4"/><stop offset="1" stop-color="#6c34e6"/></radialGradient><radialGradient id="g24"><stop offset="0" stop-color="#6428e4"/><stop offset="1" stop-color="#723ce6"/></radialGradient><radialGradient id="g25"><stop offset="0" stop-color="#662ae4"/><stop offset="1" stop-color="#7640e6"/></radialGradient><radialGradient id="g26"><stop offset="0" stop-color="#6226e4"/><stop offset="1" stop-color="#703ae6"/></radialGradient><radialGradient id="g27"><stop offset="0" stop-color="#6a30e4"/><stop offset="1" stop-color="#7c4ce8"/></radialGradient><radialGradient id="g28"><stop offset="0" stop-color="#4408e4"/><stop offset="1" stop-color="#eeeafc"/></radialGradient><radialGradient id="g29"><stop offset="0" stop-color="#4a10e4"/><stop offset="1" stop-color="#f0ecfc"/></radialGradient><radialGradient id="g30"><stop offset="0" stop-color="#9a80f0"/><stop offset="1" stop-color="#f8f6fd"/></radialGradient><radialGradient id="g31"><stop offset="0" stop-color="#e4dcfa"/><stop offset="1" stop-color="#fbf9fd"/></radialGradient><radialGradient id="g32"><stop offset="0" stop-color="#fbf9fd"/><stop offset="1" stop-color="#f8f6fd"/></radialGradient><radialGradient id="g33"><stop offset="0" stop-color="#fcfbfe"/><stop offset="1" stop-color="#f8f6fd"/></radialGradient><radialGradient id="g34"><stop offset="0" stop-color="#fcfbfe"/><stop offset="1" stop-color="#f6f2fc"/></radialGradient><radialGradient id="g35"><stop offset="0" stop-color="#a886e6"/><stop offset="1" stop-color="#b89cec"/></radialGradient><radialGradient id="g36"><stop offset="0" stop-color="#9e7ce4"/><stop offset="1" stop-color="#b092ea"/></radialGradient><radialGradient id="g37"><stop offset="0" stop-color="#a280e4"/><stop offset="1" stop-color="#b496ea"/></radialGradient><radialGradient id="g38"><stop offset="0" stop-color="#a684e6"/><stop offset="1" stop-color="#b89aec"/></radialGradient><radialGradient id="g39"><stop offset="0" stop-color="#9270e2"/><stop offset="1" stop-color="#a888e8"/></radialGradient><radialGradient id="g40"><stop offset="0" stop-color="#b8a0ec"/><stop offset="1" stop-color="#c8b4f0"/></radialGradient><radialGradient id="g41"><stop offset="0" stop-color="#b092ea"/><stop offset="1" stop-color="#c2aaf0"/></radialGradient><radialGradient id="g42"><stop offset="0" stop-color="#9a78e2"/><stop offset="1" stop-color="#ac8ee8"/></radialGradient><radialGradient id="g43"><stop offset="0" stop-color="#ac8ee8"/><stop offset="1" stop-color="#bea4ee"/></radialGradient><radialGradient id="g44"><stop offset="0" stop-color="#c4b0f0"/><stop offset="1" stop-color="#d0c0f2"/></radialGradient><radialGradient id="g45"><stop offset="0" stop-color="#c2a8f0"/><stop offset="1" stop-color="#d8caf6"/></radialGradient><radialGradient id="g46"><stop offset="0" stop-color="#bea4ee"/><stop offset="1" stop-color="#d4c4f4"/></radialGradient><radialGradient id="g47"><stop offset="0" stop-color="#c6aef0"/><stop offset="1" stop-color="#dacef6"/></radialGradient><radialGradient id="g48"><stop offset="0" stop-color="#cab6f2"/><stop offset="1" stop-color="#ddd2f7"/></radialGradient><radialGradient id="g49"><stop offset="0" stop-color="#dad0f6"/><stop offset="1" stop-color="#e6e0f8"/></radialGradient><radialGradient id="g50"><stop offset="0" stop-color="#b69cec"/><stop offset="1" stop-color="#d4c4f4"/></radialGradient><radialGradient id="g51"><stop offset="0" stop-color="#c6aef0"/><stop offset="1" stop-color="#d8caf6"/></radialGradient><radialGradient id="g52"><stop offset="0" stop-color="#baa0ee"/><stop offset="1" stop-color="#d4c4f4"/></radialGradient><radialGradient id="g53"><stop offset="0" stop-color="#e6e0f8"/><stop offset="1" stop-color="#ece8fa"/></radialGradient></defs>
</svg></body></html>
